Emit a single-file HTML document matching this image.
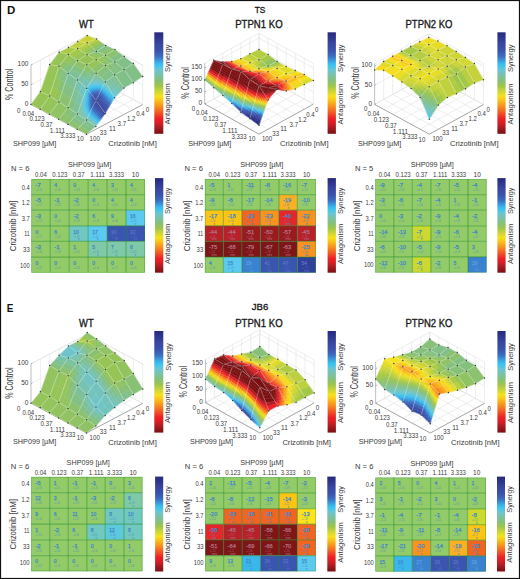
<!DOCTYPE html><html><head><meta charset="utf-8"><style>html,body{margin:0;padding:0;background:#fff;}svg{display:block}.ms{fill:none;stroke:#fff;stroke-opacity:.45;stroke-width:.55}circle{fill:#3a3a3a}.gl{stroke:#1e8c28;stroke-opacity:.45;stroke-width:1.25}</style></head><body>
<svg width="520" height="579" viewBox="0 0 520 579" font-family="Liberation Sans, sans-serif" fill="#3a3a3a">
<defs><linearGradient id="cm" x1="0" y1="0" x2="0" y2="1"><stop offset="0.000" stop-color="#262a7e"/><stop offset="0.045" stop-color="#2d348a"/><stop offset="0.113" stop-color="#3946a0"/><stop offset="0.180" stop-color="#3a53ab"/><stop offset="0.236" stop-color="#3a6dc0"/><stop offset="0.270" stop-color="#3b90d8"/><stop offset="0.304" stop-color="#39b5ea"/><stop offset="0.330" stop-color="#3ec4ef"/><stop offset="0.375" stop-color="#6cc5d0"/><stop offset="0.426" stop-color="#7bc1a5"/><stop offset="0.477" stop-color="#86c07a"/><stop offset="0.528" stop-color="#9cc64a"/><stop offset="0.579" stop-color="#cbd43a"/><stop offset="0.630" stop-color="#f4e21a"/><stop offset="0.667" stop-color="#fbc51a"/><stop offset="0.728" stop-color="#f6921e"/><stop offset="0.789" stop-color="#f15a25"/><stop offset="0.851" stop-color="#ec1f26"/><stop offset="0.882" stop-color="#e01e25"/><stop offset="0.924" stop-color="#b51f25"/><stop offset="0.973" stop-color="#8b1519"/><stop offset="1.000" stop-color="#7a1012"/></linearGradient></defs>
<rect x="0" y="0" width="520" height="579" fill="#fff"/>
<line x1="87.2" y1="74.8" x2="31" y2="104.4" stroke="#dcdcdc" stroke-width="0.5"/>
<line x1="87.2" y1="74.8" x2="142.7" y2="104.6" stroke="#dcdcdc" stroke-width="0.5"/>
<line x1="96.5" y1="79.8" x2="40.2" y2="109.3" stroke="#dcdcdc" stroke-width="0.5"/>
<line x1="77.8" y1="79.7" x2="133.3" y2="109.6" stroke="#dcdcdc" stroke-width="0.5"/>
<line x1="105.7" y1="84.7" x2="49.5" y2="114.3" stroke="#dcdcdc" stroke-width="0.5"/>
<line x1="68.5" y1="84.7" x2="124" y2="114.5" stroke="#dcdcdc" stroke-width="0.5"/>
<line x1="115" y1="89.7" x2="58.7" y2="119.3" stroke="#dcdcdc" stroke-width="0.5"/>
<line x1="59.1" y1="89.6" x2="114.6" y2="119.4" stroke="#dcdcdc" stroke-width="0.5"/>
<line x1="124.2" y1="94.7" x2="68" y2="124.3" stroke="#dcdcdc" stroke-width="0.5"/>
<line x1="49.7" y1="94.5" x2="105.2" y2="124.3" stroke="#dcdcdc" stroke-width="0.5"/>
<line x1="133.4" y1="99.6" x2="77.2" y2="129.2" stroke="#dcdcdc" stroke-width="0.5"/>
<line x1="40.4" y1="99.4" x2="95.8" y2="129.3" stroke="#dcdcdc" stroke-width="0.5"/>
<line x1="142.7" y1="104.6" x2="86.5" y2="134.2" stroke="#dcdcdc" stroke-width="0.5"/>
<line x1="31" y1="104.4" x2="86.5" y2="134.2" stroke="#dcdcdc" stroke-width="0.5"/>
<line x1="87.2" y1="74.8" x2="87.2" y2="35.4" stroke="#dcdcdc" stroke-width="0.5"/>
<line x1="87.2" y1="74.8" x2="87.2" y2="35.4" stroke="#dcdcdc" stroke-width="0.5"/>
<line x1="77.8" y1="79.7" x2="77.8" y2="40.3" stroke="#dcdcdc" stroke-width="0.5"/>
<line x1="96.5" y1="79.8" x2="96.5" y2="40.4" stroke="#dcdcdc" stroke-width="0.5"/>
<line x1="68.5" y1="84.7" x2="68.5" y2="45.3" stroke="#dcdcdc" stroke-width="0.5"/>
<line x1="105.7" y1="84.7" x2="105.7" y2="45.3" stroke="#dcdcdc" stroke-width="0.5"/>
<line x1="59.1" y1="89.6" x2="59.1" y2="50.2" stroke="#dcdcdc" stroke-width="0.5"/>
<line x1="115" y1="89.7" x2="115" y2="50.3" stroke="#dcdcdc" stroke-width="0.5"/>
<line x1="49.7" y1="94.5" x2="49.7" y2="55.1" stroke="#dcdcdc" stroke-width="0.5"/>
<line x1="124.2" y1="94.7" x2="124.2" y2="55.3" stroke="#dcdcdc" stroke-width="0.5"/>
<line x1="40.4" y1="99.4" x2="40.4" y2="60" stroke="#dcdcdc" stroke-width="0.5"/>
<line x1="133.4" y1="99.6" x2="133.4" y2="60.2" stroke="#dcdcdc" stroke-width="0.5"/>
<line x1="31" y1="104.4" x2="31" y2="65" stroke="#dcdcdc" stroke-width="0.5"/>
<line x1="142.7" y1="104.6" x2="142.7" y2="65.2" stroke="#dcdcdc" stroke-width="0.5"/>
<polyline points="31,104.4 87.2,74.8 142.7,104.6" fill="none" stroke="#dcdcdc" stroke-width="0.5"/>
<polyline points="31,84.7 87.2,55.1 142.7,84.9" fill="none" stroke="#dcdcdc" stroke-width="0.5"/>
<polyline points="31,65 87.2,35.4 142.7,65.2" fill="none" stroke="#dcdcdc" stroke-width="0.5"/>
<polyline points="31,65 87.2,35.4 142.7,65.2" fill="none" stroke="#dcdcdc" stroke-width="0.5"/>
<line x1="31" y1="104.4" x2="31" y2="65" stroke="#b0b0b0" stroke-width="0.7"/>
<polyline points="31,104.4 86.5,134.2 142.7,104.6" fill="none" stroke="#8a8a8a" stroke-width="0.7"/>
<g stroke-linejoin="round" stroke-width="0.45">
<path d="M87.2 35.4l9.3 3.5-9.4 3.9-9.3-1.2z" fill="#cad43a" stroke="#cad43a"/>
<path d="M87.2 35.4l3.1 1.2 3.1 1.1 3.1 1.2-3.2 1.3-3.1 1.3-3.1 1.3-3.1-.4-3.1-.4-3.1-.4 3.2-2 3.1-2.1z" class="ms"/>
<circle cx="87.2" cy="35.4" r="0.75"/>
<path d="M77.8 41.6l9.3 1.2-9.4 5.7-9.2-1z" fill="#c0d13e" stroke="#c0d13e"/>
<path d="M77.8 41.6l3.1 .4 3.1 .4 3.1 .4-3.1 1.9-3.2 1.9-3.1 1.9-3.1-.3-3.1-.4-3-.3 3.1-2 3.1-1.9z" class="ms"/>
<circle cx="77.8" cy="41.6" r="0.75"/>
<path d="M96.5 38.9l2.3 1.7-9.4 4.4-2.3-2.2z" fill="#bccf3f" stroke="#bccf3f"/>
<path d="M98.8 40.6l2.3 1.6-9.4 5-2.3-2.2z" fill="#a0c749" stroke="#a0c749"/>
<path d="M101.1 42.2l2.3 1.7-9.4 5.5-2.3-2.2z" fill="#91c363" stroke="#91c363"/>
<path d="M103.4 43.9l2.3 1.6-9.4 6.1-2.3-2.2z" fill="#85c07f" stroke="#85c07f"/>
<path d="M96.5 38.9l3 2.2 3.1 2.2 3.1 2.2-3.1 2-3.1 2.1-3.2 2-3.1-2.9-3-3-3.1-2.9 3.1-1.3 3.1-1.3z" class="ms"/>
<circle cx="96.5" cy="38.9" r="0.75"/>
<path d="M68.5 47.5l9.2 1-9.4 6-9.2-2.3z" fill="#abcb45" stroke="#abcb45"/>
<path d="M68.5 47.5l3 .3 3.1 .4 3.1 .3-3.1 2-3.1 2-3.2 2-3-.8-3.1-.7-3.1-.8 3.1-1.6 3.1-1.5z" class="ms"/>
<circle cx="68.5" cy="47.5" r="0.75"/>
<path d="M87.1 42.8l2.3 2.2-3.1 1.7-2.3-2z" fill="#bacf40" stroke="#bacf40"/>
<path d="M89.4 45l2.3 2.2-3.1 1.5-2.3-2z" fill="#a1c748" stroke="#a1c748"/>
<path d="M84 44.7l2.3 2-3.2 1.7-2.3-1.8z" fill="#b6ce41" stroke="#b6ce41"/>
<path d="M91.7 47.2l2.3 2.2-3.1 1.3-2.3-2z" fill="#92c35f" stroke="#92c35f"/>
<path d="M86.3 46.7l2.3 2-3.1 1.5-2.4-1.8z" fill="#a3c848" stroke="#a3c848"/>
<path d="M80.8 46.6l2.3 1.8-3.1 1.7-2.3-1.6z" fill="#b2cd42" stroke="#b2cd42"/>
<path d="M94 49.4l2.3 2.2-3.1 1.1-2.3-2z" fill="#87c079" stroke="#87c079"/>
<path d="M88.6 48.7l2.3 2-3.1 1.3-2.3-1.8z" fill="#96c457" stroke="#96c457"/>
<path d="M83.1 48.4l2.4 1.8-3.2 1.5-2.3-1.6z" fill="#a5c947" stroke="#a5c947"/>
<path d="M90.9 50.7l2.3 2-3.1 1-2.3-1.7z" fill="#8dc26a" stroke="#8dc26a"/>
<path d="M85.5 50.2l2.3 1.8-3.2 1.2-2.3-1.5z" fill="#9ac54e" stroke="#9ac54e"/>
<path d="M87.8 52l2.3 1.7-3.1 1.1-2.4-1.6z" fill="#94c45c" stroke="#94c45c"/>
<path d="M87.1 42.8l3.1 2.9 3 3 3.1 2.9-3.1 1.1-3.1 1-3.1 1.1-3.1-2.1-3.1-2.1-3.1-2.1 3.1-1.9 3.2-1.9z" class="ms"/>
<circle cx="87.1" cy="42.8" r="0.75"/>
<path d="M105.7 45.5l4.6 2-9.3 5.9-4.7-1.8z" fill="#84c083" stroke="#84c083"/>
<path d="M110.3 47.5l4.7 2.1-9.4 5.6-4.6-1.8z" fill="#8bc16f" stroke="#8bc16f"/>
<path d="M105.7 45.5l3.1 1.4 3.1 1.3 3.1 1.4-3.2 1.9-3.1 1.8-3.1 1.9-3.1-1.2-3.1-1.2-3.1-1.2 3.2-2 3.1-2.1z" class="ms"/>
<circle cx="105.7" cy="45.5" r="0.75"/>
<path d="M59.1 52.2l9.2 2.3-9.3 11.8-9.3-1.7z" fill="#97c555" stroke="#97c555"/>
<path d="M59.1 52.2l3.1 .8 3.1 .7 3 .8-3.1 3.9-3.1 4-3.1 3.9-3.1-.6-3.1-.5-3.1-.6 3.1-4.1 3.2-4.2z" class="ms"/>
<circle cx="59.1" cy="52.2" r="0.75"/>
<path d="M77.7 48.5l4.6 3.2-9.3 5.9-4.7-3.1z" fill="#a2c848" stroke="#a2c848"/>
<path d="M82.3 51.7l4.7 3.1-9.4 5.9-4.6-3.1z" fill="#97c556" stroke="#97c556"/>
<path d="M77.7 48.5l3.1 2.1 3.1 2.1 3.1 2.1-3.2 2-3.1 1.9-3.1 2-3.1-2.1-3.1-2-3.1-2.1 3.2-2 3.1-2z" class="ms"/>
<circle cx="77.7" cy="48.5" r="0.75"/>
<path d="M96.3 51.6l4.7 1.8-4.7 1.9-4.7-2.1z" fill="#87c079" stroke="#87c079"/>
<path d="M101 53.4l4.6 1.8-4.7 2.2-4.6-2.1z" fill="#8ec268" stroke="#8ec268"/>
<path d="M91.6 53.2l4.7 2.1-4.7 2-4.6-2.5z" fill="#91c362" stroke="#91c362"/>
<path d="M96.3 55.3l4.6 2.1-4.7 2.3-4.6-2.4z" fill="#95c459" stroke="#95c459"/>
<path d="M96.3 51.6l3.1 1.2 3.1 1.2 3.1 1.2-3.1 1.5-3.2 1.5-3.1 1.5-3.1-1.6-3.1-1.7-3-1.6 3.1-1.1 3.1-1z" class="ms"/>
<circle cx="96.3" cy="51.6" r="0.75"/>
<path d="M115 49.6l4.6 3.5-9.4 5.5-4.6-3.4z" fill="#8bc16f" stroke="#8bc16f"/>
<path d="M119.6 53.1l4.6 3.4-9.4 5.5-4.6-3.4z" fill="#84c083" stroke="#84c083"/>
<path d="M115 49.6l3 2.3 3.1 2.3 3.1 2.3-3.1 1.8-3.1 1.9-3.2 1.8-3.1-2.3-3-2.2-3.1-2.3 3.1-1.9 3.1-1.8z" class="ms"/>
<circle cx="115" cy="49.6" r="0.75"/>
<path d="M49.7 64.6l9.3 1.7-9.4 29.8-9.2-4.7z" fill="#97c555" stroke="#97c555"/>
<path d="M49.7 64.6l3.1 .6 3.1 .5 3.1 .6-3.2 9.9-3.1 10-3.1 9.9-3.1-1.6-3.1-1.5-3-1.6 3.1-8.9 3.1-9z" class="ms"/>
<circle cx="49.7" cy="64.6" r="0.75"/>
<path d="M68.3 54.5l4.7 3.1-4.7 6.2-4.6-3.4z" fill="#96c457" stroke="#96c457"/>
<path d="M73 57.6l4.6 3.1-4.7 6.4-4.6-3.3z" fill="#8dc26a" stroke="#8dc26a"/>
<path d="M63.7 60.4l4.6 3.4-4.7 6.2-4.6-3.7z" fill="#8dc26a" stroke="#8dc26a"/>
<path d="M68.3 63.8l4.6 3.3-4.7 6.5-4.6-3.6z" fill="#83c084" stroke="#83c084"/>
<path d="M68.3 54.5l3.1 2.1 3.1 2 3.1 2.1-3.1 4.3-3.2 4.3-3.1 4.3-3.1-2.4-3-2.5-3.1-2.4 3.1-3.9 3.1-4z" class="ms"/>
<circle cx="68.3" cy="54.5" r="0.75"/>
<path d="M87 54.8l9.2 4.9-9.4 5.1-9.2-4.1z" fill="#96c457" stroke="#96c457"/>
<path d="M87 54.8l3 1.6 3.1 1.7 3.1 1.6-3.1 1.7-3.1 1.7-3.2 1.7-3-1.4-3.1-1.4-3.1-1.3 3.1-2 3.1-1.9z" class="ms"/>
<circle cx="87" cy="54.8" r="0.75"/>
<path d="M105.6 55.2l4.6 3.4-4.7 2-4.6-3.2z" fill="#8ec268" stroke="#8ec268"/>
<path d="M110.2 58.6l4.6 3.4-4.7 1.7-4.6-3.1z" fill="#86c07b" stroke="#86c07b"/>
<path d="M100.9 57.4l4.6 3.2-4.7 2-4.6-2.9z" fill="#94c45b" stroke="#94c45b"/>
<path d="M105.5 60.6l4.6 3.1-4.6 1.8-4.7-2.9z" fill="#8ec268" stroke="#8ec268"/>
<path d="M105.6 55.2l3.1 2.3 3 2.2 3.1 2.3-3.1 1.2-3.1 1.1-3.1 1.2-3.1-1.9-3.1-2-3.1-1.9 3.1-1.5 3.2-1.5z" class="ms"/>
<circle cx="105.6" cy="55.2" r="0.75"/>
<path d="M124.2 56.5l9.2 7-9.3 6.1-9.3-7.6z" fill="#83c087" stroke="#83c087"/>
<path d="M124.2 56.5l3.1 2.3 3.1 2.4 3 2.3-3.1 2-3.1 2.1-3.1 2-3.1-2.5-3.1-2.6-3.1-2.5 3.2-1.8 3.1-1.9z" class="ms"/>
<circle cx="124.2" cy="56.5" r="0.75"/>
<path d="M40.4 91.4l9.2 4.7-9.4 13.2-9.2-4.9z" fill="#97c555" stroke="#97c555"/>
<path d="M40.4 91.4l3 1.6 3.1 1.5 3.1 1.6-3.1 4.4-3.1 4.4-3.2 4.4-3.1-1.6-3-1.7-3.1-1.6 3.1-4.3 3.1-4.4z" class="ms"/>
<circle cx="40.4" cy="91.4" r="0.75"/>
<circle cx="31" cy="104.4" r="0.75"/>
<path d="M59 66.3l4.6 3.7-3.1 9.6-4.7-3.4z" fill="#8cc26d" stroke="#8cc26d"/>
<path d="M55.8 76.2l4.7 3.4-3.2 9.7-4.6-3.1z" fill="#92c35f" stroke="#92c35f"/>
<path d="M63.6 70l4.6 3.6-3.1 9.4-4.6-3.4z" fill="#83c087" stroke="#83c087"/>
<path d="M52.7 86.2l4.6 3.1-3.1 9.7-4.6-2.9z" fill="#99c551" stroke="#99c551"/>
<path d="M60.5 79.6l4.6 3.4-3.1 9.5-4.7-3.2z" fill="#89c174" stroke="#89c174"/>
<path d="M57.3 89.3l4.7 3.2-3.1 9.4-4.7-2.9z" fill="#92c35f" stroke="#92c35f"/>
<path d="M59 66.3l3.1 2.4 3 2.5 3.1 2.4-3.1 9.4-3.1 9.5-3.1 9.4-3.1-1.9-3.1-2-3.1-1.9 3.1-9.9 3.1-10z" class="ms"/>
<circle cx="59" cy="66.3" r="0.75"/>
<path d="M77.6 60.7l9.2 4.1-3.1 5.1-9.2-4.9z" fill="#8fc267" stroke="#8fc267"/>
<path d="M74.5 65l9.2 4.9-3.1 5-9.3-5.6z" fill="#84c080" stroke="#84c080"/>
<path d="M71.3 69.3l9.3 5.6-3.1 5.1-9.3-6.4z" fill="#7ec198" stroke="#7ec198"/>
<path d="M77.6 60.7l3.1 1.3 3.1 1.4 3 1.4-3.1 5.1-3.1 5-3.1 5.1-3.1-2.1-3.1-2.2-3.1-2.1 3.1-4.3 3.2-4.3z" class="ms"/>
<circle cx="77.6" cy="60.7" r="0.75"/>
<path d="M96.2 59.7l4.6 2.9-9.3 6.4-4.7-4.2z" fill="#95c459" stroke="#95c459"/>
<path d="M100.8 62.6l4.7 2.9-9.4 7.8-4.6-4.3z" fill="#8dc26b" stroke="#8dc26b"/>
<path d="M96.2 59.7l3.1 1.9 3.1 2 3.1 1.9-3.2 2.6-3.1 2.6-3.1 2.6-3.1-2.8-3.1-2.9-3.1-2.8 3.2-1.7 3.1-1.7z" class="ms"/>
<circle cx="96.2" cy="59.7" r="0.75"/>
<path d="M114.8 62l4.7 3.8-4.7 2.2-4.7-4.3z" fill="#84c083" stroke="#84c083"/>
<path d="M119.5 65.8l4.6 3.8-4.7 2.6-4.6-4.2z" fill="#83c084" stroke="#83c084"/>
<path d="M110.1 63.7l4.7 4.3-4.7 2.1-4.6-4.6z" fill="#88c076" stroke="#88c076"/>
<path d="M114.8 68l4.6 4.2-4.7 2.6-4.6-4.7z" fill="#84c083" stroke="#84c083"/>
<path d="M114.8 62l3.1 2.5 3.1 2.6 3.1 2.5-3.1 1.7-3.2 1.8-3.1 1.7-3.1-3.1-3.1-3.1-3-3.1 3.1-1.2 3.1-1.1z" class="ms"/>
<circle cx="114.8" cy="62" r="0.75"/>
<path d="M133.4 63.5l9.3 13-9.4 6.3-9.2-13.2z" fill="#83c087" stroke="#83c087"/>
<path d="M133.4 63.5l3.1 4.3 3.1 4.4 3.1 4.3-3.1 2.1-3.1 2.1-3.2 2.1-3.1-4.4-3-4.4-3.1-4.4 3.1-2 3.1-2.1z" class="ms"/>
<circle cx="133.4" cy="63.5" r="0.75"/>
<circle cx="142.7" cy="76.5" r="0.75"/>
<path d="M49.6 96.1l9.3 5.8-9.4 12.4-9.3-5z" fill="#95c45a" stroke="#95c45a"/>
<path d="M49.6 96.1l3.1 1.9 3.1 2 3.1 1.9-3.2 4.1-3.1 4.2-3.1 4.1-3.1-1.6-3.1-1.7-3.1-1.7 3.2-4.4 3.1-4.4z" class="ms"/>
<circle cx="49.6" cy="96.1" r="0.75"/>
<circle cx="40.2" cy="109.3" r="0.75"/>
<path d="M68.2 73.6l9.3 6.4-3.2 9.2-9.2-6.2z" fill="#7ec199" stroke="#7ec199"/>
<path d="M65.1 83l9.2 6.2-3.1 9.3-9.2-6z" fill="#83c085" stroke="#83c085"/>
<path d="M62 92.5l9.2 6-3.1 9.2-9.2-5.8z" fill="#8bc170" stroke="#8bc170"/>
<path d="M68.2 73.6l3.1 2.1 3.1 2.2 3.1 2.1-3.2 9.2-3.1 9.3-3.1 9.2-3.1-1.9-3.1-2-3-1.9 3.1-9.4 3.1-9.5z" class="ms"/>
<circle cx="68.2" cy="73.6" r="0.75"/>
<path d="M86.8 64.8l4.7 4.2-3.2 5.1-4.6-4.2z" fill="#8cc26c" stroke="#8cc26c"/>
<path d="M83.7 69.9l4.6 4.2-3.1 5-4.6-4.2z" fill="#82c08a" stroke="#82c08a"/>
<path d="M91.5 69l4.6 4.3-3.1 5-4.7-4.2z" fill="#83c085" stroke="#83c085"/>
<path d="M80.6 74.9l4.6 4.2-3.1 5.1-4.6-4.2z" fill="#7bc1a6" stroke="#7bc1a6"/>
<path d="M88.3 74.1l4.7 4.2-3.2 5-4.6-4.2z" fill="#7cc1a1" stroke="#7cc1a1"/>
<path d="M85.2 79.1l4.6 4.2-3.1 5-4.6-4.1z" fill="#73c3bd" stroke="#73c3bd"/>
<path d="M86.8 64.8l3.1 2.8 3.1 2.9 3.1 2.8-3.1 5-3.2 5-3.1 5-3.1-2.8-3-2.7-3.1-2.8 3.1-5.1 3.1-5z" class="ms"/>
<circle cx="86.8" cy="64.8" r="0.75"/>
<path d="M105.5 65.5l4.6 4.6-9.4 7.5-4.6-4.3z" fill="#86c07c" stroke="#86c07c"/>
<path d="M110.1 70.1l4.6 4.7-9.4 7.1-4.6-4.3z" fill="#82c08a" stroke="#82c08a"/>
<path d="M105.5 65.5l3 3.1 3.1 3.1 3.1 3.1-3.1 2.4-3.1 2.3-3.2 2.4-3-2.9-3.1-2.8-3.1-2.9 3.1-2.6 3.1-2.6z" class="ms"/>
<circle cx="105.5" cy="65.5" r="0.75"/>
<path d="M124.1 69.6l9.2 13.2-9.3 5.2-9.3-13.2z" fill="#82c08a" stroke="#82c08a"/>
<path d="M124.1 69.6l3.1 4.4 3 4.4 3.1 4.4-3.1 1.7-3.1 1.8-3.1 1.7-3.1-4.4-3.1-4.4-3.1-4.4 3.1-1.7 3.2-1.8z" class="ms"/>
<circle cx="124.1" cy="69.6" r="0.75"/>
<circle cx="133.3" cy="82.8" r="0.75"/>
<path d="M58.9 101.9l9.2 5.8-9.4 11.6-9.2-5z" fill="#90c364" stroke="#90c364"/>
<path d="M58.9 101.9l3 1.9 3.1 2 3.1 1.9-3.1 3.9-3.1 3.8-3.2 3.9-3.1-1.7-3-1.6-3.1-1.7 3.1-4.1 3.1-4.2z" class="ms"/>
<circle cx="58.9" cy="101.9" r="0.75"/>
<circle cx="49.5" cy="114.3" r="0.75"/>
<path d="M77.5 80l4.6 4.2-3.1 8.9-4.7-3.9z" fill="#79c1aa" stroke="#79c1aa"/>
<path d="M74.3 89.2l4.7 3.9-3.2 8.9-4.6-3.5z" fill="#7fc197" stroke="#7fc197"/>
<path d="M82.1 84.2l4.6 4.1-3.1 8.6-4.6-3.8z" fill="#71c4c1" stroke="#71c4c1"/>
<path d="M71.2 98.5l4.6 3.5-3.1 8.9-4.6-3.2z" fill="#84c083" stroke="#84c083"/>
<path d="M79 93.1l4.6 3.8-3.1 8.5-4.7-3.4z" fill="#79c2ac" stroke="#79c2ac"/>
<path d="M75.8 102l4.7 3.4-3.1 8.6-4.7-3.1z" fill="#7fc197" stroke="#7fc197"/>
<path d="M77.5 80l3.1 2.8 3 2.7 3.1 2.8-3.1 8.6-3.1 8.5-3.1 8.6-3.1-2.1-3.1-2.1-3.1-2.1 3.1-9.2 3.1-9.3z" class="ms"/>
<circle cx="77.5" cy="80" r="0.75"/>
<path d="M96.1 73.3l1 1-.8 1.4-1.1-1z" fill="#82c088" stroke="#82c088"/>
<path d="M95.2 74.7l1.1 1-.9 1.4-1-1.1z" fill="#80c191" stroke="#80c191"/>
<path d="M97.1 74.3l1 .9-.8 1.4-1-.9z" fill="#82c08b" stroke="#82c08b"/>
<path d="M94.4 76l1 1.1-.8 1.4-1.1-1.1z" fill="#7ec19a" stroke="#7ec19a"/>
<path d="M96.3 75.7l1 .9-.9 1.5-1-1z" fill="#7fc196" stroke="#7fc196"/>
<path d="M98.1 75.2l1.1 1-.9 1.4-1-1z" fill="#81c08f" stroke="#81c08f"/>
<path d="M93.5 77.4l1.1 1.1-.9 1.4-1-1.1z" fill="#7cc1a3" stroke="#7cc1a3"/>
<path d="M95.4 77.1l1 1-.8 1.4-1-1z" fill="#7cc1a2" stroke="#7cc1a2"/>
<path d="M97.3 76.6l1 1-.8 1.5-1.1-1z" fill="#7dc19c" stroke="#7dc19c"/>
<path d="M99.2 76.2l1 .9-.9 1.5-1-1z" fill="#80c192" stroke="#80c192"/>
<path d="M92.7 78.8l1 1.1-.8 1.4-1.1-1.2z" fill="#79c2ab" stroke="#79c2ab"/>
<path d="M94.6 78.5l1 1-.9 1.5-1-1.1z" fill="#78c2ad" stroke="#78c2ad"/>
<path d="M96.4 78.1l1.1 1-.9 1.5-1-1.1z" fill="#7ac1a9" stroke="#7ac1a9"/>
<path d="M98.3 77.6l1 1-.8 1.5-1-1z" fill="#7cc1a1" stroke="#7cc1a1"/>
<path d="M100.2 77.1l1 1-.8 1.5-1.1-1z" fill="#7fc195" stroke="#7fc195"/>
<path d="M91.8 80.1l1.1 1.2-.9 1.4-1-1.2z" fill="#76c2b4" stroke="#76c2b4"/>
<path d="M93.7 79.9l1 1.1-.8 1.4-1-1.1z" fill="#74c3b8" stroke="#74c3b8"/>
<path d="M95.6 79.5l1 1.1-.8 1.5-1.1-1.1z" fill="#75c3b7" stroke="#75c3b7"/>
<path d="M97.5 79.1l1 1-.9 1.5-1-1z" fill="#77c2b1" stroke="#77c2b1"/>
<path d="M99.3 78.6l1.1 1-.9 1.6-1-1.1z" fill="#7ac1a7" stroke="#7ac1a7"/>
<path d="M91 81.5l1 1.2-.8 1.4-1.1-1.2z" fill="#73c3bd" stroke="#73c3bd"/>
<path d="M101.2 78.1l1.1 .9-.9 1.6-1-1z" fill="#7ec198" stroke="#7ec198"/>
<path d="M92.9 81.3l1 1.1-.9 1.4-1-1.1z" fill="#71c4c3" stroke="#71c4c3"/>
<path d="M94.7 81l1.1 1.1-.9 1.4-1-1.1z" fill="#70c4c4" stroke="#70c4c4"/>
<path d="M96.6 80.6l1 1-.8 1.5-1-1z" fill="#71c4c1" stroke="#71c4c1"/>
<path d="M98.5 80.1l1 1.1-.8 1.5-1.1-1.1z" fill="#74c3b9" stroke="#74c3b9"/>
<path d="M90.1 82.9l1.1 1.2-.9 1.4-1-1.3z" fill="#70c4c6" stroke="#70c4c6"/>
<path d="M100.4 79.6l1 1-.8 1.6-1.1-1z" fill="#78c2ac" stroke="#78c2ac"/>
<path d="M92 82.7l1 1.1-.8 1.5-1-1.2z" fill="#6dc5ce" stroke="#6dc5ce"/>
<path d="M102.3 79l1 1-.9 1.6-1-1z" fill="#7dc19b" stroke="#7dc19b"/>
<path d="M93.9 82.4l1 1.1-.8 1.5-1.1-1.2z" fill="#6ac5d1" stroke="#6ac5d1"/>
<path d="M95.8 82.1l1 1-.9 1.6-1-1.2z" fill="#6cc5d0" stroke="#6cc5d0"/>
<path d="M97.6 81.6l1.1 1.1-.9 1.5-1-1.1z" fill="#6ec5cb" stroke="#6ec5cb"/>
<path d="M89.3 84.2l1 1.3-.8 1.4-1.1-1.3z" fill="#6dc5cf" stroke="#6dc5cf"/>
<path d="M99.5 81.2l1.1 1-.9 1.6-1-1.1z" fill="#71c4c1" stroke="#71c4c1"/>
<path d="M91.2 84.1l1 1.2-.9 1.4-1-1.2z" fill="#61c5d7" stroke="#61c5d7"/>
<path d="M101.4 80.6l1 1-.8 1.6-1-1z" fill="#77c2b2" stroke="#77c2b2"/>
<path d="M93 83.8l1.1 1.2-.9 1.5-1-1.2z" fill="#5ac5dc" stroke="#5ac5dc"/>
<path d="M103.3 80l1 .9-.8 1.7-1.1-1z" fill="#7dc19f" stroke="#7dc19f"/>
<path d="M94.9 83.5l1 1.2-.8 1.5-1-1.2z" fill="#59c5dd" stroke="#59c5dd"/>
<path d="M96.8 83.1l1 1.1-.8 1.6-1.1-1.1z" fill="#5dc5da" stroke="#5dc5da"/>
<path d="M88.4 85.6l1.1 1.3-.9 1.4-1-1.3z" fill="#63c5d6" stroke="#63c5d6"/>
<path d="M98.7 82.7l1 1.1-.9 1.5-1-1.1z" fill="#66c5d4" stroke="#66c5d4"/>
<path d="M90.3 85.5l1 1.2-.8 1.4-1-1.2z" fill="#54c4e0" stroke="#54c4e0"/>
<path d="M100.6 82.2l1 1-.9 1.6-1-1z" fill="#6fc4c8" stroke="#6fc4c8"/>
<path d="M92.2 85.3l1 1.2-.8 1.4-1.1-1.2z" fill="#4ac4e7" stroke="#4ac4e7"/>
<path d="M102.4 81.6l1.1 1-.9 1.6-1-1z" fill="#75c3b7" stroke="#75c3b7"/>
<path d="M94.1 85l1 1.2-.9 1.5-1-1.2z" fill="#46c4ea" stroke="#46c4ea"/>
<path d="M104.3 80.9l1 1-.8 1.7-1-1z" fill="#7cc1a2" stroke="#7cc1a2"/>
<path d="M95.9 84.7l1.1 1.1-.9 1.5-1-1.1z" fill="#47c4e9" stroke="#47c4e9"/>
<path d="M87.6 87l1 1.3-.9 1.4-1-1.4z" fill="#58c5dd" stroke="#58c5dd"/>
<path d="M97.8 84.2l1 1.1-.8 1.6-1-1.1z" fill="#4ec4e4" stroke="#4ec4e4"/>
<path d="M89.5 86.9l1 1.2-.9 1.5-1-1.3z" fill="#46c4e9" stroke="#46c4e9"/>
<path d="M99.7 83.8l1 1-.8 1.6-1.1-1.1z" fill="#5ac5dc" stroke="#5ac5dc"/>
<path d="M91.3 86.7l1.1 1.2-.9 1.5-1-1.3z" fill="#3dc2ee" stroke="#3dc2ee"/>
<path d="M101.6 83.2l1 1-.8 1.7-1.1-1.1z" fill="#6cc5d0" stroke="#6cc5d0"/>
<path d="M93.2 86.5l1 1.2-.8 1.5-1-1.3z" fill="#3cbeed" stroke="#3cbeed"/>
<path d="M103.5 82.6l1 1-.9 1.7-1-1.1z" fill="#73c3bd" stroke="#73c3bd"/>
<path d="M95.1 86.2l1 1.1-.8 1.6-1.1-1.2z" fill="#3cbded" stroke="#3cbded"/>
<path d="M97 85.8l1 1.1-.9 1.6-1-1.2z" fill="#3cbfed" stroke="#3cbfed"/>
<path d="M88.6 88.3l1 1.3-.8 1.4-1.1-1.3z" fill="#3dc1ee" stroke="#3dc1ee"/>
<path d="M98.8 85.3l1.1 1.1-.9 1.7-1-1.2z" fill="#3fc4ee" stroke="#3fc4ee"/>
<path d="M90.5 88.1l1 1.3-.8 1.5-1.1-1.3z" fill="#3ab9eb" stroke="#3ab9eb"/>
<path d="M100.7 84.8l1.1 1.1-.9 1.6-1-1.1z" fill="#4ec4e4" stroke="#4ec4e4"/>
<path d="M92.4 87.9l1 1.3-.9 1.5-1-1.3z" fill="#39b1e8" stroke="#39b1e8"/>
<path d="M102.6 84.2l1 1.1-.8 1.6-1-1z" fill="#63c5d6" stroke="#63c5d6"/>
<path d="M94.2 87.7l1.1 1.2-.9 1.5-1-1.2z" fill="#39ade6" stroke="#39ade6"/>
<path d="M96.1 87.3l1 1.2-.8 1.6-1-1.2z" fill="#39aee7" stroke="#39aee7"/>
<path d="M98 86.9l1 1.2-.8 1.6-1.1-1.2z" fill="#39b5ea" stroke="#39b5ea"/>
<path d="M89.6 89.6l1.1 1.3-.9 1.5-1-1.4z" fill="#3aaae5" stroke="#3aaae5"/>
<path d="M99.9 86.4l1 1.1-.8 1.7-1.1-1.1z" fill="#3bbcec" stroke="#3bbcec"/>
<path d="M91.5 89.4l1 1.3-.8 1.5-1-1.3z" fill="#3a9dde" stroke="#3a9dde"/>
<path d="M101.8 85.9l1 1-.9 1.7-1-1.1z" fill="#42c4ec" stroke="#42c4ec"/>
<path d="M93.4 89.2l1 1.2-.8 1.6-1.1-1.3z" fill="#3b96db" stroke="#3b96db"/>
<path d="M95.3 88.9l1 1.2-.9 1.6-1-1.3z" fill="#3b94da" stroke="#3b94da"/>
<path d="M97.1 88.5l1.1 1.2-.9 1.6-1-1.2z" fill="#3b98dc" stroke="#3b98dc"/>
<path d="M99 88.1l1.1 1.1-.9 1.6-1-1.1z" fill="#3aa3e1" stroke="#3aa3e1"/>
<path d="M90.7 90.9l1 1.3-.9 1.5-1-1.3z" fill="#3b89d3" stroke="#3b89d3"/>
<path d="M100.9 87.5l1 1.1-.8 1.7-1-1.1z" fill="#39b3e9" stroke="#39b3e9"/>
<path d="M92.5 90.7l1.1 1.3-.9 1.5-1-1.3z" fill="#3b80cd" stroke="#3b80cd"/>
<path d="M94.4 90.4l1 1.3-.8 1.5-1-1.2z" fill="#3a7bca" stroke="#3a7bca"/>
<path d="M96.3 90.1l1 1.2-.8 1.6-1.1-1.2z" fill="#3a7dcb" stroke="#3a7dcb"/>
<path d="M98.2 89.7l1 1.1-.9 1.7-1-1.2z" fill="#3b83cf" stroke="#3b83cf"/>
<path d="M100.1 89.2l1 1.1-.9 1.7-1-1.2z" fill="#3b90d8" stroke="#3b90d8"/>
<path d="M91.7 92.2l1 1.3-.8 1.5-1.1-1.3z" fill="#3a6cbf" stroke="#3a6cbf"/>
<path d="M93.6 92l1 1.2-.9 1.6-1-1.3z" fill="#3a68bc" stroke="#3a68bc"/>
<path d="M95.4 91.7l1.1 1.2-.9 1.6-1-1.3z" fill="#3a68bc" stroke="#3a68bc"/>
<path d="M97.3 91.3l1 1.2-.8 1.6-1-1.2z" fill="#3a69bd" stroke="#3a69bd"/>
<path d="M99.2 90.8l1 1.2-.8 1.7-1.1-1.2z" fill="#3a6fc1" stroke="#3a6fc1"/>
<path d="M92.7 93.5l1 1.3-.8 1.6-1-1.4z" fill="#3a5db3" stroke="#3a5db3"/>
<path d="M94.6 93.2l1 1.3-.8 1.6-1.1-1.3z" fill="#3a5bb2" stroke="#3a5bb2"/>
<path d="M96.5 92.9l1 1.2-.9 1.7-1-1.3z" fill="#3a5cb2" stroke="#3a5cb2"/>
<path d="M98.3 92.5l1.1 1.2-.9 1.7-1-1.3z" fill="#3a5fb5" stroke="#3a5fb5"/>
<path d="M93.7 94.8l1.1 1.3-.9 1.6-1-1.3z" fill="#3a51aa" stroke="#3a51aa"/>
<path d="M95.6 94.5l1 1.3-.8 1.6-1-1.3z" fill="#3a51a9" stroke="#3a51a9"/>
<path d="M97.5 94.1l1 1.3-.8 1.7-1.1-1.3z" fill="#3a52aa" stroke="#3a52aa"/>
<path d="M94.8 96.1l1 1.3-.9 1.7-1-1.4z" fill="#394ba5" stroke="#394ba5"/>
<path d="M96.6 95.8l1.1 1.3-.9 1.6-1-1.3z" fill="#394ca5" stroke="#394ca5"/>
<path d="M95.8 97.4l1 1.3-.8 1.7-1.1-1.3z" fill="#38459f" stroke="#38459f"/>
<path d="M96.1 73.3l3.1 2.9 3.1 2.8 3 2.9-3.1 6.2-3.1 6.1-3.1 6.2-3.1-4-3.1-4-3.1-4.1 3.1-5 3.2-5z" class="ms"/>
<circle cx="96.1" cy="73.3" r="0.75"/>
<path d="M114.7 74.8l3.1 4.4-2.3 2-3.1-4.6z" fill="#81c08f" stroke="#81c08f"/>
<path d="M112.4 76.6l3.1 4.6-2.4 2-3.1-4.9z" fill="#7fc195" stroke="#7fc195"/>
<path d="M117.8 79.2l3.1 4.4-2.4 2.2-3-4.6z" fill="#80c193" stroke="#80c193"/>
<path d="M110 78.3l3.1 4.9-2.3 2-3.1-5.1z" fill="#7ec19b" stroke="#7ec19b"/>
<path d="M115.5 81.2l3 4.6-2.3 2.3-3.1-4.9z" fill="#7cc19f" stroke="#7cc19f"/>
<path d="M120.9 83.6l3.1 4.4-2.4 2.5-3.1-4.7z" fill="#7fc196" stroke="#7fc196"/>
<path d="M107.7 80.1l3.1 5.1-2.4 2-3.1-5.3z" fill="#7cc1a1" stroke="#7cc1a1"/>
<path d="M113.1 83.2l3.1 4.9-2.4 2.2-3-5.1z" fill="#78c2ac" stroke="#78c2ac"/>
<path d="M118.5 85.8l3.1 4.7-2.3 2.4-3.1-4.8z" fill="#79c1aa" stroke="#79c1aa"/>
<path d="M110.8 85.2l3 5.1-2.3 2.2-3.1-5.3z" fill="#74c3b9" stroke="#74c3b9"/>
<path d="M116.2 88.1l3.1 4.8-2.4 2.5-3.1-5.1z" fill="#72c3be" stroke="#72c3be"/>
<path d="M113.8 90.3l3.1 5.1-2.3 2.4-3.1-5.3z" fill="#6ac5d1" stroke="#6ac5d1"/>
<path d="M114.7 74.8l3.1 4.4 3.1 4.4 3.1 4.4-3.2 3.3-3.1 3.2-3.1 3.3-3.1-5.3-3.1-5.3-3.1-5.3 3.2-2.4 3.1-2.3z" class="ms"/>
<circle cx="114.7" cy="74.8" r="0.75"/>
<circle cx="124" cy="88" r="0.75"/>
<path d="M68.1 107.7l4.6 3.2-4.7 5.4-4.6-2.8z" fill="#89c174" stroke="#89c174"/>
<path d="M72.7 110.9l4.7 3.1-4.7 5.1-4.7-2.8z" fill="#84c083" stroke="#84c083"/>
<path d="M63.4 113.5l4.6 2.8-4.6 5.5-4.7-2.5z" fill="#8ec26a" stroke="#8ec26a"/>
<path d="M68 116.3l4.7 2.8-4.7 5.2-4.6-2.5z" fill="#8bc16f" stroke="#8bc16f"/>
<path d="M68.1 107.7l3.1 2.1 3.1 2.1 3.1 2.1-3.2 3.4-3.1 3.4-3.1 3.5-3.1-1.7-3.1-1.7-3.1-1.6 3.2-3.9 3.1-3.8z" class="ms"/>
<circle cx="68.1" cy="107.7" r="0.75"/>
<circle cx="58.7" cy="119.3" r="0.75"/>
<path d="M86.7 88.3l1 1.4-.8 2.2-1-1.2z" fill="#57c5de" stroke="#57c5de"/>
<path d="M85.9 90.7l1 1.2-.9 2.3-1-1.2z" fill="#60c5d8" stroke="#60c5d8"/>
<path d="M87.7 89.7l1.1 1.3-.9 2.2-1-1.3z" fill="#3dc1ee" stroke="#3dc1ee"/>
<path d="M85 93l1 1.2-.8 2.3-1-1.2z" fill="#69c5d2" stroke="#69c5d2"/>
<path d="M86.9 91.9l1 1.3-.8 2.2-1.1-1.2z" fill="#43c4eb" stroke="#43c4eb"/>
<path d="M88.8 91l1 1.4-.8 2.1-1.1-1.3z" fill="#3aa9e4" stroke="#3aa9e4"/>
<path d="M84.2 95.3l1 1.2-.9 2.3-1-1.1z" fill="#6dc5cc" stroke="#6dc5cc"/>
<path d="M86 94.2l1.1 1.2-.9 2.2-1-1.1z" fill="#4fc4e4" stroke="#4fc4e4"/>
<path d="M87.9 93.2l1.1 1.3-.9 2.2-1-1.3z" fill="#3ab7eb" stroke="#3ab7eb"/>
<path d="M89.8 92.4l1 1.3-.8 2.1-1-1.3z" fill="#3b88d3" stroke="#3b88d3"/>
<path d="M83.3 97.7l1 1.1-.8 2.2-1-1z" fill="#70c4c5" stroke="#70c4c5"/>
<path d="M85.2 96.5l1 1.1-.8 2.3-1.1-1.1z" fill="#5ac5dc" stroke="#5ac5dc"/>
<path d="M87.1 95.4l1 1.3-.9 2.1-1-1.2z" fill="#3cbfed" stroke="#3cbfed"/>
<path d="M89 94.5l1 1.3-.9 2.1-1-1.2z" fill="#3a9add" stroke="#3a9add"/>
<path d="M90.8 93.7l1.1 1.3-.9 2.1-1-1.3z" fill="#3a6bbe" stroke="#3a6bbe"/>
<path d="M82.5 100l1 1-.9 2.3-1-1z" fill="#72c3be" stroke="#72c3be"/>
<path d="M84.3 98.8l1.1 1.1-.9 2.2-1-1.1z" fill="#65c5d4" stroke="#65c5d4"/>
<path d="M86.2 97.6l1 1.2-.8 2.2-1-1.1z" fill="#43c4ec" stroke="#43c4ec"/>
<path d="M88.1 96.7l1 1.2-.8 2.1-1.1-1.2z" fill="#39ace6" stroke="#39ace6"/>
<path d="M90 95.8l1 1.3-.8 2-1.1-1.2z" fill="#3a7ccb" stroke="#3a7ccb"/>
<path d="M81.6 102.3l1 1-.8 2.3-1-.9z" fill="#75c3b6" stroke="#75c3b6"/>
<path d="M91.9 95l1 1.4-.9 2-1-1.3z" fill="#3a5db3" stroke="#3a5db3"/>
<path d="M83.5 101l1 1.1-.8 2.2-1.1-1z" fill="#6dc5cc" stroke="#6dc5cc"/>
<path d="M85.4 99.9l1 1.1-.9 2.1-1-1z" fill="#51c4e2" stroke="#51c4e2"/>
<path d="M87.2 98.8l1.1 1.2-.9 2.1-1-1.1z" fill="#3bbaec" stroke="#3bbaec"/>
<path d="M89.1 97.9l1.1 1.2-.9 2-1-1.1z" fill="#3b90d8" stroke="#3b90d8"/>
<path d="M80.8 104.7l1 .9-.9 2.3-1-.9z" fill="#77c2af" stroke="#77c2af"/>
<path d="M91 97.1l1 1.3-.8 1.9-1-1.2z" fill="#3a67bb" stroke="#3a67bb"/>
<path d="M82.6 103.3l1.1 1-.9 2.2-1-.9z" fill="#71c4c3" stroke="#71c4c3"/>
<path d="M92.9 96.4l1 1.3-.8 1.9-1.1-1.2z" fill="#3a51a9" stroke="#3a51a9"/>
<path d="M84.5 102.1l1 1-.8 2.2-1-1z" fill="#5fc5d9" stroke="#5fc5d9"/>
<path d="M86.4 101l1 1.1-.8 2-1.1-1z" fill="#3ec3ef" stroke="#3ec3ef"/>
<path d="M88.3 100l1 1.1-.8 2-1.1-1z" fill="#3aa5e2" stroke="#3aa5e2"/>
<path d="M79.9 107l1 .9-.8 2.2-1-.8z" fill="#7ac1a8" stroke="#7ac1a8"/>
<path d="M90.2 99.1l1 1.2-.9 2-1-1.2z" fill="#3a76c6" stroke="#3a76c6"/>
<path d="M81.8 105.6l1 .9-.8 2.2-1.1-.8z" fill="#74c3b9" stroke="#74c3b9"/>
<path d="M92 98.4l1.1 1.2-.9 1.9-1-1.2z" fill="#3a5ab1" stroke="#3a5ab1"/>
<path d="M83.7 104.3l1 1-.9 2.1-1-.9z" fill="#6cc5cf" stroke="#6cc5cf"/>
<path d="M93.9 97.7l1 1.4-.8 1.8-1-1.3z" fill="#394ba4" stroke="#394ba4"/>
<path d="M85.5 103.1l1.1 1-.9 2.1-1-.9z" fill="#4dc4e5" stroke="#4dc4e5"/>
<path d="M87.4 102.1l1.1 1-.9 2.1-1-1.1z" fill="#3ab8eb" stroke="#3ab8eb"/>
<path d="M79.1 109.3l1 .8-.9 2.3-1-.7z" fill="#7cc1a1" stroke="#7cc1a1"/>
<path d="M89.3 101.1l1 1.2-.8 1.9-1-1.1z" fill="#3b8dd6" stroke="#3b8dd6"/>
<path d="M80.9 107.9l1.1 .8-.9 2.2-1-.8z" fill="#77c2b0" stroke="#77c2b0"/>
<path d="M91.2 100.3l1 1.2-.8 1.9-1.1-1.1z" fill="#3a65ba" stroke="#3a65ba"/>
<path d="M82.8 106.5l1 .9-.8 2.2-1-.9z" fill="#70c4c3" stroke="#70c4c3"/>
<path d="M93.1 99.6l1 1.3-.9 1.9-1-1.3z" fill="#3a50a9" stroke="#3a50a9"/>
<path d="M84.7 105.3l1 .9-.8 2.1-1.1-.9z" fill="#5ec5d9" stroke="#5ec5d9"/>
<path d="M94.9 99.1l1.1 1.3-.9 1.8-1-1.3z" fill="#38459f" stroke="#38459f"/>
<path d="M86.6 104.1l1 1.1-.9 2-1-1z" fill="#3ec3ef" stroke="#3ec3ef"/>
<path d="M78.2 111.7l1 .7-.8 2.3-1-.7z" fill="#7ec19a" stroke="#7ec19a"/>
<path d="M88.5 103.1l1 1.1-.9 2-1-1z" fill="#3aa4e2" stroke="#3aa4e2"/>
<path d="M80.1 110.1l1 .8-.8 2.2-1.1-.7z" fill="#7ac1a7" stroke="#7ac1a7"/>
<path d="M90.3 102.3l1.1 1.1-.9 1.9-1-1.1z" fill="#3a75c6" stroke="#3a75c6"/>
<path d="M82 108.7l1 .9-.9 2.1-1-.8z" fill="#74c3b8" stroke="#74c3b8"/>
<path d="M92.2 101.5l1 1.3-.8 1.8-1-1.2z" fill="#3a5ab0" stroke="#3a5ab0"/>
<path d="M83.8 107.4l1.1 .9-.9 2.1-1-.8z" fill="#6dc5cd" stroke="#6dc5cd"/>
<path d="M94.1 100.9l1 1.3-.8 1.8-1.1-1.2z" fill="#394ba4" stroke="#394ba4"/>
<path d="M85.7 106.2l1 1-.8 2-1-.9z" fill="#4fc4e3" stroke="#4fc4e3"/>
<path d="M87.6 105.2l1 1-.8 2-1.1-1z" fill="#3ab9eb" stroke="#3ab9eb"/>
<path d="M79.2 112.4l1.1 .7-.9 2.2-1-.6z" fill="#7dc19d" stroke="#7dc19d"/>
<path d="M89.5 104.2l1 1.1-.8 1.9-1.1-1z" fill="#3b8fd7" stroke="#3b8fd7"/>
<path d="M81.1 110.9l1 .8-.8 2.2-1-.8z" fill="#79c2ac" stroke="#79c2ac"/>
<path d="M91.4 103.4l1 1.2-.9 1.8-1-1.1z" fill="#3a66bb" stroke="#3a66bb"/>
<path d="M83 109.6l1 .8-.8 2.1-1.1-.8z" fill="#72c3c0" stroke="#72c3c0"/>
<path d="M93.2 102.8l1.1 1.2-.9 1.8-1-1.2z" fill="#3a51a9" stroke="#3a51a9"/>
<path d="M84.9 108.3l1 .9-.9 2.1-1-.9z" fill="#63c5d6" stroke="#63c5d6"/>
<path d="M86.7 107.2l1.1 1-.9 1.9-1-.9z" fill="#40c4ed" stroke="#40c4ed"/>
<path d="M88.6 106.2l1.1 1-.9 2-1-1z" fill="#3aa9e4" stroke="#3aa9e4"/>
<path d="M80.3 113.1l1 .8-.9 2.1-1-.7z" fill="#7cc1a0" stroke="#7cc1a0"/>
<path d="M90.5 105.3l1 1.1-.8 1.9-1-1.1z" fill="#3a7ac9" stroke="#3a7ac9"/>
<path d="M82.1 111.7l1.1 .8-.9 2.1-1-.7z" fill="#77c2b2" stroke="#77c2b2"/>
<path d="M92.4 104.6l1 1.2-.8 1.7-1.1-1.1z" fill="#3a5cb2" stroke="#3a5cb2"/>
<path d="M84 110.4l1 .9-.8 2-1-.8z" fill="#6fc4c7" stroke="#6fc4c7"/>
<path d="M85.9 109.2l1 .9-.8 2-1.1-.8z" fill="#57c5de" stroke="#57c5de"/>
<path d="M87.8 108.2l1 1-.8 1.9-1.1-1z" fill="#3cbded" stroke="#3cbded"/>
<path d="M89.7 107.2l1 1.1-.9 1.8-1-.9z" fill="#3b96db" stroke="#3b96db"/>
<path d="M81.3 113.9l1 .7-.8 2.1-1.1-.7z" fill="#7bc1a4" stroke="#7bc1a4"/>
<path d="M91.5 106.4l1.1 1.1-.9 1.8-1-1z" fill="#3a6abd" stroke="#3a6abd"/>
<path d="M83.2 112.5l1 .8-.9 2-1-.7z" fill="#75c3b7" stroke="#75c3b7"/>
<path d="M85 111.3l1.1 .8-.9 2-1-.8z" fill="#6cc5cf" stroke="#6cc5cf"/>
<path d="M86.9 110.1l1.1 1-.9 1.9-1-.9z" fill="#4bc4e6" stroke="#4bc4e6"/>
<path d="M88.8 109.2l1 .9-.8 1.9-1-.9z" fill="#39b4ea" stroke="#39b4ea"/>
<path d="M90.7 108.3l1 1-.8 1.8-1.1-1z" fill="#3b84d0" stroke="#3b84d0"/>
<path d="M82.3 114.6l1 .7-.8 2-1-.6z" fill="#7ac1a7" stroke="#7ac1a7"/>
<path d="M84.2 113.3l1 .8-.8 1.9-1.1-.7z" fill="#73c3bd" stroke="#73c3bd"/>
<path d="M86.1 112.1l1 .9-.9 1.9-1-.8z" fill="#64c5d6" stroke="#64c5d6"/>
<path d="M88 111.1l1 .9-.9 1.8-1-.8z" fill="#3ec4ef" stroke="#3ec4ef"/>
<path d="M89.8 110.1l1.1 1-.9 1.8-1-.9z" fill="#3aa4e2" stroke="#3aa4e2"/>
<path d="M83.3 115.3l1.1 .7-.9 2-1-.7z" fill="#79c1aa" stroke="#79c1aa"/>
<path d="M85.2 114.1l1 .8-.8 1.9-1-.8z" fill="#71c4c2" stroke="#71c4c2"/>
<path d="M87.1 113l1 .8-.8 1.9-1.1-.8z" fill="#5ac5dc" stroke="#5ac5dc"/>
<path d="M89 112l1 .9-.8 1.8-1.1-.9z" fill="#3cbded" stroke="#3cbded"/>
<path d="M84.4 116l1 .8-.9 1.9-1-.7z" fill="#78c2ad" stroke="#78c2ad"/>
<path d="M86.2 114.9l1.1 .8-.9 1.8-1-.7z" fill="#6fc4c8" stroke="#6fc4c8"/>
<path d="M88.1 113.8l1.1 .9-.9 1.7-1-.7z" fill="#51c4e2" stroke="#51c4e2"/>
<path d="M85.4 116.8l1 .7-.8 1.8-1.1-.6z" fill="#77c2b1" stroke="#77c2b1"/>
<path d="M87.3 115.7l1 .7-.8 1.8-1.1-.7z" fill="#6dc5cd" stroke="#6dc5cd"/>
<path d="M86.4 117.5l1.1 .7-.9 1.8-1-.7z" fill="#76c2b4" stroke="#76c2b4"/>
<path d="M86.7 88.3l3.1 4.1 3.1 4 3.1 4-3.2 6.5-3.1 6.6-3.1 6.5-3.1-2-3.1-2-3-2 3.1-8.6 3.1-8.5z" class="ms"/>
<circle cx="86.7" cy="88.3" r="0.75"/>
<path d="M105.3 81.9l2.4 4-.9 1.6-2.3-3.9z" fill="#78c2ad" stroke="#78c2ad"/>
<path d="M104.5 83.6l2.3 3.9-.9 1.6-2.3-3.8z" fill="#6fc4c8" stroke="#6fc4c8"/>
<path d="M103.6 85.3l2.3 3.8-.8 1.6-2.3-3.8z" fill="#55c4e0" stroke="#55c4e0"/>
<path d="M107.7 85.9l2.3 4-.9 1.5-2.3-3.9z" fill="#71c4c1" stroke="#71c4c1"/>
<path d="M102.8 86.9l2.3 3.8-.9 1.7-2.3-3.8z" fill="#3cbeed" stroke="#3cbeed"/>
<path d="M106.8 87.5l2.3 3.9-.8 1.6-2.4-3.9z" fill="#60c5d8" stroke="#60c5d8"/>
<path d="M101.9 88.6l2.3 3.8-.8 1.6-2.3-3.7z" fill="#3aa4e2" stroke="#3aa4e2"/>
<path d="M105.9 89.1l2.4 3.9-.9 1.5-2.3-3.8z" fill="#42c4ec" stroke="#42c4ec"/>
<path d="M101.1 90.3l2.3 3.7-.9 1.6-2.3-3.6z" fill="#3b82ce" stroke="#3b82ce"/>
<path d="M110 89.9l2.3 3.9-.9 1.5-2.3-3.9z" fill="#66c5d4" stroke="#66c5d4"/>
<path d="M105.1 90.7l2.3 3.8-.8 1.6-2.4-3.7z" fill="#39b5ea" stroke="#39b5ea"/>
<path d="M100.2 92l2.3 3.6-.8 1.6-2.3-3.5z" fill="#3a68bc" stroke="#3a68bc"/>
<path d="M109.1 91.4l2.3 3.9-.8 1.5-2.3-3.8z" fill="#4bc4e6" stroke="#4bc4e6"/>
<path d="M104.2 92.4l2.4 3.7-.9 1.5-2.3-3.6z" fill="#3b96db" stroke="#3b96db"/>
<path d="M99.4 93.7l2.3 3.5-.9 1.6-2.3-3.4z" fill="#3a59b0" stroke="#3a59b0"/>
<path d="M108.3 93l2.3 3.8-.9 1.5-2.3-3.8z" fill="#3bbcec" stroke="#3bbcec"/>
<path d="M103.4 94l2.3 3.6-.8 1.6-2.4-3.6z" fill="#3a78c7" stroke="#3a78c7"/>
<path d="M98.5 95.4l2.3 3.4-.8 1.7-2.3-3.4z" fill="#3a4fa8" stroke="#3a4fa8"/>
<path d="M112.3 93.8l2.3 4-.9 1.4-2.3-3.9z" fill="#4dc4e5" stroke="#4dc4e5"/>
<path d="M107.4 94.5l2.3 3.8-.8 1.5-2.3-3.7z" fill="#3aa5e2" stroke="#3aa5e2"/>
<path d="M102.5 95.6l2.4 3.6-.9 1.5-2.3-3.5z" fill="#3a64b9" stroke="#3a64b9"/>
<path d="M97.7 97.1l2.3 3.4-.9 1.6-2.3-3.4z" fill="#3949a3" stroke="#3949a3"/>
<path d="M111.4 95.3l2.3 3.9-.8 1.5-2.3-3.9z" fill="#3cbfed" stroke="#3cbfed"/>
<path d="M106.6 96.1l2.3 3.7-.9 1.5-2.3-3.7z" fill="#3b89d3" stroke="#3b89d3"/>
<path d="M101.7 97.2l2.3 3.5-.8 1.6-2.4-3.5z" fill="#3a57ae" stroke="#3a57ae"/>
<path d="M96.8 98.7l2.3 3.4-.8 1.6-2.3-3.3z" fill="#36429b" stroke="#36429b"/>
<path d="M110.6 96.8l2.3 3.9-.9 1.4-2.3-3.8z" fill="#39aee7" stroke="#39aee7"/>
<path d="M105.7 97.6l2.3 3.7-.8 1.5-2.3-3.6z" fill="#3a6ec1" stroke="#3a6ec1"/>
<path d="M100.8 98.8l2.4 3.5-.9 1.6-2.3-3.4z" fill="#3a4fa8" stroke="#3a4fa8"/>
<path d="M109.7 98.3l2.3 3.8-.8 1.4-2.3-3.7z" fill="#3b95da" stroke="#3b95da"/>
<path d="M104.9 99.2l2.3 3.6-.9 1.5-2.3-3.6z" fill="#3a61b6" stroke="#3a61b6"/>
<path d="M100 100.5l2.3 3.4-.9 1.5-2.3-3.3z" fill="#3949a3" stroke="#3949a3"/>
<path d="M108.9 99.8l2.3 3.7-.9 1.4-2.3-3.6z" fill="#3a7cca" stroke="#3a7cca"/>
<path d="M104 100.7l2.3 3.6-.8 1.5-2.3-3.5z" fill="#3a55ad" stroke="#3a55ad"/>
<path d="M99.1 102.1l2.3 3.3-.8 1.6-2.3-3.3z" fill="#37439c" stroke="#37439c"/>
<path d="M108 101.3l2.3 3.6-.8 1.5-2.3-3.6z" fill="#3a69bd" stroke="#3a69bd"/>
<path d="M103.2 102.3l2.3 3.5-.9 1.5-2.3-3.4z" fill="#3a4fa7" stroke="#3a4fa7"/>
<path d="M107.2 102.8l2.3 3.6-.9 1.4-2.3-3.5z" fill="#3a5eb4" stroke="#3a5eb4"/>
<path d="M102.3 103.9l2.3 3.4-.8 1.4-2.4-3.3z" fill="#394aa3" stroke="#394aa3"/>
<path d="M106.3 104.3l2.3 3.5-.8 1.4-2.3-3.4z" fill="#3a53ab" stroke="#3a53ab"/>
<path d="M101.4 105.4l2.4 3.3-.9 1.5-2.3-3.2z" fill="#38449d" stroke="#38449d"/>
<path d="M105.5 105.8l2.3 3.4-.9 1.5-2.3-3.4z" fill="#3a4ea7" stroke="#3a4ea7"/>
<path d="M104.6 107.3l2.3 3.4-.8 1.4-2.3-3.4z" fill="#394aa3" stroke="#394aa3"/>
<path d="M103.8 108.7l2.3 3.4-.9 1.4-2.3-3.3z" fill="#38459f" stroke="#38459f"/>
<path d="M105.3 81.9l3.1 5.3 3.1 5.3 3.1 5.3-3.1 5.2-3.2 5.3-3.1 5.2-3.1-4.4-3-4.3-3.1-4.4 3.1-6.2 3.1-6.1z" class="ms"/>
<circle cx="105.3" cy="81.9" r="0.75"/>
<circle cx="114.6" cy="97.8" r="0.75"/>
<path d="M77.4 114l9.2 6-3.1 3.1-9.3-5.7z" fill="#7fc195" stroke="#7fc195"/>
<path d="M74.2 117.4l9.3 5.7-3.1 3.1-9.3-5.4z" fill="#84c083" stroke="#84c083"/>
<path d="M71.1 120.8l9.3 5.4-3.2 3-9.2-4.9z" fill="#8bc16f" stroke="#8bc16f"/>
<path d="M77.4 114l3 2 3.1 2 3.1 2-3.1 3.1-3.1 3.1-3.2 3-3.1-1.6-3-1.7-3.1-1.6 3.1-3.5 3.1-3.4z" class="ms"/>
<circle cx="77.4" cy="114" r="0.75"/>
<circle cx="68" cy="124.3" r="0.75"/>
<path d="M96 100.4l9.2 13.1-.8 1.2-9.3-12.5z" fill="#37449d" stroke="#37449d"/>
<path d="M95.1 102.2l9.3 12.5-.9 1.2-9.2-11.9z" fill="#394aa4" stroke="#394aa4"/>
<path d="M94.3 104l9.2 11.9-.8 1.1-9.3-11.2z" fill="#3a50a9" stroke="#3a50a9"/>
<path d="M93.4 105.8l9.3 11.2-.9 1.2-9.2-10.7z" fill="#3a5bb1" stroke="#3a5bb1"/>
<path d="M92.6 107.5l9.2 10.7-.8 1.2-9.3-10.1z" fill="#3a69bd" stroke="#3a69bd"/>
<path d="M91.7 109.3l9.3 10.1-.9 1.2-9.2-9.5z" fill="#3b84d0" stroke="#3b84d0"/>
<path d="M90.9 111.1l9.2 9.5-.8 1.2-9.3-8.9z" fill="#3aa5e2" stroke="#3aa5e2"/>
<path d="M90 112.9l9.3 8.9-.9 1.1-9.2-8.2z" fill="#3cbeed" stroke="#3cbeed"/>
<path d="M89.2 114.7l9.2 8.2-.8 1.2-9.3-7.7z" fill="#53c4e1" stroke="#53c4e1"/>
<path d="M88.3 116.4l9.3 7.7-.9 1.2-9.2-7.1z" fill="#6ec4ca" stroke="#6ec4ca"/>
<path d="M87.5 118.2l9.2 7.1-.9 1.2-9.2-6.5z" fill="#77c2b0" stroke="#77c2b0"/>
<path d="M96 100.4l3.1 4.4 3 4.3 3.1 4.4-3.1 4.3-3.1 4.4-3.2 4.3-3-2.2-3.1-2.1-3.1-2.2 3.1-6.5 3.1-6.6z" class="ms"/>
<circle cx="96" cy="100.4" r="0.75"/>
<circle cx="105.2" cy="113.5" r="0.75"/>
<path d="M86.6 120l9.2 6.5-3.1 2.5-9.2-5.9z" fill="#7ec199" stroke="#7ec199"/>
<path d="M83.5 123.1l9.2 5.9-3.1 2.6-9.2-5.4z" fill="#83c085" stroke="#83c085"/>
<path d="M80.4 126.2l9.2 5.4-3.1 2.6-9.3-5z" fill="#8bc170" stroke="#8bc170"/>
<path d="M86.6 120l3.1 2.2 3.1 2.1 3 2.2-3.1 2.5-3.1 2.6-3.1 2.6-3.1-1.7-3.1-1.6-3.1-1.7 3.2-3 3.1-3.1z" class="ms"/>
<circle cx="86.6" cy="120" r="0.75"/>
<circle cx="95.8" cy="126.5" r="0.75"/>
<circle cx="77.2" cy="129.2" r="0.75"/>
<circle cx="86.5" cy="134.2" r="0.75"/>
</g>
<line x1="31" y1="104.4" x2="32.5" y2="103.6" stroke="#888" stroke-width="0.6"/>
<text x="28.4" y="105.7" font-size="7.8" text-anchor="end" textLength="3.6" lengthAdjust="spacingAndGlyphs">0</text>
<line x1="31" y1="84.7" x2="32.5" y2="83.9" stroke="#888" stroke-width="0.6"/>
<text x="28.4" y="86" font-size="7.8" text-anchor="end" textLength="7.2" lengthAdjust="spacingAndGlyphs">50</text>
<line x1="31" y1="65" x2="32.5" y2="64.2" stroke="#888" stroke-width="0.6"/>
<text x="28.4" y="66.3" font-size="7.8" text-anchor="end" textLength="10.8" lengthAdjust="spacingAndGlyphs">100</text>
<text x="20.4" y="112.5" font-size="7.2" text-anchor="end" textLength="3.4" lengthAdjust="spacingAndGlyphs">0</text>
<text x="34.2" y="115.9" font-size="7.2" text-anchor="end" textLength="11.8" lengthAdjust="spacingAndGlyphs">0.04</text>
<text x="44.6" y="121.1" font-size="7.2" text-anchor="end" textLength="15.2" lengthAdjust="spacingAndGlyphs">0.123</text>
<text x="52.4" y="127.3" font-size="7.2" text-anchor="end" textLength="11.8" lengthAdjust="spacingAndGlyphs">0.37</text>
<text x="65" y="132.7" font-size="7.2" text-anchor="end" textLength="15.2" lengthAdjust="spacingAndGlyphs">1.111</text>
<text x="75.4" y="138.2" font-size="7.2" text-anchor="end" textLength="15.2" lengthAdjust="spacingAndGlyphs">3.333</text>
<text x="83.6" y="141.4" font-size="7.2" text-anchor="end" textLength="6.8" lengthAdjust="spacingAndGlyphs">10</text>
<text x="89.6" y="140.8" font-size="7.2" textLength="10.2" lengthAdjust="spacingAndGlyphs">100</text>
<text x="99.8" y="135.4" font-size="7.2" textLength="6.8" lengthAdjust="spacingAndGlyphs">33</text>
<text x="109" y="130.9" font-size="7.2" textLength="6.8" lengthAdjust="spacingAndGlyphs">11</text>
<text x="117.6" y="126.1" font-size="7.2" textLength="8.4" lengthAdjust="spacingAndGlyphs">3.7</text>
<text x="126.9" y="121.4" font-size="7.2" textLength="8.4" lengthAdjust="spacingAndGlyphs">1.2</text>
<text x="136.2" y="116.2" font-size="7.2" textLength="8.4" lengthAdjust="spacingAndGlyphs">0.4</text>
<text x="145.8" y="112.3" font-size="7.2" textLength="3.4" lengthAdjust="spacingAndGlyphs">0</text>
<text x="13" y="145.6" font-size="8" textLength="43.2" lengthAdjust="spacingAndGlyphs">SHP099 [µM]</text>
<text x="108.3" y="146" font-size="8" textLength="48.5" lengthAdjust="spacingAndGlyphs">Crizotinib [nM]</text>
<text x="13.2" y="84.3" font-size="10.2" text-anchor="middle" textLength="31.5" lengthAdjust="spacingAndGlyphs" transform="rotate(-90 13.2 84.3)">% Control</text>
<rect x="154.3" y="32.3" width="9" height="101.5" fill="url(#cm)"/>
<text x="170.5" y="58.3" font-size="7.6" text-anchor="middle" textLength="27.4" lengthAdjust="spacingAndGlyphs" transform="rotate(-90 170.5 58.3)">Synergy</text>
<text x="170.5" y="103.9" font-size="7.6" text-anchor="middle" textLength="41" lengthAdjust="spacingAndGlyphs" transform="rotate(-90 170.5 103.9)">Antagonism</text>
<line x1="259" y1="73.9" x2="204.7" y2="103.9" stroke="#dcdcdc" stroke-width="0.5"/>
<line x1="259" y1="73.9" x2="313.3" y2="104.2" stroke="#dcdcdc" stroke-width="0.5"/>
<line x1="268.1" y1="79" x2="213.8" y2="109" stroke="#dcdcdc" stroke-width="0.5"/>
<line x1="249.9" y1="78.9" x2="304.2" y2="109.2" stroke="#dcdcdc" stroke-width="0.5"/>
<line x1="277.1" y1="84" x2="222.8" y2="114" stroke="#dcdcdc" stroke-width="0.5"/>
<line x1="240.9" y1="83.9" x2="295.2" y2="114.2" stroke="#dcdcdc" stroke-width="0.5"/>
<line x1="286.1" y1="89.1" x2="231.8" y2="119.1" stroke="#dcdcdc" stroke-width="0.5"/>
<line x1="231.8" y1="88.9" x2="286.2" y2="119.2" stroke="#dcdcdc" stroke-width="0.5"/>
<line x1="295.2" y1="94.1" x2="240.9" y2="124.1" stroke="#dcdcdc" stroke-width="0.5"/>
<line x1="222.8" y1="93.9" x2="277.1" y2="124.2" stroke="#dcdcdc" stroke-width="0.5"/>
<line x1="304.2" y1="99.2" x2="249.9" y2="129.2" stroke="#dcdcdc" stroke-width="0.5"/>
<line x1="213.8" y1="98.9" x2="268.1" y2="129.2" stroke="#dcdcdc" stroke-width="0.5"/>
<line x1="313.3" y1="104.2" x2="259" y2="134.2" stroke="#dcdcdc" stroke-width="0.5"/>
<line x1="204.7" y1="103.9" x2="259" y2="134.2" stroke="#dcdcdc" stroke-width="0.5"/>
<line x1="259" y1="73.9" x2="259" y2="33.1" stroke="#dcdcdc" stroke-width="0.5"/>
<line x1="259" y1="73.9" x2="259" y2="33.1" stroke="#dcdcdc" stroke-width="0.5"/>
<line x1="249.9" y1="78.9" x2="249.9" y2="38.1" stroke="#dcdcdc" stroke-width="0.5"/>
<line x1="268.1" y1="79" x2="268.1" y2="38.2" stroke="#dcdcdc" stroke-width="0.5"/>
<line x1="240.9" y1="83.9" x2="240.9" y2="43.1" stroke="#dcdcdc" stroke-width="0.5"/>
<line x1="277.1" y1="84" x2="277.1" y2="43.2" stroke="#dcdcdc" stroke-width="0.5"/>
<line x1="231.8" y1="88.9" x2="231.8" y2="48.1" stroke="#dcdcdc" stroke-width="0.5"/>
<line x1="286.1" y1="89.1" x2="286.1" y2="48.3" stroke="#dcdcdc" stroke-width="0.5"/>
<line x1="222.8" y1="93.9" x2="222.8" y2="53.1" stroke="#dcdcdc" stroke-width="0.5"/>
<line x1="295.2" y1="94.1" x2="295.2" y2="53.3" stroke="#dcdcdc" stroke-width="0.5"/>
<line x1="213.8" y1="98.9" x2="213.8" y2="58.1" stroke="#dcdcdc" stroke-width="0.5"/>
<line x1="304.2" y1="99.2" x2="304.2" y2="58.4" stroke="#dcdcdc" stroke-width="0.5"/>
<line x1="204.7" y1="103.9" x2="204.7" y2="63.1" stroke="#dcdcdc" stroke-width="0.5"/>
<line x1="313.3" y1="104.2" x2="313.3" y2="63.4" stroke="#dcdcdc" stroke-width="0.5"/>
<polyline points="204.7,103.9 259,73.9 313.3,104.2" fill="none" stroke="#dcdcdc" stroke-width="0.5"/>
<polyline points="204.7,91.9 259,61.9 313.3,92.2" fill="none" stroke="#dcdcdc" stroke-width="0.5"/>
<polyline points="204.7,79.9 259,49.9 313.3,80.2" fill="none" stroke="#dcdcdc" stroke-width="0.5"/>
<polyline points="204.7,67.9 259,37.9 313.3,68.2" fill="none" stroke="#dcdcdc" stroke-width="0.5"/>
<polyline points="204.7,63.1 259,33.1 313.3,63.4" fill="none" stroke="#dcdcdc" stroke-width="0.5"/>
<line x1="204.7" y1="103.9" x2="204.7" y2="63.1" stroke="#b0b0b0" stroke-width="0.7"/>
<polyline points="204.7,103.9 259,134.2 313.3,104.2" fill="none" stroke="#8a8a8a" stroke-width="0.7"/>
<g stroke-linejoin="round" stroke-width="0.45">
<path d="M259 49.4l9.1 5.1-9.1 5.2-9.1-6z" fill="#b5ce41" stroke="#b5ce41"/>
<path d="M259 49.4l3 1.7 3 1.7 3.1 1.7-3.1 1.7-3 1.8-3 1.7-3-2-3-2-3.1-2 3.1-1.4 3-1.5z" class="ms"/>
<circle cx="259" cy="49.4" r="0.75"/>
<path d="M249.9 53.7l9.1 6-4.5 1.5-9.1-5z" fill="#c0d13e" stroke="#c0d13e"/>
<path d="M245.4 56.2l9.1 5-4.5 1.6-9.1-4.1z" fill="#d3d734" stroke="#d3d734"/>
<path d="M249.9 53.7l3.1 2 3 2 3 2-3 1-3 1.1-3 1-3.1-1.4-3-1.3-3-1.4 3-1.7 3-1.6z" class="ms"/>
<circle cx="249.9" cy="53.7" r="0.75"/>
<path d="M268.1 54.5l4.5 3.5-9.1 4.8-4.5-3.1z" fill="#a6c947" stroke="#a6c947"/>
<path d="M272.6 58l4.5 3.4-9 4.6-4.6-3.2z" fill="#92c35f" stroke="#92c35f"/>
<path d="M268.1 54.5l3 2.3 3 2.3 3 2.3-3 1.5-3 1.6-3 1.5-3.1-2.1-3-2.1-3-2.1 3-1.7 3-1.8z" class="ms"/>
<circle cx="268.1" cy="54.5" r="0.75"/>
<path d="M240.9 58.7l9.1 4.1-3.1 1.1-9-4.3z" fill="#e8de24" stroke="#e8de24"/>
<path d="M237.9 59.6l9 4.3-3 1.1-9-4.4z" fill="#f7d71a" stroke="#f7d71a"/>
<path d="M234.9 60.6l9 4.4-3 1.1-9.1-4.6z" fill="#fabf1a" stroke="#fabf1a"/>
<path d="M240.9 58.7l3 1.4 3 1.3 3.1 1.4-3.1 1.1-3 1.1-3 1.1-3-1.5-3-1.5-3.1-1.6 3.1-.9 3-1z" class="ms"/>
<circle cx="240.9" cy="58.7" r="0.75"/>
<path d="M259 59.7l4.5 3.1-3 1-4.5-3.1z" fill="#aecb44" stroke="#aecb44"/>
<path d="M256 60.7l4.5 3.1-3 1-4.5-3z" fill="#bed03e" stroke="#bed03e"/>
<path d="M263.5 62.8l4.6 3.2-3.1 .9-4.5-3.1z" fill="#97c554" stroke="#97c554"/>
<path d="M253 61.8l4.5 3-3 1-4.5-3z" fill="#ced538" stroke="#ced538"/>
<path d="M260.5 63.8l4.5 3.1-3 1-4.5-3.1z" fill="#a7c946" stroke="#a7c946"/>
<path d="M257.5 64.8l4.5 3.1-3 .9-4.5-3z" fill="#bdd03f" stroke="#bdd03f"/>
<path d="M259 59.7l3 2.1 3 2.1 3.1 2.1-3.1 .9-3 1-3 .9-3-2-3-2-3-2 3-1 3-1.1z" class="ms"/>
<circle cx="259" cy="59.7" r="0.75"/>
<path d="M277.1 61.4l2.3 1.3-9.1 3.9-2.2-.6z" fill="#92c35f" stroke="#92c35f"/>
<path d="M279.4 62.7l2.2 1.3-9 3.2-2.3-.6z" fill="#a6c947" stroke="#a6c947"/>
<path d="M281.6 64l2.3 1.2-9.1 2.6-2.2-.6z" fill="#c5d23c" stroke="#c5d23c"/>
<path d="M283.9 65.2l2.2 1.3-9 1.9-2.3-.6z" fill="#e0db29" stroke="#e0db29"/>
<path d="M277.1 61.4l3 1.7 3 1.7 3 1.7-3 .6-3 .6-3 .7-3-.8-3-.8-3-.8 3-1.5 3-1.6z" class="ms"/>
<circle cx="277.1" cy="61.4" r="0.75"/>
<path d="M231.8 61.5l9.1 4.6-1 .4-9.1-4.9z" fill="#f8a51d" stroke="#f8a51d"/>
<path d="M230.8 61.6l9.1 4.9-1 .3-9.1-5.2z" fill="#f5881f" stroke="#f5881f"/>
<path d="M229.8 61.6l9.1 5.2-1 .3-9.1-5.4z" fill="#f26923" stroke="#f26923"/>
<path d="M228.8 61.7l9.1 5.4-1 .4-9.1-5.8z" fill="#f04a25" stroke="#f04a25"/>
<path d="M227.8 61.7l9.1 5.8-1 .3-9.1-6z" fill="#ed2b26" stroke="#ed2b26"/>
<path d="M226.8 61.8l9.1 6-1 .4-9.1-6.4z" fill="#e41e25" stroke="#e41e25"/>
<path d="M225.8 61.8l9.1 6.4-1 .3-9.1-6.6z" fill="#c81f25" stroke="#c81f25"/>
<path d="M224.8 61.9l9.1 6.6-1 .3-9.1-6.9z" fill="#a81c21" stroke="#a81c21"/>
<path d="M223.8 61.9l9.1 6.9-1 .4-9.1-7.2z" fill="#8c1519" stroke="#8c1519"/>
<path d="M231.8 61.5l3.1 1.6 3 1.5 3 1.5-3 1-3 1.1-3 1-3.1-2.4-3-2.4-3-2.4 3-.2 3-.1z" class="ms"/>
<circle cx="231.8" cy="61.5" r="0.75"/>
<path d="M250 62.8l4.5 3-2.3 .7-4.5-2.9z" fill="#dfdb2a" stroke="#dfdb2a"/>
<path d="M247.7 63.6l4.5 2.9-2.3 .7-4.5-2.7z" fill="#f3e21b" stroke="#f3e21b"/>
<path d="M254.5 65.8l4.5 3-2.3 .6-4.5-2.9z" fill="#d4d733" stroke="#d4d733"/>
<path d="M245.4 64.5l4.5 2.7-2.2 .7-4.5-2.6z" fill="#f9cf1a" stroke="#f9cf1a"/>
<path d="M252.2 66.5l4.5 2.9-2.2 .6-4.6-2.8z" fill="#eddf20" stroke="#eddf20"/>
<path d="M243.2 65.3l4.5 2.6-2.3 .7-4.5-2.5z" fill="#fabb1b" stroke="#fabb1b"/>
<path d="M249.9 67.2l4.6 2.8-2.3 .6-4.5-2.7z" fill="#f8d11a" stroke="#f8d11a"/>
<path d="M247.7 67.9l4.5 2.7-2.2 .6-4.6-2.6z" fill="#fab91b" stroke="#fab91b"/>
<path d="M250 62.8l3 2 3 2 3 2-3 .8-3 .8-3 .8-3.1-1.7-3-1.7-3-1.7 3-1.1 3-1.1z" class="ms"/>
<circle cx="250" cy="62.8" r="0.75"/>
<path d="M268.1 66l2.2 .6-3 .9-2.3-.6z" fill="#98c553" stroke="#98c553"/>
<path d="M270.3 66.6l2.3 .6-3 1-2.3-.7z" fill="#b1cc43" stroke="#b1cc43"/>
<path d="M265 66.9l2.3 .6-3 1-2.3-.6z" fill="#abca45" stroke="#abca45"/>
<path d="M272.6 67.2l2.2 .6-3 1-2.2-.6z" fill="#cfd537" stroke="#cfd537"/>
<path d="M267.3 67.5l2.3 .7-3.1 1-2.2-.7z" fill="#c8d33b" stroke="#c8d33b"/>
<path d="M262 67.9l2.3 .6-3 1-2.3-.7z" fill="#c2d13d" stroke="#c2d13d"/>
<path d="M274.8 67.8l2.3 .6-3 1.1-2.3-.7z" fill="#e9de22" stroke="#e9de22"/>
<path d="M269.6 68.2l2.2 .6-3 1.1-2.3-.7z" fill="#e2dc28" stroke="#e2dc28"/>
<path d="M264.3 68.5l2.2 .7-3 1-2.2-.7z" fill="#dcda2d" stroke="#dcda2d"/>
<path d="M271.8 68.8l2.3 .7-3 1.1-2.3-.7z" fill="#f6da1a" stroke="#f6da1a"/>
<path d="M266.5 69.2l2.3 .7-3 1.1-2.3-.8z" fill="#f4e11a" stroke="#f4e11a"/>
<path d="M268.8 69.9l2.3 .7-3.1 1.1-2.2-.7z" fill="#fac91a" stroke="#fac91a"/>
<path d="M268.1 66l3 .8 3 .8 3 .8-3 1.1-3 1.1-3.1 1.1-3-1-3-.9-3-1 3-.9 3-1z" class="ms"/>
<circle cx="268.1" cy="66" r="0.75"/>
<path d="M286.1 66.5l9.1 4.1-9.1 3.1-9-5.3z" fill="#e0db29" stroke="#e0db29"/>
<path d="M286.1 66.5l3.1 1.4 3 1.3 3 1.4-3 1-3 1-3.1 1.1-3-1.8-3-1.8-3-1.7 3-.7 3-.6z" class="ms"/>
<circle cx="286.1" cy="66.5" r="0.75"/>
<path d="M222.8 62l9.1 7.2-9.1-4.9-9-4z" fill="#7a1012" stroke="#7a1012"/>
<path d="M222.8 62l3 2.4 3 2.4 3.1 2.4-3.1-1.6-3-1.6-3-1.7-3-1.3-3-1.4-3-1.3 3 .5 3 .6z" class="ms"/>
<circle cx="222.8" cy="62" r="0.75"/>
<path d="M240.9 66.1l9.1 5.1-1.1 0-9-4.7z" fill="#f7a01d" stroke="#f7a01d"/>
<path d="M239.9 66.5l9 4.7-1 .1-9-4.5z" fill="#f58420" stroke="#f58420"/>
<path d="M238.9 66.8l9 4.5-1 0-9-4.2z" fill="#f26624" stroke="#f26624"/>
<path d="M237.9 67.1l9 4.2-1 .1-9-3.9z" fill="#ef4725" stroke="#ef4725"/>
<path d="M236.9 67.5l9 3.9-1 0-9-3.6z" fill="#ed2826" stroke="#ed2826"/>
<path d="M235.9 67.8l9 3.6-1 .1-9-3.3z" fill="#e31e25" stroke="#e31e25"/>
<path d="M234.9 68.2l9 3.3-1 0-9-3z" fill="#c61f25" stroke="#c61f25"/>
<path d="M233.9 68.5l9 3-1 .1-9-2.8z" fill="#a71c21" stroke="#a71c21"/>
<path d="M232.9 68.8l9 2.8-1 0-9-2.4z" fill="#8b1519" stroke="#8b1519"/>
<path d="M240.9 66.1l3 1.7 3 1.7 3.1 1.7-3.1 .1-3 .2-3 .1-3-.8-3-.8-3-.8 3-1 3-1.1z" class="ms"/>
<circle cx="240.9" cy="66.1" r="0.75"/>
<path d="M259 68.8l2.3 .7-2.3 .6-2.3-.7z" fill="#dbd92e" stroke="#dbd92e"/>
<path d="M261.3 69.5l2.2 .7-2.2 .6-2.3-.7z" fill="#f3e21b" stroke="#f3e21b"/>
<path d="M256.7 69.4l2.3 .7-2.3 .5-2.2-.6z" fill="#f4e01a" stroke="#f4e01a"/>
<path d="M263.5 70.2l2.3 .8-2.3 .5-2.2-.7z" fill="#facb1a" stroke="#facb1a"/>
<path d="M259 70.1l2.3 .7-2.3 .5-2.3-.7z" fill="#fac91a" stroke="#fac91a"/>
<path d="M254.5 70l2.2 .6-2.2 .6-2.3-.6z" fill="#fbc61a" stroke="#fbc61a"/>
<path d="M265.8 71l2.2 .7-2.2 .5-2.3-.7z" fill="#f9b21c" stroke="#f9b21c"/>
<path d="M261.3 70.8l2.2 .7-2.2 .5-2.3-.7z" fill="#f9af1c" stroke="#f9af1c"/>
<path d="M256.7 70.6l2.3 .7-2.3 .5-2.2-.6z" fill="#f9ad1c" stroke="#f9ad1c"/>
<path d="M252.2 70.6l2.3 .6-2.3 .6-2.2-.6z" fill="#f8ab1c" stroke="#f8ab1c"/>
<path d="M263.5 71.5l2.3 .7-2.3 .4-2.2-.6z" fill="#f6961e" stroke="#f6961e"/>
<path d="M259 71.3l2.3 .7-2.3 .5-2.3-.7z" fill="#f6931e" stroke="#f6931e"/>
<path d="M254.5 71.2l2.2 .6-2.2 .6-2.3-.6z" fill="#f6911e" stroke="#f6911e"/>
<path d="M261.3 72l2.2 .6-2.2 .5-2.3-.6z" fill="#f47721" stroke="#f47721"/>
<path d="M256.7 71.8l2.3 .7-2.3 .5-2.2-.6z" fill="#f37522" stroke="#f37522"/>
<path d="M259 72.5l2.3 .6-2.3 .5-2.3-.6z" fill="#f15925" stroke="#f15925"/>
<path d="M259 68.8l3 1 3 .9 3 1-3 .6-3 .6-3 .7-3-.8-3-.8-3-.8 3-.8 3-.8z" class="ms"/>
<circle cx="259" cy="68.8" r="0.75"/>
<path d="M277.1 68.4l9 5.3-4.5 1.9-9-5.6z" fill="#eee01f" stroke="#eee01f"/>
<path d="M272.6 70l9 5.6-4.5 1.9-9.1-5.8z" fill="#f9ce1a" stroke="#f9ce1a"/>
<path d="M277.1 68.4l3 1.7 3 1.8 3 1.8-3 1.2-3 1.3-3 1.3-3-2-3-1.9-3.1-1.9 3.1-1.1 3-1.1z" class="ms"/>
<circle cx="277.1" cy="68.4" r="0.75"/>
<path d="M295.2 70.6l3 1.3-9 2.9-3.1-1.1z" fill="#dfdb2a" stroke="#dfdb2a"/>
<path d="M298.2 71.9l3 1.2-9 2.8-3-1.1z" fill="#f5df1a" stroke="#f5df1a"/>
<path d="M301.2 73.1l3 1.3-9 2.6-3-1.1z" fill="#fac81a" stroke="#fac81a"/>
<path d="M295.2 70.6l3 1.3 3 1.2 3 1.3-3 .9-3 .9-3 .8-3-1.1-3-1.1-3.1-1.1 3.1-1.1 3-1z" class="ms"/>
<circle cx="295.2" cy="70.6" r="0.75"/>
<path d="M213.8 60.3l9 4-.8 2-9-4.4z" fill="#7a1012" stroke="#7a1012"/>
<path d="M213 61.9l9 4.4-.7 2-9.1-4.7z" fill="#7a1012" stroke="#7a1012"/>
<path d="M212.2 63.6l9.1 4.7-.8 1.9-9-5z" fill="#7a1012" stroke="#7a1012"/>
<path d="M211.5 65.2l9 5-.7 2-9.1-5.3z" fill="#7a1012" stroke="#7a1012"/>
<path d="M210.7 66.9l9.1 5.3-.8 1.9-9-5.6z" fill="#7a1012" stroke="#7a1012"/>
<path d="M210 68.5l9 5.6-.7 2-9.1-5.9z" fill="#af1e23" stroke="#af1e23"/>
<path d="M209.2 70.2l9.1 5.9-.8 1.9-9-6.1z" fill="#e91f26" stroke="#e91f26"/>
<path d="M208.5 71.9l9 6.1-.7 2-9.1-6.5z" fill="#f15e25" stroke="#f15e25"/>
<path d="M207.7 73.5l9.1 6.5-.8 2-9-6.8z" fill="#f7a01d" stroke="#f7a01d"/>
<path d="M207 75.2l9 6.8-.7 1.9-9.1-7.1z" fill="#f6db1a" stroke="#f6db1a"/>
<path d="M206.2 76.8l9.1 7.1-.8 2-9-7.4z" fill="#bed03e" stroke="#bed03e"/>
<path d="M205.5 78.5l9 7.4-.7 1.9-9.1-7.7z" fill="#8dc26c" stroke="#8dc26c"/>
<path d="M213.8 60.3l3 1.3 3 1.4 3 1.3-3 7.9-3 7.8-3 7.8-3.1-2.5-3-2.6-3-2.6 3-6.6 3-6.6z" class="ms"/>
<circle cx="213.8" cy="60.3" r="0.75"/>
<circle cx="204.7" cy="80.1" r="0.75"/>
<path d="M231.9 69.2l9 2.4-9-2.4-9.1-4.9z" fill="#7a1012" stroke="#7a1012"/>
<path d="M231.9 69.2l3 .8 3 .8 3 .8-3-.8-3-.8-3-.8-3.1-1.6-3-1.6-3-1.7 3 1.7 3 1.6z" class="ms"/>
<circle cx="231.9" cy="69.2" r="0.75"/>
<path d="M250 71.2l2.2 .6-1 .2-2.3-.8z" fill="#f68f1e" stroke="#f68f1e"/>
<path d="M248.9 71.2l2.3 .8-1 .2-2.3-.9z" fill="#f37222" stroke="#f37222"/>
<path d="M247.9 71.3l2.3 .9-1 .2-2.3-1.1z" fill="#f15525" stroke="#f15525"/>
<path d="M252.2 71.8l2.3 .6-1 .3-2.3-.7z" fill="#f37422" stroke="#f37422"/>
<path d="M246.9 71.3l2.3 1.1-1 .2-2.3-1.2z" fill="#ee3726" stroke="#ee3726"/>
<path d="M251.2 72l2.3 .7-1 .4-2.3-.9z" fill="#f15825" stroke="#f15825"/>
<path d="M245.9 71.4l2.3 1.2-1 .2-2.3-1.4z" fill="#ea1f26" stroke="#ea1f26"/>
<path d="M250.2 72.2l2.3 .9-1 .4-2.3-1.1z" fill="#ee3b26" stroke="#ee3b26"/>
<path d="M254.5 72.4l2.2 .6-1 .5-2.2-.8z" fill="#f15825" stroke="#f15825"/>
<path d="M244.9 71.4l2.3 1.4-1 .3-2.3-1.6z" fill="#d91e25" stroke="#d91e25"/>
<path d="M249.2 72.4l2.3 1.1-1 .4-2.3-1.3z" fill="#ec1f26" stroke="#ec1f26"/>
<path d="M253.5 72.7l2.2 .8-1 .6-2.2-1z" fill="#ef3d25" stroke="#ef3d25"/>
<path d="M243.9 71.5l2.3 1.6-1 .2-2.3-1.8z" fill="#b91f25" stroke="#b91f25"/>
<path d="M248.2 72.6l2.3 1.3-1.1 .4-2.2-1.5z" fill="#e01e25" stroke="#e01e25"/>
<path d="M252.5 73.1l2.2 1-1 .5-2.2-1.1z" fill="#ec2126" stroke="#ec2126"/>
<path d="M256.7 73l2.3 .6-1 .7-2.3-.8z" fill="#ee3c26" stroke="#ee3c26"/>
<path d="M242.9 71.5l2.3 1.8-1 .2-2.3-1.9z" fill="#9e191e" stroke="#9e191e"/>
<path d="M247.2 72.8l2.2 1.5-1 .4-2.2-1.6z" fill="#c11f25" stroke="#c11f25"/>
<path d="M251.5 73.5l2.2 1.1-1 .6-2.2-1.3z" fill="#e21e25" stroke="#e21e25"/>
<path d="M255.7 73.5l2.3 .8-1 .7-2.3-.9z" fill="#ec2126" stroke="#ec2126"/>
<path d="M241.9 71.6l2.3 1.9-1 .2-2.3-2.1z" fill="#851316" stroke="#851316"/>
<path d="M246.2 73.1l2.2 1.6-1 .3-2.2-1.7z" fill="#a51b20" stroke="#a51b20"/>
<path d="M250.5 73.9l2.2 1.3-1 .5-2.3-1.4z" fill="#c61f25" stroke="#c61f25"/>
<path d="M254.7 74.1l2.3 .9-1 .7-2.3-1.1z" fill="#e21e25" stroke="#e21e25"/>
<path d="M245.2 73.3l2.2 1.7-1 .4-2.2-1.9z" fill="#8b1519" stroke="#8b1519"/>
<path d="M249.4 74.3l2.3 1.4-1 .6-2.3-1.6z" fill="#ab1d22" stroke="#ab1d22"/>
<path d="M253.7 74.6l2.3 1.1-1 .7-2.3-1.2z" fill="#c91f25" stroke="#c91f25"/>
<path d="M244.2 73.5l2.2 1.9-1 .4-2.2-2.1z" fill="#7a1012" stroke="#7a1012"/>
<path d="M248.4 74.7l2.3 1.6-1 .5-2.3-1.8z" fill="#92171b" stroke="#92171b"/>
<path d="M252.7 75.2l2.3 1.2-1 .7-2.3-1.4z" fill="#ae1d23" stroke="#ae1d23"/>
<path d="M247.4 75l2.3 1.8-1 .6-2.3-2z" fill="#7e1114" stroke="#7e1114"/>
<path d="M251.7 75.7l2.3 1.4-1 .8-2.3-1.6z" fill="#96181c" stroke="#96181c"/>
<path d="M246.4 75.4l2.3 2-1 .5-2.3-2.1z" fill="#7a1012" stroke="#7a1012"/>
<path d="M250.7 76.3l2.3 1.6-1 .7-2.3-1.8z" fill="#821215" stroke="#821215"/>
<path d="M249.7 76.8l2.3 1.8-1 .7-2.3-1.9z" fill="#7a1012" stroke="#7a1012"/>
<path d="M248.7 77.4l2.3 1.9-1.1 .7-2.2-2.1z" fill="#7a1012" stroke="#7a1012"/>
<path d="M250 71.2l3 .8 3 .8 3 .8-3 2.1-3 2.2-3.1 2.1-3-2.8-3-2.8-3-2.8 3-.1 3-.2z" class="ms"/>
<circle cx="250" cy="71.2" r="0.75"/>
<path d="M268 71.7l4.6 2.9-2.3 .7-4.5-3.1z" fill="#f9ad1c" stroke="#f9ad1c"/>
<path d="M265.8 72.2l4.5 3.1-2.2 .6-4.6-3.3z" fill="#f6921e" stroke="#f6921e"/>
<path d="M272.6 74.6l4.5 2.9-2.3 .9-4.5-3.1z" fill="#fabc1b" stroke="#fabc1b"/>
<path d="M263.5 72.6l4.6 3.3-2.3 .7-4.5-3.5z" fill="#f37622" stroke="#f37622"/>
<path d="M270.3 75.3l4.5 3.1-2.2 .8-4.5-3.3z" fill="#f8a61c" stroke="#f8a61c"/>
<path d="M261.3 73.1l4.5 3.5-2.3 .7-4.5-3.7z" fill="#f15925" stroke="#f15925"/>
<path d="M268.1 75.9l4.5 3.3-2.3 .9-4.5-3.5z" fill="#f68f1e" stroke="#f68f1e"/>
<path d="M265.8 76.6l4.5 3.5-2.2 .9-4.6-3.7z" fill="#f37622" stroke="#f37622"/>
<path d="M268 71.7l3.1 1.9 3 1.9 3 2-3 1.1-3 1.2-3 1.2-3.1-2.5-3-2.4-3-2.5 3-.7 3-.6z" class="ms"/>
<circle cx="268" cy="71.7" r="0.75"/>
<path d="M286.1 73.7l3.1 1.1-4.6 1.9-3-1.1z" fill="#ebdf21" stroke="#ebdf21"/>
<path d="M289.2 74.8l3 1.1-4.5 2-3.1-1.2z" fill="#f7d61a" stroke="#f7d61a"/>
<path d="M281.6 75.6l3 1.1-4.5 2-3-1.2z" fill="#f8d31a" stroke="#f8d31a"/>
<path d="M292.2 75.9l3 1.1-4.5 2.1-3-1.2z" fill="#fbc01a" stroke="#fbc01a"/>
<path d="M284.6 76.7l3.1 1.2-4.6 2-3-1.2z" fill="#fbc21a" stroke="#fbc21a"/>
<path d="M287.7 77.9l3 1.2-4.6 2-3-1.2z" fill="#f9b01c" stroke="#f9b01c"/>
<path d="M286.1 73.7l3.1 1.1 3 1.1 3 1.1-3 1.4-3 1.3-3.1 1.4-3-1.2-3-1.2-3-1.2 3-1.3 3-1.3z" class="ms"/>
<circle cx="286.1" cy="73.7" r="0.75"/>
<path d="M304.2 74.4l3.1 2-9.1 3.1-3-2.5z" fill="#faca1a" stroke="#faca1a"/>
<path d="M307.3 76.4l3 2-9.1 3.6-3-2.5z" fill="#f2e11b" stroke="#f2e11b"/>
<path d="M310.3 78.4l3 2-9.1 4.1-3-2.5z" fill="#d7d830" stroke="#d7d830"/>
<path d="M304.2 74.4l3.1 2 3 2 3 2-3 1.4-3 1.3-3.1 1.4-3-2.5-3-2.5-3-2.5 3-.8 3-.9z" class="ms"/>
<circle cx="304.2" cy="74.4" r="0.75"/>
<circle cx="313.3" cy="80.4" r="0.75"/>
<path d="M222.8 64.3l4.5 2.5-.7 2-4.6-2.5z" fill="#7a1012" stroke="#7a1012"/>
<path d="M222 66.3l4.6 2.5-.8 2.1-4.5-2.6z" fill="#7a1012" stroke="#7a1012"/>
<path d="M221.3 68.3l4.5 2.6-.7 2.1-4.6-2.8z" fill="#7a1012" stroke="#7a1012"/>
<path d="M220.5 70.2l4.6 2.8-.8 2.1-4.5-2.9z" fill="#7a1012" stroke="#7a1012"/>
<path d="M219.8 72.2l4.5 2.9-.7 2-4.6-3z" fill="#831316" stroke="#831316"/>
<path d="M219 74.1l4.6 3-.8 2.1-4.5-3.1z" fill="#c01f25" stroke="#c01f25"/>
<path d="M227.3 66.8l4.6 2.4-.8 2.2-4.5-2.6z" fill="#7a1012" stroke="#7a1012"/>
<path d="M218.3 76.1l4.5 3.1-.8 2.1-4.5-3.3z" fill="#ed2a26" stroke="#ed2a26"/>
<path d="M226.6 68.8l4.5 2.6-.8 2.2-4.5-2.7z" fill="#7a1012" stroke="#7a1012"/>
<path d="M217.5 78l4.5 3.3-.7 2.1-4.5-3.4z" fill="#f36e22" stroke="#f36e22"/>
<path d="M225.8 70.9l4.5 2.7-.7 2.2-4.5-2.8z" fill="#7a1012" stroke="#7a1012"/>
<path d="M216.8 80l4.5 3.4-.8 2-4.5-3.4z" fill="#f9ae1c" stroke="#f9ae1c"/>
<path d="M225.1 73l4.5 2.8-.8 2.1-4.5-2.8z" fill="#7a1012" stroke="#7a1012"/>
<path d="M216 82l4.5 3.4-.7 2.1-4.5-3.6z" fill="#ede020" stroke="#ede020"/>
<path d="M224.3 75.1l4.5 2.8-.7 2.2-4.5-3z" fill="#a01a1f" stroke="#a01a1f"/>
<path d="M215.3 83.9l4.5 3.6-.8 2.1-4.5-3.7z" fill="#afcc44" stroke="#afcc44"/>
<path d="M223.6 77.1l4.5 3-.8 2.2-4.5-3.1z" fill="#e21e25" stroke="#e21e25"/>
<path d="M214.5 85.9l4.5 3.7-.7 2.1-4.5-3.9z" fill="#86c07b" stroke="#86c07b"/>
<path d="M222.8 79.2l4.5 3.1-.7 2.2-4.6-3.2z" fill="#f04c25" stroke="#f04c25"/>
<path d="M222 81.3l4.6 3.2-.8 2.2-4.5-3.3z" fill="#f68f1e" stroke="#f68f1e"/>
<path d="M221.3 83.4l4.5 3.3-.7 2.2-4.6-3.5z" fill="#facb1a" stroke="#facb1a"/>
<path d="M220.5 85.4l4.6 3.5-.8 2.2-4.5-3.6z" fill="#d1d635" stroke="#d1d635"/>
<path d="M219.8 87.5l4.5 3.6-.7 2.2-4.6-3.7z" fill="#96c457" stroke="#96c457"/>
<path d="M219 89.6l4.6 3.7-.8 2.2-4.5-3.8z" fill="#7ec198" stroke="#7ec198"/>
<path d="M222.8 64.3l3 1.7 3 1.6 3.1 1.6-3.1 8.7-3 8.8-3 8.8-3-2.5-3-2.6-3-2.6 3-7.8 3-7.8z" class="ms"/>
<circle cx="222.8" cy="64.3" r="0.75"/>
<circle cx="213.8" cy="87.8" r="0.75"/>
<path d="M240.9 71.6l9 8.4-9-8.4-9-2.4z" fill="#7a1012" stroke="#7a1012"/>
<path d="M240.9 71.6l3 2.8 3 2.8 3 2.8-3-2.8-3-2.8-3-2.8-3-.8-3-.8-3-.8 3 .8 3 .8z" class="ms"/>
<circle cx="240.9" cy="71.6" r="0.75"/>
<path d="M259 73.6l4.5 3.7-1.1 .7-4.5-3.6z" fill="#ee3b26" stroke="#ee3b26"/>
<path d="M257.9 74.4l4.5 3.6-1.1 .7-4.6-3.5z" fill="#eb1f26" stroke="#eb1f26"/>
<path d="M256.7 75.2l4.6 3.5-1.2 .7-4.5-3.4z" fill="#dc1e25" stroke="#dc1e25"/>
<path d="M255.6 76l4.5 3.4-1.1 .7-4.5-3.3z" fill="#bb1f25" stroke="#bb1f25"/>
<path d="M263.5 77.3l4.6 3.7-1.2 .6-4.5-3.6z" fill="#f15925" stroke="#f15925"/>
<path d="M254.5 76.8l4.5 3.3-1.1 .7-4.6-3.2z" fill="#9e1a1e" stroke="#9e1a1e"/>
<path d="M262.4 78l4.5 3.6-1.1 .6-4.5-3.5z" fill="#ee3726" stroke="#ee3726"/>
<path d="M253.3 77.6l4.6 3.2-1.2 .7-4.5-3.1z" fill="#851316" stroke="#851316"/>
<path d="M261.3 78.7l4.5 3.5-1.1 .6-4.6-3.4z" fill="#e81f26" stroke="#e81f26"/>
<path d="M252.2 78.4l4.5 3.1-1.1 .7-4.5-3z" fill="#7a1012" stroke="#7a1012"/>
<path d="M260.1 79.4l4.6 3.4-1.2 .6-4.5-3.3z" fill="#d01e25" stroke="#d01e25"/>
<path d="M251.1 79.2l4.5 3-1.1 .7-4.6-2.9z" fill="#7a1012" stroke="#7a1012"/>
<path d="M259 80.1l4.5 3.3-1.1 .6-4.5-3.2z" fill="#ad1d23" stroke="#ad1d23"/>
<path d="M257.9 80.8l4.5 3.2-1.1 .6-4.6-3.1z" fill="#8e161a" stroke="#8e161a"/>
<path d="M256.7 81.5l4.6 3.1-1.2 .6-4.5-3z" fill="#7a1012" stroke="#7a1012"/>
<path d="M255.6 82.2l4.5 3-1.1 .6-4.5-2.9z" fill="#7a1012" stroke="#7a1012"/>
<path d="M259 73.6l3 2.5 3 2.4 3.1 2.5-3.1 1.6-3 1.6-3 1.6-3-1.9-3-2-3.1-1.9 3.1-2.1 3-2.2z" class="ms"/>
<circle cx="259" cy="73.6" r="0.75"/>
<path d="M277.1 77.5l1.5 .6-1.3 .5-1.5-.6z" fill="#fbc41a" stroke="#fbc41a"/>
<path d="M275.8 78l1.5 .6-1.3 .5-1.5-.6z" fill="#fab71b" stroke="#fab71b"/>
<path d="M278.6 78.1l1.5 .6-1.3 .5-1.5-.6z" fill="#fabb1b" stroke="#fabb1b"/>
<path d="M274.5 78.5l1.5 .6-1.3 .6-1.5-.7z" fill="#f8aa1c" stroke="#f8aa1c"/>
<path d="M277.3 78.6l1.5 .6-1.3 .6-1.5-.7z" fill="#f8ab1c" stroke="#f8ab1c"/>
<path d="M280.1 78.7l1.5 .6-1.3 .6-1.5-.7z" fill="#f9b21b" stroke="#f9b21b"/>
<path d="M273.2 79l1.5 .7-1.3 .5-1.5-.7z" fill="#f79c1d" stroke="#f79c1d"/>
<path d="M276 79.1l1.5 .7-1.3 .6-1.5-.7z" fill="#f79b1d" stroke="#f79b1d"/>
<path d="M278.8 79.2l1.5 .7-1.3 .6-1.5-.7z" fill="#f79f1d" stroke="#f79f1d"/>
<path d="M281.6 79.3l1.5 .6-1.3 .6-1.5-.6z" fill="#f8a91c" stroke="#f8a91c"/>
<path d="M271.9 79.5l1.5 .7-1.3 .5-1.5-.7z" fill="#f68f1e" stroke="#f68f1e"/>
<path d="M274.7 79.7l1.5 .7-1.3 .5-1.5-.7z" fill="#f58b1f" stroke="#f58b1f"/>
<path d="M277.5 79.8l1.5 .7-1.3 .5-1.5-.6z" fill="#f58c1f" stroke="#f58c1f"/>
<path d="M280.3 79.9l1.5 .6-1.3 .6-1.5-.6z" fill="#f6941e" stroke="#f6941e"/>
<path d="M283.1 79.9l1.5 .6-1.3 .6-1.5-.6z" fill="#f7a01d" stroke="#f7a01d"/>
<path d="M270.6 80l1.5 .7-1.2 .6-1.6-.8z" fill="#f48020" stroke="#f48020"/>
<path d="M273.4 80.2l1.5 .7-1.2 .6-1.6-.8z" fill="#f47921" stroke="#f47921"/>
<path d="M276.2 80.4l1.5 .6-1.2 .6-1.6-.7z" fill="#f47821" stroke="#f47821"/>
<path d="M279 80.5l1.5 .6-1.2 .6-1.6-.7z" fill="#f47c21" stroke="#f47c21"/>
<path d="M281.8 80.5l1.5 .6-1.2 .7-1.6-.7z" fill="#f5871f" stroke="#f5871f"/>
<path d="M284.6 80.5l1.5 .6-1.2 .7-1.6-.7z" fill="#f6971e" stroke="#f6971e"/>
<path d="M269.3 80.5l1.6 .8-1.3 .5-1.5-.8z" fill="#f37222" stroke="#f37222"/>
<path d="M272.1 80.7l1.6 .8-1.3 .6-1.5-.8z" fill="#f26823" stroke="#f26823"/>
<path d="M274.9 80.9l1.6 .7-1.3 .6-1.5-.7z" fill="#f26324" stroke="#f26324"/>
<path d="M277.7 81l1.6 .7-1.3 .7-1.5-.8z" fill="#f26524" stroke="#f26524"/>
<path d="M280.5 81.1l1.6 .7-1.3 .6-1.5-.7z" fill="#f36d23" stroke="#f36d23"/>
<path d="M283.3 81.1l1.6 .7-1.3 .6-1.5-.6z" fill="#f47a21" stroke="#f47a21"/>
<path d="M270.9 81.3l1.5 .8-1.3 .5-1.5-.8z" fill="#f15625" stroke="#f15625"/>
<path d="M273.7 81.5l1.5 .7-1.3 .6-1.5-.7z" fill="#f04f25" stroke="#f04f25"/>
<path d="M276.5 81.6l1.5 .8-1.3 .6-1.5-.8z" fill="#f04d25" stroke="#f04d25"/>
<path d="M279.3 81.7l1.5 .7-1.3 .7-1.5-.7z" fill="#f05225" stroke="#f05225"/>
<path d="M282.1 81.8l1.5 .6-1.3 .7-1.5-.7z" fill="#f15d25" stroke="#f15d25"/>
<path d="M272.4 82.1l1.5 .7-1.3 .6-1.5-.8z" fill="#ee3a26" stroke="#ee3a26"/>
<path d="M275.2 82.2l1.5 .8-1.3 .6-1.5-.8z" fill="#ee3526" stroke="#ee3526"/>
<path d="M278 82.4l1.5 .7-1.3 .6-1.5-.7z" fill="#ee3726" stroke="#ee3726"/>
<path d="M280.8 82.4l1.5 .7-1.3 .7-1.5-.7z" fill="#ef3f25" stroke="#ef3f25"/>
<path d="M273.9 82.8l1.5 .8-1.3 .6-1.5-.8z" fill="#eb1f26" stroke="#eb1f26"/>
<path d="M276.7 83l1.5 .7-1.3 .7-1.5-.8z" fill="#eb1f26" stroke="#eb1f26"/>
<path d="M279.5 83.1l1.5 .7-1.3 .7-1.5-.8z" fill="#ec2126" stroke="#ec2126"/>
<path d="M275.4 83.6l1.5 .8-1.3 .6-1.5-.8z" fill="#df1e25" stroke="#df1e25"/>
<path d="M278.2 83.7l1.5 .8-1.3 .7-1.5-.8z" fill="#e01e25" stroke="#e01e25"/>
<path d="M276.9 84.4l1.5 .8-1.3 .6-1.5-.8z" fill="#c01f25" stroke="#c01f25"/>
<path d="M277.1 77.5l3 1.2 3 1.2 3 1.2-3 1.6-3 1.5-3 1.6-3-1.6-3-1.6-3-1.6 3-1.2 3-1.2z" class="ms"/>
<circle cx="277.1" cy="77.5" r="0.75"/>
<path d="M295.2 77l3 2.5-9 4.2-3.1-2.6z" fill="#fabc1b" stroke="#fabc1b"/>
<path d="M298.2 79.5l3 2.5-9 4.4-3-2.7z" fill="#f7d71a" stroke="#f7d71a"/>
<path d="M301.2 82l3 2.5-9 4.5-3-2.6z" fill="#e5dd26" stroke="#e5dd26"/>
<path d="M295.2 77l3 2.5 3 2.5 3 2.5-3 1.5-3 1.5-3 1.5-3-2.6-3-2.7-3.1-2.6 3.1-1.4 3-1.3z" class="ms"/>
<circle cx="295.2" cy="77" r="0.75"/>
<circle cx="304.2" cy="84.5" r="0.75"/>
<path d="M231.9 69.2l2.2 .6-.7 2.3-2.3-.7z" fill="#7a1012" stroke="#7a1012"/>
<path d="M231.1 71.4l2.3 .7-.8 2.3-2.3-.8z" fill="#7a1012" stroke="#7a1012"/>
<path d="M230.3 73.6l2.3 .8-.7 2.3-2.3-.9z" fill="#7a1012" stroke="#7a1012"/>
<path d="M234.1 69.8l2.3 .6-.8 2.4-2.2-.7z" fill="#7a1012" stroke="#7a1012"/>
<path d="M229.6 75.8l2.3 .9-.8 2.3-2.3-1.1z" fill="#7a1012" stroke="#7a1012"/>
<path d="M233.4 72.1l2.2 .7-.7 2.4-2.3-.8z" fill="#7a1012" stroke="#7a1012"/>
<path d="M228.8 77.9l2.3 1.1-.8 2.3-2.2-1.2z" fill="#ad1d23" stroke="#ad1d23"/>
<path d="M232.6 74.4l2.3 .8-.8 2.4-2.2-.9z" fill="#7a1012" stroke="#7a1012"/>
<path d="M228.1 80.1l2.2 1.2-.7 2.3-2.3-1.3z" fill="#e91f26" stroke="#e91f26"/>
<path d="M236.4 70.4l2.2 .6-.7 2.5-2.3-.7z" fill="#7a1012" stroke="#7a1012"/>
<path d="M231.9 76.7l2.2 .9-.7 2.5-2.3-1.1z" fill="#7a1012" stroke="#7a1012"/>
<path d="M227.3 82.3l2.3 1.3-.8 2.3-2.2-1.4z" fill="#f15f24" stroke="#f15f24"/>
<path d="M235.6 72.8l2.3 .7-.8 2.6-2.2-.9z" fill="#7a1012" stroke="#7a1012"/>
<path d="M231.1 79l2.3 1.1-.8 2.4-2.3-1.2z" fill="#a71c21" stroke="#a71c21"/>
<path d="M226.6 84.5l2.2 1.4-.7 2.4-2.3-1.6z" fill="#f8a21d" stroke="#f8a21d"/>
<path d="M234.9 75.2l2.2 .9-.7 2.5-2.3-1z" fill="#7a1012" stroke="#7a1012"/>
<path d="M230.3 81.3l2.3 1.2-.8 2.4-2.2-1.3z" fill="#e81f26" stroke="#e81f26"/>
<path d="M225.8 86.7l2.3 1.6-.8 2.3-2.2-1.7z" fill="#f5df1a" stroke="#f5df1a"/>
<path d="M238.6 71l2.3 .6-.8 2.6-2.2-.7z" fill="#7a1012" stroke="#7a1012"/>
<path d="M234.1 77.6l2.3 1-.8 2.5-2.2-1z" fill="#7a1012" stroke="#7a1012"/>
<path d="M229.6 83.6l2.2 1.3-.7 2.5-2.3-1.5z" fill="#f26224" stroke="#f26224"/>
<path d="M225.1 88.9l2.2 1.7-.7 2.3-2.3-1.8z" fill="#b9cf40" stroke="#b9cf40"/>
<path d="M237.9 73.5l2.2 .7-.7 2.7-2.3-.8z" fill="#7a1012" stroke="#7a1012"/>
<path d="M233.4 80.1l2.2 1-.7 2.6-2.3-1.2z" fill="#a11a1f" stroke="#a11a1f"/>
<path d="M228.8 85.9l2.3 1.5-.8 2.4-2.2-1.5z" fill="#f8aa1c" stroke="#f8aa1c"/>
<path d="M224.3 91.1l2.3 1.8-.8 2.3-2.2-1.9z" fill="#89c173" stroke="#89c173"/>
<path d="M237.1 76.1l2.3 .8-.8 2.6-2.2-.9z" fill="#7a1012" stroke="#7a1012"/>
<path d="M232.6 82.5l2.3 1.2-.8 2.5-2.3-1.3z" fill="#e81f26" stroke="#e81f26"/>
<path d="M228.1 88.3l2.2 1.5-.7 2.4-2.3-1.6z" fill="#ecdf21" stroke="#ecdf21"/>
<path d="M223.6 93.3l2.2 1.9-.7 2.3-2.3-2z" fill="#76c2b3" stroke="#76c2b3"/>
<path d="M236.4 78.6l2.2 .9-.7 2.7-2.3-1.1z" fill="#7a1012" stroke="#7a1012"/>
<path d="M231.8 84.9l2.3 1.3-.7 2.6-2.3-1.4z" fill="#f26624" stroke="#f26624"/>
<path d="M227.3 90.6l2.3 1.6-.8 2.4-2.2-1.7z" fill="#a7c946" stroke="#a7c946"/>
<path d="M235.6 81.1l2.3 1.1-.8 2.7-2.2-1.2z" fill="#9c191e" stroke="#9c191e"/>
<path d="M231.1 87.4l2.3 1.4-.8 2.5-2.3-1.5z" fill="#f9b11c" stroke="#f9b11c"/>
<path d="M226.6 92.9l2.2 1.7-.7 2.5-2.3-1.9z" fill="#82c089" stroke="#82c089"/>
<path d="M234.9 83.7l2.2 1.2-.7 2.6-2.3-1.3z" fill="#e71f26" stroke="#e71f26"/>
<path d="M230.3 89.8l2.3 1.5-.8 2.5-2.2-1.6z" fill="#e0db2a" stroke="#e0db2a"/>
<path d="M225.8 95.2l2.3 1.9-.8 2.4-2.2-2z" fill="#6dc5cd" stroke="#6dc5cd"/>
<path d="M234.1 86.2l2.3 1.3-.8 2.7-2.2-1.4z" fill="#f26a23" stroke="#f26a23"/>
<path d="M229.6 92.2l2.2 1.6-.7 2.6-2.3-1.8z" fill="#98c552" stroke="#98c552"/>
<path d="M233.4 88.8l2.2 1.4-.7 2.6-2.3-1.5z" fill="#fab91b" stroke="#fab91b"/>
<path d="M228.8 94.6l2.3 1.8-.8 2.5-2.2-1.8z" fill="#7dc19e" stroke="#7dc19e"/>
<path d="M232.6 91.3l2.3 1.5-.8 2.7-2.3-1.7z" fill="#d4d733" stroke="#d4d733"/>
<path d="M228.1 97.1l2.2 1.8-.7 2.6-2.3-2z" fill="#51c4e2" stroke="#51c4e2"/>
<path d="M231.8 93.8l2.3 1.7-.7 2.6-2.3-1.7z" fill="#90c365" stroke="#90c365"/>
<path d="M231.1 96.4l2.3 1.7-.8 2.7-2.3-1.9z" fill="#76c2b4" stroke="#76c2b4"/>
<path d="M230.3 98.9l2.3 1.9-.8 2.7-2.2-2z" fill="#3cbded" stroke="#3cbded"/>
<path d="M231.9 69.2l3 .8 3 .8 3 .8-3 10.6-3 10.6-3.1 10.7-3-2.7-3-2.6-3-2.7 3-8.8 3-8.8z" class="ms"/>
<circle cx="231.9" cy="69.2" r="0.75"/>
<circle cx="222.8" cy="95.5" r="0.75"/>
<path d="M249.9 80l9.1 5.8-9.1-5.8-9-8.4z" fill="#7a1012" stroke="#7a1012"/>
<path d="M249.9 80l3.1 1.9 3 2 3 1.9-3-2-3-1.9-3.1-1.9-3-2.8-3-2.8-3-2.8 3 2.8 3 2.8z" class="ms"/>
<circle cx="249.9" cy="80" r="0.75"/>
<path d="M268.1 81l1.5 .8-1.2 .6-1.5-.8z" fill="#f15a25" stroke="#f15a25"/>
<path d="M266.9 81.6l1.5 .8-1.1 .5-1.5-.7z" fill="#ee3726" stroke="#ee3726"/>
<path d="M269.6 81.8l1.5 .8-1.2 .5-1.5-.7z" fill="#ef3d25" stroke="#ef3d25"/>
<path d="M265.8 82.2l1.5 .7-1.1 .5-1.5-.6z" fill="#e81f26" stroke="#e81f26"/>
<path d="M268.4 82.4l1.5 .7-1.1 .5-1.5-.7z" fill="#eb1f26" stroke="#eb1f26"/>
<path d="M271.1 82.6l1.5 .8-1.2 .5-1.5-.8z" fill="#ec2026" stroke="#ec2026"/>
<path d="M264.7 82.8l1.5 .6-1.2 .6-1.5-.6z" fill="#cf1e25" stroke="#cf1e25"/>
<path d="M267.3 82.9l1.5 .7-1.1 .5-1.5-.7z" fill="#da1e25" stroke="#da1e25"/>
<path d="M269.9 83.1l1.5 .8-1.1 .4-1.5-.7z" fill="#e01e25" stroke="#e01e25"/>
<path d="M272.6 83.4l1.5 .8-1.1 .4-1.6-.7z" fill="#e11e25" stroke="#e11e25"/>
<path d="M263.5 83.4l1.5 .6-1.1 .5-1.5-.5z" fill="#ac1d22" stroke="#ac1d22"/>
<path d="M266.2 83.4l1.5 .7-1.2 .5-1.5-.6z" fill="#b71f25" stroke="#b71f25"/>
<path d="M268.8 83.6l1.5 .7-1.1 .4-1.5-.6z" fill="#c01f25" stroke="#c01f25"/>
<path d="M271.4 83.9l1.6 .7-1.2 .4-1.5-.7z" fill="#c31f25" stroke="#c31f25"/>
<path d="M262.4 84l1.5 .5-1.1 .6-1.5-.5z" fill="#8d1519" stroke="#8d1519"/>
<path d="M274.1 84.2l1.5 .8-1.1 .3-1.5-.7z" fill="#c31f25" stroke="#c31f25"/>
<path d="M265 84l1.5 .6-1.1 .4-1.5-.5z" fill="#9a181d" stroke="#9a181d"/>
<path d="M267.7 84.1l1.5 .6-1.1 .4-1.6-.5z" fill="#a31b20" stroke="#a31b20"/>
<path d="M270.3 84.3l1.5 .7-1.1 .4-1.5-.7z" fill="#a81c21" stroke="#a81c21"/>
<path d="M261.3 84.6l1.5 .5-1.2 .5-1.5-.4z" fill="#7a1012" stroke="#7a1012"/>
<path d="M273 84.6l1.5 .7-1.2 .4-1.5-.7z" fill="#a91c22" stroke="#a91c22"/>
<path d="M263.9 84.5l1.5 .5-1.1 .5-1.5-.4z" fill="#801215" stroke="#801215"/>
<path d="M275.6 85l1.5 .8-1.1 .3-1.5-.8z" fill="#a61c21" stroke="#a61c21"/>
<path d="M266.5 84.6l1.6 .5-1.2 .5-1.5-.6z" fill="#891418" stroke="#891418"/>
<path d="M269.2 84.7l1.5 .7-1.1 .3-1.5-.6z" fill="#8f161a" stroke="#8f161a"/>
<path d="M260.1 85.2l1.5 .4-1.1 .5-1.5-.3z" fill="#7a1012" stroke="#7a1012"/>
<path d="M271.8 85l1.5 .7-1.1 .3-1.5-.6z" fill="#92171b" stroke="#92171b"/>
<path d="M262.8 85.1l1.5 .4-1.2 .5-1.5-.4z" fill="#7a1012" stroke="#7a1012"/>
<path d="M274.5 85.3l1.5 .8-1.2 .3-1.5-.7z" fill="#91161b" stroke="#91161b"/>
<path d="M265.4 85l1.5 .6-1.1 .4-1.5-.5z" fill="#7a1012" stroke="#7a1012"/>
<path d="M268.1 85.1l1.5 .6-1.2 .4-1.5-.5z" fill="#7b1013" stroke="#7b1013"/>
<path d="M270.7 85.4l1.5 .6-1.1 .3-1.5-.6z" fill="#7f1114" stroke="#7f1114"/>
<path d="M261.6 85.6l1.5 .4-1.1 .5-1.5-.4z" fill="#7a1012" stroke="#7a1012"/>
<path d="M273.3 85.7l1.5 .7-1.1 .2-1.5-.6z" fill="#801214" stroke="#801214"/>
<path d="M264.3 85.5l1.5 .5-1.1 .4-1.6-.4z" fill="#7a1012" stroke="#7a1012"/>
<path d="M266.9 85.6l1.5 .5-1.1 .4-1.5-.5z" fill="#7a1012" stroke="#7a1012"/>
<path d="M269.6 85.7l1.5 .6-1.2 .3-1.5-.5z" fill="#7a1012" stroke="#7a1012"/>
<path d="M272.2 86l1.5 .6-1.1 .3-1.5-.6z" fill="#7a1012" stroke="#7a1012"/>
<path d="M263.1 86l1.6 .4-1.2 .5-1.5-.4z" fill="#7a1012" stroke="#7a1012"/>
<path d="M265.8 86l1.5 .5-1.1 .4-1.5-.5z" fill="#7a1012" stroke="#7a1012"/>
<path d="M268.4 86.1l1.5 .5-1.1 .3-1.5-.4z" fill="#7a1012" stroke="#7a1012"/>
<path d="M271.1 86.3l1.5 .6-1.2 .3-1.5-.6z" fill="#7a1012" stroke="#7a1012"/>
<path d="M264.7 86.4l1.5 .5-1.2 .3-1.5-.3z" fill="#7a1012" stroke="#7a1012"/>
<path d="M267.3 86.5l1.5 .4-1.1 .4-1.5-.4z" fill="#7a1012" stroke="#7a1012"/>
<path d="M269.9 86.6l1.5 .6-1.1 .2-1.5-.5z" fill="#7a1012" stroke="#7a1012"/>
<path d="M266.2 86.9l1.5 .4-1.2 .3-1.5-.4z" fill="#7a1012" stroke="#7a1012"/>
<path d="M268.8 86.9l1.5 .5-1.1 .3-1.5-.4z" fill="#7a1012" stroke="#7a1012"/>
<path d="M267.7 87.3l1.5 .4-1.1 .3-1.6-.4z" fill="#7a1012" stroke="#7a1012"/>
<path d="M268.1 81l3 1.6 3 1.6 3 1.6-3 .7-3 .7-3 .8-3.1-.8-3-.7-3-.7 3-1.6 3-1.6z" class="ms"/>
<circle cx="268.1" cy="81" r="0.75"/>
<path d="M286.1 81.1l1.6 1.3-1.3 .6-1.5-1.2z" fill="#f79a1d" stroke="#f79a1d"/>
<path d="M284.9 81.8l1.5 1.2-1.3 .6-1.5-1.2z" fill="#f47d21" stroke="#f47d21"/>
<path d="M287.7 82.4l1.5 1.3-1.3 .6-1.5-1.3z" fill="#f8a91c" stroke="#f8a91c"/>
<path d="M283.6 82.4l1.5 1.2-1.3 .6-1.5-1.1z" fill="#f15f24" stroke="#f15f24"/>
<path d="M286.4 83l1.5 1.3-1.3 .5-1.5-1.2z" fill="#f68f1e" stroke="#f68f1e"/>
<path d="M289.2 83.7l1.5 1.3-1.3 .5-1.5-1.2z" fill="#fab81b" stroke="#fab81b"/>
<path d="M282.3 83.1l1.5 1.1-1.3 .6-1.5-1z" fill="#ef4125" stroke="#ef4125"/>
<path d="M285.1 83.6l1.5 1.2-1.3 .5-1.5-1.1z" fill="#f37422" stroke="#f37422"/>
<path d="M287.9 84.3l1.5 1.2-1.3 .5-1.5-1.2z" fill="#f7a11d" stroke="#f7a11d"/>
<path d="M290.7 85l1.5 1.4-1.3 .4-1.5-1.3z" fill="#fbc61a" stroke="#fbc61a"/>
<path d="M281 83.8l1.5 1-1.3 .6-1.5-.9z" fill="#ec2226" stroke="#ec2226"/>
<path d="M283.8 84.2l1.5 1.1-1.3 .6-1.5-1.1z" fill="#f15925" stroke="#f15925"/>
<path d="M286.6 84.8l1.5 1.2-1.3 .5-1.5-1.2z" fill="#f5891f" stroke="#f5891f"/>
<path d="M289.4 85.5l1.5 1.3-1.3 .4-1.5-1.2z" fill="#f9b21c" stroke="#f9b21c"/>
<path d="M292.2 86.4l1.5 1.3-1.3 .3-1.5-1.2z" fill="#f7d41a" stroke="#f7d41a"/>
<path d="M279.7 84.5l1.5 .9-1.3 .7-1.5-.9z" fill="#e11e25" stroke="#e11e25"/>
<path d="M282.5 84.8l1.5 1.1-1.3 .5-1.5-1z" fill="#ee3c26" stroke="#ee3c26"/>
<path d="M285.3 85.3l1.5 1.2-1.3 .4-1.5-1z" fill="#f37022" stroke="#f37022"/>
<path d="M288.1 86l1.5 1.2-1.3 .4-1.5-1.1z" fill="#f79d1d" stroke="#f79d1d"/>
<path d="M290.9 86.8l1.5 1.2-1.3 .4-1.5-1.2z" fill="#fbc21a" stroke="#fbc21a"/>
<path d="M293.7 87.7l1.5 1.3-1.3 .3-1.5-1.3z" fill="#f4e21a" stroke="#f4e21a"/>
<path d="M278.4 85.2l1.5 .9-1.3 .6-1.5-.9z" fill="#c21f25" stroke="#c21f25"/>
<path d="M281.2 85.4l1.5 1-1.3 .6-1.5-.9z" fill="#ec2026" stroke="#ec2026"/>
<path d="M284 85.9l1.5 1-1.3 .5-1.5-1z" fill="#f15725" stroke="#f15725"/>
<path d="M286.8 86.5l1.5 1.1-1.3 .4-1.5-1.1z" fill="#f5871f" stroke="#f5871f"/>
<path d="M289.6 87.2l1.5 1.2-1.3 .3-1.5-1.1z" fill="#f9b01c" stroke="#f9b01c"/>
<path d="M292.4 88l1.5 1.3-1.3 .2-1.5-1.1z" fill="#f8d21a" stroke="#f8d21a"/>
<path d="M279.9 86.1l1.5 .9-1.3 .5-1.5-.8z" fill="#e11e25" stroke="#e11e25"/>
<path d="M282.7 86.4l1.5 1-1.3 .5-1.5-.9z" fill="#ee3c26" stroke="#ee3c26"/>
<path d="M285.5 86.9l1.5 1.1-1.3 .4-1.5-1z" fill="#f37022" stroke="#f37022"/>
<path d="M288.3 87.6l1.5 1.1-1.3 .3-1.5-1z" fill="#f79d1d" stroke="#f79d1d"/>
<path d="M291.1 88.4l1.5 1.1-1.3 .3-1.5-1.1z" fill="#fbc21a" stroke="#fbc21a"/>
<path d="M281.4 87l1.5 .9-1.3 .5-1.5-.9z" fill="#ec2226" stroke="#ec2226"/>
<path d="M284.2 87.4l1.5 1-1.3 .4-1.5-.9z" fill="#f15925" stroke="#f15925"/>
<path d="M287 88l1.5 1-1.3 .4-1.5-1z" fill="#f5891f" stroke="#f5891f"/>
<path d="M289.8 88.7l1.5 1.1-1.3 .3-1.5-1.1z" fill="#f9b21c" stroke="#f9b21c"/>
<path d="M282.9 87.9l1.5 .9-1.3 .4-1.5-.8z" fill="#ef4125" stroke="#ef4125"/>
<path d="M285.7 88.4l1.5 1-1.3 .3-1.5-.9z" fill="#f37422" stroke="#f37422"/>
<path d="M288.5 89l1.5 1.1-1.3 .2-1.5-.9z" fill="#f7a11d" stroke="#f7a11d"/>
<path d="M284.4 88.8l1.5 .9-1.3 .3-1.5-.8z" fill="#f15f24" stroke="#f15f24"/>
<path d="M287.2 89.4l1.5 .9-1.3 .3-1.5-.9z" fill="#f68f1e" stroke="#f68f1e"/>
<path d="M285.9 89.7l1.5 .9-1.2 .3-1.6-.9z" fill="#f47d21" stroke="#f47d21"/>
<path d="M286.1 81.1l3.1 2.6 3 2.7 3 2.6-3 .6-3 .7-3 .6-3.1-1.7-3-1.7-3-1.7 3-1.6 3-1.5z" class="ms"/>
<circle cx="286.1" cy="81.1" r="0.75"/>
<circle cx="295.2" cy="89" r="0.75"/>
<path d="M240.9 71.6l2.3 2.1-.8 2.6-2.3-2.1z" fill="#7a1012" stroke="#7a1012"/>
<path d="M240.1 74.2l2.3 2.1-.7 2.7-2.3-2.1z" fill="#7a1012" stroke="#7a1012"/>
<path d="M239.4 76.9l2.3 2.1-.8 2.7-2.3-2.2z" fill="#7a1012" stroke="#7a1012"/>
<path d="M243.2 73.7l2.2 2.1-.7 2.7-2.3-2.2z" fill="#7a1012" stroke="#7a1012"/>
<path d="M238.6 79.5l2.3 2.2-.8 2.6-2.2-2.1z" fill="#7a1012" stroke="#7a1012"/>
<path d="M242.4 76.3l2.3 2.2-.8 2.6-2.2-2.1z" fill="#7a1012" stroke="#7a1012"/>
<path d="M237.9 82.2l2.2 2.1-.7 2.7-2.3-2.1z" fill="#a71c21" stroke="#a71c21"/>
<path d="M241.7 79l2.2 2.1-.7 2.7-2.3-2.1z" fill="#7a1012" stroke="#7a1012"/>
<path d="M237.1 84.9l2.3 2.1-.8 2.7-2.2-2.2z" fill="#ec2326" stroke="#ec2326"/>
<path d="M245.4 75.8l2.3 2.1-.8 2.7-2.2-2.1z" fill="#7a1012" stroke="#7a1012"/>
<path d="M240.9 81.7l2.3 2.1-.8 2.7-2.3-2.2z" fill="#7a1012" stroke="#7a1012"/>
<path d="M236.4 87.5l2.2 2.2-.7 2.6-2.3-2.1z" fill="#f47b21" stroke="#f47b21"/>
<path d="M244.7 78.5l2.2 2.1-.7 2.7-2.3-2.2z" fill="#7a1012" stroke="#7a1012"/>
<path d="M240.1 84.3l2.3 2.2-.7 2.7-2.3-2.2z" fill="#c61f25" stroke="#c61f25"/>
<path d="M235.6 90.2l2.3 2.1-.8 2.7-2.2-2.2z" fill="#facb1a" stroke="#facb1a"/>
<path d="M243.9 81.1l2.3 2.2-.8 2.6-2.2-2.1z" fill="#7a1012" stroke="#7a1012"/>
<path d="M239.4 87l2.3 2.2-.8 2.6-2.3-2.1z" fill="#ef4325" stroke="#ef4325"/>
<path d="M234.9 92.8l2.2 2.2-.7 2.7-2.3-2.2z" fill="#bfd03e" stroke="#bfd03e"/>
<path d="M247.7 77.9l2.2 2.1-.7 2.7-2.3-2.1z" fill="#7a1012" stroke="#7a1012"/>
<path d="M243.2 83.8l2.2 2.1-.7 2.7-2.3-2.1z" fill="#90161a" stroke="#90161a"/>
<path d="M238.6 89.7l2.3 2.1-.8 2.7-2.2-2.2z" fill="#f7991d" stroke="#f7991d"/>
<path d="M234.1 95.5l2.3 2.2-.8 2.6-2.2-2.2z" fill="#85c07e" stroke="#85c07e"/>
<path d="M246.9 80.6l2.3 2.1-.8 2.7-2.2-2.1z" fill="#7a1012" stroke="#7a1012"/>
<path d="M242.4 86.5l2.3 2.1-.8 2.7-2.2-2.1z" fill="#e31e25" stroke="#e31e25"/>
<path d="M237.9 92.3l2.2 2.2-.7 2.7-2.3-2.2z" fill="#f1e11c" stroke="#f1e11c"/>
<path d="M233.4 98.1l2.2 2.2-.7 2.7-2.3-2.2z" fill="#6dc5cc" stroke="#6dc5cc"/>
<path d="M246.2 83.3l2.2 2.1-.7 2.7-2.3-2.2z" fill="#7a1012" stroke="#7a1012"/>
<path d="M241.7 89.2l2.2 2.1-.7 2.7-2.3-2.2z" fill="#f26224" stroke="#f26224"/>
<path d="M237.1 95l2.3 2.2-.8 2.7-2.2-2.2z" fill="#a0c748" stroke="#a0c748"/>
<path d="M232.6 100.8l2.3 2.2-.8 2.7-2.3-2.2z" fill="#3aa1e0" stroke="#3aa1e0"/>
<path d="M245.4 85.9l2.3 2.2-.8 2.7-2.2-2.2z" fill="#ad1d23" stroke="#ad1d23"/>
<path d="M240.9 91.8l2.3 2.2-.8 2.7-2.3-2.2z" fill="#f9b51b" stroke="#f9b51b"/>
<path d="M236.4 97.7l2.2 2.2-.7 2.6-2.3-2.2z" fill="#7ec19a" stroke="#7ec19a"/>
<path d="M244.7 88.6l2.2 2.2-.7 2.7-2.3-2.2z" fill="#ed2926" stroke="#ed2926"/>
<path d="M240.1 94.5l2.3 2.2-.7 2.7-2.3-2.2z" fill="#d6d831" stroke="#d6d831"/>
<path d="M235.6 100.3l2.3 2.2-.8 2.7-2.2-2.2z" fill="#4ec4e4" stroke="#4ec4e4"/>
<path d="M243.9 91.3l2.3 2.2-.8 2.7-2.2-2.2z" fill="#f48120" stroke="#f48120"/>
<path d="M239.4 97.2l2.3 2.2-.8 2.7-2.3-2.2z" fill="#90c365" stroke="#90c365"/>
<path d="M234.9 103l2.2 2.2-.7 2.7-2.3-2.2z" fill="#3a7ecc" stroke="#3a7ecc"/>
<path d="M243.2 94l2.2 2.2-.7 2.7-2.3-2.2z" fill="#f8d01a" stroke="#f8d01a"/>
<path d="M238.6 99.9l2.3 2.2-.8 2.6-2.2-2.2z" fill="#75c3b6" stroke="#75c3b6"/>
<path d="M242.4 96.7l2.3 2.2-.8 2.7-2.2-2.2z" fill="#b9cf40" stroke="#b9cf40"/>
<path d="M237.9 102.5l2.2 2.2-.7 2.7-2.3-2.2z" fill="#3bbaec" stroke="#3bbaec"/>
<path d="M241.7 99.4l2.2 2.2-.7 2.7-2.3-2.2z" fill="#84c083" stroke="#84c083"/>
<path d="M237.1 105.2l2.3 2.2-.8 2.7-2.2-2.2z" fill="#3a65ba" stroke="#3a65ba"/>
<path d="M240.9 102.1l2.3 2.2-.8 2.6-2.3-2.2z" fill="#6ac5d2" stroke="#6ac5d2"/>
<path d="M240.1 104.7l2.3 2.2-.7 2.7-2.3-2.2z" fill="#3a9add" stroke="#3a9add"/>
<path d="M239.4 107.4l2.3 2.2-.8 2.7-2.3-2.2z" fill="#3a56ad" stroke="#3a56ad"/>
<path d="M240.9 71.6l3 2.8 3 2.8 3 2.8-3 10.8-3 10.8-3 10.7-3-2.9-3-3-3.1-2.9 3.1-10.7 3-10.6z" class="ms"/>
<circle cx="240.9" cy="71.6" r="0.75"/>
<circle cx="231.8" cy="103.5" r="0.75"/>
<path d="M259 85.8l9.1 2.2-9.1-2.2-9.1-5.8z" fill="#7a1012" stroke="#7a1012"/>
<path d="M259 85.8l3 .7 3 .7 3.1 .8-3.1-.8-3-.7-3-.7-3-2-3-1.9-3.1-1.9 3.1 1.9 3 1.9z" class="ms"/>
<circle cx="259" cy="85.8" r="0.75"/>
<path d="M277.1 85.8l1.5 .9-1.1 .2-1.5-.8z" fill="#a71c21" stroke="#a71c21"/>
<path d="M276 86.1l1.5 .8-1.2 .1-1.5-.6z" fill="#93171b" stroke="#93171b"/>
<path d="M278.6 86.7l1.5 .8-1.1 .1-1.5-.7z" fill="#c61f25" stroke="#c61f25"/>
<path d="M274.8 86.4l1.5 .6-1.1 .2-1.5-.6z" fill="#811215" stroke="#811215"/>
<path d="M277.5 86.9l1.5 .7-1.1 .1-1.6-.7z" fill="#ad1d23" stroke="#ad1d23"/>
<path d="M280.1 87.5l1.5 .9-1.1 0-1.5-.8z" fill="#e31e25" stroke="#e31e25"/>
<path d="M273.7 86.6l1.5 .6-1.1 .2-1.5-.5z" fill="#7a1012" stroke="#7a1012"/>
<path d="M276.3 87l1.6 .7-1.2 .1-1.5-.6z" fill="#97181d" stroke="#97181d"/>
<path d="M279 87.6l1.5 .8-1.1 0-1.5-.7z" fill="#cc1e25" stroke="#cc1e25"/>
<path d="M281.6 88.4l1.5 .8-1.1-.1-1.5-.7z" fill="#ed2826" stroke="#ed2826"/>
<path d="M272.6 86.9l1.5 .5-1.1 .2-1.6-.4z" fill="#7a1012" stroke="#7a1012"/>
<path d="M275.2 87.2l1.5 .6-1.1 .1-1.5-.5z" fill="#841316" stroke="#841316"/>
<path d="M277.9 87.7l1.5 .7-1.2 0-1.5-.6z" fill="#b11e24" stroke="#b11e24"/>
<path d="M280.5 88.4l1.5 .7-1.1 0-1.5-.7z" fill="#e41e25" stroke="#e41e25"/>
<path d="M271.4 87.2l1.6 .4-1.2 .2-1.5-.4z" fill="#7a1012" stroke="#7a1012"/>
<path d="M283.1 89.2l1.5 .8-1.1-.1-1.5-.8z" fill="#ef4725" stroke="#ef4725"/>
<path d="M274.1 87.4l1.5 .5-1.1 .1-1.5-.4z" fill="#7a1012" stroke="#7a1012"/>
<path d="M276.7 87.8l1.5 .6-1.1 .1-1.5-.6z" fill="#9a181d" stroke="#9a181d"/>
<path d="M279.4 88.4l1.5 .7-1.2-.1-1.5-.6z" fill="#cf1e25" stroke="#cf1e25"/>
<path d="M270.3 87.4l1.5 .4-1.1 .2-1.5-.3z" fill="#7a1012" stroke="#7a1012"/>
<path d="M282 89.1l1.5 .8-1.1-.1-1.5-.7z" fill="#ed2a26" stroke="#ed2a26"/>
<path d="M273 87.6l1.5 .4-1.2 .1-1.5-.3z" fill="#7a1012" stroke="#7a1012"/>
<path d="M284.6 90l1.6 .9-1.2-.2-1.5-.8z" fill="#f26524" stroke="#f26524"/>
<path d="M275.6 87.9l1.5 .6-1.1 0-1.5-.5z" fill="#851316" stroke="#851316"/>
<path d="M278.2 88.4l1.5 .6-1.1 0-1.5-.5z" fill="#b21e24" stroke="#b21e24"/>
<path d="M269.2 87.7l1.5 .3-1.1 .2-1.5-.2z" fill="#7a1012" stroke="#7a1012"/>
<path d="M280.9 89.1l1.5 .7-1.2-.2-1.5-.6z" fill="#e51e25" stroke="#e51e25"/>
<path d="M271.8 87.8l1.5 .3-1.1 .1-1.5-.2z" fill="#7a1012" stroke="#7a1012"/>
<path d="M283.5 89.9l1.5 .8-1.1-.2-1.5-.7z" fill="#ef4825" stroke="#ef4825"/>
<path d="M274.5 88l1.5 .5-1.2 0-1.5-.4z" fill="#7a1012" stroke="#7a1012"/>
<path d="M277.1 88.5l1.5 .5-1.1-.1-1.5-.4z" fill="#9a181d" stroke="#9a181d"/>
<path d="M279.7 89l1.5 .6-1.1-.1-1.5-.5z" fill="#cf1e25" stroke="#cf1e25"/>
<path d="M270.7 88l1.5 .2-1.1 .2-1.5-.2z" fill="#7a1012" stroke="#7a1012"/>
<path d="M282.4 89.8l1.5 .7-1.1-.3-1.6-.6z" fill="#ed2a26" stroke="#ed2a26"/>
<path d="M273.3 88.1l1.5 .4-1.1 0-1.5-.3z" fill="#7a1012" stroke="#7a1012"/>
<path d="M276 88.5l1.5 .4-1.2 0-1.5-.4z" fill="#841316" stroke="#841316"/>
<path d="M278.6 89l1.5 .5-1.1-.1-1.5-.5z" fill="#b11e24" stroke="#b11e24"/>
<path d="M281.2 89.6l1.6 .6-1.2-.2-1.5-.5z" fill="#e41e25" stroke="#e41e25"/>
<path d="M272.2 88.2l1.5 .3-1.1 .1-1.5-.2z" fill="#7a1012" stroke="#7a1012"/>
<path d="M274.8 88.5l1.5 .4-1.1-.1-1.5-.3z" fill="#7a1012" stroke="#7a1012"/>
<path d="M277.5 88.9l1.5 .5-1.1-.2-1.6-.3z" fill="#97181d" stroke="#97181d"/>
<path d="M280.1 89.5l1.5 .5-1.1-.2-1.5-.4z" fill="#cc1e25" stroke="#cc1e25"/>
<path d="M273.7 88.5l1.5 .3-1.1 0-1.5-.2z" fill="#7a1012" stroke="#7a1012"/>
<path d="M276.3 88.9l1.6 .3-1.2-.1-1.5-.3z" fill="#811215" stroke="#811215"/>
<path d="M279 89.4l1.5 .4-1.1-.2-1.5-.4z" fill="#ad1d23" stroke="#ad1d23"/>
<path d="M275.2 88.8l1.5 .3-1.1-.1-1.5-.2z" fill="#7a1012" stroke="#7a1012"/>
<path d="M277.9 89.2l1.5 .4-1.2-.2-1.5-.3z" fill="#93171b" stroke="#93171b"/>
<path d="M276.7 89.1l1.5 .3-1.1-.2-1.5-.2z" fill="#7d1113" stroke="#7d1113"/>
<path d="M277.1 85.8l3 1.7 3 1.7 3.1 1.7-3.1-.6-3-.6-3-.5-3-.4-3-.4-3-.4 3-.8 3-.7z" class="ms"/>
<circle cx="277.1" cy="85.8" r="0.75"/>
<circle cx="286.2" cy="90.9" r="0.75"/>
<path d="M249.9 80l2.3 1.4-.7 2.7-2.3-1.4z" fill="#7a1012" stroke="#7a1012"/>
<path d="M249.2 82.7l2.3 1.4-.8 2.7-2.3-1.4z" fill="#7a1012" stroke="#7a1012"/>
<path d="M248.4 85.4l2.3 1.4-.8 2.7-2.2-1.4z" fill="#7a1012" stroke="#7a1012"/>
<path d="M252.2 81.4l2.3 1.5-.8 2.7-2.2-1.5z" fill="#7a1012" stroke="#7a1012"/>
<path d="M247.7 88.1l2.2 1.4-.7 2.7-2.3-1.4z" fill="#c51f25" stroke="#c51f25"/>
<path d="M251.5 84.1l2.2 1.5-.7 2.7-2.3-1.5z" fill="#7a1012" stroke="#7a1012"/>
<path d="M246.9 90.8l2.3 1.4-.8 2.8-2.2-1.5z" fill="#ef4325" stroke="#ef4325"/>
<path d="M250.7 86.8l2.3 1.5-.8 2.7-2.3-1.5z" fill="#831316" stroke="#831316"/>
<path d="M246.2 93.5l2.2 1.5-.7 2.7-2.3-1.5z" fill="#f79a1d" stroke="#f79a1d"/>
<path d="M254.5 82.9l2.2 1.4-.7 2.7-2.3-1.4z" fill="#7a1012" stroke="#7a1012"/>
<path d="M249.9 89.5l2.3 1.5-.7 2.7-2.3-1.5z" fill="#d81e25" stroke="#d81e25"/>
<path d="M245.4 96.2l2.3 1.5-.8 2.7-2.2-1.5z" fill="#efe01e" stroke="#efe01e"/>
<path d="M253.7 85.6l2.3 1.4-.8 2.8-2.2-1.5z" fill="#7a1012" stroke="#7a1012"/>
<path d="M249.2 92.2l2.3 1.5-.8 2.7-2.3-1.4z" fill="#f15625" stroke="#f15625"/>
<path d="M244.7 98.9l2.2 1.5-.7 2.7-2.3-1.5z" fill="#9ec649" stroke="#9ec649"/>
<path d="M253 88.3l2.2 1.5-.7 2.7-2.3-1.5z" fill="#8e161a" stroke="#8e161a"/>
<path d="M248.4 95l2.3 1.4-.7 2.8-2.3-1.5z" fill="#f9ad1c" stroke="#f9ad1c"/>
<path d="M243.9 101.6l2.3 1.5-.8 2.7-2.2-1.5z" fill="#7dc19d" stroke="#7dc19d"/>
<path d="M256.7 84.3l2.3 1.5-.8 2.7-2.2-1.5z" fill="#7a1012" stroke="#7a1012"/>
<path d="M252.2 91l2.3 1.5-.8 2.7-2.2-1.5z" fill="#e41e25" stroke="#e41e25"/>
<path d="M247.7 97.7l2.3 1.5-.8 2.7-2.3-1.5z" fill="#dcda2d" stroke="#dcda2d"/>
<path d="M243.2 104.3l2.2 1.5-.7 2.7-2.3-1.6z" fill="#49c4e8" stroke="#49c4e8"/>
<path d="M256 87l2.2 1.5-.7 2.7-2.3-1.4z" fill="#7a1012" stroke="#7a1012"/>
<path d="M251.5 93.7l2.2 1.5-.7 2.7-2.3-1.5z" fill="#f26923" stroke="#f26923"/>
<path d="M246.9 100.4l2.3 1.5-.8 2.7-2.2-1.5z" fill="#91c362" stroke="#91c362"/>
<path d="M242.4 106.9l2.3 1.6-.8 2.7-2.2-1.6z" fill="#3a77c7" stroke="#3a77c7"/>
<path d="M255.2 89.8l2.3 1.4-.8 2.8-2.2-1.5z" fill="#9c191e" stroke="#9c191e"/>
<path d="M250.7 96.4l2.3 1.5-.8 2.8-2.2-1.5z" fill="#fabf1a" stroke="#fabf1a"/>
<path d="M246.2 103.1l2.2 1.5-.7 2.7-2.3-1.5z" fill="#75c3b6" stroke="#75c3b6"/>
<path d="M241.7 109.6l2.2 1.6-.7 2.7-2.3-1.6z" fill="#3a4da6" stroke="#3a4da6"/>
<path d="M254.5 92.5l2.2 1.5-.7 2.7-2.3-1.5z" fill="#eb1f26" stroke="#eb1f26"/>
<path d="M250 99.2l2.2 1.5-.7 2.7-2.3-1.5z" fill="#c7d33b" stroke="#c7d33b"/>
<path d="M245.4 105.8l2.3 1.5-.8 2.7-2.2-1.5z" fill="#3ab8eb" stroke="#3ab8eb"/>
<path d="M253.7 95.2l2.3 1.5-.8 2.7-2.2-1.5z" fill="#f47c21" stroke="#f47c21"/>
<path d="M249.2 101.9l2.3 1.5-.8 2.7-2.3-1.5z" fill="#86c07b" stroke="#86c07b"/>
<path d="M244.7 108.5l2.2 1.5-.7 2.7-2.3-1.5z" fill="#3a62b7" stroke="#3a62b7"/>
<path d="M253 97.9l2.2 1.5-.7 2.8-2.3-1.5z" fill="#f8d11a" stroke="#f8d11a"/>
<path d="M248.4 104.6l2.3 1.5-.7 2.7-2.3-1.5z" fill="#6dc5ce" stroke="#6dc5ce"/>
<path d="M243.9 111.2l2.3 1.5-.8 2.8-2.2-1.6z" fill="#3947a1" stroke="#3947a1"/>
<path d="M252.2 100.7l2.3 1.5-.8 2.7-2.2-1.5z" fill="#b1cc43" stroke="#b1cc43"/>
<path d="M247.7 107.3l2.3 1.5-.8 2.8-2.3-1.6z" fill="#3a9add" stroke="#3a9add"/>
<path d="M251.5 103.4l2.2 1.5-.7 2.7-2.3-1.5z" fill="#80c191" stroke="#80c191"/>
<path d="M246.9 110l2.3 1.6-.8 2.7-2.2-1.6z" fill="#3a53ab" stroke="#3a53ab"/>
<path d="M250.7 106.1l2.3 1.5-.8 2.8-2.2-1.6z" fill="#51c4e2" stroke="#51c4e2"/>
<path d="M246.2 112.7l2.2 1.6-.7 2.7-2.3-1.5z" fill="#333e96" stroke="#333e96"/>
<path d="M250 108.8l2.2 1.6-.7 2.7-2.3-1.5z" fill="#3a79c8" stroke="#3a79c8"/>
<path d="M249.2 111.6l2.3 1.5-.8 2.8-2.3-1.6z" fill="#3a4da6" stroke="#3a4da6"/>
<path d="M248.4 114.3l2.3 1.6-.8 2.7-2.2-1.6z" fill="#2d348a" stroke="#2d348a"/>
<path d="M249.9 80l3.1 1.9 3 1.9 3 2-3 10.9-3 10.9-3.1 11-3-2.1-3-2.1-3-2.1 3-10.7 3-10.8z" class="ms"/>
<circle cx="249.9" cy="80" r="0.75"/>
<circle cx="240.9" cy="112.3" r="0.75"/>
<path d="M268.1 88l1.2 .1-1.2 0-1.3-.5z" fill="#7a1012" stroke="#7a1012"/>
<path d="M266.8 87.6l1.3 .5-1.3-.1-1.3-.7z" fill="#7a1012" stroke="#7a1012"/>
<path d="M269.3 88.1l1.3 .2-1.3 .2-1.2-.4z" fill="#7a1012" stroke="#7a1012"/>
<path d="M265.5 87.3l1.3 .7-1.3 0-1.3-1z" fill="#7a1012" stroke="#7a1012"/>
<path d="M270.6 88.3l1.3 .2-1.3 .4-1.3-.4z" fill="#7a1012" stroke="#7a1012"/>
<path d="M268.1 88.1l1.2 .4-1.2 .2-1.3-.7z" fill="#7a1012" stroke="#7a1012"/>
<path d="M271.9 88.5l1.3 .1-1.3 .8-1.3-.5z" fill="#7a1012" stroke="#7a1012"/>
<path d="M269.3 88.5l1.3 .4-1.3 .5-1.2-.7z" fill="#7a1012" stroke="#7a1012"/>
<path d="M264.2 87l1.3 1-1.3-.1-1.3-1.2z" fill="#7a1012" stroke="#7a1012"/>
<path d="M266.8 88l1.3 .7-1.3 .2-1.3-.9z" fill="#7a1012" stroke="#7a1012"/>
<path d="M273.2 88.6l1.3 .2-1.3 1-1.3-.4z" fill="#7a1012" stroke="#7a1012"/>
<path d="M270.6 88.9l1.3 .5-1.3 .7-1.3-.7z" fill="#7a1012" stroke="#7a1012"/>
<path d="M262.9 86.7l1.3 1.2-1.3 0-1.3-1.5z" fill="#7a1012" stroke="#7a1012"/>
<path d="M268.1 88.7l1.2 .7-1.2 .5-1.3-1z" fill="#7a1012" stroke="#7a1012"/>
<path d="M265.5 88l1.3 .9-1.3 .3-1.3-1.3z" fill="#7a1012" stroke="#7a1012"/>
<path d="M271.9 89.4l1.3 .4-1.3 1-1.3-.7z" fill="#7a1012" stroke="#7a1012"/>
<path d="M274.5 88.8l1.3 .2-1.3 1.3-1.3-.5z" fill="#7a1012" stroke="#7a1012"/>
<path d="M269.3 89.4l1.3 .7-1.3 .8-1.2-1z" fill="#7a1012" stroke="#7a1012"/>
<path d="M266.8 88.9l1.3 1-1.3 .5-1.3-1.2z" fill="#7a1012" stroke="#7a1012"/>
<path d="M264.2 87.9l1.3 1.3-1.3 .2-1.3-1.5z" fill="#7a1012" stroke="#7a1012"/>
<path d="M261.6 86.4l1.3 1.5-1.3-.1-1.3-1.7z" fill="#7a1012" stroke="#7a1012"/>
<path d="M275.8 89l1.3 .2-1.3 1.5-1.3-.4z" fill="#7d1113" stroke="#7d1113"/>
<path d="M273.2 89.8l1.3 .5-1.3 1.2-1.3-.7z" fill="#7e1113" stroke="#7e1113"/>
<path d="M270.6 90.1l1.3 .7-1.3 1-1.3-.9z" fill="#7a1012" stroke="#7a1012"/>
<path d="M268.1 89.9l1.2 1-1.2 .7-1.3-1.2z" fill="#7a1012" stroke="#7a1012"/>
<path d="M265.5 89.2l1.3 1.2-1.3 .5-1.3-1.5z" fill="#7a1012" stroke="#7a1012"/>
<path d="M262.9 87.9l1.3 1.5-1.3 .2-1.3-1.8z" fill="#7a1012" stroke="#7a1012"/>
<path d="M260.3 86.1l1.3 1.7-1.3 0-1.3-2z" fill="#7a1012" stroke="#7a1012"/>
<path d="M274.5 90.3l1.3 .4-1.3 1.5-1.3-.7z" fill="#91161b" stroke="#91161b"/>
<path d="M271.9 90.8l1.3 .7-1.3 1.3-1.3-1z" fill="#8c1519" stroke="#8c1519"/>
<path d="M269.3 90.9l1.3 .9-1.3 1-1.2-1.2z" fill="#811215" stroke="#811215"/>
<path d="M266.8 90.4l1.3 1.2-1.3 .8-1.3-1.5z" fill="#7a1012" stroke="#7a1012"/>
<path d="M261.6 87.8l1.3 1.8-1.3 .2-1.3-2z" fill="#7a1012" stroke="#7a1012"/>
<path d="M264.2 89.4l1.3 1.5-1.3 .4-1.3-1.7z" fill="#7a1012" stroke="#7a1012"/>
<path d="M273.2 91.5l1.3 .7-1.3 1.6-1.3-1z" fill="#a91c22" stroke="#a91c22"/>
<path d="M270.6 91.8l1.3 1-1.3 1.3-1.3-1.3z" fill="#a01a1f" stroke="#a01a1f"/>
<path d="M268.1 91.6l1.2 1.2-1.2 1.1-1.3-1.5z" fill="#8d1519" stroke="#8d1519"/>
<path d="M265.5 90.9l1.3 1.5-1.3 .7-1.3-1.8z" fill="#7a1012" stroke="#7a1012"/>
<path d="M262.9 89.6l1.3 1.7-1.3 .5-1.3-2z" fill="#7a1012" stroke="#7a1012"/>
<path d="M271.9 92.8l1.3 1-1.3 1.5-1.3-1.2z" fill="#c51f25" stroke="#c51f25"/>
<path d="M269.3 92.8l1.3 1.3-1.3 1.3-1.2-1.5z" fill="#b41f25" stroke="#b41f25"/>
<path d="M266.8 92.4l1.3 1.5-1.3 1-1.3-1.8z" fill="#9b191e" stroke="#9b191e"/>
<path d="M264.2 91.3l1.3 1.8-1.3 .7-1.3-2z" fill="#7d1113" stroke="#7d1113"/>
<path d="M268.1 93.9l1.2 1.5-1.2 1.2-1.3-1.7z" fill="#cb1e25" stroke="#cb1e25"/>
<path d="M265.5 93.1l1.3 1.8-1.3 1-1.3-2.1z" fill="#aa1c22" stroke="#aa1c22"/>
<path d="M270.6 94.1l1.3 1.2-1.3 1.5-1.3-1.4z" fill="#e11e25" stroke="#e11e25"/>
<path d="M266.8 94.9l1.3 1.7-1.3 1.3-1.3-2z" fill="#e11e25" stroke="#e11e25"/>
<path d="M269.3 95.4l1.3 1.4-1.3 1.6-1.2-1.8z" fill="#ec1f26" stroke="#ec1f26"/>
<path d="M268.1 96.6l1.2 1.8-1.2 1.5-1.3-2z" fill="#ee3a26" stroke="#ee3a26"/>
<path d="M268.1 88l3 .4 3 .4 3 .4-3 3.5-3 3.6-3 3.6-3.1-4.7-3-4.7-3-4.7 3 .7 3 .7z" class="ms"/>
<circle cx="268.1" cy="88" r="0.75"/>
<circle cx="277.1" cy="89.2" r="0.75"/>
<path d="M259 85.8l1.3 2-.8 2.6-1.3-1.9z" fill="#7a1012" stroke="#7a1012"/>
<path d="M258.2 88.5l1.3 1.9-.7 2.7-1.3-1.9z" fill="#7a1012" stroke="#7a1012"/>
<path d="M260.3 87.8l1.3 2-.8 2.6-1.3-2z" fill="#7a1012" stroke="#7a1012"/>
<path d="M257.5 91.2l1.3 1.9-.8 2.6-1.3-1.7z" fill="#b91f25" stroke="#b91f25"/>
<path d="M259.5 90.4l1.3 2-.7 2.5-1.3-1.8z" fill="#91161b" stroke="#91161b"/>
<path d="M256.7 94l1.3 1.7-.7 2.7-1.3-1.7z" fill="#ee3c26" stroke="#ee3c26"/>
<path d="M261.6 89.8l1.3 2-.8 2.5-1.3-1.9z" fill="#7a1012" stroke="#7a1012"/>
<path d="M258.8 93.1l1.3 1.8-.8 2.6-1.3-1.8z" fill="#e51e25" stroke="#e51e25"/>
<path d="M256 96.7l1.3 1.7-.8 2.6-1.3-1.6z" fill="#f7981e" stroke="#f7981e"/>
<path d="M260.8 92.4l1.3 1.9-.7 2.5-1.3-1.9z" fill="#c11f25" stroke="#c11f25"/>
<path d="M258 95.7l1.3 1.8-.7 2.5-1.3-1.6z" fill="#f26723" stroke="#f26723"/>
<path d="M255.2 99.4l1.3 1.6-.7 2.7-1.3-1.5z" fill="#ede020" stroke="#ede020"/>
<path d="M262.9 91.8l1.3 2-.8 2.4-1.3-1.9z" fill="#a31b20" stroke="#a31b20"/>
<path d="M260.1 94.9l1.3 1.9-.8 2.4-1.3-1.7z" fill="#ee3c26" stroke="#ee3c26"/>
<path d="M257.3 98.4l1.3 1.6-.8 2.6-1.3-1.6z" fill="#fabb1b" stroke="#fabb1b"/>
<path d="M254.5 102.2l1.3 1.5-.8 2.6-1.3-1.4z" fill="#99c550" stroke="#99c550"/>
<path d="M262.1 94.3l1.3 1.9-.7 2.4-1.3-1.8z" fill="#e91f26" stroke="#e91f26"/>
<path d="M259.3 97.5l1.3 1.7-.7 2.5-1.3-1.7z" fill="#f6911e" stroke="#f6911e"/>
<path d="M256.5 101l1.3 1.6-.7 2.6-1.3-1.5z" fill="#ced537" stroke="#ced537"/>
<path d="M264.2 93.8l1.3 2.1-.8 2.3-1.3-2z" fill="#db1e25" stroke="#db1e25"/>
<path d="M253.7 104.9l1.3 1.4-.7 2.7-1.3-1.4z" fill="#7ac1a9" stroke="#7ac1a9"/>
<path d="M261.4 96.8l1.3 1.8-.8 2.4-1.3-1.8z" fill="#f36b23" stroke="#f36b23"/>
<path d="M258.6 100l1.3 1.7-.8 2.5-1.3-1.6z" fill="#f5dd1a" stroke="#f5dd1a"/>
<path d="M255.8 103.7l1.3 1.5-.8 2.5-1.3-1.4z" fill="#8bc170" stroke="#8bc170"/>
<path d="M263.4 96.2l1.3 2-.7 2.3-1.3-1.9z" fill="#f04c25" stroke="#f04c25"/>
<path d="M253 107.6l1.3 1.4-.8 2.6-1.3-1.2z" fill="#3cbfed" stroke="#3cbfed"/>
<path d="M260.6 99.2l1.3 1.8-.7 2.4-1.3-1.7z" fill="#fab81b" stroke="#fab81b"/>
<path d="M257.8 102.6l1.3 1.6-.7 2.4-1.3-1.4z" fill="#accb45" stroke="#accb45"/>
<path d="M265.5 95.9l1.3 2-.8 2.2-1.3-1.9z" fill="#ee3426" stroke="#ee3426"/>
<path d="M255 106.3l1.3 1.4-.7 2.6-1.3-1.3z" fill="#71c4c2" stroke="#71c4c2"/>
<path d="M262.7 98.6l1.3 1.9-.8 2.3-1.3-1.8z" fill="#f7991d" stroke="#f7991d"/>
<path d="M252.2 110.4l1.3 1.2-.7 2.7-1.3-1.2z" fill="#3a66bb" stroke="#3a66bb"/>
<path d="M259.9 101.7l1.3 1.7-.8 2.4-1.3-1.6z" fill="#d8d830" stroke="#d8d830"/>
<path d="M257.1 105.2l1.3 1.4-.8 2.5-1.3-1.4z" fill="#81c08e" stroke="#81c08e"/>
<path d="M264.7 98.2l1.3 1.9-.8 2.2-1.2-1.8z" fill="#f47e20" stroke="#f47e20"/>
<path d="M254.3 109l1.3 1.3-.8 2.5-1.3-1.2z" fill="#39ace6" stroke="#39ace6"/>
<path d="M261.9 101l1.3 1.8-.8 2.2-1.2-1.6z" fill="#f5dd1a" stroke="#f5dd1a"/>
<path d="M251.5 113.1l1.3 1.2-.8 2.6-1.3-1z" fill="#3948a1" stroke="#3948a1"/>
<path d="M259.1 104.2l1.3 1.6-.8 2.3-1.2-1.5z" fill="#93c45d" stroke="#93c45d"/>
<path d="M266.8 97.9l1.3 2-.8 2.1-1.3-1.9z" fill="#f36b23" stroke="#f36b23"/>
<path d="M256.3 107.7l1.3 1.4-.8 2.5-1.2-1.3z" fill="#5fc5d9" stroke="#5fc5d9"/>
<path d="M264 100.5l1.2 1.8-.7 2.2-1.3-1.7z" fill="#fbc21a" stroke="#fbc21a"/>
<path d="M253.5 111.6l1.3 1.2-.8 2.6-1.2-1.1z" fill="#3a5cb3" stroke="#3a5cb3"/>
<path d="M261.2 103.4l1.2 1.6-.7 2.3-1.3-1.5z" fill="#b3cd42" stroke="#b3cd42"/>
<path d="M250.7 115.9l1.3 1-.8 2.7-1.3-1z" fill="#292f84" stroke="#292f84"/>
<path d="M258.4 106.6l1.2 1.5-.7 2.4-1.3-1.4z" fill="#79c1aa" stroke="#79c1aa"/>
<path d="M266 100.1l1.3 1.9-.8 2.2-1.3-1.9z" fill="#f9ad1c" stroke="#f9ad1c"/>
<path d="M255.6 110.3l1.2 1.3-.7 2.5-1.3-1.3z" fill="#3b91d8" stroke="#3b91d8"/>
<path d="M263.2 102.8l1.3 1.7-.8 2.2-1.3-1.7z" fill="#d4d733" stroke="#d4d733"/>
<path d="M252.8 114.3l1.2 1.1-.7 2.6-1.3-1.1z" fill="#38449d" stroke="#38449d"/>
<path d="M260.4 105.8l1.3 1.5-.8 2.3-1.3-1.5z" fill="#84c080" stroke="#84c080"/>
<path d="M257.6 109.1l1.3 1.4-.8 2.4-1.3-1.3z" fill="#41c4ed" stroke="#41c4ed"/>
<path d="M265.2 102.3l1.3 1.9-.7 2.1-1.3-1.8z" fill="#ecdf20" stroke="#ecdf20"/>
<path d="M254.8 112.8l1.3 1.3-.8 2.4-1.3-1.1z" fill="#3a53ab" stroke="#3a53ab"/>
<path d="M262.4 105l1.3 1.7-.7 2.2-1.3-1.6z" fill="#95c45a" stroke="#95c45a"/>
<path d="M252 116.9l1.3 1.1-.8 2.5-1.3-.9z" fill="#272c80" stroke="#272c80"/>
<path d="M259.6 108.1l1.3 1.5-.7 2.3-1.3-1.4z" fill="#6fc4c6" stroke="#6fc4c6"/>
<path d="M256.8 111.6l1.3 1.3-.7 2.4-1.3-1.2z" fill="#3a76c6" stroke="#3a76c6"/>
<path d="M264.5 104.5l1.3 1.8-.8 2.1-1.3-1.7z" fill="#abcb45" stroke="#abcb45"/>
<path d="M254 115.4l1.3 1.1-.7 2.5-1.3-1z" fill="#343f98" stroke="#343f98"/>
<path d="M261.7 107.3l1.3 1.6-.8 2.2-1.3-1.5z" fill="#7cc1a0" stroke="#7cc1a0"/>
<path d="M258.9 110.5l1.3 1.4-.8 2.3-1.3-1.3z" fill="#39b4ea" stroke="#39b4ea"/>
<path d="M256.1 114.1l1.3 1.2-.8 2.4-1.3-1.2z" fill="#3a4fa7" stroke="#3a4fa7"/>
<path d="M263.7 106.7l1.3 1.7-.7 2.1-1.3-1.6z" fill="#84c080" stroke="#84c080"/>
<path d="M253.3 118l1.3 1-.8 2.5-1.3-1z" fill="#262a7e" stroke="#262a7e"/>
<path d="M260.9 109.6l1.3 1.5-.7 2.2-1.3-1.4z" fill="#55c5df" stroke="#55c5df"/>
<path d="M258.1 112.9l1.3 1.3-.7 2.3-1.3-1.2z" fill="#3a65ba" stroke="#3a65ba"/>
<path d="M255.3 116.5l1.3 1.2-.7 2.4-1.3-1.1z" fill="#313b92" stroke="#313b92"/>
<path d="M263 108.9l1.3 1.6-.8 2.1-1.3-1.5z" fill="#72c3c0" stroke="#72c3c0"/>
<path d="M260.2 111.9l1.3 1.4-.8 2.2-1.3-1.3z" fill="#3b94da" stroke="#3b94da"/>
<path d="M257.4 115.3l1.3 1.2-.8 2.3-1.3-1.1z" fill="#394ba4" stroke="#394ba4"/>
<path d="M254.6 119l1.3 1.1-.8 2.3-1.3-.9z" fill="#262a7e" stroke="#262a7e"/>
<path d="M262.2 111.1l1.3 1.5-.7 2.1-1.3-1.4z" fill="#3cbeed" stroke="#3cbeed"/>
<path d="M259.4 114.2l1.3 1.3-.7 2.2-1.3-1.2z" fill="#3a5ab0" stroke="#3a5ab0"/>
<path d="M256.6 117.7l1.3 1.1-.7 2.3-1.3-1z" fill="#2e368d" stroke="#2e368d"/>
<path d="M261.5 113.3l1.3 1.4-.8 2.2-1.3-1.4z" fill="#3a75c6" stroke="#3a75c6"/>
<path d="M258.7 116.5l1.3 1.2-.8 2.2-1.3-1.1z" fill="#3946a0" stroke="#3946a0"/>
<path d="M255.9 120.1l1.3 1-.8 2.3-1.3-1z" fill="#262a7e" stroke="#262a7e"/>
<path d="M260.7 115.5l1.3 1.4-.7 2.1-1.3-1.3z" fill="#3a51a9" stroke="#3a51a9"/>
<path d="M257.9 118.8l1.3 1.1-.7 2.3-1.3-1.1z" fill="#2c3287" stroke="#2c3287"/>
<path d="M260 117.7l1.3 1.3-.8 2.1-1.3-1.2z" fill="#36419a" stroke="#36419a"/>
<path d="M257.2 121.1l1.3 1.1-.8 2.2-1.3-1z" fill="#262a7e" stroke="#262a7e"/>
<path d="M259.2 119.9l1.3 1.2-.7 2.1-1.3-1z" fill="#292e83" stroke="#292e83"/>
<path d="M258.5 122.2l1.3 1-.8 2.1-1.3-.9z" fill="#262a7e" stroke="#262a7e"/>
<path d="M259 85.8l3 4.7 3 4.7 3.1 4.7-3.1 8.5-3 8.5-3 8.4-3-2.2-3-2.3-3.1-2.2 3.1-11 3-10.9z" class="ms"/>
<circle cx="259" cy="85.8" r="0.75"/>
<circle cx="268.1" cy="99.9" r="0.75"/>
<circle cx="249.9" cy="118.6" r="0.75"/>
<circle cx="259" cy="125.3" r="0.75"/>
</g>
<line x1="204.7" y1="103.9" x2="206.2" y2="103.1" stroke="#888" stroke-width="0.6"/>
<text x="202.1" y="105.2" font-size="7.8" text-anchor="end" textLength="3.6" lengthAdjust="spacingAndGlyphs">0</text>
<line x1="204.7" y1="91.9" x2="206.2" y2="91.1" stroke="#888" stroke-width="0.6"/>
<text x="202.1" y="93.2" font-size="7.8" text-anchor="end" textLength="7.2" lengthAdjust="spacingAndGlyphs">50</text>
<line x1="204.7" y1="79.9" x2="206.2" y2="79.1" stroke="#888" stroke-width="0.6"/>
<text x="202.1" y="81.2" font-size="7.8" text-anchor="end" textLength="10.8" lengthAdjust="spacingAndGlyphs">100</text>
<line x1="204.7" y1="67.9" x2="206.2" y2="67.1" stroke="#888" stroke-width="0.6"/>
<text x="202.1" y="69.2" font-size="7.8" text-anchor="end" textLength="10.8" lengthAdjust="spacingAndGlyphs">150</text>
<text x="195.2" y="110.7" font-size="7.2" text-anchor="end" textLength="3.4" lengthAdjust="spacingAndGlyphs">0</text>
<text x="207.7" y="115.2" font-size="7.2" text-anchor="end" textLength="11.8" lengthAdjust="spacingAndGlyphs">0.04</text>
<text x="218.4" y="121.1" font-size="7.2" text-anchor="end" textLength="15.2" lengthAdjust="spacingAndGlyphs">0.123</text>
<text x="226.4" y="127.3" font-size="7.2" text-anchor="end" textLength="11.8" lengthAdjust="spacingAndGlyphs">0.37</text>
<text x="237.5" y="133.2" font-size="7.2" text-anchor="end" textLength="15.2" lengthAdjust="spacingAndGlyphs">1.111</text>
<text x="246.6" y="138.9" font-size="7.2" text-anchor="end" textLength="15.2" lengthAdjust="spacingAndGlyphs">3.333</text>
<text x="255.3" y="140.7" font-size="7.2" text-anchor="end" textLength="6.8" lengthAdjust="spacingAndGlyphs">10</text>
<text x="261.9" y="141.1" font-size="7.2" textLength="10.2" lengthAdjust="spacingAndGlyphs">100</text>
<text x="272.3" y="136.1" font-size="7.2" textLength="6.8" lengthAdjust="spacingAndGlyphs">33</text>
<text x="280.2" y="131" font-size="7.2" textLength="6.8" lengthAdjust="spacingAndGlyphs">11</text>
<text x="289.6" y="126.7" font-size="7.2" textLength="8.4" lengthAdjust="spacingAndGlyphs">3.7</text>
<text x="298.3" y="121.6" font-size="7.2" textLength="8.4" lengthAdjust="spacingAndGlyphs">1.2</text>
<text x="306.2" y="117" font-size="7.2" textLength="8.4" lengthAdjust="spacingAndGlyphs">0.4</text>
<text x="314.9" y="111.5" font-size="7.2" textLength="3.4" lengthAdjust="spacingAndGlyphs">0</text>
<text x="188.2" y="145.6" font-size="8" textLength="43.2" lengthAdjust="spacingAndGlyphs">SHP099 [µM]</text>
<text x="280" y="146" font-size="8" textLength="48.5" lengthAdjust="spacingAndGlyphs">Crizotinib [nM]</text>
<text x="188.6" y="82.9" font-size="10.2" text-anchor="middle" textLength="31.5" lengthAdjust="spacingAndGlyphs" transform="rotate(-90 188.6 82.9)">% Control</text>
<rect x="327.6" y="32.3" width="8.3" height="101.5" fill="url(#cm)"/>
<text x="343.1" y="58.3" font-size="7.6" text-anchor="middle" textLength="27.4" lengthAdjust="spacingAndGlyphs" transform="rotate(-90 343.1 58.3)">Synergy</text>
<text x="343.1" y="103.9" font-size="7.6" text-anchor="middle" textLength="41" lengthAdjust="spacingAndGlyphs" transform="rotate(-90 343.1 103.9)">Antagonism</text>
<line x1="428.8" y1="74.8" x2="374.6" y2="104.4" stroke="#dcdcdc" stroke-width="0.5"/>
<line x1="428.8" y1="74.8" x2="483.5" y2="104.6" stroke="#dcdcdc" stroke-width="0.5"/>
<line x1="437.9" y1="79.8" x2="383.7" y2="109.3" stroke="#dcdcdc" stroke-width="0.5"/>
<line x1="419.8" y1="79.7" x2="474.5" y2="109.6" stroke="#dcdcdc" stroke-width="0.5"/>
<line x1="447" y1="84.7" x2="392.9" y2="114.3" stroke="#dcdcdc" stroke-width="0.5"/>
<line x1="410.7" y1="84.7" x2="465.5" y2="114.5" stroke="#dcdcdc" stroke-width="0.5"/>
<line x1="456.2" y1="89.7" x2="402" y2="119.3" stroke="#dcdcdc" stroke-width="0.5"/>
<line x1="401.7" y1="89.6" x2="456.4" y2="119.4" stroke="#dcdcdc" stroke-width="0.5"/>
<line x1="465.3" y1="94.7" x2="411.1" y2="124.3" stroke="#dcdcdc" stroke-width="0.5"/>
<line x1="392.7" y1="94.5" x2="447.4" y2="124.3" stroke="#dcdcdc" stroke-width="0.5"/>
<line x1="474.4" y1="99.6" x2="420.2" y2="129.2" stroke="#dcdcdc" stroke-width="0.5"/>
<line x1="383.7" y1="99.4" x2="438.4" y2="129.3" stroke="#dcdcdc" stroke-width="0.5"/>
<line x1="483.5" y1="104.6" x2="429.3" y2="134.2" stroke="#dcdcdc" stroke-width="0.5"/>
<line x1="374.6" y1="104.4" x2="429.3" y2="134.2" stroke="#dcdcdc" stroke-width="0.5"/>
<line x1="428.8" y1="74.8" x2="428.8" y2="33.8" stroke="#dcdcdc" stroke-width="0.5"/>
<line x1="428.8" y1="74.8" x2="428.8" y2="33.8" stroke="#dcdcdc" stroke-width="0.5"/>
<line x1="419.8" y1="79.7" x2="419.8" y2="38.7" stroke="#dcdcdc" stroke-width="0.5"/>
<line x1="437.9" y1="79.8" x2="437.9" y2="38.8" stroke="#dcdcdc" stroke-width="0.5"/>
<line x1="410.7" y1="84.7" x2="410.7" y2="43.7" stroke="#dcdcdc" stroke-width="0.5"/>
<line x1="447" y1="84.7" x2="447" y2="43.8" stroke="#dcdcdc" stroke-width="0.5"/>
<line x1="401.7" y1="89.6" x2="401.7" y2="48.6" stroke="#dcdcdc" stroke-width="0.5"/>
<line x1="456.2" y1="89.7" x2="456.2" y2="48.7" stroke="#dcdcdc" stroke-width="0.5"/>
<line x1="392.7" y1="94.5" x2="392.7" y2="53.5" stroke="#dcdcdc" stroke-width="0.5"/>
<line x1="465.3" y1="94.7" x2="465.3" y2="53.7" stroke="#dcdcdc" stroke-width="0.5"/>
<line x1="383.7" y1="99.4" x2="383.7" y2="58.5" stroke="#dcdcdc" stroke-width="0.5"/>
<line x1="474.4" y1="99.6" x2="474.4" y2="58.7" stroke="#dcdcdc" stroke-width="0.5"/>
<line x1="374.6" y1="104.4" x2="374.6" y2="63.4" stroke="#dcdcdc" stroke-width="0.5"/>
<line x1="483.5" y1="104.6" x2="483.5" y2="63.6" stroke="#dcdcdc" stroke-width="0.5"/>
<polyline points="374.6,104.4 428.8,74.8 483.5,104.6" fill="none" stroke="#dcdcdc" stroke-width="0.5"/>
<polyline points="374.6,85.2 428.8,55.6 483.5,85.5" fill="none" stroke="#dcdcdc" stroke-width="0.5"/>
<polyline points="374.6,66.1 428.8,36.5 483.5,66.3" fill="none" stroke="#dcdcdc" stroke-width="0.5"/>
<polyline points="374.6,63.4 428.8,33.8 483.5,63.6" fill="none" stroke="#dcdcdc" stroke-width="0.5"/>
<line x1="374.6" y1="104.4" x2="374.6" y2="63.4" stroke="#b0b0b0" stroke-width="0.7"/>
<polyline points="374.6,104.4 429.3,134.2 483.5,104.6" fill="none" stroke="#8a8a8a" stroke-width="0.7"/>
<g stroke-linejoin="round" stroke-width="0.45">
<path d="M428.8 37.6l9.1 3.5-9 3.4-9.1-2.7z" fill="#eee01f" stroke="#eee01f"/>
<path d="M428.8 37.6l3 1.2 3.1 1.1 3 1.2-3 1.1-3 1.2-3 1.1-3-.9-3.1-.9-3-.9 3-1.4 3-1.4z" class="ms"/>
<circle cx="428.8" cy="37.6" r="0.75"/>
<path d="M419.8 41.8l9.1 2.7-4.5 3-9.1-3.4z" fill="#e0db29" stroke="#e0db29"/>
<path d="M415.3 44.1l9.1 3.4-4.5 3.1-9.2-4.2z" fill="#c5d23c" stroke="#c5d23c"/>
<path d="M419.8 41.8l3 .9 3.1 .9 3 .9-3 2-3 2-3 2.1-3.1-1.4-3-1.4-3.1-1.4 3.1-1.6 3-1.5z" class="ms"/>
<circle cx="419.8" cy="41.8" r="0.75"/>
<path d="M437.9 41.1l9.1 4.6-9 4.5-9.1-5.7z" fill="#e5dd26" stroke="#e5dd26"/>
<path d="M437.9 41.1l3.1 1.5 3 1.5 3 1.6-3 1.5-3 1.5-3 1.5-3-1.9-3.1-1.9-3-1.9 3-1.1 3-1.2z" class="ms"/>
<circle cx="437.9" cy="41.1" r="0.75"/>
<path d="M410.7 46.4l9.2 4.2-9.1 4.9-9.1-4.2z" fill="#a6c947" stroke="#a6c947"/>
<path d="M410.7 46.4l3.1 1.4 3 1.4 3.1 1.4-3 1.6-3.1 1.7-3 1.6-3-1.4-3-1.4-3.1-1.4 3-1.7 3-1.6z" class="ms"/>
<circle cx="410.7" cy="46.4" r="0.75"/>
<path d="M428.9 44.5l4.6 2.9-4.6 2.7-4.5-2.6z" fill="#dfdb2b" stroke="#dfdb2b"/>
<path d="M433.5 47.4l4.5 2.8-4.5 2.5-4.6-2.6z" fill="#dbda2d" stroke="#dbda2d"/>
<path d="M424.4 47.5l4.5 2.6-4.5 2.8-4.5-2.3z" fill="#c9d33b" stroke="#c9d33b"/>
<path d="M428.9 50.1l4.6 2.6-4.5 2.5-4.6-2.3z" fill="#d1d635" stroke="#d1d635"/>
<path d="M428.9 44.5l3 1.9 3.1 1.9 3 1.9-3 1.7-3 1.6-3 1.7-3.1-1.6-3-1.5-3-1.5 3-2.1 3-2z" class="ms"/>
<circle cx="428.9" cy="44.5" r="0.75"/>
<path d="M447 45.7l9.2 5.7-9.1 4.6-9.1-5.8z" fill="#ced537" stroke="#ced537"/>
<path d="M447 45.7l3.1 1.9 3 1.9 3.1 1.9-3 1.5-3.1 1.5-3 1.6-3-2-3-1.9-3.1-1.9 3-1.5 3-1.5z" class="ms"/>
<circle cx="447" cy="45.7" r="0.75"/>
<path d="M401.7 51.3l9.1 4.2-1.8 1-9.1-4.2z" fill="#a5c947" stroke="#a5c947"/>
<path d="M399.9 52.3l9.1 4.2-1.8 1-9.1-4.2z" fill="#c2d13d" stroke="#c2d13d"/>
<path d="M398.1 53.3l9.1 4.2-1.8 1-9.1-4.3z" fill="#dcda2d" stroke="#dcda2d"/>
<path d="M396.3 54.2l9.1 4.3-1.8 .9-9.1-4.2z" fill="#f4e11a" stroke="#f4e11a"/>
<path d="M394.5 55.2l9.1 4.2-1.8 1-9.1-4.2z" fill="#fac91a" stroke="#fac91a"/>
<path d="M401.7 51.3l3.1 1.4 3 1.4 3 1.4-3 1.6-3 1.7-3 1.6-3-1.4-3.1-1.4-3-1.4 3-1.6 3-1.7z" class="ms"/>
<circle cx="401.7" cy="51.3" r="0.75"/>
<path d="M419.9 50.6l9.1 4.6-9 5.3-9.2-5z" fill="#b5ce41" stroke="#b5ce41"/>
<path d="M419.9 50.6l3 1.5 3 1.5 3.1 1.6-3 1.7-3 1.8-3 1.8-3.1-1.7-3-1.6-3.1-1.7 3-1.6 3.1-1.7z" class="ms"/>
<circle cx="419.9" cy="50.6" r="0.75"/>
<path d="M438 50.2l4.6 2.9-4.5 2.2-4.6-2.6z" fill="#d5d732" stroke="#d5d732"/>
<path d="M442.6 53.1l4.5 2.9-4.5 1.8-4.5-2.5z" fill="#ccd439" stroke="#ccd439"/>
<path d="M433.5 52.7l4.6 2.6-4.6 2.1-4.5-2.2z" fill="#d5d732" stroke="#d5d732"/>
<path d="M438.1 55.3l4.5 2.5-4.5 1.9-4.6-2.3z" fill="#d5d732" stroke="#d5d732"/>
<path d="M438 50.2l3.1 1.9 3 1.9 3 2-3 1.2-3 1.3-3 1.2-3-1.5-3.1-1.5-3-1.5 3-1.7 3-1.6z" class="ms"/>
<circle cx="438" cy="50.2" r="0.75"/>
<path d="M456.2 51.4l9.1 6.1-9 2.3-9.2-3.8z" fill="#ced537" stroke="#ced537"/>
<path d="M456.2 51.4l3 2 3 2.1 3.1 2-3 .8-3 .7-3 .8-3.1-1.3-3-1.3-3.1-1.2 3-1.6 3.1-1.5z" class="ms"/>
<circle cx="456.2" cy="51.4" r="0.75"/>
<path d="M392.7 56.2l9.1 4.2-3 1.7-9.1-4.1z" fill="#fac81a" stroke="#fac81a"/>
<path d="M389.7 58l9.1 4.1-3 1.6-9.1-3.9z" fill="#f5df1a" stroke="#f5df1a"/>
<path d="M386.7 59.8l9.1 3.9-3 1.7-9.1-3.9z" fill="#dfdb2a" stroke="#dfdb2a"/>
<path d="M392.7 56.2l3 1.4 3.1 1.4 3 1.4-3 1.7-3 1.6-3 1.7-3.1-1.3-3-1.3-3-1.3 3-1.7 3-1.8z" class="ms"/>
<circle cx="392.7" cy="56.2" r="0.75"/>
<path d="M410.8 55.5l4.6 2.5-1.8 .9-4.6-2.4z" fill="#accb45" stroke="#accb45"/>
<path d="M409 56.5l4.6 2.4-1.8 .9-4.6-2.3z" fill="#c6d33c" stroke="#c6d33c"/>
<path d="M407.2 57.5l4.6 2.3-1.8 .9-4.6-2.2z" fill="#dedb2b" stroke="#dedb2b"/>
<path d="M415.4 58l4.6 2.5-1.9 .8-4.5-2.4z" fill="#b9cf40" stroke="#b9cf40"/>
<path d="M405.4 58.5l4.6 2.2-1.8 .9-4.6-2.2z" fill="#f4e11a" stroke="#f4e11a"/>
<path d="M413.6 58.9l4.5 2.4-1.8 .8-4.5-2.3z" fill="#cfd537" stroke="#cfd537"/>
<path d="M403.6 59.4l4.6 2.2-1.8 .9-4.6-2.1z" fill="#faca1a" stroke="#faca1a"/>
<path d="M411.8 59.8l4.5 2.3-1.8 .9-4.5-2.3z" fill="#e3dc28" stroke="#e3dc28"/>
<path d="M410 60.7l4.5 2.3-1.8 .8-4.5-2.2z" fill="#f5e01a" stroke="#f5e01a"/>
<path d="M408.2 61.6l4.5 2.2-1.8 .8-4.5-2.1z" fill="#f9cd1a" stroke="#f9cd1a"/>
<path d="M410.8 55.5l3.1 1.7 3 1.6 3.1 1.7-3.1 1.4-3 1.3-3 1.4-3-1.4-3.1-1.4-3-1.4 3-1.6 3-1.7z" class="ms"/>
<circle cx="410.8" cy="55.5" r="0.75"/>
<path d="M429 55.2l9.1 4.5-4.5 3.5-9.1-5.4z" fill="#ced537" stroke="#ced537"/>
<path d="M424.5 57.8l9.1 5.4-4.5 3.4-9.1-6.1z" fill="#bbcf40" stroke="#bbcf40"/>
<path d="M429 55.2l3 1.5 3.1 1.5 3 1.5-3 2.3-3 2.3-3 2.3-3.1-2.1-3-2-3-2 3-1.8 3-1.8z" class="ms"/>
<circle cx="429" cy="55.2" r="0.75"/>
<path d="M447.1 56l4.6 1.9-4.5 2.5-4.6-2.6z" fill="#cbd43a" stroke="#cbd43a"/>
<path d="M451.7 57.9l4.6 1.9-4.6 3.2-4.5-2.6z" fill="#d2d635" stroke="#d2d635"/>
<path d="M442.6 57.8l4.6 2.6-4.5 2.6-4.6-3.3z" fill="#d2d635" stroke="#d2d635"/>
<path d="M447.2 60.4l4.5 2.6-4.5 3.2-4.5-3.2z" fill="#cbd43a" stroke="#cbd43a"/>
<path d="M447.1 56l3.1 1.2 3 1.3 3.1 1.3-3.1 2.1-3 2.2-3 2.1-3-2.1-3.1-2.2-3-2.2 3-1.2 3-1.3z" class="ms"/>
<circle cx="447.1" cy="56" r="0.75"/>
<path d="M465.3 57.5l9.1 6.1-9 3.4-9.1-7.2z" fill="#d3d734" stroke="#d3d734"/>
<path d="M465.3 57.5l3 2.1 3.1 2 3 2-3 1.2-3 1.1-3 1.1-3.1-2.4-3-2.4-3-2.4 3-.8 3-.7z" class="ms"/>
<circle cx="465.3" cy="57.5" r="0.75"/>
<path d="M383.7 61.5l9.1 3.9-4.5 2.4-9.2-2.1z" fill="#e0db29" stroke="#e0db29"/>
<path d="M379.1 65.7l9.2 2.1-4.6 2.5-9.1-.4z" fill="#f6db1a" stroke="#f6db1a"/>
<path d="M383.7 61.5l3 1.3 3 1.3 3.1 1.3-3 1.6-3 1.6-3.1 1.7-3-.1-3-.2-3.1-.1 3-2.8 3-2.8z" class="ms"/>
<circle cx="383.7" cy="61.5" r="0.75"/>
<circle cx="374.6" cy="69.9" r="0.75"/>
<path d="M401.8 60.4l4.6 2.1-3 1.6-4.6-2z" fill="#fac91a" stroke="#fac91a"/>
<path d="M398.8 62.1l4.6 2-3.1 1.6-4.5-2z" fill="#f5dc1a" stroke="#f5dc1a"/>
<path d="M406.4 62.5l4.5 2.1-3 1.5-4.5-2z" fill="#fac91a" stroke="#fac91a"/>
<path d="M395.8 63.7l4.5 2-3 1.6-4.5-1.9z" fill="#e6dd25" stroke="#e6dd25"/>
<path d="M403.4 64.1l4.5 2-3 1.6-4.6-2z" fill="#f7d61a" stroke="#f7d61a"/>
<path d="M400.3 65.7l4.6 2-3 1.5-4.6-1.9z" fill="#f4e21a" stroke="#f4e21a"/>
<path d="M401.8 60.4l3 1.4 3.1 1.4 3 1.4-3 1.5-3 1.6-3 1.5-3-1.3-3.1-1.3-3-1.2 3-1.7 3-1.6z" class="ms"/>
<circle cx="401.8" cy="60.4" r="0.75"/>
<path d="M420 60.5l4.5 3-2.2 .9-4.6-2.9z" fill="#bed03e" stroke="#bed03e"/>
<path d="M417.7 61.5l4.6 2.9-2.3 .9-4.6-2.8z" fill="#d3d734" stroke="#d3d734"/>
<path d="M424.5 63.5l4.6 3.1-2.3 .7-4.5-2.9z" fill="#b6ce41" stroke="#b6ce41"/>
<path d="M415.4 62.5l4.6 2.8-2.3 .9-4.5-2.6z" fill="#e7dd24" stroke="#e7dd24"/>
<path d="M422.3 64.4l4.5 2.9-2.2 .8-4.6-2.8z" fill="#c6d23c" stroke="#c6d23c"/>
<path d="M413.2 63.6l4.5 2.6-2.2 .9-4.6-2.5z" fill="#f5dc1a" stroke="#f5dc1a"/>
<path d="M420 65.3l4.6 2.8-2.3 .7-4.6-2.6z" fill="#d4d733" stroke="#d4d733"/>
<path d="M417.7 66.2l4.6 2.6-2.3 .8-4.5-2.5z" fill="#e2dc28" stroke="#e2dc28"/>
<path d="M420 60.5l3 2 3 2 3.1 2.1-3 1-3 1-3.1 1-3-1.7-3-1.6-3.1-1.7 3-1.4 3-1.3z" class="ms"/>
<circle cx="420" cy="60.5" r="0.75"/>
<path d="M438.1 59.7l2.3 1.7-2.3 1.4-2.3-1.4z" fill="#d4d733" stroke="#d4d733"/>
<path d="M440.4 61.4l2.3 1.6-2.3 1.2-2.3-1.4z" fill="#d0d636" stroke="#d0d636"/>
<path d="M435.8 61.4l2.3 1.4-2.2 1.5-2.3-1.1z" fill="#ccd439" stroke="#ccd439"/>
<path d="M442.7 63l2.2 1.6-2.2 .9-2.3-1.3z" fill="#cdd539" stroke="#cdd539"/>
<path d="M438.1 62.8l2.3 1.4-2.3 1.2-2.2-1.1z" fill="#ced538" stroke="#ced538"/>
<path d="M433.6 63.2l2.3 1.1-2.3 1.4-2.3-.8z" fill="#c3d13d" stroke="#c3d13d"/>
<path d="M444.9 64.6l2.3 1.6-2.2 .7-2.3-1.4z" fill="#c8d33b" stroke="#c8d33b"/>
<path d="M440.4 64.2l2.3 1.3-2.3 1-2.3-1.1z" fill="#cfd537" stroke="#cfd537"/>
<path d="M435.9 64.3l2.2 1.1-2.2 1.1-2.3-.8z" fill="#cbd43a" stroke="#cbd43a"/>
<path d="M431.3 64.9l2.3 .8-2.2 1.5-2.3-.6z" fill="#b9cf40" stroke="#b9cf40"/>
<path d="M442.7 65.5l2.3 1.4-2.3 .7-2.3-1.1z" fill="#d1d635" stroke="#d1d635"/>
<path d="M438.1 65.4l2.3 1.1-2.2 .9-2.3-.9z" fill="#d2d634" stroke="#d2d634"/>
<path d="M433.6 65.7l2.3 .8-2.3 1.2-2.2-.5z" fill="#c8d33b" stroke="#c8d33b"/>
<path d="M440.4 66.5l2.3 1.1-2.3 .6-2.2-.8z" fill="#d9d92f" stroke="#d9d92f"/>
<path d="M435.9 66.5l2.3 .9-2.3 .9-2.3-.6z" fill="#d5d732" stroke="#d5d732"/>
<path d="M438.2 67.4l2.2 .8-2.2 .7-2.3-.6z" fill="#e2dc28" stroke="#e2dc28"/>
<path d="M438.1 59.7l3 2.2 3.1 2.2 3 2.1-3 .9-3 .9-3 .9-3-.8-3.1-.8-3-.7 3-2.3 3-2.3z" class="ms"/>
<circle cx="438.1" cy="59.7" r="0.75"/>
<path d="M456.3 59.8l4.5 3.6-4.5 3.3-4.6-3.7z" fill="#cfd537" stroke="#cfd537"/>
<path d="M460.8 63.4l4.6 3.6-4.5 3.5-4.6-3.8z" fill="#c2d13d" stroke="#c2d13d"/>
<path d="M451.7 63l4.6 3.7-4.5 3.4-4.6-3.9z" fill="#bcd03f" stroke="#bcd03f"/>
<path d="M456.3 66.7l4.6 3.8-4.6 3.4-4.5-3.8z" fill="#a7c946" stroke="#a7c946"/>
<path d="M456.3 59.8l3 2.4 3 2.4 3.1 2.4-3 2.3-3.1 2.3-3 2.3-3-2.6-3-2.5-3.1-2.6 3-2.1 3-2.2z" class="ms"/>
<circle cx="456.3" cy="59.8" r="0.75"/>
<path d="M474.4 63.6l9.1 16.1-9 3.4-9.1-16.1z" fill="#c5d23c" stroke="#c5d23c"/>
<path d="M474.4 63.6l3 5.4 3.1 5.4 3 5.3-3 1.2-3 1.1-3 1.1-3-5.3-3.1-5.4-3-5.4 3-1.1 3-1.1z" class="ms"/>
<circle cx="474.4" cy="63.6" r="0.75"/>
<circle cx="483.5" cy="79.7" r="0.75"/>
<path d="M392.8 65.4l4.5 1.9-4.5 2.9-4.5-2.4z" fill="#e6dd25" stroke="#e6dd25"/>
<path d="M397.3 67.3l4.6 1.9-4.5 3.4-4.6-2.4z" fill="#f1e11c" stroke="#f1e11c"/>
<path d="M388.3 67.8l4.5 2.4-4.5 3-4.6-2.9z" fill="#f5dc1a" stroke="#f5dc1a"/>
<path d="M392.8 70.2l4.6 2.4-4.5 3.4-4.6-2.8z" fill="#f5de1a" stroke="#f5de1a"/>
<path d="M392.8 65.4l3 1.2 3.1 1.3 3 1.3-3 2.3-3 2.2-3 2.3-3.1-1.9-3-1.9-3.1-1.9 3.1-1.7 3-1.6z" class="ms"/>
<circle cx="392.8" cy="65.4" r="0.75"/>
<circle cx="383.7" cy="70.3" r="0.75"/>
<path d="M410.9 64.6l4.6 2.5-9 5.3-4.6-3.2z" fill="#f5de1a" stroke="#f5de1a"/>
<path d="M415.5 67.1l4.5 2.5-9 6.1-4.5-3.3z" fill="#dfdb2a" stroke="#dfdb2a"/>
<path d="M410.9 64.6l3.1 1.7 3 1.6 3 1.7-3 2-3 2.1-3 2-3-2.2-3.1-2.2-3-2.1 3-1.5 3-1.6z" class="ms"/>
<circle cx="410.9" cy="64.6" r="0.75"/>
<path d="M429.1 66.6l3 .7-4.5 1.9-3-1.1z" fill="#c2d13d" stroke="#c2d13d"/>
<path d="M432.1 67.3l3.1 .8-4.6 2.2-3-1.1z" fill="#d4d733" stroke="#d4d733"/>
<path d="M424.6 68.1l3 1.1-4.5 1.8-3.1-1.4z" fill="#d6d832" stroke="#d6d832"/>
<path d="M435.2 68.1l3 .8-4.5 2.4-3.1-1z" fill="#e5dd26" stroke="#e5dd26"/>
<path d="M427.6 69.2l3 1.1-4.5 2.1-3-1.4z" fill="#dfdb2a" stroke="#dfdb2a"/>
<path d="M430.6 70.3l3.1 1-4.5 2.5-3.1-1.4z" fill="#e9de23" stroke="#e9de23"/>
<path d="M429.1 66.6l3 .7 3.1 .8 3 .8-3 1.6-3 1.7-3 1.6-3.1-1.4-3-1.4-3.1-1.4 3.1-1 3-1z" class="ms"/>
<circle cx="429.1" cy="66.6" r="0.75"/>
<path d="M447.2 66.2l4.6 3.9-4.5 1.4-4.6-3.9z" fill="#c0d13e" stroke="#c0d13e"/>
<path d="M451.8 70.1l4.5 3.8-4.5 1.5-4.5-3.9z" fill="#a6c947" stroke="#a6c947"/>
<path d="M442.7 67.6l4.6 3.9-4.5 1.4-4.6-4z" fill="#d7d830" stroke="#d7d830"/>
<path d="M447.3 71.5l4.5 3.9-4.5 1.5-4.5-4z" fill="#c0d13e" stroke="#c0d13e"/>
<path d="M447.2 66.2l3.1 2.6 3 2.5 3 2.6-3 1-3 1-3 1-3-2.7-3.1-2.7-3-2.6 3-.9 3-.9z" class="ms"/>
<circle cx="447.2" cy="66.2" r="0.75"/>
<path d="M465.4 67l9.1 16.1-4.5 2.9-9.1-15.5z" fill="#b9cf40" stroke="#b9cf40"/>
<path d="M460.9 70.5l9.1 15.5-4.5 2.8-9.2-14.9z" fill="#a2c848" stroke="#a2c848"/>
<path d="M465.4 67l3 5.4 3.1 5.4 3 5.3-3 1.9-3 1.9-3 1.9-3.1-5-3-4.9-3.1-5 3-2.3 3.1-2.3z" class="ms"/>
<circle cx="465.4" cy="67" r="0.75"/>
<circle cx="474.5" cy="83.1" r="0.75"/>
<path d="M401.9 69.2l4.6 3.2-9.1 6.7-4.5-3.1z" fill="#eddf20" stroke="#eddf20"/>
<path d="M406.5 72.4l4.5 3.3-9 6.4-4.6-3z" fill="#d9d92f" stroke="#d9d92f"/>
<path d="M401.9 69.2l3 2.1 3.1 2.2 3 2.2-3 2.1-3 2.2-3 2.1-3.1-2-3-2-3-2.1 3-2.3 3-2.2z" class="ms"/>
<circle cx="401.9" cy="69.2" r="0.75"/>
<circle cx="392.9" cy="76" r="0.75"/>
<path d="M420 69.6l4.6 2.1-9 5.5-4.6-1.5z" fill="#dad92f" stroke="#dad92f"/>
<path d="M424.6 71.7l4.6 2.1-9.1 4.9-4.5-1.5z" fill="#e7de24" stroke="#e7de24"/>
<path d="M420 69.6l3.1 1.4 3 1.4 3.1 1.4-3 1.6-3.1 1.7-3 1.6-3-1-3-1-3.1-1 3-2 3-2.1z" class="ms"/>
<circle cx="420" cy="69.6" r="0.75"/>
<path d="M438.2 68.9l4.6 4-9.1 4.5-4.5-3.6z" fill="#e5dd26" stroke="#e5dd26"/>
<path d="M442.8 72.9l4.5 4-9 4.2-4.6-3.7z" fill="#d3d734" stroke="#d3d734"/>
<path d="M438.2 68.9l3 2.6 3.1 2.7 3 2.7-3 1.4-3 1.4-3 1.4-3.1-2.5-3-2.4-3-2.4 3-1.6 3-1.7z" class="ms"/>
<circle cx="438.2" cy="68.9" r="0.75"/>
<path d="M456.3 73.9l4.6 7.5-4.5 1.9-4.6-7.9z" fill="#9cc64a" stroke="#9cc64a"/>
<path d="M460.9 81.4l4.6 7.4-4.6 2.5-4.5-8z" fill="#a1c748" stroke="#a1c748"/>
<path d="M451.8 75.4l4.6 7.9-4.5 2-4.6-8.4z" fill="#b0cc43" stroke="#b0cc43"/>
<path d="M456.4 83.3l4.5 8-4.5 2.4-4.5-8.4z" fill="#abcb45" stroke="#abcb45"/>
<path d="M456.3 73.9l3.1 5 3 4.9 3.1 5-3.1 1.7-3 1.6-3 1.6-3-5.6-3-5.6-3.1-5.6 3-1 3-1z" class="ms"/>
<circle cx="456.3" cy="73.9" r="0.75"/>
<circle cx="465.5" cy="88.8" r="0.75"/>
<path d="M411 75.7l3.1 1-3.1 2.5-3-1.4z" fill="#cfd637" stroke="#cfd637"/>
<path d="M414.1 76.7l3 1-3 2.9-3.1-1.4z" fill="#d7d830" stroke="#d7d830"/>
<path d="M408 77.8l3 1.4-3 2.6-3-1.8z" fill="#ced537" stroke="#ced537"/>
<path d="M417.1 77.7l3 1-3 3.3-3-1.4z" fill="#dfdb2a" stroke="#dfdb2a"/>
<path d="M411 79.2l3.1 1.4-3 3-3.1-1.8z" fill="#ced537" stroke="#ced537"/>
<path d="M405 80l3 1.8-3 2.5-3-2.2z" fill="#cdd538" stroke="#cdd538"/>
<path d="M414.1 80.6l3 1.4-3 3.3-3-1.7z" fill="#ced537" stroke="#ced537"/>
<path d="M408 81.8l3.1 1.8-3 2.9-3.1-2.2z" fill="#c5d23c" stroke="#c5d23c"/>
<path d="M411.1 83.6l3 1.7-3 3.3-3-2.1z" fill="#bccf3f" stroke="#bccf3f"/>
<path d="M411 75.7l3.1 1 3 1 3 1-3 3.3-3 3.3-3 3.3-3-2.1-3.1-2.2-3-2.2 3-2.1 3-2.2z" class="ms"/>
<circle cx="411" cy="75.7" r="0.75"/>
<circle cx="402" cy="82.1" r="0.75"/>
<path d="M429.2 73.8l4.5 3.6-9 5.3-4.6-4z" fill="#e6dd25" stroke="#e6dd25"/>
<path d="M433.7 77.4l4.6 3.7-9.1 5.7-4.5-4.1z" fill="#d6d831" stroke="#d6d831"/>
<path d="M429.2 73.8l3 2.4 3 2.4 3.1 2.5-3 1.9-3 1.9-3.1 1.9-3-2.7-3-2.7-3.1-2.7 3-1.6 3.1-1.7z" class="ms"/>
<circle cx="429.2" cy="73.8" r="0.75"/>
<path d="M447.3 76.9l9.1 16.8-9 3.8-9.1-16.4z" fill="#c0d13e" stroke="#c0d13e"/>
<path d="M447.3 76.9l3.1 5.6 3 5.6 3 5.6-3 1.3-3 1.3-3 1.2-3-5.5-3.1-5.4-3-5.5 3-1.4 3-1.4z" class="ms"/>
<circle cx="447.3" cy="76.9" r="0.75"/>
<circle cx="456.4" cy="93.7" r="0.75"/>
<path d="M420.1 78.7l3.1 2.7-2.3 2.6-3-2.8z" fill="#dfdb2a" stroke="#dfdb2a"/>
<path d="M417.9 81.2l3 2.8-2.2 2.5-3.1-2.8z" fill="#cfd537" stroke="#cfd537"/>
<path d="M423.2 81.4l3 2.7-2.2 2.6-3.1-2.7z" fill="#d2d734" stroke="#d2d734"/>
<path d="M415.6 83.7l3.1 2.8-2.3 2.5-3-2.8z" fill="#bcd03f" stroke="#bcd03f"/>
<path d="M420.9 84l3.1 2.7-2.3 2.6-3-2.8z" fill="#bed03f" stroke="#bed03f"/>
<path d="M426.2 84.1l3 2.7-2.2 2.6-3-2.7z" fill="#c5d23c" stroke="#c5d23c"/>
<path d="M413.4 86.2l3 2.8-2.3 2.6-3-3z" fill="#a9ca46" stroke="#a9ca46"/>
<path d="M418.7 86.5l3 2.8-2.3 2.6-3-2.9z" fill="#a8ca46" stroke="#a8ca46"/>
<path d="M424 86.7l3 2.7-2.3 2.7-3-2.8z" fill="#accb44" stroke="#accb44"/>
<path d="M416.4 89l3 2.9-2.2 2.6-3.1-2.9z" fill="#97c554" stroke="#97c554"/>
<path d="M421.7 89.3l3 2.8-2.2 2.7-3.1-2.9z" fill="#98c552" stroke="#98c552"/>
<path d="M419.4 91.9l3.1 2.9-2.3 2.6-3-2.9z" fill="#8dc26b" stroke="#8dc26b"/>
<path d="M420.1 78.7l3.1 2.7 3 2.7 3 2.7-3 3.5-3 3.6-3 3.5-3-2.9-3.1-2.9-3-3 3-3.3 3-3.3z" class="ms"/>
<circle cx="420.1" cy="78.7" r="0.75"/>
<circle cx="411.1" cy="88.6" r="0.75"/>
<path d="M438.3 81.1l3 5.5-3 2.1-3-5.7z" fill="#cdd538" stroke="#cdd538"/>
<path d="M441.3 86.6l3.1 5.4-3 2.4-3.1-5.7z" fill="#c3d23d" stroke="#c3d23d"/>
<path d="M435.3 83l3 5.7-3 2.1-3-5.9z" fill="#c6d33c" stroke="#c6d33c"/>
<path d="M444.4 92l3 5.5-3 2.6-3-5.7z" fill="#b9cf40" stroke="#b9cf40"/>
<path d="M438.3 88.7l3.1 5.7-3.1 2.3-3-5.9z" fill="#b5ce41" stroke="#b5ce41"/>
<path d="M432.3 84.9l3 5.9-3 2.1-3.1-6.1z" fill="#c0d13e" stroke="#c0d13e"/>
<path d="M441.4 94.4l3 5.7-3 2.5-3.1-5.9z" fill="#a4c847" stroke="#a4c847"/>
<path d="M435.3 90.8l3 5.9-3 2.3-3-6.1z" fill="#a8c946" stroke="#a8c946"/>
<path d="M438.3 96.7l3.1 5.9-3 2.5-3.1-6.1z" fill="#96c456" stroke="#96c456"/>
<path d="M438.3 81.1l3 5.5 3.1 5.4 3 5.5-3 2.6-3 2.5-3 2.5-3.1-6.1-3-6.1-3.1-6.1 3.1-1.9 3-1.9z" class="ms"/>
<circle cx="438.3" cy="81.1" r="0.75"/>
<circle cx="447.4" cy="97.5" r="0.75"/>
<path d="M429.2 86.8l1.9 3.6-1.8 2.3-1.9-3.8z" fill="#b7ce41" stroke="#b7ce41"/>
<path d="M427.4 88.9l1.9 3.8-1.8 2.3-1.9-4z" fill="#a1c848" stroke="#a1c848"/>
<path d="M431.1 90.4l1.8 3.7-1.8 2.4-1.8-3.8z" fill="#a6c947" stroke="#a6c947"/>
<path d="M432.9 94.1l1.8 3.7-1.8 2.5-1.8-3.8z" fill="#98c552" stroke="#98c552"/>
<path d="M425.6 91l1.9 4-1.8 2.3-1.9-4.1z" fill="#94c45a" stroke="#94c45a"/>
<path d="M429.3 92.7l1.8 3.8-1.8 2.4-1.8-3.9z" fill="#95c458" stroke="#95c458"/>
<path d="M434.7 97.8l1.8 3.7-1.8 2.7-1.8-3.9z" fill="#90c364" stroke="#90c364"/>
<path d="M423.8 93.2l1.9 4.1-1.8 2.2-1.9-4.2z" fill="#8ac170" stroke="#8ac170"/>
<path d="M431.1 96.5l1.8 3.8-1.8 2.6-1.8-4z" fill="#8cc26c" stroke="#8cc26c"/>
<path d="M427.5 95l1.8 3.9-1.8 2.4-1.8-4z" fill="#8ac170" stroke="#8ac170"/>
<path d="M436.5 101.5l1.9 3.6-1.8 2.9-1.9-3.8z" fill="#88c176" stroke="#88c176"/>
<path d="M432.9 100.3l1.8 3.9-1.8 2.6-1.8-3.9z" fill="#85c07f" stroke="#85c07f"/>
<path d="M429.3 98.9l1.8 4-1.8 2.5-1.8-4.1z" fill="#83c085" stroke="#83c085"/>
<path d="M422 95.3l1.9 4.2-1.9 2.3-1.8-4.4z" fill="#83c085" stroke="#83c085"/>
<path d="M425.7 97.3l1.8 4-1.8 2.5-1.8-4.3z" fill="#83c087" stroke="#83c087"/>
<path d="M434.7 104.2l1.9 3.8-1.8 2.8-1.9-4z" fill="#80c191" stroke="#80c191"/>
<path d="M431.1 102.9l1.8 3.9-1.8 2.7-1.8-4.1z" fill="#7ec199" stroke="#7ec199"/>
<path d="M427.5 101.3l1.8 4.1-1.8 2.6-1.8-4.2z" fill="#7dc19c" stroke="#7dc19c"/>
<path d="M423.9 99.5l1.8 4.3-1.8 2.4-1.9-4.4z" fill="#7dc19c" stroke="#7dc19c"/>
<path d="M429.3 105.4l1.8 4.1-1.8 2.7-1.8-4.2z" fill="#76c2b2" stroke="#76c2b2"/>
<path d="M425.7 103.8l1.8 4.2-1.8 2.5-1.8-4.3z" fill="#76c2b4" stroke="#76c2b4"/>
<path d="M432.9 106.8l1.9 4-1.8 2.8-1.9-4.1z" fill="#78c2ac" stroke="#78c2ac"/>
<path d="M431.1 109.5l1.9 4.1-1.9 2.8-1.8-4.2z" fill="#6fc4c8" stroke="#6fc4c8"/>
<path d="M427.5 108l1.8 4.2-1.8 2.7-1.8-4.4z" fill="#6ec5cb" stroke="#6ec5cb"/>
<path d="M429.3 112.2l1.8 4.2-1.8 2.9-1.8-4.4z" fill="#55c5df" stroke="#55c5df"/>
<path d="M429.2 86.8l3.1 6.1 3 6.1 3.1 6.1-3 4.7-3.1 4.8-3 4.7-3-7.3-3-7.3-3.1-7.3 3-3.5 3-3.6z" class="ms"/>
<circle cx="429.2" cy="86.8" r="0.75"/>
<circle cx="438.4" cy="105.1" r="0.75"/>
<circle cx="420.2" cy="97.4" r="0.75"/>
<circle cx="429.3" cy="119.3" r="0.75"/>
</g>
<line x1="374.6" y1="104.4" x2="376.1" y2="103.6" stroke="#888" stroke-width="0.6"/>
<text x="372" y="105.7" font-size="7.8" text-anchor="end" textLength="3.6" lengthAdjust="spacingAndGlyphs">0</text>
<line x1="374.6" y1="85.2" x2="376.1" y2="84.4" stroke="#888" stroke-width="0.6"/>
<text x="372" y="86.5" font-size="7.8" text-anchor="end" textLength="7.2" lengthAdjust="spacingAndGlyphs">50</text>
<line x1="374.6" y1="66.1" x2="376.1" y2="65.3" stroke="#888" stroke-width="0.6"/>
<text x="372" y="67.4" font-size="7.8" text-anchor="end" textLength="10.8" lengthAdjust="spacingAndGlyphs">100</text>
<text x="367.3" y="110.7" font-size="7.2" text-anchor="end" textLength="3.4" lengthAdjust="spacingAndGlyphs">0</text>
<text x="379.4" y="115.5" font-size="7.2" text-anchor="end" textLength="11.8" lengthAdjust="spacingAndGlyphs">0.04</text>
<text x="389" y="121.6" font-size="7.2" text-anchor="end" textLength="15.2" lengthAdjust="spacingAndGlyphs">0.123</text>
<text x="396.7" y="127.7" font-size="7.2" text-anchor="end" textLength="11.8" lengthAdjust="spacingAndGlyphs">0.37</text>
<text x="408" y="133.7" font-size="7.2" text-anchor="end" textLength="15.2" lengthAdjust="spacingAndGlyphs">1.111</text>
<text x="417.5" y="139.4" font-size="7.2" text-anchor="end" textLength="15.2" lengthAdjust="spacingAndGlyphs">3.333</text>
<text x="425.3" y="142.4" font-size="7.2" text-anchor="end" textLength="6.8" lengthAdjust="spacingAndGlyphs">10</text>
<text x="432.4" y="140.8" font-size="7.2" textLength="10.2" lengthAdjust="spacingAndGlyphs">100</text>
<text x="442.3" y="135.4" font-size="7.2" textLength="6.8" lengthAdjust="spacingAndGlyphs">33</text>
<text x="451.2" y="130.9" font-size="7.2" textLength="6.8" lengthAdjust="spacingAndGlyphs">11</text>
<text x="459.4" y="126.1" font-size="7.2" textLength="8.4" lengthAdjust="spacingAndGlyphs">3.7</text>
<text x="468.4" y="121.4" font-size="7.2" textLength="8.4" lengthAdjust="spacingAndGlyphs">1.2</text>
<text x="477.4" y="116.2" font-size="7.2" textLength="8.4" lengthAdjust="spacingAndGlyphs">0.4</text>
<text x="486.6" y="112.3" font-size="7.2" textLength="3.4" lengthAdjust="spacingAndGlyphs">0</text>
<text x="358" y="145.6" font-size="8" textLength="43.2" lengthAdjust="spacingAndGlyphs">SHP099 [µM]</text>
<text x="450" y="146" font-size="8" textLength="48.5" lengthAdjust="spacingAndGlyphs">Crizotinib [nM]</text>
<text x="358.7" y="83" font-size="10.2" text-anchor="middle" textLength="31.5" lengthAdjust="spacingAndGlyphs" transform="rotate(-90 358.7 83)">% Control</text>
<rect x="497.4" y="32.3" width="8.2" height="101.5" fill="url(#cm)"/>
<text x="512.8" y="58.3" font-size="7.6" text-anchor="middle" textLength="27.4" lengthAdjust="spacingAndGlyphs" transform="rotate(-90 512.8 58.3)">Synergy</text>
<text x="512.8" y="103.9" font-size="7.6" text-anchor="middle" textLength="41" lengthAdjust="spacingAndGlyphs" transform="rotate(-90 512.8 103.9)">Antagonism</text>
<line x1="87.2" y1="373.6" x2="31" y2="403.2" stroke="#dcdcdc" stroke-width="0.5"/>
<line x1="87.2" y1="373.6" x2="142.7" y2="403.4" stroke="#dcdcdc" stroke-width="0.5"/>
<line x1="96.5" y1="378.6" x2="40.2" y2="408.2" stroke="#dcdcdc" stroke-width="0.5"/>
<line x1="77.8" y1="378.5" x2="133.3" y2="408.4" stroke="#dcdcdc" stroke-width="0.5"/>
<line x1="105.7" y1="383.5" x2="49.5" y2="413.1" stroke="#dcdcdc" stroke-width="0.5"/>
<line x1="68.5" y1="383.5" x2="124" y2="413.3" stroke="#dcdcdc" stroke-width="0.5"/>
<line x1="115" y1="388.5" x2="58.7" y2="418.1" stroke="#dcdcdc" stroke-width="0.5"/>
<line x1="59.1" y1="388.4" x2="114.6" y2="418.2" stroke="#dcdcdc" stroke-width="0.5"/>
<line x1="124.2" y1="393.5" x2="68" y2="423.1" stroke="#dcdcdc" stroke-width="0.5"/>
<line x1="49.7" y1="393.3" x2="105.2" y2="423.1" stroke="#dcdcdc" stroke-width="0.5"/>
<line x1="133.4" y1="398.5" x2="77.2" y2="428" stroke="#dcdcdc" stroke-width="0.5"/>
<line x1="40.4" y1="398.2" x2="95.8" y2="428.1" stroke="#dcdcdc" stroke-width="0.5"/>
<line x1="142.7" y1="403.4" x2="86.5" y2="433" stroke="#dcdcdc" stroke-width="0.5"/>
<line x1="31" y1="403.2" x2="86.5" y2="433" stroke="#dcdcdc" stroke-width="0.5"/>
<line x1="87.2" y1="373.6" x2="87.2" y2="334.2" stroke="#dcdcdc" stroke-width="0.5"/>
<line x1="87.2" y1="373.6" x2="87.2" y2="334.2" stroke="#dcdcdc" stroke-width="0.5"/>
<line x1="77.8" y1="378.5" x2="77.8" y2="339.1" stroke="#dcdcdc" stroke-width="0.5"/>
<line x1="96.5" y1="378.6" x2="96.5" y2="339.2" stroke="#dcdcdc" stroke-width="0.5"/>
<line x1="68.5" y1="383.5" x2="68.5" y2="344.1" stroke="#dcdcdc" stroke-width="0.5"/>
<line x1="105.7" y1="383.5" x2="105.7" y2="344.1" stroke="#dcdcdc" stroke-width="0.5"/>
<line x1="59.1" y1="388.4" x2="59.1" y2="349" stroke="#dcdcdc" stroke-width="0.5"/>
<line x1="115" y1="388.5" x2="115" y2="349.1" stroke="#dcdcdc" stroke-width="0.5"/>
<line x1="49.7" y1="393.3" x2="49.7" y2="353.9" stroke="#dcdcdc" stroke-width="0.5"/>
<line x1="124.2" y1="393.5" x2="124.2" y2="354.1" stroke="#dcdcdc" stroke-width="0.5"/>
<line x1="40.4" y1="398.2" x2="40.4" y2="358.9" stroke="#dcdcdc" stroke-width="0.5"/>
<line x1="133.4" y1="398.5" x2="133.4" y2="359.1" stroke="#dcdcdc" stroke-width="0.5"/>
<line x1="31" y1="403.2" x2="31" y2="363.8" stroke="#dcdcdc" stroke-width="0.5"/>
<line x1="142.7" y1="403.4" x2="142.7" y2="364" stroke="#dcdcdc" stroke-width="0.5"/>
<polyline points="31,403.2 87.2,373.6 142.7,403.4" fill="none" stroke="#dcdcdc" stroke-width="0.5"/>
<polyline points="31,383.5 87.2,353.9 142.7,383.7" fill="none" stroke="#dcdcdc" stroke-width="0.5"/>
<polyline points="31,363.8 87.2,334.2 142.7,364" fill="none" stroke="#dcdcdc" stroke-width="0.5"/>
<polyline points="31,363.8 87.2,334.2 142.7,364" fill="none" stroke="#dcdcdc" stroke-width="0.5"/>
<line x1="31" y1="403.2" x2="31" y2="363.8" stroke="#b0b0b0" stroke-width="0.7"/>
<polyline points="31,403.2 86.5,433 142.7,403.4" fill="none" stroke="#8a8a8a" stroke-width="0.7"/>
<g stroke-linejoin="round" stroke-width="0.45">
<path d="M87.2 332.4l9.3 6.3-3.2 .8-9.2-4.1z" fill="#8cc26d" stroke="#8cc26d"/>
<path d="M84.1 335.4l9.2 4.1-3.1 .8-9.2-1.8z" fill="#97c555" stroke="#97c555"/>
<path d="M81 338.5l9.2 1.8-3.1 .8-9.3 .4z" fill="#a9ca45" stroke="#a9ca45"/>
<path d="M87.2 332.4l3.1 2.1 3.1 2.1 3.1 2.1-3.2 .8-3.1 .8-3.1 .8-3.1 .1-3.1 .2-3.1 .1 3.2-3 3.1-3.1z" class="ms"/>
<circle cx="87.2" cy="332.4" r="0.75"/>
<path d="M77.8 341.5l9.3-.4-1.6 2-9.2-.9z" fill="#a7c946" stroke="#a7c946"/>
<path d="M76.3 342.2l9.2 .9-1.5 1.9-9.3-2z" fill="#94c45d" stroke="#94c45d"/>
<path d="M74.7 343l9.3 2-1.6 2-9.3-3.2z" fill="#86c07a" stroke="#86c07a"/>
<path d="M73.1 343.8l9.3 3.2-1.6 2-9.2-4.5z" fill="#7fc195" stroke="#7fc195"/>
<path d="M71.6 344.5l9.2 4.5-1.5 1.9-9.3-5.6z" fill="#77c2af" stroke="#77c2af"/>
<path d="M70 345.3l9.3 5.6-1.6 2-9.2-6.9z" fill="#6ec4ca" stroke="#6ec4ca"/>
<path d="M77.8 341.5l3.1-.1 3.1-.2 3.1-.1-3.1 3.9-3.2 4-3.1 3.9-3.1-2.3-3.1-2.3-3-2.3 3.1-1.5 3.1-1.5z" class="ms"/>
<circle cx="77.8" cy="341.5" r="0.75"/>
<path d="M96.5 338.7l3 2.4-3.1 .9-3.1-2.5z" fill="#8cc26d" stroke="#8cc26d"/>
<path d="M93.3 339.5l3.1 2.5-3.1 .8-3.1-2.5z" fill="#95c459" stroke="#95c459"/>
<path d="M99.5 341.1l3.1 2.5-3.1 .8-3.1-2.4z" fill="#8cc26e" stroke="#8cc26e"/>
<path d="M90.2 340.3l3.1 2.5-3.1 .8-3.1-2.5z" fill="#a1c848" stroke="#a1c848"/>
<path d="M102.6 343.6l3.1 2.4-3.1 .9-3.1-2.5z" fill="#8bc16f" stroke="#8bc16f"/>
<path d="M96.4 342l3.1 2.4-3.1 .9-3.1-2.5z" fill="#91c362" stroke="#91c362"/>
<path d="M93.3 342.8l3.1 2.5-3.2 .9-3-2.6z" fill="#97c556" stroke="#97c556"/>
<path d="M99.5 344.4l3.1 2.5-3.1 .9-3.1-2.5z" fill="#8dc26a" stroke="#8dc26a"/>
<path d="M96.4 345.3l3.1 2.5-3.2 .9-3.1-2.5z" fill="#8fc266" stroke="#8fc266"/>
<path d="M96.5 338.7l3 2.4 3.1 2.5 3.1 2.4-3.1 .9-3.1 .9-3.2 .9-3.1-2.5-3-2.6-3.1-2.5 3.1-.8 3.1-.8z" class="ms"/>
<circle cx="96.5" cy="338.7" r="0.75"/>
<path d="M68.5 346l9.2 6.9-9.4 5.2-9.2-2.8z" fill="#6ec4c9" stroke="#6ec4c9"/>
<path d="M68.5 346l3 2.3 3.1 2.3 3.1 2.3-3.1 1.7-3.1 1.8-3.2 1.7-3-.9-3.1-1-3.1-.9 3.1-3.1 3.1-3.1z" class="ms"/>
<circle cx="68.5" cy="346" r="0.75"/>
<path d="M87.1 341.1l1.8 1.5-1.5 1.8-1.9-1.3z" fill="#a2c848" stroke="#a2c848"/>
<path d="M85.5 343.1l1.9 1.3-1.6 1.8-1.8-1.2z" fill="#92c35f" stroke="#92c35f"/>
<path d="M88.9 342.6l1.9 1.5-1.6 1.6-1.8-1.3z" fill="#9ac64e" stroke="#9ac64e"/>
<path d="M84 345l1.8 1.2-1.6 1.8-1.8-1z" fill="#86c07a" stroke="#86c07a"/>
<path d="M87.4 344.4l1.8 1.3-1.5 1.7-1.9-1.2z" fill="#90c364" stroke="#90c364"/>
<path d="M90.8 344.1l1.8 1.5-1.5 1.5-1.9-1.4z" fill="#96c458" stroke="#96c458"/>
<path d="M82.4 347l1.8 1-1.5 1.8-1.9-.8z" fill="#80c192" stroke="#80c192"/>
<path d="M85.8 346.2l1.9 1.2-1.6 1.6-1.9-1z" fill="#86c079" stroke="#86c079"/>
<path d="M89.2 345.7l1.9 1.4-1.6 1.4-1.8-1.1z" fill="#8ec268" stroke="#8ec268"/>
<path d="M92.6 345.6l1.9 1.6-1.6 1.2-1.8-1.3z" fill="#91c362" stroke="#91c362"/>
<path d="M80.8 349l1.9 .8-1.6 1.8-1.8-.7z" fill="#79c1aa" stroke="#79c1aa"/>
<path d="M84.2 348l1.9 1-1.6 1.6-1.8-.8z" fill="#81c08d" stroke="#81c08d"/>
<path d="M87.7 347.4l1.8 1.1-1.6 1.5-1.8-1z" fill="#87c079" stroke="#87c079"/>
<path d="M91.1 347.1l1.8 1.3-1.5 1.3-1.9-1.2z" fill="#8cc26d" stroke="#8cc26d"/>
<path d="M94.5 347.2l1.8 1.5-1.5 1.1-1.9-1.4z" fill="#8dc26c" stroke="#8dc26c"/>
<path d="M79.3 350.9l1.8 .7-1.5 1.7-1.9-.4z" fill="#71c4c2" stroke="#71c4c2"/>
<path d="M82.7 349.8l1.8 .8-1.5 1.6-1.9-.6z" fill="#7cc1a0" stroke="#7cc1a0"/>
<path d="M86.1 349l1.8 1-1.5 1.4-1.9-.8z" fill="#82c088" stroke="#82c088"/>
<path d="M89.5 348.5l1.9 1.2-1.6 1.2-1.9-.9z" fill="#87c078" stroke="#87c078"/>
<path d="M92.9 348.4l1.9 1.4-1.6 1-1.8-1.1z" fill="#8ac172" stroke="#8ac172"/>
<path d="M81.1 351.6l1.9 .6-1.6 1.6-1.8-.5z" fill="#76c2b4" stroke="#76c2b4"/>
<path d="M84.5 350.6l1.9 .8-1.6 1.4-1.8-.6z" fill="#7fc197" stroke="#7fc197"/>
<path d="M87.9 350l1.9 .9-1.6 1.3-1.8-.8z" fill="#84c083" stroke="#84c083"/>
<path d="M91.4 349.7l1.8 1.1-1.6 1.1-1.8-1z" fill="#87c078" stroke="#87c078"/>
<path d="M83 352.2l1.8 .6-1.5 1.5-1.9-.5z" fill="#7bc1a5" stroke="#7bc1a5"/>
<path d="M86.4 351.4l1.8 .8-1.5 1.3-1.9-.7z" fill="#81c08d" stroke="#81c08d"/>
<path d="M89.8 350.9l1.8 1-1.5 1.1-1.9-.8z" fill="#85c07d" stroke="#85c07d"/>
<path d="M84.8 352.8l1.9 .7-1.6 1.2-1.8-.4z" fill="#7fc197" stroke="#7fc197"/>
<path d="M88.2 352.2l1.9 .8-1.6 1.1-1.8-.6z" fill="#84c083" stroke="#84c083"/>
<path d="M86.7 353.5l1.8 .6-1.5 1.1-1.9-.5z" fill="#82c088" stroke="#82c088"/>
<path d="M87.1 341.1l3.1 2.5 3 2.6 3.1 2.5-3.1 2.1-3.1 2.2-3.1 2.2-3.1-.8-3.1-.7-3.1-.8 3.1-3.9 3.2-4z" class="ms"/>
<circle cx="87.1" cy="341.1" r="0.75"/>
<path d="M105.7 346l9.3 7-9.4 2.4-9.3-6.7z" fill="#90c364" stroke="#90c364"/>
<path d="M105.7 346l3.1 2.3 3.1 2.4 3.1 2.3-3.2 .8-3.1 .8-3.1 .8-3.1-2.2-3.1-2.3-3.1-2.2 3.2-.9 3.1-.9z" class="ms"/>
<circle cx="105.7" cy="346" r="0.75"/>
<path d="M59.1 355.3l9.2 2.8-3.1 4.4-9.2-3.8z" fill="#78c2ae" stroke="#78c2ae"/>
<path d="M56 358.7l9.2 3.8-3.1 4.3-9.3-4.6z" fill="#7fc195" stroke="#7fc195"/>
<path d="M52.8 362.2l9.3 4.6-3.1 4.4-9.3-5.6z" fill="#85c07c" stroke="#85c07c"/>
<path d="M59.1 355.3l3.1 .9 3.1 1 3 .9-3.1 4.4-3.1 4.3-3.1 4.4-3.1-1.9-3.1-1.8-3.1-1.9 3.1-3.4 3.2-3.5z" class="ms"/>
<circle cx="59.1" cy="355.3" r="0.75"/>
<path d="M77.7 352.9l3.1 .8-4.7 3-3.1-1.2z" fill="#70c4c4" stroke="#70c4c4"/>
<path d="M80.8 353.7l3.1 .7-4.7 3.4-3.1-1.1z" fill="#78c2ad" stroke="#78c2ad"/>
<path d="M73 355.5l3.1 1.2-4.7 3-3.1-1.6z" fill="#73c3bb" stroke="#73c3bb"/>
<path d="M83.9 354.4l3.1 .8-4.7 3.8-3.1-1.2z" fill="#7fc195" stroke="#7fc195"/>
<path d="M76.1 356.7l3.1 1.1-4.7 3.4-3.1-1.5z" fill="#78c2ad" stroke="#78c2ad"/>
<path d="M79.2 357.8l3.1 1.2-4.7 3.8-3.1-1.6z" fill="#7dc19f" stroke="#7dc19f"/>
<path d="M77.7 352.9l3.1 .8 3.1 .7 3.1 .8-3.2 2.5-3.1 2.6-3.1 2.5-3.1-1.6-3.1-1.5-3.1-1.6 3.2-1.7 3.1-1.8z" class="ms"/>
<circle cx="77.7" cy="352.9" r="0.75"/>
<path d="M96.3 348.7l4.7 3.3-9.4 6-4.6-2.8z" fill="#8ac171" stroke="#8ac171"/>
<path d="M101 352l4.6 3.4-9.4 5.4-4.6-2.8z" fill="#91c362" stroke="#91c362"/>
<path d="M96.3 348.7l3.1 2.2 3.1 2.3 3.1 2.2-3.1 1.8-3.2 1.8-3.1 1.8-3.1-1.9-3.1-1.8-3-1.9 3.1-2.2 3.1-2.2z" class="ms"/>
<circle cx="96.3" cy="348.7" r="0.75"/>
<path d="M115 353l9.2 7.5-9.4 2.1-9.2-7.2z" fill="#95c45a" stroke="#95c45a"/>
<path d="M115 353l3 2.5 3.1 2.5 3.1 2.5-3.1 .7-3.1 .7-3.2 .7-3.1-2.4-3-2.4-3.1-2.4 3.1-.8 3.1-.8z" class="ms"/>
<circle cx="115" cy="353" r="0.75"/>
<path d="M49.7 365.6l9.3 5.6-9.4 25.4-9.2-4.8z" fill="#92c35f" stroke="#92c35f"/>
<path d="M49.7 365.6l3.1 1.9 3.1 1.8 3.1 1.9-3.2 8.5-3.1 8.4-3.1 8.5-3.1-1.6-3.1-1.6-3-1.6 3.1-8.7 3.1-8.8z" class="ms"/>
<circle cx="49.7" cy="365.6" r="0.75"/>
<path d="M68.3 358.1l9.3 4.7-3.1 4.3-9.3-4.6z" fill="#7cc1a0" stroke="#7cc1a0"/>
<path d="M65.2 362.5l9.3 4.6-3.2 4.3-9.2-4.6z" fill="#83c087" stroke="#83c087"/>
<path d="M62.1 366.8l9.2 4.6-3.1 4.3-9.2-4.5z" fill="#8cc26d" stroke="#8cc26d"/>
<path d="M68.3 358.1l3.1 1.6 3.1 1.5 3.1 1.6-3.1 4.3-3.2 4.3-3.1 4.3-3.1-1.5-3-1.5-3.1-1.5 3.1-4.4 3.1-4.3z" class="ms"/>
<circle cx="68.3" cy="358.1" r="0.75"/>
<path d="M87 355.2l3 1.9-2.3 2.2-3.1-2.2z" fill="#84c082" stroke="#84c082"/>
<path d="M84.6 357.1l3.1 2.2-2.3 2.2-3.1-2.5z" fill="#81c08c" stroke="#81c08c"/>
<path d="M90 357.1l3.1 1.8-2.3 2.6-3.1-2.2z" fill="#87c079" stroke="#87c079"/>
<path d="M82.3 359l3.1 2.5-2.4 2.2-3.1-2.8z" fill="#7fc197" stroke="#7fc197"/>
<path d="M87.7 359.3l3.1 2.2-2.4 2.5-3-2.5z" fill="#82c08a" stroke="#82c08a"/>
<path d="M93.1 358.9l3.1 1.9-2.3 2.9-3.1-2.2z" fill="#8bc16f" stroke="#8bc16f"/>
<path d="M79.9 360.9l3.1 2.8-2.3 2.2-3.1-3.1z" fill="#7cc1a1" stroke="#7cc1a1"/>
<path d="M85.4 361.5l3 2.5-2.3 2.5-3.1-2.8z" fill="#7dc19c" stroke="#7dc19c"/>
<path d="M90.8 361.5l3.1 2.2-2.4 2.8-3.1-2.5z" fill="#82c088" stroke="#82c088"/>
<path d="M83 363.7l3.1 2.8-2.3 2.5-3.1-3.1z" fill="#78c2ad" stroke="#78c2ad"/>
<path d="M88.4 364l3.1 2.5-2.3 2.8-3.1-2.8z" fill="#7cc1a1" stroke="#7cc1a1"/>
<path d="M86.1 366.5l3.1 2.8-2.4 2.9-3-3.2z" fill="#74c3ba" stroke="#74c3ba"/>
<path d="M87 355.2l3 1.9 3.1 1.8 3.1 1.9-3.1 3.8-3.1 3.8-3.2 3.8-3-3.2-3.1-3.1-3.1-3.1 3.1-2.5 3.1-2.6z" class="ms"/>
<circle cx="87" cy="355.2" r="0.75"/>
<path d="M105.6 355.4l9.2 7.2-9.3 6.9-9.3-8.7z" fill="#97c555" stroke="#97c555"/>
<path d="M105.6 355.4l3.1 2.4 3 2.4 3.1 2.4-3.1 2.3-3.1 2.3-3.1 2.3-3.1-2.9-3.1-2.9-3.1-2.9 3.1-1.8 3.2-1.8z" class="ms"/>
<circle cx="105.6" cy="355.4" r="0.75"/>
<path d="M124.2 360.5l9.2 13-9.3 5.5-9.3-16.4z" fill="#92c35f" stroke="#92c35f"/>
<path d="M124.2 360.5l3.1 4.3 3.1 4.4 3 4.3-3.1 1.8-3.1 1.9-3.1 1.8-3.1-5.5-3.1-5.4-3.1-5.5 3.2-.7 3.1-.7z" class="ms"/>
<circle cx="124.2" cy="360.5" r="0.75"/>
<path d="M40.4 391.8l9.2 4.8-9.4 10.8-9.2-4.2z" fill="#95c45a" stroke="#95c45a"/>
<path d="M40.4 391.8l3 1.6 3.1 1.6 3.1 1.6-3.1 3.6-3.1 3.6-3.2 3.6-3.1-1.4-3-1.4-3.1-1.4 3.1-3.8 3.1-3.8z" class="ms"/>
<circle cx="40.4" cy="391.8" r="0.75"/>
<circle cx="31" cy="403.2" r="0.75"/>
<path d="M59 371.2l4.6 2.2-4.7 13-4.6-2.5z" fill="#91c362" stroke="#91c362"/>
<path d="M63.6 373.4l4.6 2.3-4.7 13.3-4.6-2.6z" fill="#96c457" stroke="#96c457"/>
<path d="M54.3 383.9l4.6 2.5-4.7 13-4.6-2.8z" fill="#96c457" stroke="#96c457"/>
<path d="M58.9 386.4l4.6 2.6-4.6 13.3-4.7-2.9z" fill="#96c457" stroke="#96c457"/>
<path d="M59 371.2l3.1 1.5 3 1.5 3.1 1.5-3.1 8.8-3.1 8.9-3.1 8.9-3.1-1.9-3.1-1.9-3.1-1.9 3.1-8.5 3.1-8.4z" class="ms"/>
<circle cx="59" cy="371.2" r="0.75"/>
<path d="M77.6 362.8l3.1 3.1-3.2 4.3-3-3.1z" fill="#7ec19b" stroke="#7ec19b"/>
<path d="M80.7 365.9l3.1 3.1-3.2 4.4-3.1-3.2z" fill="#79c2ac" stroke="#79c2ac"/>
<path d="M74.5 367.1l3 3.1-3.1 4.4-3.1-3.2z" fill="#84c083" stroke="#84c083"/>
<path d="M83.8 369l3 3.2-3.1 4.3-3.1-3.1z" fill="#73c3bd" stroke="#73c3bd"/>
<path d="M77.5 370.2l3.1 3.2-3.1 4.3-3.1-3.1z" fill="#7ec198" stroke="#7ec198"/>
<path d="M71.3 371.4l3.1 3.2-3.1 4.3-3.1-3.2z" fill="#8dc26a" stroke="#8dc26a"/>
<path d="M80.6 373.4l3.1 3.1-3.1 4.4-3.1-3.2z" fill="#79c2ac" stroke="#79c2ac"/>
<path d="M74.4 374.6l3.1 3.1-3.1 4.4-3.1-3.2z" fill="#84c083" stroke="#84c083"/>
<path d="M77.5 377.7l3.1 3.2-3.1 4.4-3.1-3.2z" fill="#7ec19b" stroke="#7ec19b"/>
<path d="M77.6 362.8l3.1 3.1 3.1 3.1 3 3.2-3.1 4.3-3.1 4.4-3.1 4.4-3.1-3.2-3.1-3.2-3.1-3.2 3.1-4.3 3.2-4.3z" class="ms"/>
<circle cx="77.6" cy="362.8" r="0.75"/>
<path d="M96.2 360.8l9.3 8.7-1.9 2.3-9.3-8.7z" fill="#94c45d" stroke="#94c45d"/>
<path d="M94.3 363.1l9.3 8.7-1.9 2.4-9.2-8.8z" fill="#88c077" stroke="#88c077"/>
<path d="M92.5 365.4l9.2 8.8-1.9 2.3-9.2-8.9z" fill="#81c08e" stroke="#81c08e"/>
<path d="M90.6 367.6l9.2 8.9-1.8 2.4-9.3-9z" fill="#7bc1a6" stroke="#7bc1a6"/>
<path d="M88.7 369.9l9.3 9-1.9 2.3-9.3-9z" fill="#73c3bd" stroke="#73c3bd"/>
<path d="M96.2 360.8l3.1 2.9 3.1 2.9 3.1 2.9-3.2 3.9-3.1 3.9-3.1 3.9-3.1-3-3.1-3-3.1-3 3.2-3.8 3.1-3.8z" class="ms"/>
<circle cx="96.2" cy="360.8" r="0.75"/>
<path d="M114.8 362.6l9.3 16.4-9.4 4-9.2-13.5z" fill="#97c555" stroke="#97c555"/>
<path d="M114.8 362.6l3.1 5.5 3.1 5.4 3.1 5.5-3.1 1.3-3.2 1.4-3.1 1.3-3.1-4.5-3.1-4.5-3-4.5 3.1-2.3 3.1-2.3z" class="ms"/>
<circle cx="114.8" cy="362.6" r="0.75"/>
<path d="M133.4 373.5l9.3 15.4-9.4 5.5-9.2-15.4z" fill="#89c174" stroke="#89c174"/>
<path d="M133.4 373.5l3.1 5.1 3.1 5.2 3.1 5.1-3.1 1.8-3.1 1.9-3.2 1.8-3.1-5.1-3-5.2-3.1-5.1 3.1-1.8 3.1-1.9z" class="ms"/>
<circle cx="133.4" cy="373.5" r="0.75"/>
<circle cx="142.7" cy="388.9" r="0.75"/>
<path d="M49.6 396.6l9.3 5.7-9.4 10.4-9.3-5.3z" fill="#94c45d" stroke="#94c45d"/>
<path d="M49.6 396.6l3.1 1.9 3.1 1.9 3.1 1.9-3.2 3.5-3.1 3.4-3.1 3.5-3.1-1.8-3.1-1.8-3.1-1.7 3.2-3.6 3.1-3.6z" class="ms"/>
<circle cx="49.6" cy="396.6" r="0.75"/>
<circle cx="40.2" cy="407.4" r="0.75"/>
<path d="M68.2 375.7l3.1 3.2-3.1 8.5-3.1-2.9z" fill="#93c45d" stroke="#93c45d"/>
<path d="M71.3 378.9l3.1 3.2-3.1 8.1-3.1-2.8z" fill="#89c174" stroke="#89c174"/>
<path d="M65.1 384.5l3.1 2.9-3.1 8.4-3.1-2.4z" fill="#94c45c" stroke="#94c45c"/>
<path d="M74.4 382.1l3.1 3.2-3.2 7.7-3-2.8z" fill="#82c089" stroke="#82c089"/>
<path d="M68.2 387.4l3.1 2.8-3.2 8.1-3-2.5z" fill="#8ec26a" stroke="#8ec26a"/>
<path d="M62 393.4l3.1 2.4-3.2 8.5-3-2z" fill="#94c45a" stroke="#94c45a"/>
<path d="M71.3 390.2l3 2.8-3.1 7.7-3.1-2.4z" fill="#87c078" stroke="#87c078"/>
<path d="M65.1 395.8l3 2.5-3.1 8.1-3.1-2.1z" fill="#92c35f" stroke="#92c35f"/>
<path d="M68.1 398.3l3.1 2.4-3.1 7.7-3.1-2z" fill="#90c364" stroke="#90c364"/>
<path d="M68.2 375.7l3.1 3.2 3.1 3.2 3.1 3.2-3.2 7.7-3.1 7.7-3.1 7.7-3.1-2-3.1-2.1-3-2 3.1-8.9 3.1-8.9z" class="ms"/>
<circle cx="68.2" cy="375.7" r="0.75"/>
<path d="M86.8 372.2l9.3 9-4.7 6.7-9.2-9.2z" fill="#71c4c1" stroke="#71c4c1"/>
<path d="M82.2 378.7l9.2 9.2-4.7 6.7-9.2-9.3z" fill="#77c2b0" stroke="#77c2b0"/>
<path d="M86.8 372.2l3.1 3 3.1 3 3.1 3-3.1 4.5-3.2 4.4-3.1 4.5-3.1-3.1-3-3.1-3.1-3.1 3.1-4.4 3.1-4.4z" class="ms"/>
<circle cx="86.8" cy="372.2" r="0.75"/>
<path d="M105.5 369.5l9.2 13.5-1.9 2-9.2-13.2z" fill="#96c456" stroke="#96c456"/>
<path d="M103.6 371.8l9.2 13.2-1.8 2.1-9.3-12.9z" fill="#8bc16e" stroke="#8bc16e"/>
<path d="M101.7 374.2l9.3 12.9-1.9 2-9.3-12.6z" fill="#83c085" stroke="#83c085"/>
<path d="M99.8 376.5l9.3 12.6-1.9 2-9.2-12.2z" fill="#7ec19b" stroke="#7ec19b"/>
<path d="M98 378.9l9.2 12.2-1.9 2-9.2-11.9z" fill="#77c2b0" stroke="#77c2b0"/>
<path d="M105.5 369.5l3 4.5 3.1 4.5 3.1 4.5-3.1 3.4-3.1 3.3-3.2 3.4-3-4-3.1-3.9-3.1-4 3.1-3.9 3.1-3.9z" class="ms"/>
<circle cx="105.5" cy="369.5" r="0.75"/>
<path d="M124.1 379l3.1 5.1-4.7 2.4-3.1-5.5z" fill="#8fc267" stroke="#8fc267"/>
<path d="M127.2 384.1l3 5.2-4.6 2.6-3.1-5.4z" fill="#88c175" stroke="#88c175"/>
<path d="M119.4 381l3.1 5.5-4.7 2.3-3.1-5.8z" fill="#92c360" stroke="#92c360"/>
<path d="M130.2 389.3l3.1 5.1-4.7 3-3-5.5z" fill="#84c083" stroke="#84c083"/>
<path d="M122.5 386.5l3.1 5.4-4.7 2.7-3.1-5.8z" fill="#87c078" stroke="#87c078"/>
<path d="M125.6 391.9l3 5.5-4.6 3-3.1-5.8z" fill="#81c08d" stroke="#81c08d"/>
<path d="M124.1 379l3.1 5.1 3 5.2 3.1 5.1-3.1 2-3.1 2-3.1 2-3.1-5.8-3.1-5.8-3.1-5.8 3.1-1.3 3.2-1.4z" class="ms"/>
<circle cx="124.1" cy="379" r="0.75"/>
<circle cx="133.3" cy="394.4" r="0.75"/>
<path d="M58.9 402.3l9.2 6.1-9.4 9.7-9.2-5.4z" fill="#92c35f" stroke="#92c35f"/>
<path d="M58.9 402.3l3 2 3.1 2.1 3.1 2-3.1 3.3-3.1 3.2-3.2 3.2-3.1-1.8-3-1.8-3.1-1.8 3.1-3.5 3.1-3.4z" class="ms"/>
<circle cx="58.9" cy="402.3" r="0.75"/>
<circle cx="49.5" cy="412.7" r="0.75"/>
<path d="M77.5 385.3l9.2 9.3-3.1 6.5-9.3-8.1z" fill="#7dc19c" stroke="#7dc19c"/>
<path d="M74.3 393l9.3 8.1-3.1 6.6-9.3-7z" fill="#83c085" stroke="#83c085"/>
<path d="M71.2 400.7l9.3 7-3.1 6.5-9.3-5.8z" fill="#8cc26c" stroke="#8cc26c"/>
<path d="M77.5 385.3l3.1 3.1 3 3.1 3.1 3.1-3.1 6.5-3.1 6.6-3.1 6.5-3.1-1.9-3.1-1.9-3.1-2 3.1-7.7 3.1-7.7z" class="ms"/>
<circle cx="77.5" cy="385.3" r="0.75"/>
<path d="M96.1 381.2l4.6 6-4.7 6.8-4.6-6.1z" fill="#72c3be" stroke="#72c3be"/>
<path d="M100.7 387.2l4.6 5.9-4.6 7-4.7-6.1z" fill="#73c3bc" stroke="#73c3bc"/>
<path d="M91.4 387.9l4.6 6.1-4.7 6.9-4.6-6.3z" fill="#73c3bc" stroke="#73c3bc"/>
<path d="M96 394l4.7 6.1-4.7 7-4.7-6.2z" fill="#6fc4c8" stroke="#6fc4c8"/>
<path d="M96.1 381.2l3.1 4 3.1 3.9 3 4-3.1 4.7-3.1 4.6-3.1 4.7-3.1-4.2-3.1-4.1-3.1-4.2 3.1-4.5 3.2-4.4z" class="ms"/>
<circle cx="96.1" cy="381.2" r="0.75"/>
<path d="M114.7 383l3.1 5.8-2.3 2.3-3.1-5.6z" fill="#8ec269" stroke="#8ec269"/>
<path d="M112.4 385.5l3.1 5.6-2.4 2.3-3.1-5.3z" fill="#84c080" stroke="#84c080"/>
<path d="M117.8 388.8l3.1 5.8-2.4 2-3-5.5z" fill="#84c082" stroke="#84c082"/>
<path d="M110 388.1l3.1 5.3-2.3 2.3-3.1-5.1z" fill="#7fc195" stroke="#7fc195"/>
<path d="M115.5 391.1l3 5.5-2.3 2.1-3.1-5.3z" fill="#80c192" stroke="#80c192"/>
<path d="M120.9 394.6l3.1 5.8-2.4 1.8-3.1-5.6z" fill="#7ec198" stroke="#7ec198"/>
<path d="M107.7 390.6l3.1 5.1-2.4 2.2-3.1-4.8z" fill="#79c1aa" stroke="#79c1aa"/>
<path d="M113.1 393.4l3.1 5.3-2.4 2-3-5z" fill="#7cc1a2" stroke="#7cc1a2"/>
<path d="M118.5 396.6l3.1 5.6-2.3 1.8-3.1-5.3z" fill="#7bc1a4" stroke="#7bc1a4"/>
<path d="M110.8 395.7l3 5-2.3 2.1-3.1-4.9z" fill="#76c2b3" stroke="#76c2b3"/>
<path d="M116.2 398.7l3.1 5.3-2.4 1.8-3.1-5.1z" fill="#77c2b0" stroke="#77c2b0"/>
<path d="M113.8 400.7l3.1 5.1-2.3 1.8-3.1-4.8z" fill="#73c3bb" stroke="#73c3bb"/>
<path d="M114.7 383l3.1 5.8 3.1 5.8 3.1 5.8-3.2 2.4-3.1 2.4-3.1 2.4-3.1-4.8-3.1-4.9-3.1-4.8 3.2-3.4 3.1-3.3z" class="ms"/>
<circle cx="114.7" cy="383" r="0.75"/>
<circle cx="124" cy="400.4" r="0.75"/>
<path d="M68.1 408.4l9.3 5.8-9.4 8.9-9.3-5z" fill="#91c362" stroke="#91c362"/>
<path d="M68.1 408.4l3.1 2 3.1 1.9 3.1 1.9-3.2 2.9-3.1 3-3.1 3-3.1-1.7-3.1-1.7-3.1-1.6 3.2-3.2 3.1-3.2z" class="ms"/>
<circle cx="68.1" cy="408.4" r="0.75"/>
<circle cx="58.7" cy="418.1" r="0.75"/>
<path d="M86.7 394.6l4.6 6.3-2.3 4-4.6-5.4z" fill="#77c2b0" stroke="#77c2b0"/>
<path d="M84.4 399.5l4.6 5.4-2.3 4-4.7-4.5z" fill="#7dc19b" stroke="#7dc19b"/>
<path d="M91.3 400.9l4.7 6.2-2.4 3.2-4.6-5.4z" fill="#71c4c1" stroke="#71c4c1"/>
<path d="M82 404.4l4.7 4.5-2.4 4.1-4.6-3.7z" fill="#83c086" stroke="#83c086"/>
<path d="M89 404.9l4.6 5.4-2.3 3.1-4.6-4.5z" fill="#7ac1a7" stroke="#7ac1a7"/>
<path d="M79.7 409.3l4.6 3.7-2.3 4-4.6-2.8z" fill="#8bc170" stroke="#8bc170"/>
<path d="M86.7 408.9l4.6 4.5-2.4 3.2-4.6-3.6z" fill="#81c08d" stroke="#81c08d"/>
<path d="M84.3 413l4.6 3.6-2.3 3.2-4.6-2.8z" fill="#89c173" stroke="#89c173"/>
<path d="M86.7 394.6l3.1 4.2 3.1 4.1 3.1 4.2-3.2 4.2-3.1 4.3-3.1 4.2-3.1-1.9-3.1-1.8-3-1.9 3.1-6.5 3.1-6.6z" class="ms"/>
<circle cx="86.7" cy="394.6" r="0.75"/>
<path d="M105.3 393.1l4.7 7.3-4.7 5.5-4.6-5.8z" fill="#73c3bc" stroke="#73c3bc"/>
<path d="M110 400.4l4.6 7.2-4.7 4-4.6-5.7z" fill="#72c3be" stroke="#72c3be"/>
<path d="M100.7 400.1l4.6 5.8-4.7 5.5-4.6-4.3z" fill="#6fc4c8" stroke="#6fc4c8"/>
<path d="M105.3 405.9l4.6 5.7-4.7 4-4.6-4.2z" fill="#73c3bc" stroke="#73c3bc"/>
<path d="M105.3 393.1l3.1 4.8 3.1 4.9 3.1 4.8-3.1 2.7-3.2 2.6-3.1 2.7-3.1-2.8-3-2.9-3.1-2.8 3.1-4.7 3.1-4.6z" class="ms"/>
<circle cx="105.3" cy="393.1" r="0.75"/>
<circle cx="114.6" cy="407.6" r="0.75"/>
<path d="M77.4 414.2l9.2 5.6-9.4 8.2-9.2-4.9z" fill="#90c364" stroke="#90c364"/>
<path d="M77.4 414.2l3 1.9 3.1 1.8 3.1 1.9-3.1 2.7-3.1 2.8-3.2 2.7-3.1-1.6-3-1.7-3.1-1.6 3.1-3 3.1-3z" class="ms"/>
<circle cx="77.4" cy="414.2" r="0.75"/>
<circle cx="68" cy="423.1" r="0.75"/>
<path d="M96 407.1l4.6 4.3-2.3 2.9-4.7-4z" fill="#71c4c1" stroke="#71c4c1"/>
<path d="M93.6 410.3l4.7 4-2.4 2.9-4.6-3.8z" fill="#7ac1a8" stroke="#7ac1a8"/>
<path d="M100.6 411.4l4.6 4.2-2.3 2.6-4.6-3.9z" fill="#77c2b1" stroke="#77c2b1"/>
<path d="M91.3 413.4l4.6 3.8-2.3 2.8-4.7-3.4z" fill="#81c08f" stroke="#81c08f"/>
<path d="M98.3 414.3l4.6 3.9-2.4 2.7-4.6-3.7z" fill="#7dc19e" stroke="#7dc19e"/>
<path d="M88.9 416.6l4.7 3.4-2.4 2.9-4.6-3.1z" fill="#88c175" stroke="#88c175"/>
<path d="M95.9 417.2l4.6 3.7-2.3 2.6-4.6-3.5z" fill="#82c08b" stroke="#82c08b"/>
<path d="M93.6 420l4.6 3.5-2.4 2.6-4.6-3.2z" fill="#87c077" stroke="#87c077"/>
<path d="M96 407.1l3.1 2.8 3 2.9 3.1 2.8-3.1 3.5-3.1 3.5-3.2 3.5-3-2.1-3.1-2.1-3.1-2.1 3.1-4.2 3.1-4.3z" class="ms"/>
<circle cx="96" cy="407.1" r="0.75"/>
<circle cx="105.2" cy="415.6" r="0.75"/>
<path d="M86.6 419.8l9.2 6.3-9.3 6.9-9.3-5z" fill="#8fc267" stroke="#8fc267"/>
<path d="M86.6 419.8l3.1 2.1 3.1 2.1 3 2.1-3.1 2.3-3.1 2.3-3.1 2.3-3.1-1.7-3.1-1.6-3.1-1.7 3.2-2.7 3.1-2.8z" class="ms"/>
<circle cx="86.6" cy="419.8" r="0.75"/>
<circle cx="95.8" cy="426.1" r="0.75"/>
<circle cx="77.2" cy="428" r="0.75"/>
<circle cx="86.5" cy="433" r="0.75"/>
</g>
<line x1="31" y1="403.2" x2="32.5" y2="402.4" stroke="#888" stroke-width="0.6"/>
<text x="28.4" y="404.5" font-size="7.8" text-anchor="end" textLength="3.6" lengthAdjust="spacingAndGlyphs">0</text>
<line x1="31" y1="383.5" x2="32.5" y2="382.7" stroke="#888" stroke-width="0.6"/>
<text x="28.4" y="384.8" font-size="7.8" text-anchor="end" textLength="7.2" lengthAdjust="spacingAndGlyphs">50</text>
<line x1="31" y1="363.8" x2="32.5" y2="363" stroke="#888" stroke-width="0.6"/>
<text x="28.4" y="365.1" font-size="7.8" text-anchor="end" textLength="10.8" lengthAdjust="spacingAndGlyphs">100</text>
<text x="20.4" y="411.3" font-size="7.2" text-anchor="end" textLength="3.4" lengthAdjust="spacingAndGlyphs">0</text>
<text x="34.2" y="414.8" font-size="7.2" text-anchor="end" textLength="11.8" lengthAdjust="spacingAndGlyphs">0.04</text>
<text x="44.6" y="419.9" font-size="7.2" text-anchor="end" textLength="15.2" lengthAdjust="spacingAndGlyphs">0.123</text>
<text x="52.4" y="426.1" font-size="7.2" text-anchor="end" textLength="11.8" lengthAdjust="spacingAndGlyphs">0.37</text>
<text x="65" y="431.5" font-size="7.2" text-anchor="end" textLength="15.2" lengthAdjust="spacingAndGlyphs">1.111</text>
<text x="75.4" y="437" font-size="7.2" text-anchor="end" textLength="15.2" lengthAdjust="spacingAndGlyphs">3.333</text>
<text x="83.6" y="440.2" font-size="7.2" text-anchor="end" textLength="6.8" lengthAdjust="spacingAndGlyphs">10</text>
<text x="89.6" y="439.6" font-size="7.2" textLength="10.2" lengthAdjust="spacingAndGlyphs">100</text>
<text x="99.8" y="434.2" font-size="7.2" textLength="6.8" lengthAdjust="spacingAndGlyphs">33</text>
<text x="109" y="429.7" font-size="7.2" textLength="6.8" lengthAdjust="spacingAndGlyphs">11</text>
<text x="117.6" y="424.9" font-size="7.2" textLength="8.4" lengthAdjust="spacingAndGlyphs">3.7</text>
<text x="126.9" y="420.2" font-size="7.2" textLength="8.4" lengthAdjust="spacingAndGlyphs">1.2</text>
<text x="136.2" y="415" font-size="7.2" textLength="8.4" lengthAdjust="spacingAndGlyphs">0.4</text>
<text x="145.8" y="411.1" font-size="7.2" textLength="3.4" lengthAdjust="spacingAndGlyphs">0</text>
<text x="13" y="444.4" font-size="8" textLength="43.2" lengthAdjust="spacingAndGlyphs">SHP099 [µM]</text>
<text x="108.3" y="444.8" font-size="8" textLength="48.5" lengthAdjust="spacingAndGlyphs">Crizotinib [nM]</text>
<text x="13.2" y="383.1" font-size="10.2" text-anchor="middle" textLength="31.5" lengthAdjust="spacingAndGlyphs" transform="rotate(-90 13.2 383.1)">% Control</text>
<rect x="154.3" y="331" width="9" height="101.6" fill="url(#cm)"/>
<text x="170.5" y="357" font-size="7.6" text-anchor="middle" textLength="27.4" lengthAdjust="spacingAndGlyphs" transform="rotate(-90 170.5 357)">Synergy</text>
<text x="170.5" y="402.6" font-size="7.6" text-anchor="middle" textLength="41" lengthAdjust="spacingAndGlyphs" transform="rotate(-90 170.5 402.6)">Antagonism</text>
<line x1="259.8" y1="372.7" x2="205.5" y2="402.7" stroke="#dcdcdc" stroke-width="0.5"/>
<line x1="259.8" y1="372.7" x2="314.1" y2="403" stroke="#dcdcdc" stroke-width="0.5"/>
<line x1="268.9" y1="377.8" x2="214.6" y2="407.8" stroke="#dcdcdc" stroke-width="0.5"/>
<line x1="250.8" y1="377.7" x2="305.1" y2="408" stroke="#dcdcdc" stroke-width="0.5"/>
<line x1="277.9" y1="382.8" x2="223.6" y2="412.8" stroke="#dcdcdc" stroke-width="0.5"/>
<line x1="241.7" y1="382.7" x2="296" y2="413" stroke="#dcdcdc" stroke-width="0.5"/>
<line x1="286.9" y1="387.9" x2="232.6" y2="417.9" stroke="#dcdcdc" stroke-width="0.5"/>
<line x1="232.7" y1="387.7" x2="287" y2="418" stroke="#dcdcdc" stroke-width="0.5"/>
<line x1="296" y1="392.9" x2="241.7" y2="422.9" stroke="#dcdcdc" stroke-width="0.5"/>
<line x1="223.6" y1="392.7" x2="277.9" y2="423" stroke="#dcdcdc" stroke-width="0.5"/>
<line x1="305.1" y1="398" x2="250.8" y2="428" stroke="#dcdcdc" stroke-width="0.5"/>
<line x1="214.6" y1="397.7" x2="268.9" y2="428" stroke="#dcdcdc" stroke-width="0.5"/>
<line x1="314.1" y1="403" x2="259.8" y2="433" stroke="#dcdcdc" stroke-width="0.5"/>
<line x1="205.5" y1="402.7" x2="259.8" y2="433" stroke="#dcdcdc" stroke-width="0.5"/>
<line x1="259.8" y1="372.7" x2="259.8" y2="329.6" stroke="#dcdcdc" stroke-width="0.5"/>
<line x1="259.8" y1="372.7" x2="259.8" y2="329.6" stroke="#dcdcdc" stroke-width="0.5"/>
<line x1="250.8" y1="377.7" x2="250.8" y2="334.6" stroke="#dcdcdc" stroke-width="0.5"/>
<line x1="268.9" y1="377.8" x2="268.9" y2="334.7" stroke="#dcdcdc" stroke-width="0.5"/>
<line x1="241.7" y1="382.7" x2="241.7" y2="339.6" stroke="#dcdcdc" stroke-width="0.5"/>
<line x1="277.9" y1="382.8" x2="277.9" y2="339.7" stroke="#dcdcdc" stroke-width="0.5"/>
<line x1="232.7" y1="387.7" x2="232.7" y2="344.6" stroke="#dcdcdc" stroke-width="0.5"/>
<line x1="286.9" y1="387.9" x2="286.9" y2="344.8" stroke="#dcdcdc" stroke-width="0.5"/>
<line x1="223.6" y1="392.7" x2="223.6" y2="349.6" stroke="#dcdcdc" stroke-width="0.5"/>
<line x1="296" y1="392.9" x2="296" y2="349.8" stroke="#dcdcdc" stroke-width="0.5"/>
<line x1="214.6" y1="397.7" x2="214.6" y2="354.6" stroke="#dcdcdc" stroke-width="0.5"/>
<line x1="305.1" y1="398" x2="305.1" y2="354.9" stroke="#dcdcdc" stroke-width="0.5"/>
<line x1="205.5" y1="402.7" x2="205.5" y2="359.6" stroke="#dcdcdc" stroke-width="0.5"/>
<line x1="314.1" y1="403" x2="314.1" y2="359.9" stroke="#dcdcdc" stroke-width="0.5"/>
<polyline points="205.5,402.7 259.8,372.7 314.1,403" fill="none" stroke="#dcdcdc" stroke-width="0.5"/>
<polyline points="205.5,389.8 259.8,359.8 314.1,390.1" fill="none" stroke="#dcdcdc" stroke-width="0.5"/>
<polyline points="205.5,376.9 259.8,346.9 314.1,377.2" fill="none" stroke="#dcdcdc" stroke-width="0.5"/>
<polyline points="205.5,364 259.8,334 314.1,364.3" fill="none" stroke="#dcdcdc" stroke-width="0.5"/>
<polyline points="205.5,359.6 259.8,329.6 314.1,359.9" fill="none" stroke="#dcdcdc" stroke-width="0.5"/>
<line x1="205.5" y1="402.7" x2="205.5" y2="359.6" stroke="#b0b0b0" stroke-width="0.7"/>
<polyline points="205.5,402.7 259.8,433 314.1,403" fill="none" stroke="#8a8a8a" stroke-width="0.7"/>
<g stroke-linejoin="round" stroke-width="0.45">
<path d="M259.8 346.5l9.1 8-9.1 3.1-9-5.3z" fill="#86c079" stroke="#86c079"/>
<path d="M259.8 346.5l3 2.7 3 2.6 3.1 2.7-3.1 1-3 1-3 1.1-3-1.8-3-1.8-3-1.7 3-1.9 3-2z" class="ms"/>
<circle cx="259.8" cy="346.5" r="0.75"/>
<path d="M250.8 352.3l9 5.3-3 .7-9.1-5.4z" fill="#8dc26b" stroke="#8dc26b"/>
<path d="M247.7 352.9l9.1 5.4-3 .8-9.1-5.6z" fill="#9ac54f" stroke="#9ac54f"/>
<path d="M244.7 353.5l9.1 5.6-3 .8-9.1-5.8z" fill="#b2cd43" stroke="#b2cd43"/>
<path d="M250.8 352.3l3 1.7 3 1.8 3 1.8-3 .7-3 .8-3 .8-3.1-1.9-3-1.9-3-2 3-.6 3-.6z" class="ms"/>
<circle cx="250.8" cy="352.3" r="0.75"/>
<path d="M268.9 354.5l1.8 .9-9.1 3.5-1.8-1.3z" fill="#8dc26c" stroke="#8dc26c"/>
<path d="M270.7 355.4l1.8 1-9.1 3.9-1.8-1.4z" fill="#99c550" stroke="#99c550"/>
<path d="M272.5 356.4l1.8 1-9.1 4.3-1.8-1.4z" fill="#b0cc43" stroke="#b0cc43"/>
<path d="M274.3 357.4l1.8 .9-9.1 4.8-1.8-1.4z" fill="#cbd43a" stroke="#cbd43a"/>
<path d="M276.1 358.3l1.8 1-9 5.2-1.9-1.4z" fill="#e2dc28" stroke="#e2dc28"/>
<path d="M268.9 354.5l3 1.6 3 1.6 3 1.6-3 1.7-3 1.8-3 1.7-3.1-2.3-3-2.3-3-2.3 3-1.1 3-1z" class="ms"/>
<circle cx="268.9" cy="354.5" r="0.75"/>
<path d="M241.7 354.1l9.1 5.8-1.9 .4-9-5.8z" fill="#ced538" stroke="#ced538"/>
<path d="M239.9 354.5l9 5.8-1.8 .4-9-5.8z" fill="#e7dd24" stroke="#e7dd24"/>
<path d="M238.1 354.9l9 5.8-1.8 .3-9-5.7z" fill="#f7d71a" stroke="#f7d71a"/>
<path d="M236.3 355.3l9 5.7-1.8 .4-9-5.8z" fill="#fabe1b" stroke="#fabe1b"/>
<path d="M234.5 355.6l9 5.8-1.8 .4-9-5.8z" fill="#f8a41d" stroke="#f8a41d"/>
<path d="M241.7 354.1l3 2 3 1.9 3.1 1.9-3.1 .6-3 .7-3 .6-3-1.9-3-2-3-1.9 3-.6 3-.6z" class="ms"/>
<circle cx="241.7" cy="354.1" r="0.75"/>
<path d="M259.8 357.6l1.8 1.3-2.3 .5-1.8-1.3z" fill="#91c363" stroke="#91c363"/>
<path d="M261.6 358.9l1.8 1.4-2.2 .4-1.9-1.3z" fill="#9cc64a" stroke="#9cc64a"/>
<path d="M257.5 358.1l1.8 1.3-2.2 .5-1.8-1.2z" fill="#99c551" stroke="#99c551"/>
<path d="M263.4 360.3l1.8 1.4-2.2 .3-1.8-1.3z" fill="#b3cd42" stroke="#b3cd42"/>
<path d="M259.3 359.4l1.9 1.3-2.3 .4-1.8-1.2z" fill="#a8c946" stroke="#a8c946"/>
<path d="M255.3 358.7l1.8 1.2-2.3 .5-1.8-1.1z" fill="#a7c946" stroke="#a7c946"/>
<path d="M265.2 361.7l1.8 1.4-2.2 .2-1.8-1.3z" fill="#cbd43a" stroke="#cbd43a"/>
<path d="M261.2 360.7l1.8 1.3-2.3 .3-1.8-1.2z" fill="#bacf40" stroke="#bacf40"/>
<path d="M257.1 359.9l1.8 1.2-2.3 .4-1.8-1.1z" fill="#b4cd42" stroke="#b4cd42"/>
<path d="M253 359.3l1.8 1.1-2.2 .5-1.8-1z" fill="#b9cf40" stroke="#b9cf40"/>
<path d="M267 363.1l1.9 1.4-2.3 .1-1.8-1.3z" fill="#e0db2a" stroke="#e0db2a"/>
<path d="M263 362l1.8 1.3-2.3 .2-1.8-1.2z" fill="#ccd439" stroke="#ccd439"/>
<path d="M258.9 361.1l1.8 1.2-2.3 .3-1.8-1.1z" fill="#c0d13e" stroke="#c0d13e"/>
<path d="M254.8 360.4l1.8 1.1-2.2 .4-1.8-1z" fill="#c0d13e" stroke="#c0d13e"/>
<path d="M264.8 363.3l1.8 1.3-2.3 .1-1.8-1.2z" fill="#dcda2d" stroke="#dcda2d"/>
<path d="M260.7 362.3l1.8 1.2-2.2 .2-1.9-1.1z" fill="#cdd539" stroke="#cdd539"/>
<path d="M256.6 361.5l1.8 1.1-2.2 .3-1.8-1z" fill="#c7d33b" stroke="#c7d33b"/>
<path d="M262.5 363.5l1.8 1.2-2.2 .2-1.8-1.2z" fill="#d8d830" stroke="#d8d830"/>
<path d="M258.4 362.6l1.9 1.1-2.3 .3-1.8-1.1z" fill="#cdd538" stroke="#cdd538"/>
<path d="M260.3 363.7l1.8 1.2-2.3 .1-1.8-1z" fill="#d3d734" stroke="#d3d734"/>
<path d="M259.8 357.6l3 2.3 3 2.3 3.1 2.3-3.1 .2-3 .1-3 .2-3-1.7-3-1.7-3-1.7 3-.8 3-.8z" class="ms"/>
<circle cx="259.8" cy="357.6" r="0.75"/>
<path d="M277.9 359.3l4.5 2.7-9 5-4.5-2.5z" fill="#e0db29" stroke="#e0db29"/>
<path d="M282.4 362l4.5 2.8-9 4.8-4.5-2.6z" fill="#c5d23c" stroke="#c5d23c"/>
<path d="M277.9 359.3l3 1.8 3 1.9 3 1.8-3 1.6-3 1.6-3 1.6-3-1.7-3-1.7-3-1.7 3-1.7 3-1.8z" class="ms"/>
<circle cx="277.9" cy="359.3" r="0.75"/>
<path d="M232.7 356l9 5.8-1.5 .1-9.1-6z" fill="#f5881f" stroke="#f5881f"/>
<path d="M231.1 355.9l9.1 6-1.5 0-9.1-6.2z" fill="#f26923" stroke="#f26923"/>
<path d="M229.6 355.7l9.1 6.2-1.5 .1-9.1-6.5z" fill="#f04a25" stroke="#f04a25"/>
<path d="M228.1 355.5l9.1 6.5-1.5 .1-9.1-6.7z" fill="#ed2b26" stroke="#ed2b26"/>
<path d="M226.6 355.4l9.1 6.7-1.5 .1-9.1-7z" fill="#e41e25" stroke="#e41e25"/>
<path d="M225.1 355.2l9.1 7-1.5 0-9.1-7.2z" fill="#c81f25" stroke="#c81f25"/>
<path d="M232.7 356l3 1.9 3 2 3 1.9-3 .1-3 .2-3 .1-3.1-2.4-3-2.4-3-2.4 3 .4 3 .3z" class="ms"/>
<circle cx="232.7" cy="356" r="0.75"/>
<path d="M250.8 359.9l3 1.7-1.3 .2-3-1.6z" fill="#ced538" stroke="#ced538"/>
<path d="M249.5 360.2l3 1.6-1.3 .1-3-1.5z" fill="#e1db29" stroke="#e1db29"/>
<path d="M248.2 360.4l3 1.5-1.3 .2-3-1.4z" fill="#f4e21a" stroke="#f4e21a"/>
<path d="M253.8 361.6l3 1.7-1.3 .1-3-1.6z" fill="#d5d732" stroke="#d5d732"/>
<path d="M246.9 360.7l3 1.4-1.3 .2-3-1.3z" fill="#f8cf1a" stroke="#f8cf1a"/>
<path d="M252.5 361.8l3 1.6-1.3 0-3-1.5z" fill="#ebdf21" stroke="#ebdf21"/>
<path d="M245.6 361l3 1.3-1.3 .2-3-1.2z" fill="#fabc1b" stroke="#fabc1b"/>
<path d="M251.2 361.9l3 1.5-1.3 .1-3-1.4z" fill="#f7d61a" stroke="#f7d61a"/>
<path d="M256.8 363.3l3 1.7-1.3 0-3-1.6z" fill="#dcda2d" stroke="#dcda2d"/>
<path d="M244.3 361.3l3 1.2-1.3 .2-3-1.2z" fill="#f8a81c" stroke="#f8a81c"/>
<path d="M249.9 362.1l3 1.4-1.3 .1-3-1.3z" fill="#fbc11a" stroke="#fbc11a"/>
<path d="M255.5 363.4l3 1.6-1.3-.1-3-1.5z" fill="#f4e21a" stroke="#f4e21a"/>
<path d="M243 361.5l3 1.2-1.3 .1-3-1z" fill="#f6941e" stroke="#f6941e"/>
<path d="M248.6 362.3l3 1.3-1.3 .1-3-1.2z" fill="#f8aa1c" stroke="#f8aa1c"/>
<path d="M254.2 363.4l3 1.5-1.3 0-3-1.4z" fill="#faca1a" stroke="#faca1a"/>
<path d="M247.3 362.5l3 1.2-1.3 .1-3-1.1z" fill="#f6941e" stroke="#f6941e"/>
<path d="M252.9 363.5l3 1.4-1.3 0-3-1.3z" fill="#f9b11c" stroke="#f9b11c"/>
<path d="M246 362.7l3 1.1-1.3 .1-3-1.1z" fill="#f47b21" stroke="#f47b21"/>
<path d="M251.6 363.6l3 1.3-1.3 0-3-1.2z" fill="#f7981e" stroke="#f7981e"/>
<path d="M250.3 363.7l3 1.2-1.3 0-3-1.1z" fill="#f47d21" stroke="#f47d21"/>
<path d="M249 363.8l3 1.1-1.2 0-3.1-1z" fill="#f26124" stroke="#f26124"/>
<path d="M250.8 359.9l3 1.7 3 1.7 3 1.7-3-.1-3 0-3 0-3.1-1-3-1.1-3-1 3-.6 3-.7z" class="ms"/>
<circle cx="250.8" cy="359.9" r="0.75"/>
<path d="M268.9 364.5l2.2 1.3-2.2 .1-2.3-1.3z" fill="#e5dd26" stroke="#e5dd26"/>
<path d="M271.1 365.8l2.3 1.2-2.3 .2-2.2-1.3z" fill="#dad92e" stroke="#dad92e"/>
<path d="M266.6 364.6l2.3 1.3-2.3 .1-2.3-1.3z" fill="#e1dc29" stroke="#e1dc29"/>
<path d="M273.4 367l2.2 1.3-2.2 .2-2.3-1.3z" fill="#d0d636" stroke="#d0d636"/>
<path d="M268.9 365.9l2.2 1.3-2.2 .1-2.3-1.3z" fill="#dcda2d" stroke="#dcda2d"/>
<path d="M264.3 364.7l2.3 1.3-2.3 .2-2.2-1.3z" fill="#ddda2c" stroke="#ddda2c"/>
<path d="M275.6 368.3l2.3 1.3-2.3 .1-2.2-1.2z" fill="#c4d23c" stroke="#c4d23c"/>
<path d="M271.1 367.2l2.3 1.3-2.3 .1-2.2-1.3z" fill="#d7d831" stroke="#d7d831"/>
<path d="M266.6 366l2.3 1.3-2.3 .2-2.3-1.3z" fill="#deda2b" stroke="#deda2b"/>
<path d="M262.1 364.9l2.2 1.3-2.2 .1-2.3-1.3z" fill="#d9d92f" stroke="#d9d92f"/>
<path d="M273.4 368.5l2.2 1.2-2.2 .2-2.3-1.3z" fill="#d2d634" stroke="#d2d634"/>
<path d="M268.9 367.3l2.2 1.3-2.2 .2-2.3-1.3z" fill="#dedb2b" stroke="#dedb2b"/>
<path d="M264.3 366.2l2.3 1.3-2.3 .1-2.2-1.3z" fill="#e0db2a" stroke="#e0db2a"/>
<path d="M271.1 368.6l2.3 1.3-2.3 .2-2.2-1.3z" fill="#dfdb2a" stroke="#dfdb2a"/>
<path d="M266.6 367.5l2.3 1.3-2.3 .1-2.3-1.3z" fill="#e6dd25" stroke="#e6dd25"/>
<path d="M268.9 368.8l2.2 1.3-2.3 .1-2.2-1.3z" fill="#ecdf20" stroke="#ecdf20"/>
<path d="M268.9 364.5l3 1.7 3 1.7 3 1.7-3 .2-3 .2-3.1 .2-3-1.7-3-1.8-3-1.7 3-.2 3-.1z" class="ms"/>
<circle cx="268.9" cy="364.5" r="0.75"/>
<path d="M286.9 364.8l9.1 5.1-9.1 3.8-9-4.1z" fill="#b0cc43" stroke="#b0cc43"/>
<path d="M286.9 364.8l3.1 1.7 3 1.7 3 1.7-3 1.2-3 1.3-3.1 1.3-3-1.4-3-1.4-3-1.3 3-1.6 3-1.6z" class="ms"/>
<circle cx="286.9" cy="364.8" r="0.75"/>
<path d="M223.6 355l9.1 7.2-3.1 .7-9-6.5z" fill="#a21a20" stroke="#a21a20"/>
<path d="M220.6 356.4l9 6.5-3 .7-9-5.9z" fill="#7d1113" stroke="#7d1113"/>
<path d="M217.6 357.7l9 5.9-3 .8-9-5.3z" fill="#7a1012" stroke="#7a1012"/>
<path d="M223.6 355l3 2.4 3 2.4 3.1 2.4-3.1 .7-3 .7-3 .8-3-1.8-3-1.8-3-1.7 3-1.4 3-1.3z" class="ms"/>
<circle cx="223.6" cy="355" r="0.75"/>
<path d="M241.7 361.8l3 1-1.5 .1-3-1z" fill="#f47b21" stroke="#f47b21"/>
<path d="M240.2 361.9l3 1-1.5 .2-3-1.2z" fill="#f15c25" stroke="#f15c25"/>
<path d="M244.7 362.8l3 1.1-1.5 .1-3-1.1z" fill="#f26024" stroke="#f26024"/>
<path d="M238.7 361.9l3 1.2-1.5 .1-3-1.2z" fill="#ef3d25" stroke="#ef3d25"/>
<path d="M243.2 362.9l3 1.1-1.5 .2-3-1.1z" fill="#ef4125" stroke="#ef4125"/>
<path d="M237.2 362l3 1.2-1.5 .1-3-1.2z" fill="#eb1f26" stroke="#eb1f26"/>
<path d="M247.7 363.9l3.1 1-1.6 .2-3-1.1z" fill="#ef4425" stroke="#ef4425"/>
<path d="M241.7 363.1l3 1.1-1.5 .1-3-1.1z" fill="#ec2226" stroke="#ec2226"/>
<path d="M235.7 362.1l3 1.2-1.5 .1-3-1.2z" fill="#dc1e25" stroke="#dc1e25"/>
<path d="M246.2 364l3 1.1-1.5 .2-3-1.1z" fill="#ed2626" stroke="#ed2626"/>
<path d="M240.2 363.2l3 1.1-1.5 .2-3-1.2z" fill="#e11e25" stroke="#e11e25"/>
<path d="M234.2 362.2l3 1.2-1.5 .1-3-1.3z" fill="#ba1f25" stroke="#ba1f25"/>
<path d="M244.7 364.2l3 1.1-1.5 .2-3-1.2z" fill="#e21e25" stroke="#e21e25"/>
<path d="M238.7 363.3l3 1.2-1.5 .1-3-1.2z" fill="#c11f25" stroke="#c11f25"/>
<path d="M243.2 364.3l3 1.2-1.5 .2-3-1.2z" fill="#c61f25" stroke="#c61f25"/>
<path d="M237.2 363.4l3 1.2-1.5 .2-3-1.3z" fill="#a31b20" stroke="#a31b20"/>
<path d="M241.7 364.5l3 1.2-1.5 .2-3-1.3z" fill="#a81c21" stroke="#a81c21"/>
<path d="M240.2 364.6l3 1.3-1.5 .2-3-1.3z" fill="#8d1519" stroke="#8d1519"/>
<path d="M241.7 361.8l3 1 3 1.1 3.1 1-3.1 .4-3 .4-3 .4-3-1.3-3-1.3-3-1.3 3-.1 3-.2z" class="ms"/>
<circle cx="241.7" cy="361.8" r="0.75"/>
<path d="M259.8 365l4.5 2.6-1.3 0-4.5-2.6z" fill="#e8de23" stroke="#e8de23"/>
<path d="M258.5 365l4.5 2.6-1.3 0-4.5-2.7z" fill="#f7d61a" stroke="#f7d61a"/>
<path d="M257.2 364.9l4.5 2.7-1.3 0-4.5-2.7z" fill="#fabe1b" stroke="#fabe1b"/>
<path d="M255.9 364.9l4.5 2.7-1.2 .1-4.6-2.8z" fill="#f8a51d" stroke="#f8a51d"/>
<path d="M264.3 367.6l4.5 2.6-1.2 .1-4.6-2.7z" fill="#f5de1a" stroke="#f5de1a"/>
<path d="M254.6 364.9l4.6 2.8-1.3 0-4.6-2.8z" fill="#f58b1f" stroke="#f58b1f"/>
<path d="M263 367.6l4.6 2.7-1.3 0-4.6-2.7z" fill="#fac81a" stroke="#fac81a"/>
<path d="M253.3 364.9l4.6 2.8-1.3 0-4.6-2.8z" fill="#f36f22" stroke="#f36f22"/>
<path d="M261.7 367.6l4.6 2.7-1.3 0-4.6-2.7z" fill="#f9b21b" stroke="#f9b21b"/>
<path d="M252 364.9l4.6 2.8-1.3 0-4.5-2.8z" fill="#f05325" stroke="#f05325"/>
<path d="M260.4 367.6l4.6 2.7-1.3 .1-4.5-2.7z" fill="#f79b1d" stroke="#f79b1d"/>
<path d="M259.2 367.7l4.5 2.7-1.3 0-4.5-2.7z" fill="#f58420" stroke="#f58420"/>
<path d="M257.9 367.7l4.5 2.7-1.3 0-4.5-2.7z" fill="#f36b23" stroke="#f36b23"/>
<path d="M256.6 367.7l4.5 2.7-1.3 .1-4.5-2.8z" fill="#f05225" stroke="#f05225"/>
<path d="M259.8 365l3 1.7 3 1.8 3 1.7-3 .1-3 .1-3 .1-3-1.9-3-1.8-3-1.9 3 0 3 0z" class="ms"/>
<circle cx="259.8" cy="365" r="0.75"/>
<path d="M277.9 369.6l4.5 2-2.2 .4-4.6-2.3z" fill="#bdd03f" stroke="#bdd03f"/>
<path d="M275.6 369.7l4.6 2.3-2.3 .3-4.5-2.4z" fill="#d1d636" stroke="#d1d636"/>
<path d="M282.4 371.6l4.5 2.1-2.2 .5-4.5-2.2z" fill="#bbcf40" stroke="#bbcf40"/>
<path d="M273.4 369.9l4.5 2.4-2.3 .4-4.5-2.6z" fill="#e3dc28" stroke="#e3dc28"/>
<path d="M280.2 372l4.5 2.2-2.3 .5-4.5-2.4z" fill="#d3d734" stroke="#d3d734"/>
<path d="M271.1 370.1l4.5 2.6-2.2 .3-4.6-2.8z" fill="#f4e21a" stroke="#f4e21a"/>
<path d="M277.9 372.3l4.5 2.4-2.2 .6-4.6-2.6z" fill="#e9de22" stroke="#e9de22"/>
<path d="M275.6 372.7l4.6 2.6-2.3 .5-4.5-2.8z" fill="#f7d71a" stroke="#f7d71a"/>
<path d="M277.9 369.6l3 1.3 3 1.4 3 1.4-3 .7-3 .7-3 .7-3-1.9-3-1.8-3.1-1.9 3.1-.2 3-.2z" class="ms"/>
<circle cx="277.9" cy="369.6" r="0.75"/>
<path d="M296 369.9l9.1 9.8-9.1 3.3-9.1-9.3z" fill="#bbcf40" stroke="#bbcf40"/>
<path d="M296 369.9l3 3.2 3 3.3 3.1 3.3-3.1 1.1-3 1.1-3 1.1-3-3.1-3-3.1-3.1-3.1 3.1-1.3 3-1.3z" class="ms"/>
<circle cx="296" cy="369.9" r="0.75"/>
<path d="M214.6 359.1l9 5.3-.8 1.8-9-5.5z" fill="#7a1012" stroke="#7a1012"/>
<path d="M213.8 360.7l9 5.5-.7 1.9-9.1-5.7z" fill="#841316" stroke="#841316"/>
<path d="M213 362.4l9.1 5.7-.8 1.8-9-5.8z" fill="#b21e24" stroke="#b21e24"/>
<path d="M212.3 364.1l9 5.8-.7 1.9-9.1-6z" fill="#e41e25" stroke="#e41e25"/>
<path d="M211.5 365.8l9.1 6-.8 1.8-9-6.2z" fill="#ef4025" stroke="#ef4025"/>
<path d="M210.8 367.4l9 6.2-.7 1.9-9.1-6.4z" fill="#f37422" stroke="#f37422"/>
<path d="M210 369.1l9.1 6.4-.8 1.8-9-6.5z" fill="#f8a51d" stroke="#f8a51d"/>
<path d="M209.3 370.8l9 6.5-.7 1.9-9.1-6.7z" fill="#f8d21a" stroke="#f8d21a"/>
<path d="M208.5 372.5l9.1 6.7-.8 1.9-9-6.9z" fill="#d7d830" stroke="#d7d830"/>
<path d="M207.8 374.2l9 6.9-.7 1.8-9.1-7.1z" fill="#a6c947" stroke="#a6c947"/>
<path d="M207 375.8l9.1 7.1-.8 1.9-9-7.3z" fill="#89c174" stroke="#89c174"/>
<path d="M206.3 377.5l9 7.3-.7 1.8-9.1-7.4z" fill="#7bc1a4" stroke="#7bc1a4"/>
<path d="M214.6 359.1l3 1.7 3 1.8 3 1.8-3 7.4-3 7.4-3 7.4-3.1-2.5-3-2.4-3-2.5 3-6.7 3-6.7z" class="ms"/>
<circle cx="214.6" cy="359.1" r="0.75"/>
<circle cx="205.5" cy="379.2" r="0.75"/>
<path d="M232.7 362.2l3 1.3-3 .5-3.1-1.1z" fill="#95171c" stroke="#95171c"/>
<path d="M235.7 363.5l3 1.3-3 .2-3-1z" fill="#801214" stroke="#801214"/>
<path d="M229.6 362.9l3.1 1.1-3.1 .4-3-.8z" fill="#7a1012" stroke="#7a1012"/>
<path d="M238.7 364.8l3 1.3-3 0-3-1.1z" fill="#7a1012" stroke="#7a1012"/>
<path d="M232.7 364l3 1-3.1 .3-3-.9z" fill="#7a1012" stroke="#7a1012"/>
<path d="M226.6 363.6l3 .8-3 .5-3-.5z" fill="#7a1012" stroke="#7a1012"/>
<path d="M235.7 365l3 1.1-3 0-3.1-.8z" fill="#7a1012" stroke="#7a1012"/>
<path d="M229.6 364.4l3 .9-3 .2-3-.6z" fill="#7a1012" stroke="#7a1012"/>
<path d="M232.6 365.3l3.1 .8-3-.1-3.1-.5z" fill="#7a1012" stroke="#7a1012"/>
<path d="M232.7 362.2l3 1.3 3 1.3 3 1.3-3 0-3 0-3-.1-3.1-.5-3-.6-3-.5 3-.8 3-.7z" class="ms"/>
<circle cx="232.7" cy="362.2" r="0.75"/>
<path d="M250.8 364.9l9 5.6-1.5 1.2-9.1-6.6z" fill="#ee3626" stroke="#ee3626"/>
<path d="M249.2 365.1l9.1 6.6-1.5 1.3-9.1-7.7z" fill="#e91f26" stroke="#e91f26"/>
<path d="M247.7 365.3l9.1 7.7-1.5 1.3-9.1-8.8z" fill="#d81e25" stroke="#d81e25"/>
<path d="M246.2 365.5l9.1 8.8-1.5 1.2-9.1-9.8z" fill="#b81f25" stroke="#b81f25"/>
<path d="M244.7 365.7l9.1 9.8-1.5 1.3-9.1-10.9z" fill="#9c191e" stroke="#9c191e"/>
<path d="M243.2 365.9l9.1 10.9-1.5 1.3-9.1-12z" fill="#841316" stroke="#841316"/>
<path d="M250.8 364.9l3 1.9 3 1.8 3 1.9-3 2.5-3 2.5-3 2.6-3.1-4-3-4-3-4 3-.4 3-.4z" class="ms"/>
<circle cx="250.8" cy="364.9" r="0.75"/>
<path d="M268.8 370.2l9.1 5.6-1.5 1.3-9.1-6.8z" fill="#fbc71a" stroke="#fbc71a"/>
<path d="M267.3 370.3l9.1 6.8-1.5 1.2-9.1-8z" fill="#f9ae1c" stroke="#f9ae1c"/>
<path d="M265.8 370.3l9.1 8-1.5 1.3-9.1-9.2z" fill="#f6951e" stroke="#f6951e"/>
<path d="M264.3 370.4l9.1 9.2-1.5 1.3-9.1-10.5z" fill="#f47a21" stroke="#f47a21"/>
<path d="M262.8 370.4l9.1 10.5-1.5 1.2-9.1-11.7z" fill="#f15f24" stroke="#f15f24"/>
<path d="M261.3 370.4l9.1 11.7-1.5 1.3-9.1-12.9z" fill="#ef4325" stroke="#ef4325"/>
<path d="M268.8 370.2l3.1 1.9 3 1.8 3 1.9-3 2.5-3 2.6-3 2.5-3.1-4.3-3-4.3-3-4.3 3-.1 3-.1z" class="ms"/>
<circle cx="268.8" cy="370.2" r="0.75"/>
<path d="M286.9 373.7l4.6 4.6-2.3 .8-4.5-4.9z" fill="#c0d13e" stroke="#c0d13e"/>
<path d="M284.7 374.2l4.5 4.9-2.2 .7-4.6-5.1z" fill="#d7d830" stroke="#d7d830"/>
<path d="M291.5 378.3l4.5 4.7-2.3 1-4.5-4.9z" fill="#ccd439" stroke="#ccd439"/>
<path d="M282.4 374.7l4.6 5.1-2.3 .8-4.5-5.3z" fill="#eee01f" stroke="#eee01f"/>
<path d="M289.2 379.1l4.5 4.9-2.2 .9-4.5-5.1z" fill="#dedb2b" stroke="#dedb2b"/>
<path d="M280.2 375.3l4.5 5.3-2.3 .7-4.5-5.5z" fill="#f8d21a" stroke="#f8d21a"/>
<path d="M287 379.8l4.5 5.1-2.3 1-4.5-5.3z" fill="#f0e11d" stroke="#f0e11d"/>
<path d="M284.7 380.6l4.5 5.3-2.3 .9-4.5-5.5z" fill="#f7d51a" stroke="#f7d51a"/>
<path d="M286.9 373.7l3.1 3.1 3 3.1 3 3.1-3 1.3-3 1.3-3.1 1.2-3-3.7-3-3.6-3-3.7 3-.7 3-.7z" class="ms"/>
<circle cx="286.9" cy="373.7" r="0.75"/>
<path d="M305.1 379.7l4.5 6.6-9.1 3.9-4.5-7.2z" fill="#bdd03f" stroke="#bdd03f"/>
<path d="M309.6 386.3l4.5 6.6-9 4.5-4.6-7.2z" fill="#a3c847" stroke="#a3c847"/>
<path d="M305.1 379.7l3 4.4 3 4.4 3 4.4-3 1.5-3 1.5-3 1.5-3.1-4.8-3-4.8-3-4.8 3-1.1 3-1.1z" class="ms"/>
<circle cx="305.1" cy="379.7" r="0.75"/>
<circle cx="314.1" cy="392.9" r="0.75"/>
<path d="M223.6 364.4l4.5 .8-.7 2-4.6-1z" fill="#7a1012" stroke="#7a1012"/>
<path d="M222.8 366.2l4.6 1-.8 2-4.5-1.1z" fill="#7a1012" stroke="#7a1012"/>
<path d="M222.1 368.1l4.5 1.1-.7 2.1-4.6-1.4z" fill="#9b191e" stroke="#9b191e"/>
<path d="M221.3 369.9l4.6 1.4-.8 2-4.5-1.5z" fill="#d31e25" stroke="#d31e25"/>
<path d="M220.6 371.8l4.5 1.5-.7 2-4.6-1.7z" fill="#ed2e26" stroke="#ed2e26"/>
<path d="M219.8 373.6l4.6 1.7-.8 2.1-4.5-1.9z" fill="#f26623" stroke="#f26623"/>
<path d="M228.1 365.2l4.6 .8-.8 2.2-4.5-1z" fill="#7a1012" stroke="#7a1012"/>
<path d="M219.1 375.5l4.5 1.9-.8 2-4.5-2.1z" fill="#f79c1d" stroke="#f79c1d"/>
<path d="M227.4 367.2l4.5 1-.8 2.2-4.5-1.2z" fill="#7a1012" stroke="#7a1012"/>
<path d="M218.3 377.3l4.5 2.1-.7 2-4.5-2.2z" fill="#f9cd1a" stroke="#f9cd1a"/>
<path d="M226.6 369.2l4.5 1.2-.7 2.2-4.5-1.3z" fill="#7a1012" stroke="#7a1012"/>
<path d="M217.6 379.2l4.5 2.2-.8 2-4.5-2.3z" fill="#dad92f" stroke="#dad92f"/>
<path d="M225.9 371.3l4.5 1.3-.8 2.2-4.5-1.5z" fill="#a81c21" stroke="#a81c21"/>
<path d="M216.8 381.1l4.5 2.3-.7 2.1-4.5-2.6z" fill="#a5c947" stroke="#a5c947"/>
<path d="M225.1 373.3l4.5 1.5-.7 2.2-4.5-1.7z" fill="#e41e25" stroke="#e41e25"/>
<path d="M216.1 382.9l4.5 2.6-.8 2-4.5-2.7z" fill="#86c079" stroke="#86c079"/>
<path d="M224.4 375.3l4.5 1.7-.8 2.2-4.5-1.8z" fill="#f04b25" stroke="#f04b25"/>
<path d="M215.3 384.8l4.5 2.7-.7 2-4.5-2.9z" fill="#79c2ab" stroke="#79c2ab"/>
<path d="M223.6 377.4l4.5 1.8-.7 2.2-4.6-2z" fill="#f58a1f" stroke="#f58a1f"/>
<path d="M222.8 379.4l4.6 2-.8 2.2-4.5-2.2z" fill="#fbc31a" stroke="#fbc31a"/>
<path d="M222.1 381.4l4.5 2.2-.7 2.2-4.6-2.4z" fill="#deda2b" stroke="#deda2b"/>
<path d="M221.3 383.4l4.6 2.4-.8 2.2-4.5-2.5z" fill="#a3c848" stroke="#a3c848"/>
<path d="M220.6 385.5l4.5 2.5-.7 2.2-4.6-2.7z" fill="#84c082" stroke="#84c082"/>
<path d="M219.8 387.5l4.6 2.7-.8 2.2-4.5-2.9z" fill="#73c3bb" stroke="#73c3bb"/>
<path d="M223.6 364.4l3 .5 3 .6 3.1 .5-3.1 8.8-3 8.8-3 8.8-3-1.9-3-1.9-3-2 3-7.4 3-7.4z" class="ms"/>
<circle cx="223.6" cy="364.4" r="0.75"/>
<circle cx="214.6" cy="386.6" r="0.75"/>
<path d="M241.7 366.1l9.1 12-9.1-7.7-9-4.4z" fill="#7a1012" stroke="#7a1012"/>
<path d="M241.7 366.1l3 4 3 4 3.1 4-3.1-2.6-3-2.6-3-2.5-3-1.5-3-1.4-3-1.5 3 .1 3 0z" class="ms"/>
<circle cx="241.7" cy="366.1" r="0.75"/>
<path d="M259.8 370.5l9.1 12.9-1.6-.9-9-10.8z" fill="#ec2326" stroke="#ec2326"/>
<path d="M258.3 371.7l9 10.8-1.5-.9-9-8.6z" fill="#dc1e25" stroke="#dc1e25"/>
<path d="M256.8 373l9 8.6-1.5-.8-9-6.5z" fill="#b41f25" stroke="#b41f25"/>
<path d="M255.3 374.3l9 6.5-1.5-.9-9-4.4z" fill="#93171b" stroke="#93171b"/>
<path d="M253.8 375.5l9 4.4-1.5-.9-9-2.2z" fill="#7a1012" stroke="#7a1012"/>
<path d="M252.3 376.8l9 2.2-1.5-.9-9 0z" fill="#7a1012" stroke="#7a1012"/>
<path d="M259.8 370.5l3 4.3 3 4.3 3.1 4.3-3.1-1.8-3-1.7-3-1.8-3 0-3 0-3 0 3-2.6 3-2.5z" class="ms"/>
<circle cx="259.8" cy="370.5" r="0.75"/>
<path d="M277.9 375.8l9 11-1.5 .1-9-9.8z" fill="#fabd1b" stroke="#fabd1b"/>
<path d="M276.4 377.1l9 9.8-1.5 .2-9-8.8z" fill="#f8a41d" stroke="#f8a41d"/>
<path d="M274.9 378.3l9 8.8-1.5 .1-9-7.6z" fill="#f5891f" stroke="#f5891f"/>
<path d="M273.4 379.6l9 7.6-1.5 .1-9-6.4z" fill="#f36d23" stroke="#f36d23"/>
<path d="M271.9 380.9l9 6.4-1.5 .1-9-5.3z" fill="#f05125" stroke="#f05125"/>
<path d="M270.4 382.1l9 5.3-1.5 .1-9-4.1z" fill="#ee3426" stroke="#ee3426"/>
<path d="M277.9 375.8l3 3.7 3 3.6 3 3.7-3 .3-3 .2-3 .2-3-1.4-3-1.3-3-1.4 3-2.5 3-2.6z" class="ms"/>
<circle cx="277.9" cy="375.8" r="0.75"/>
<path d="M296 383l2.3 3.6-3.1 1.4-2.2-3.7z" fill="#ced538" stroke="#ced538"/>
<path d="M298.3 386.6l2.2 3.6-3 1.5-2.3-3.7z" fill="#bfd03e" stroke="#bfd03e"/>
<path d="M293 384.3l2.2 3.7-3 1.3-2.2-3.7z" fill="#e0db29" stroke="#e0db29"/>
<path d="M300.5 390.2l2.3 3.6-3 1.5-2.3-3.6z" fill="#afcc43" stroke="#afcc43"/>
<path d="M295.2 388l2.3 3.7-3 1.4-2.3-3.8z" fill="#ced537" stroke="#ced537"/>
<path d="M290 385.6l2.2 3.7-3 1.4-2.3-3.9z" fill="#f3e21b" stroke="#f3e21b"/>
<path d="M302.8 393.8l2.3 3.6-3.1 1.6-2.2-3.7z" fill="#a0c749" stroke="#a0c749"/>
<path d="M297.5 391.7l2.3 3.6-3 1.6-2.3-3.8z" fill="#bbcf40" stroke="#bbcf40"/>
<path d="M292.2 389.3l2.3 3.8-3 1.4-2.3-3.8z" fill="#ddda2c" stroke="#ddda2c"/>
<path d="M299.8 395.3l2.2 3.7-3 1.6-2.2-3.7z" fill="#a6c947" stroke="#a6c947"/>
<path d="M294.5 393.1l2.3 3.8-3.1 1.5-2.2-3.9z" fill="#c6d23c" stroke="#c6d23c"/>
<path d="M296.8 396.9l2.2 3.7-3 1.6-2.3-3.8z" fill="#accb45" stroke="#accb45"/>
<path d="M296 383l3 4.8 3 4.8 3.1 4.8-3.1 1.6-3 1.6-3 1.6-3-5.1-3-5.1-3.1-5.2 3.1-1.2 3-1.3z" class="ms"/>
<circle cx="296" cy="383" r="0.75"/>
<circle cx="305.1" cy="397.4" r="0.75"/>
<path d="M232.7 366l3 1.5-.8 2.3-3-1.6z" fill="#7a1012" stroke="#7a1012"/>
<path d="M231.9 368.2l3 1.6-.7 2.3-3.1-1.7z" fill="#7a1012" stroke="#7a1012"/>
<path d="M231.1 370.4l3.1 1.7-.8 2.3-3-1.8z" fill="#7a1012" stroke="#7a1012"/>
<path d="M230.4 372.6l3 1.8-.7 2.3-3.1-1.9z" fill="#93171b" stroke="#93171b"/>
<path d="M235.7 367.5l3 1.4-.8 2.4-3-1.5z" fill="#7a1012" stroke="#7a1012"/>
<path d="M229.6 374.8l3.1 1.9-.8 2.3-3-2z" fill="#d71e25" stroke="#d71e25"/>
<path d="M234.9 369.8l3 1.5-.7 2.4-3-1.6z" fill="#7a1012" stroke="#7a1012"/>
<path d="M228.9 377l3 2-.8 2.3-3-2.1z" fill="#ef3f25" stroke="#ef3f25"/>
<path d="M234.2 372.1l3 1.6-.8 2.5-3-1.8z" fill="#7a1012" stroke="#7a1012"/>
<path d="M228.1 379.2l3 2.1-.7 2.3-3-2.2z" fill="#f58320" stroke="#f58320"/>
<path d="M233.4 374.4l3 1.8-.7 2.4-3-1.9z" fill="#8f161a" stroke="#8f161a"/>
<path d="M227.4 381.4l3 2.2-.8 2.3-3-2.3z" fill="#fbc21a" stroke="#fbc21a"/>
<path d="M238.7 368.9l3 1.5-.8 2.5-3-1.6z" fill="#7a1012" stroke="#7a1012"/>
<path d="M232.7 376.7l3 1.9-.8 2.4-3-2z" fill="#d71e25" stroke="#d71e25"/>
<path d="M226.6 383.6l3 2.3-.7 2.3-3-2.4z" fill="#dad92f" stroke="#dad92f"/>
<path d="M237.9 371.3l3 1.6-.7 2.5-3-1.7z" fill="#7a1012" stroke="#7a1012"/>
<path d="M231.9 379l3 2-.7 2.4-3.1-2.1z" fill="#ef4325" stroke="#ef4325"/>
<path d="M225.9 385.8l3 2.4-.8 2.3-3-2.5z" fill="#9ac64e" stroke="#9ac64e"/>
<path d="M237.2 373.7l3 1.7-.8 2.5-3-1.7z" fill="#7a1012" stroke="#7a1012"/>
<path d="M231.1 381.3l3.1 2.1-.8 2.4-3-2.2z" fill="#f58a1f" stroke="#f58a1f"/>
<path d="M225.1 388l3 2.5-.7 2.3-3-2.6z" fill="#80c190" stroke="#80c190"/>
<path d="M236.4 376.2l3 1.7-.7 2.5-3-1.8z" fill="#8b1519" stroke="#8b1519"/>
<path d="M230.4 383.6l3 2.2-.7 2.4-3.1-2.3z" fill="#f9cb1a" stroke="#f9cb1a"/>
<path d="M224.4 390.2l3 2.6-.8 2.3-3-2.7z" fill="#6dc5ce" stroke="#6dc5ce"/>
<path d="M235.7 378.6l3 1.8-.8 2.6-3-2z" fill="#d61e25" stroke="#d61e25"/>
<path d="M229.6 385.9l3.1 2.3-.8 2.4-3-2.4z" fill="#cdd538" stroke="#cdd538"/>
<path d="M234.9 381l3 2-.7 2.5-3-2.1z" fill="#ef4625" stroke="#ef4625"/>
<path d="M228.9 388.2l3 2.4-.8 2.4-3-2.5z" fill="#92c360" stroke="#92c360"/>
<path d="M234.2 383.4l3 2.1-.8 2.5-3-2.2z" fill="#f6911e" stroke="#f6911e"/>
<path d="M228.1 390.5l3 2.5-.7 2.4-3-2.6z" fill="#7bc1a4" stroke="#7bc1a4"/>
<path d="M233.4 385.8l3 2.2-.7 2.5-3-2.3z" fill="#f7d41a" stroke="#f7d41a"/>
<path d="M227.4 392.8l3 2.6-.8 2.4-3-2.7z" fill="#52c4e1" stroke="#52c4e1"/>
<path d="M232.7 388.2l3 2.3-.8 2.5-3-2.4z" fill="#bfd03e" stroke="#bfd03e"/>
<path d="M231.9 390.6l3 2.4-.7 2.5-3.1-2.5z" fill="#89c173" stroke="#89c173"/>
<path d="M231.1 393l3.1 2.5-.8 2.6-3-2.7z" fill="#74c3b8" stroke="#74c3b8"/>
<path d="M230.4 395.4l3 2.7-.8 2.5-3-2.8z" fill="#3cbfed" stroke="#3cbfed"/>
<path d="M232.7 366l3 1.5 3 1.4 3 1.5-3 10-3 10.1-3.1 10.1-3-2.8-3-2.7-3-2.7 3-8.8 3-8.8z" class="ms"/>
<circle cx="232.7" cy="366" r="0.75"/>
<circle cx="223.6" cy="392.4" r="0.75"/>
<path d="M250.8 378.1l9 0-9 0-9.1-7.7z" fill="#7a1012" stroke="#7a1012"/>
<path d="M250.8 378.1l3 0 3 0 3 0-3 0-3 0-3 0-3.1-2.6-3-2.6-3-2.5 3 2.5 3 2.6z" class="ms"/>
<circle cx="250.8" cy="378.1" r="0.75"/>
<path d="M268.9 383.4l9 4.1-1.8 .8-9.1-5.9z" fill="#e21e25" stroke="#e21e25"/>
<path d="M267 382.4l9.1 5.9-1.8 .8-9.1-7.8z" fill="#a31b20" stroke="#a31b20"/>
<path d="M265.2 381.3l9.1 7.8-1.8 .8-9.1-9.7z" fill="#7a1012" stroke="#7a1012"/>
<path d="M263.4 380.2l9.1 9.7-1.8 .8-9.1-11.5z" fill="#7a1012" stroke="#7a1012"/>
<path d="M261.6 379.2l9.1 11.5-1.8 .9-9.1-13.5z" fill="#7a1012" stroke="#7a1012"/>
<path d="M268.9 383.4l3 1.4 3 1.3 3 1.4-3 1.4-3 1.3-3 1.4-3.1-4.5-3-4.5-3-4.5 3 1.8 3 1.7z" class="ms"/>
<circle cx="268.9" cy="383.4" r="0.75"/>
<path d="M286.9 386.8l1.6 2.6-1.6 .2-1.5-2.7z" fill="#faca1a" stroke="#faca1a"/>
<path d="M288.5 389.4l1.5 2.6-1.5 .2-1.6-2.6z" fill="#f6db1a" stroke="#f6db1a"/>
<path d="M285.4 386.9l1.5 2.7-1.5 .1-1.5-2.6z" fill="#f9b11c" stroke="#f9b11c"/>
<path d="M290 392l1.5 2.5-1.5 .3-1.5-2.6z" fill="#eadf22" stroke="#eadf22"/>
<path d="M286.9 389.6l1.6 2.6-1.6 .2-1.5-2.7z" fill="#fbc51a" stroke="#fbc51a"/>
<path d="M283.9 387.1l1.5 2.6-1.5 .2-1.5-2.7z" fill="#f7981e" stroke="#f7981e"/>
<path d="M288.5 392.2l1.5 2.6-1.5 .3-1.6-2.7z" fill="#f7d71a" stroke="#f7d71a"/>
<path d="M291.5 394.5l1.5 2.6-1.5 .3-1.5-2.6z" fill="#d9d92f" stroke="#d9d92f"/>
<path d="M285.4 389.7l1.5 2.7-1.5 .2-1.5-2.7z" fill="#f9ad1c" stroke="#f9ad1c"/>
<path d="M282.4 387.2l1.5 2.7-1.5 .2-1.5-2.8z" fill="#f47c21" stroke="#f47c21"/>
<path d="M293 397.1l1.5 2.5-1.5 .4-1.5-2.6z" fill="#c7d33b" stroke="#c7d33b"/>
<path d="M286.9 392.4l1.6 2.7-1.5 .2-1.6-2.7z" fill="#fbc31a" stroke="#fbc31a"/>
<path d="M283.9 389.9l1.5 2.7-1.5 .2-1.5-2.7z" fill="#f6951e" stroke="#f6951e"/>
<path d="M290 394.8l1.5 2.6-1.5 .3-1.5-2.6z" fill="#ecdf20" stroke="#ecdf20"/>
<path d="M280.9 387.3l1.5 2.8-1.5 .1-1.5-2.8z" fill="#f26024" stroke="#f26024"/>
<path d="M294.5 399.6l1.5 2.6-1.5 .4-1.5-2.6z" fill="#b3cd42" stroke="#b3cd42"/>
<path d="M285.4 392.6l1.6 2.7-1.6 .3-1.5-2.8z" fill="#f9ad1c" stroke="#f9ad1c"/>
<path d="M291.5 397.4l1.5 2.6-1.5 .4-1.5-2.7z" fill="#d9d92f" stroke="#d9d92f"/>
<path d="M288.5 395.1l1.5 2.6-1.5 .4-1.5-2.8z" fill="#f7d71a" stroke="#f7d71a"/>
<path d="M282.4 390.1l1.5 2.7-1.5 .3-1.5-2.9z" fill="#f47c21" stroke="#f47c21"/>
<path d="M279.4 387.4l1.5 2.8-1.5 .2-1.5-2.9z" fill="#ef4425" stroke="#ef4425"/>
<path d="M293 400l1.5 2.6-1.5 .5-1.5-2.7z" fill="#c5d23c" stroke="#c5d23c"/>
<path d="M283.9 392.8l1.5 2.8-1.5 .3-1.5-2.8z" fill="#f6971e" stroke="#f6971e"/>
<path d="M290 397.7l1.5 2.7-1.5 .4-1.5-2.7z" fill="#ebdf21" stroke="#ebdf21"/>
<path d="M287 395.3l1.5 2.8-1.5 .3-1.6-2.8z" fill="#fbc41a" stroke="#fbc41a"/>
<path d="M280.9 390.2l1.5 2.9-1.5 .2-1.5-2.9z" fill="#f26224" stroke="#f26224"/>
<path d="M291.5 400.4l1.5 2.7-1.5 .4-1.5-2.7z" fill="#d6d832" stroke="#d6d832"/>
<path d="M282.4 393.1l1.5 2.8-1.5 .3-1.5-2.9z" fill="#f48020" stroke="#f48020"/>
<path d="M288.5 398.1l1.5 2.7-1.5 .4-1.5-2.8z" fill="#f6da1a" stroke="#f6da1a"/>
<path d="M285.4 395.6l1.6 2.8-1.6 .3-1.5-2.8z" fill="#f9b01c" stroke="#f9b01c"/>
<path d="M290 400.8l1.5 2.7-1.5 .4-1.5-2.7z" fill="#e6dd25" stroke="#e6dd25"/>
<path d="M287 398.4l1.5 2.8-1.5 .3-1.6-2.8z" fill="#fac91a" stroke="#fac91a"/>
<path d="M283.9 395.9l1.5 2.8-1.5 .3-1.5-2.8z" fill="#f79c1d" stroke="#f79c1d"/>
<path d="M288.5 401.2l1.5 2.7-1.5 .5-1.5-2.9z" fill="#f4e11a" stroke="#f4e11a"/>
<path d="M285.4 398.7l1.6 2.8-1.6 .4-1.5-2.9z" fill="#fab71b" stroke="#fab71b"/>
<path d="M287 401.5l1.5 2.9-1.5 .4-1.6-2.9z" fill="#f8d11a" stroke="#f8d11a"/>
<path d="M286.9 386.8l3.1 5.2 3 5.1 3 5.1-3 .9-3 .8-3 .9-3.1-5.8-3-5.7-3-5.8 3-.2 3-.2z" class="ms"/>
<circle cx="286.9" cy="386.8" r="0.75"/>
<circle cx="296" cy="402.2" r="0.75"/>
<path d="M241.7 370.4l1.8 1.5-.7 2.6-1.9-1.6z" fill="#7a1012" stroke="#7a1012"/>
<path d="M240.9 372.9l1.9 1.6-.8 2.5-1.8-1.6z" fill="#7a1012" stroke="#7a1012"/>
<path d="M240.2 375.4l1.8 1.6-.8 2.6-1.8-1.7z" fill="#7a1012" stroke="#7a1012"/>
<path d="M243.5 371.9l1.8 1.5-.7 2.6-1.8-1.5z" fill="#7a1012" stroke="#7a1012"/>
<path d="M239.4 377.9l1.8 1.7-.7 2.5-1.8-1.7z" fill="#8f161a" stroke="#8f161a"/>
<path d="M242.8 374.5l1.8 1.5-.8 2.6-1.8-1.6z" fill="#7a1012" stroke="#7a1012"/>
<path d="M238.7 380.4l1.8 1.7-.8 2.6-1.8-1.7z" fill="#de1e25" stroke="#de1e25"/>
<path d="M242 377l1.8 1.6-.7 2.6-1.9-1.6z" fill="#7a1012" stroke="#7a1012"/>
<path d="M245.3 373.4l1.8 1.6-.7 2.6-1.8-1.6z" fill="#7a1012" stroke="#7a1012"/>
<path d="M237.9 383l1.8 1.7-.7 2.5-1.8-1.7z" fill="#f05025" stroke="#f05025"/>
<path d="M241.2 379.6l1.9 1.6-.8 2.6-1.8-1.7z" fill="#9a191d" stroke="#9a191d"/>
<path d="M244.6 376l1.8 1.6-.8 2.6-1.8-1.6z" fill="#7a1012" stroke="#7a1012"/>
<path d="M237.2 385.5l1.8 1.7-.8 2.6-1.8-1.8z" fill="#f79c1d" stroke="#f79c1d"/>
<path d="M240.5 382.1l1.8 1.7-.8 2.6-1.8-1.7z" fill="#e51e25" stroke="#e51e25"/>
<path d="M243.8 378.6l1.8 1.6-.7 2.7-1.8-1.7z" fill="#7a1012" stroke="#7a1012"/>
<path d="M236.4 388l1.8 1.8-.7 2.5-1.8-1.8z" fill="#f4e11a" stroke="#f4e11a"/>
<path d="M247.1 375l1.8 1.5-.7 2.7-1.8-1.6z" fill="#7a1012" stroke="#7a1012"/>
<path d="M239.7 384.7l1.8 1.7-.7 2.6-1.8-1.8z" fill="#f15f24" stroke="#f15f24"/>
<path d="M243.1 381.2l1.8 1.7-.8 2.6-1.8-1.7z" fill="#a51b21" stroke="#a51b21"/>
<path d="M235.7 390.5l1.8 1.8-.8 2.6-1.8-1.9z" fill="#aecb44" stroke="#aecb44"/>
<path d="M246.4 377.6l1.8 1.6-.8 2.6-1.8-1.6z" fill="#7a1012" stroke="#7a1012"/>
<path d="M239 387.2l1.8 1.8-.8 2.6-1.8-1.8z" fill="#f9ac1c" stroke="#f9ac1c"/>
<path d="M242.3 383.8l1.8 1.7-.7 2.6-1.9-1.7z" fill="#eb1f26" stroke="#eb1f26"/>
<path d="M234.9 393l1.8 1.9-.7 2.5-1.8-1.9z" fill="#83c086" stroke="#83c086"/>
<path d="M245.6 380.2l1.8 1.6-.7 2.7-1.8-1.6z" fill="#7a1012" stroke="#7a1012"/>
<path d="M238.2 389.8l1.8 1.8-.7 2.6-1.8-1.9z" fill="#e5dd26" stroke="#e5dd26"/>
<path d="M248.9 376.5l1.9 1.6-.8 2.7-1.8-1.6z" fill="#7a1012" stroke="#7a1012"/>
<path d="M241.5 386.4l1.9 1.7-.8 2.6-1.8-1.7z" fill="#f36f22" stroke="#f36f22"/>
<path d="M234.2 395.5l1.8 1.9-.8 2.6-1.8-1.9z" fill="#6dc5cd" stroke="#6dc5cd"/>
<path d="M244.9 382.9l1.8 1.6-.8 2.7-1.8-1.7z" fill="#b11e24" stroke="#b11e24"/>
<path d="M237.5 392.3l1.8 1.9-.8 2.5-1.8-1.8z" fill="#9bc64d" stroke="#9bc64d"/>
<path d="M248.2 379.2l1.8 1.6-.8 2.7-1.8-1.7z" fill="#7a1012" stroke="#7a1012"/>
<path d="M240.8 389l1.8 1.7-.7 2.7-1.9-1.8z" fill="#fabc1b" stroke="#fabc1b"/>
<path d="M233.4 398.1l1.8 1.9-.7 2.5-1.9-1.9z" fill="#3aabe5" stroke="#3aabe5"/>
<path d="M244.1 385.5l1.8 1.7-.7 2.6-1.8-1.7z" fill="#ed2a26" stroke="#ed2a26"/>
<path d="M236.7 394.9l1.8 1.8-.7 2.6-1.8-1.9z" fill="#7ec19a" stroke="#7ec19a"/>
<path d="M247.4 381.8l1.8 1.7-.7 2.7-1.8-1.7z" fill="#7a1012" stroke="#7a1012"/>
<path d="M240 391.6l1.9 1.8-.8 2.6-1.8-1.8z" fill="#d4d733" stroke="#d4d733"/>
<path d="M243.4 388.1l1.8 1.7-.8 2.7-1.8-1.8z" fill="#f47e20" stroke="#f47e20"/>
<path d="M236 397.4l1.8 1.9-.8 2.6-1.8-1.9z" fill="#55c4df" stroke="#55c4df"/>
<path d="M246.7 384.5l1.8 1.7-.8 2.6-1.8-1.6z" fill="#bd1f25" stroke="#bd1f25"/>
<path d="M239.3 394.2l1.8 1.8-.8 2.6-1.8-1.9z" fill="#91c362" stroke="#91c362"/>
<path d="M242.6 390.7l1.8 1.8-.7 2.6-1.8-1.7z" fill="#facb1a" stroke="#facb1a"/>
<path d="M235.2 400l1.8 1.9-.7 2.6-1.8-2z" fill="#3b8cd5" stroke="#3b8cd5"/>
<path d="M245.9 387.2l1.8 1.6-.7 2.7-1.8-1.7z" fill="#ee3926" stroke="#ee3926"/>
<path d="M238.5 396.7l1.8 1.9-.7 2.6-1.8-1.9z" fill="#78c2af" stroke="#78c2af"/>
<path d="M241.9 393.4l1.8 1.7-.8 2.7-1.8-1.8z" fill="#c2d13d" stroke="#c2d13d"/>
<path d="M245.2 389.8l1.8 1.7-.8 2.7-1.8-1.7z" fill="#f68e1f" stroke="#f68e1f"/>
<path d="M237.8 399.3l1.8 1.9-.8 2.7-1.8-2z" fill="#3dc2ee" stroke="#3dc2ee"/>
<path d="M241.1 396l1.8 1.8-.7 2.7-1.9-1.9z" fill="#87c077" stroke="#87c077"/>
<path d="M244.4 392.5l1.8 1.7-.7 2.7-1.8-1.8z" fill="#f6da1a" stroke="#f6da1a"/>
<path d="M237 401.9l1.8 2-.7 2.6-1.8-2z" fill="#3a6fc2" stroke="#3a6fc2"/>
<path d="M240.3 398.6l1.9 1.9-.8 2.6-1.8-1.9z" fill="#70c4c3" stroke="#70c4c3"/>
<path d="M243.7 395.1l1.8 1.8-.8 2.7-1.8-1.8z" fill="#b0cc43" stroke="#b0cc43"/>
<path d="M239.6 401.2l1.8 1.9-.8 2.7-1.8-1.9z" fill="#39b1e8" stroke="#39b1e8"/>
<path d="M242.9 397.8l1.8 1.8-.7 2.7-1.8-1.8z" fill="#82c08a" stroke="#82c08a"/>
<path d="M238.8 403.9l1.8 1.9-.7 2.7-1.8-2z" fill="#3a61b6" stroke="#3a61b6"/>
<path d="M242.2 400.5l1.8 1.8-.8 2.7-1.8-1.9z" fill="#63c5d6" stroke="#63c5d6"/>
<path d="M241.4 403.1l1.8 1.9-.7 2.7-1.9-1.9z" fill="#3b95da" stroke="#3b95da"/>
<path d="M240.6 405.8l1.9 1.9-.8 2.7-1.8-1.9z" fill="#3a54ac" stroke="#3a54ac"/>
<path d="M241.7 370.4l3 2.5 3 2.6 3.1 2.6-3.1 10.7-3 10.8-3 10.8-3-3.3-3-3.2-3.1-3.3 3.1-10.1 3-10.1z" class="ms"/>
<circle cx="241.7" cy="370.4" r="0.75"/>
<circle cx="232.6" cy="400.6" r="0.75"/>
<path d="M259.8 378.1l9.1 13.5-9.1-4.6-9-8.9z" fill="#7a1012" stroke="#7a1012"/>
<path d="M259.8 378.1l3 4.5 3 4.5 3.1 4.5-3.1-1.6-3-1.5-3-1.5-3-3-3-3-3-2.9 3 0 3 0z" class="ms"/>
<circle cx="259.8" cy="378.1" r="0.75"/>
<path d="M277.9 387.5l1.5 2.9-1.8 .7-1.5-2.8z" fill="#e71f26" stroke="#e71f26"/>
<path d="M279.4 390.4l1.5 2.9-1.8 .6-1.5-2.8z" fill="#ee3526" stroke="#ee3526"/>
<path d="M276.1 388.3l1.5 2.8-1.8 .7-1.5-2.7z" fill="#a81c21" stroke="#a81c21"/>
<path d="M280.9 393.3l1.5 2.9-1.8 .5-1.5-2.8z" fill="#f15825" stroke="#f15825"/>
<path d="M277.6 391.1l1.5 2.8-1.8 .6-1.5-2.7z" fill="#d31e25" stroke="#d31e25"/>
<path d="M274.3 389.1l1.5 2.7-1.8 .7-1.5-2.6z" fill="#7a1012" stroke="#7a1012"/>
<path d="M282.4 396.2l1.5 2.8-1.8 .5-1.5-2.8z" fill="#f47a21" stroke="#f47a21"/>
<path d="M279.1 393.9l1.5 2.8-1.8 .5-1.5-2.7z" fill="#ec2026" stroke="#ec2026"/>
<path d="M275.8 391.8l1.5 2.7-1.8 .6-1.5-2.6z" fill="#95171c" stroke="#95171c"/>
<path d="M272.5 389.9l1.5 2.6-1.8 .7-1.5-2.5z" fill="#7a1012" stroke="#7a1012"/>
<path d="M283.9 399l1.5 2.9-1.8 .3-1.5-2.7z" fill="#f79b1d" stroke="#f79b1d"/>
<path d="M280.6 396.7l1.5 2.8-1.8 .4-1.5-2.7z" fill="#f04a25" stroke="#f04a25"/>
<path d="M277.3 394.5l1.5 2.7-1.8 .5-1.5-2.6z" fill="#c41f25" stroke="#c41f25"/>
<path d="M274 392.5l1.5 2.6-1.8 .6-1.5-2.5z" fill="#7a1012" stroke="#7a1012"/>
<path d="M270.7 390.7l1.5 2.5-1.8 .8-1.5-2.4z" fill="#7a1012" stroke="#7a1012"/>
<path d="M285.4 401.9l1.6 2.9-1.9 .2-1.5-2.8z" fill="#faba1b" stroke="#faba1b"/>
<path d="M282.1 399.5l1.5 2.7-1.8 .4-1.5-2.7z" fill="#f37422" stroke="#f37422"/>
<path d="M278.8 397.2l1.5 2.7-1.8 .4-1.5-2.6z" fill="#ea1f26" stroke="#ea1f26"/>
<path d="M275.5 395.1l1.5 2.6-1.8 .5-1.5-2.5z" fill="#8f161a" stroke="#8f161a"/>
<path d="M272.2 393.2l1.5 2.5-1.8 .7-1.5-2.4z" fill="#7a1012" stroke="#7a1012"/>
<path d="M283.6 402.2l1.5 2.8-1.8 .3-1.5-2.7z" fill="#f79b1d" stroke="#f79b1d"/>
<path d="M280.3 399.9l1.5 2.7-1.8 .3-1.5-2.6z" fill="#f04a25" stroke="#f04a25"/>
<path d="M277 397.7l1.5 2.6-1.8 .4-1.5-2.5z" fill="#c41f25" stroke="#c41f25"/>
<path d="M273.7 395.7l1.5 2.5-1.8 .6-1.5-2.4z" fill="#7a1012" stroke="#7a1012"/>
<path d="M281.8 402.6l1.5 2.7-1.8 .2-1.5-2.6z" fill="#f47a21" stroke="#f47a21"/>
<path d="M278.5 400.3l1.5 2.6-1.8 .3-1.5-2.5z" fill="#ec2026" stroke="#ec2026"/>
<path d="M275.2 398.2l1.5 2.5-1.8 .5-1.5-2.4z" fill="#95171c" stroke="#95171c"/>
<path d="M280 402.9l1.5 2.6-1.8 .2-1.5-2.5z" fill="#f15825" stroke="#f15825"/>
<path d="M276.7 400.7l1.5 2.5-1.8 .4-1.5-2.4z" fill="#d31e25" stroke="#d31e25"/>
<path d="M278.2 403.2l1.5 2.5-1.8 .3-1.5-2.4z" fill="#ee3526" stroke="#ee3526"/>
<path d="M277.9 387.5l3 5.8 3 5.7 3.1 5.8-3.1 .4-3 .4-3 .4-3-4.8-3-4.8-3-4.8 3-1.4 3-1.3z" class="ms"/>
<circle cx="277.9" cy="387.5" r="0.75"/>
<circle cx="287" cy="404.8" r="0.75"/>
<path d="M250.8 378.1l9 8.9-.8 2.7-9-8.9z" fill="#7a1012" stroke="#7a1012"/>
<path d="M250 380.8l9 8.9-.7 2.7-9.1-8.9z" fill="#7a1012" stroke="#7a1012"/>
<path d="M249.2 383.5l9.1 8.9-.8 2.7-9-8.9z" fill="#7a1012" stroke="#7a1012"/>
<path d="M248.5 386.2l9 8.9-.7 2.7-9.1-9z" fill="#b01e24" stroke="#b01e24"/>
<path d="M247.7 388.8l9.1 9-.8 2.7-9-9z" fill="#ed2d26" stroke="#ed2d26"/>
<path d="M247 391.5l9 9-.7 2.8-9.1-9.1z" fill="#f58420" stroke="#f58420"/>
<path d="M246.2 394.2l9.1 9.1-.8 2.7-9-9.1z" fill="#f8d21a" stroke="#f8d21a"/>
<path d="M245.5 396.9l9 9.1-.7 2.7-9.1-9.1z" fill="#b7ce41" stroke="#b7ce41"/>
<path d="M244.7 399.6l9.1 9.1-.8 2.7-9-9.1z" fill="#83c084" stroke="#83c084"/>
<path d="M244 402.3l9 9.1-.7 2.7-9.1-9.1z" fill="#68c5d2" stroke="#68c5d2"/>
<path d="M243.2 405l9.1 9.1-.8 2.7-9-9.1z" fill="#3b99dc" stroke="#3b99dc"/>
<path d="M242.5 407.7l9 9.1-.7 2.8-9.1-9.2z" fill="#3a56ad" stroke="#3a56ad"/>
<path d="M250.8 378.1l3 2.9 3 3 3 3-3 10.8-3 10.9-3 10.9-3.1-3.1-3-3-3-3.1 3-10.8 3-10.8z" class="ms"/>
<circle cx="250.8" cy="378.1" r="0.75"/>
<circle cx="241.7" cy="410.4" r="0.75"/>
<path d="M268.9 391.6l1.5 2.4-9.1-3.1-1.5-3.9z" fill="#7a1012" stroke="#7a1012"/>
<path d="M270.4 394l1.5 2.4-9.1-1.5-1.5-4z" fill="#7a1012" stroke="#7a1012"/>
<path d="M271.9 396.4l1.5 2.4-9.1 0-1.5-3.9z" fill="#7a1012" stroke="#7a1012"/>
<path d="M273.4 398.8l1.5 2.4-9.1 1.6-1.5-4z" fill="#7a1012" stroke="#7a1012"/>
<path d="M274.9 401.2l1.5 2.4-9.1 3.2-1.5-4z" fill="#b31f24" stroke="#b31f24"/>
<path d="M276.4 403.6l1.5 2.4-9 4.7-1.6-3.9z" fill="#eb1f26" stroke="#eb1f26"/>
<path d="M268.9 391.6l3 4.8 3 4.8 3 4.8-3 1.5-3 1.6-3 1.6-3.1-7.9-3-7.9-3-7.9 3 1.5 3 1.5z" class="ms"/>
<circle cx="268.9" cy="391.6" r="0.75"/>
<circle cx="277.9" cy="406" r="0.75"/>
<path d="M259.8 387l.8 2.1-.7 2.6-.9-2z" fill="#7a1012" stroke="#7a1012"/>
<path d="M259 389.7l.9 2-.8 2.6-.8-1.9z" fill="#7a1012" stroke="#7a1012"/>
<path d="M260.6 389.1l.8 2.2-.7 2.5-.8-2.1z" fill="#7a1012" stroke="#7a1012"/>
<path d="M258.3 392.4l.8 1.9-.7 2.6-.9-1.8z" fill="#7a1012" stroke="#7a1012"/>
<path d="M259.9 391.7l.8 2.1-.8 2.4-.8-1.9z" fill="#7a1012" stroke="#7a1012"/>
<path d="M261.4 391.3l.9 2.1-.8 2.4-.8-2z" fill="#7a1012" stroke="#7a1012"/>
<path d="M257.5 395.1l.9 1.8-.8 2.6-.8-1.7z" fill="#a91c22" stroke="#a91c22"/>
<path d="M259.1 394.3l.8 1.9-.7 2.5-.8-1.8z" fill="#7a1012" stroke="#7a1012"/>
<path d="M260.7 393.8l.8 2-.7 2.4-.9-2z" fill="#7a1012" stroke="#7a1012"/>
<path d="M262.3 393.4l.8 2.2-.8 2.2-.8-2z" fill="#7a1012" stroke="#7a1012"/>
<path d="M256.8 397.8l.8 1.7-.7 2.6-.9-1.6z" fill="#ec2326" stroke="#ec2326"/>
<path d="M258.4 396.9l.8 1.8-.8 2.5-.8-1.7z" fill="#c01f25" stroke="#c01f25"/>
<path d="M259.9 396.2l.9 2-.8 2.3-.8-1.8z" fill="#8d161a" stroke="#8d161a"/>
<path d="M261.5 395.8l.8 2-.7 2.3-.8-1.9z" fill="#7a1012" stroke="#7a1012"/>
<path d="M263.1 395.6l.8 2.2-.7 2.1-.9-2.1z" fill="#7a1012" stroke="#7a1012"/>
<path d="M256 400.5l.9 1.6-.8 2.6-.8-1.4z" fill="#f47821" stroke="#f47821"/>
<path d="M257.6 399.5l.8 1.7-.7 2.5-.8-1.6z" fill="#ee3626" stroke="#ee3626"/>
<path d="M259.2 398.7l.8 1.8-.7 2.4-.9-1.7z" fill="#d91e25" stroke="#d91e25"/>
<path d="M260.8 398.2l.8 1.9-.8 2.2-.8-1.8z" fill="#a61c21" stroke="#a61c21"/>
<path d="M262.3 397.8l.9 2.1-.8 2.1-.8-1.9z" fill="#841316" stroke="#841316"/>
<path d="M263.9 397.8l.8 2.1-.7 2-.8-2z" fill="#7a1012" stroke="#7a1012"/>
<path d="M255.3 403.3l.8 1.4-.8 2.6-.8-1.3z" fill="#fbc71a" stroke="#fbc71a"/>
<path d="M256.9 402.1l.8 1.6-.8 2.5-.8-1.5z" fill="#f5861f" stroke="#f5861f"/>
<path d="M258.4 401.2l.9 1.7-.8 2.3-.8-1.5z" fill="#f04925" stroke="#f04925"/>
<path d="M260 400.5l.8 1.8-.7 2.3-.8-1.7z" fill="#e71f26" stroke="#e71f26"/>
<path d="M261.6 400.1l.8 1.9-.7 2.1-.9-1.8z" fill="#c21f25" stroke="#c21f25"/>
<path d="M263.2 399.9l.8 2-.8 2-.8-1.9z" fill="#9f1a1f" stroke="#9f1a1f"/>
<path d="M264.7 399.9l.9 2.2-.8 1.9-.8-2.1z" fill="#881418" stroke="#881418"/>
<path d="M254.5 406l.8 1.3-.7 2.6-.8-1.2z" fill="#c6d33c" stroke="#c6d33c"/>
<path d="M256.1 404.7l.8 1.5-.7 2.4-.9-1.3z" fill="#f9cf1a" stroke="#f9cf1a"/>
<path d="M257.7 403.7l.8 1.5-.8 2.4-.8-1.4z" fill="#f6941e" stroke="#f6941e"/>
<path d="M259.3 402.9l.8 1.7-.8 2.2-.8-1.6z" fill="#f15b25" stroke="#f15b25"/>
<path d="M260.8 402.3l.9 1.8-.8 2.2-.8-1.7z" fill="#ed2a26" stroke="#ed2a26"/>
<path d="M262.4 402l.8 1.9-.7 2-.8-1.8z" fill="#e01e25" stroke="#e01e25"/>
<path d="M264 401.9l.8 2.1-.7 1.9-.9-2z" fill="#be1f25" stroke="#be1f25"/>
<path d="M265.6 402.1l.8 2.1-.8 1.8-.8-2z" fill="#a91c21" stroke="#a91c21"/>
<path d="M253.8 408.7l.8 1.2-.8 2.6-.8-1.1z" fill="#88c175" stroke="#88c175"/>
<path d="M255.3 407.3l.9 1.3-.8 2.5-.8-1.2z" fill="#c1d13d" stroke="#c1d13d"/>
<path d="M256.9 406.2l.8 1.4-.7 2.4-.8-1.4z" fill="#f7d71a" stroke="#f7d71a"/>
<path d="M258.5 405.2l.8 1.6-.7 2.3-.9-1.5z" fill="#f7a01d" stroke="#f7a01d"/>
<path d="M260.1 404.6l.8 1.7-.8 2.1-.8-1.6z" fill="#f36e23" stroke="#f36e23"/>
<path d="M261.7 404.1l.8 1.8-.8 2-.8-1.6z" fill="#ef4125" stroke="#ef4125"/>
<path d="M263.2 403.9l.9 2-.8 1.8-.8-1.8z" fill="#eb1f26" stroke="#eb1f26"/>
<path d="M264.8 404l.8 2-.7 1.8-.8-1.9z" fill="#e01e25" stroke="#e01e25"/>
<path d="M266.4 404.2l.8 2.2-.7 1.7-.9-2.1z" fill="#ce1e25" stroke="#ce1e25"/>
<path d="M253 411.4l.8 1.1-.7 2.6-.8-1z" fill="#71c4c2" stroke="#71c4c2"/>
<path d="M254.6 409.9l.8 1.2-.7 2.5-.9-1.1z" fill="#88c175" stroke="#88c175"/>
<path d="M256.2 408.6l.8 1.4-.8 2.3-.8-1.2z" fill="#bcd03f" stroke="#bcd03f"/>
<path d="M257.7 407.6l.9 1.5-.8 2.2-.8-1.3z" fill="#f5df1a" stroke="#f5df1a"/>
<path d="M259.3 406.8l.8 1.6-.7 2.1-.8-1.4z" fill="#f9ad1c" stroke="#f9ad1c"/>
<path d="M260.9 406.3l.8 1.6-.7 2.1-.9-1.6z" fill="#f48020" stroke="#f48020"/>
<path d="M262.5 405.9l.8 1.8-.8 1.9-.8-1.7z" fill="#f15925" stroke="#f15925"/>
<path d="M264.1 405.9l.8 1.9-.8 1.8-.8-1.9z" fill="#ee3926" stroke="#ee3926"/>
<path d="M265.6 406l.9 2.1-.8 1.6-.8-1.9z" fill="#ec2326" stroke="#ec2326"/>
<path d="M267.2 406.4l.8 2.2-.7 1.5-.8-2z" fill="#e81f26" stroke="#e81f26"/>
<path d="M252.3 414.1l.8 1-.8 2.6-.8-.9z" fill="#39b1e8" stroke="#39b1e8"/>
<path d="M253.8 412.5l.9 1.1-.8 2.5-.8-1z" fill="#72c3bf" stroke="#72c3bf"/>
<path d="M255.4 411.1l.8 1.2-.7 2.4-.8-1.1z" fill="#88c176" stroke="#88c176"/>
<path d="M257 410l.8 1.3-.7 2.2-.9-1.2z" fill="#b7ce41" stroke="#b7ce41"/>
<path d="M258.6 409.1l.8 1.4-.8 2.1-.8-1.3z" fill="#efe01e" stroke="#efe01e"/>
<path d="M260.1 408.4l.9 1.6-.8 2-.8-1.5z" fill="#fab91b" stroke="#fab91b"/>
<path d="M261.7 407.9l.8 1.7-.7 1.9-.8-1.5z" fill="#f6921e" stroke="#f6921e"/>
<path d="M263.3 407.7l.8 1.9-.7 1.7-.9-1.7z" fill="#f36f22" stroke="#f36f22"/>
<path d="M264.9 407.8l.8 1.9-.8 1.7-.8-1.8z" fill="#f15525" stroke="#f15525"/>
<path d="M266.5 408.1l.8 2-.8 1.5-.8-1.9z" fill="#ef4425" stroke="#ef4425"/>
<path d="M268 408.6l.9 2.1-.8 1.4-.8-2z" fill="#ee3b26" stroke="#ee3b26"/>
<path d="M251.5 416.8l.8 .9-.7 2.6-.8-.7z" fill="#3a61b6" stroke="#3a61b6"/>
<path d="M253.1 415.1l.8 1-.8 2.5-.8-.9z" fill="#3ab8eb" stroke="#3ab8eb"/>
<path d="M254.7 413.6l.8 1.1-.8 2.4-.8-1z" fill="#73c3bb" stroke="#73c3bb"/>
<path d="M256.2 412.3l.9 1.2-.8 2.3-.8-1.1z" fill="#88c077" stroke="#88c077"/>
<path d="M257.8 411.3l.8 1.3-.7 2.2-.8-1.3z" fill="#b2cd42" stroke="#b2cd42"/>
<path d="M259.4 410.5l.8 1.5-.7 2-.9-1.4z" fill="#e7de24" stroke="#e7de24"/>
<path d="M261 410l.8 1.5-.8 1.9-.8-1.4z" fill="#fbc61a" stroke="#fbc61a"/>
<path d="M262.5 409.6l.9 1.7-.8 1.8-.8-1.6z" fill="#f8a21d" stroke="#f8a21d"/>
<path d="M264.1 409.6l.8 1.8-.7 1.6-.8-1.7z" fill="#f58620" stroke="#f58620"/>
<path d="M265.7 409.7l.8 1.9-.7 1.6-.9-1.8z" fill="#f37022" stroke="#f37022"/>
<path d="M267.3 410.1l.8 2-.8 1.5-.8-2z" fill="#f26424" stroke="#f26424"/>
<path d="M252.3 417.7l.8 .9-.7 2.4-.8-.7z" fill="#3a67bb" stroke="#3a67bb"/>
<path d="M253.9 416.1l.8 1-.7 2.3-.9-.8z" fill="#3cbded" stroke="#3cbded"/>
<path d="M255.5 414.7l.8 1.1-.8 2.2-.8-.9z" fill="#75c3b8" stroke="#75c3b8"/>
<path d="M257.1 413.5l.8 1.3-.8 2.1-.8-1.1z" fill="#87c077" stroke="#87c077"/>
<path d="M258.6 412.6l.9 1.4-.8 2-.8-1.2z" fill="#adcb44" stroke="#adcb44"/>
<path d="M260.2 412l.8 1.4-.7 1.9-.8-1.3z" fill="#dfdb2b" stroke="#dfdb2b"/>
<path d="M261.8 411.5l.8 1.6-.7 1.8-.9-1.5z" fill="#f8d21a" stroke="#f8d21a"/>
<path d="M263.4 411.3l.8 1.7-.8 1.7-.8-1.6z" fill="#f9b31b" stroke="#f9b31b"/>
<path d="M264.9 411.4l.9 1.8-.8 1.5-.8-1.7z" fill="#f79c1d" stroke="#f79c1d"/>
<path d="M266.5 411.6l.8 2-.7 1.4-.8-1.8z" fill="#f58c1f" stroke="#f58c1f"/>
<path d="M253.1 418.6l.9 .8-.8 2.4-.8-.8z" fill="#3a6ec1" stroke="#3a6ec1"/>
<path d="M254.7 417.1l.8 .9-.7 2.3-.8-.9z" fill="#3dc2ee" stroke="#3dc2ee"/>
<path d="M256.3 415.8l.8 1.1-.7 2.1-.9-1z" fill="#76c2b4" stroke="#76c2b4"/>
<path d="M257.9 414.8l.8 1.2-.8 2-.8-1.1z" fill="#87c078" stroke="#87c078"/>
<path d="M259.5 414l.8 1.3-.8 1.9-.8-1.2z" fill="#a8ca46" stroke="#a8ca46"/>
<path d="M261 413.4l.9 1.5-.8 1.7-.8-1.3z" fill="#d6d831" stroke="#d6d831"/>
<path d="M262.6 413.1l.8 1.6-.7 1.6-.8-1.4z" fill="#f5de1a" stroke="#f5de1a"/>
<path d="M264.2 413l.8 1.7-.7 1.5-.9-1.5z" fill="#fbc41a" stroke="#fbc41a"/>
<path d="M265.8 413.2l.8 1.8-.8 1.4-.8-1.7z" fill="#f9b01c" stroke="#f9b01c"/>
<path d="M254 419.4l.8 .9-.8 2.2-.8-.7z" fill="#3a7cca" stroke="#3a7cca"/>
<path d="M255.5 418l.9 1-.8 2.1-.8-.8z" fill="#44c4eb" stroke="#44c4eb"/>
<path d="M257.1 416.9l.8 1.1-.7 2-.8-1z" fill="#77c2b1" stroke="#77c2b1"/>
<path d="M258.7 416l.8 1.2-.7 1.9-.9-1.1z" fill="#87c078" stroke="#87c078"/>
<path d="M260.3 415.3l.8 1.3-.8 1.8-.8-1.2z" fill="#a3c848" stroke="#a3c848"/>
<path d="M261.9 414.9l.8 1.4-.8 1.7-.8-1.4z" fill="#ced538" stroke="#ced538"/>
<path d="M263.4 414.7l.9 1.5-.8 1.6-.8-1.5z" fill="#eddf20" stroke="#eddf20"/>
<path d="M265 414.7l.8 1.7-.7 1.4-.8-1.6z" fill="#f8d31a" stroke="#f8d31a"/>
<path d="M254.8 420.3l.8 .8-.7 2.2-.9-.8z" fill="#3b8ad4" stroke="#3b8ad4"/>
<path d="M256.4 419l.8 1-.8 2-.8-.9z" fill="#4dc4e5" stroke="#4dc4e5"/>
<path d="M257.9 418l.9 1.1-.8 1.9-.8-1z" fill="#78c2ad" stroke="#78c2ad"/>
<path d="M259.5 417.2l.8 1.2-.7 1.8-.8-1.1z" fill="#86c079" stroke="#86c079"/>
<path d="M261.1 416.6l.8 1.4-.7 1.6-.9-1.2z" fill="#9ec749" stroke="#9ec749"/>
<path d="M262.7 416.3l.8 1.5-.8 1.5-.8-1.3z" fill="#c5d23c" stroke="#c5d23c"/>
<path d="M264.3 416.2l.8 1.6-.8 1.4-.8-1.4z" fill="#e0db29" stroke="#e0db29"/>
<path d="M255.6 421.1l.8 .9-.7 2-.8-.7z" fill="#3b99dc" stroke="#3b99dc"/>
<path d="M257.2 420l.8 1-.7 1.9-.9-.9z" fill="#57c5de" stroke="#57c5de"/>
<path d="M258.8 419.1l.8 1.1-.8 1.7-.8-.9z" fill="#79c1aa" stroke="#79c1aa"/>
<path d="M260.3 418.4l.9 1.2-.8 1.7-.8-1.1z" fill="#86c07a" stroke="#86c07a"/>
<path d="M261.9 418l.8 1.3-.7 1.5-.8-1.2z" fill="#9bc64d" stroke="#9bc64d"/>
<path d="M263.5 417.8l.8 1.4-.7 1.4-.9-1.3z" fill="#bccf3f" stroke="#bccf3f"/>
<path d="M256.4 422l.9 .9-.8 1.8-.8-.7z" fill="#3aa8e4" stroke="#3aa8e4"/>
<path d="M258 421l.8 .9-.7 1.8-.8-.8z" fill="#60c5d8" stroke="#60c5d8"/>
<path d="M259.6 420.2l.8 1.1-.7 1.6-.9-1z" fill="#7bc1a6" stroke="#7bc1a6"/>
<path d="M261.2 419.6l.8 1.2-.8 1.6-.8-1.1z" fill="#86c07a" stroke="#86c07a"/>
<path d="M262.7 419.3l.9 1.3-.8 1.5-.8-1.3z" fill="#98c552" stroke="#98c552"/>
<path d="M257.3 422.9l.8 .8-.8 1.8-.8-.8z" fill="#39b6ea" stroke="#39b6ea"/>
<path d="M258.8 421.9l.9 1-.8 1.7-.8-.9z" fill="#69c5d2" stroke="#69c5d2"/>
<path d="M260.4 421.3l.8 1.1-.7 1.5-.8-1z" fill="#7cc1a3" stroke="#7cc1a3"/>
<path d="M262 420.8l.8 1.3-.7 1.4-.9-1.1z" fill="#86c07b" stroke="#86c07b"/>
<path d="M258.1 423.7l.8 .9-.7 1.6-.9-.7z" fill="#3cbeed" stroke="#3cbeed"/>
<path d="M259.7 422.9l.8 1-.8 1.5-.8-.8z" fill="#6ec5cb" stroke="#6ec5cb"/>
<path d="M261.2 422.4l.9 1.1-.8 1.4-.8-1z" fill="#7dc19f" stroke="#7dc19f"/>
<path d="M258.9 424.6l.8 .8-.7 1.6-.8-.8z" fill="#41c4ed" stroke="#41c4ed"/>
<path d="M260.5 423.9l.8 1-.7 1.4-.9-.9z" fill="#70c4c3" stroke="#70c4c3"/>
<path d="M259.7 425.4l.9 .9-.8 1.4-.8-.7z" fill="#4fc4e3" stroke="#4fc4e3"/>
<path d="M259.8 387l3 7.9 3 7.9 3.1 7.9-3.1 5.7-3 5.7-3 5.6-3-2.7-3-2.7-3-2.7 3-10.9 3-10.9z" class="ms"/>
<circle cx="259.8" cy="387" r="0.75"/>
<circle cx="268.9" cy="410.7" r="0.75"/>
<circle cx="250.8" cy="419.6" r="0.75"/>
<circle cx="259.8" cy="427.7" r="0.75"/>
</g>
<line x1="205.5" y1="402.7" x2="207" y2="401.9" stroke="#888" stroke-width="0.6"/>
<text x="202.9" y="404" font-size="7.8" text-anchor="end" textLength="3.6" lengthAdjust="spacingAndGlyphs">0</text>
<line x1="205.5" y1="389.8" x2="207" y2="389" stroke="#888" stroke-width="0.6"/>
<text x="202.9" y="391.1" font-size="7.8" text-anchor="end" textLength="7.2" lengthAdjust="spacingAndGlyphs">50</text>
<line x1="205.5" y1="376.9" x2="207" y2="376.1" stroke="#888" stroke-width="0.6"/>
<text x="202.9" y="378.2" font-size="7.8" text-anchor="end" textLength="10.8" lengthAdjust="spacingAndGlyphs">100</text>
<line x1="205.5" y1="364" x2="207" y2="363.2" stroke="#888" stroke-width="0.6"/>
<text x="202.9" y="365.3" font-size="7.8" text-anchor="end" textLength="10.8" lengthAdjust="spacingAndGlyphs">150</text>
<text x="196" y="409.5" font-size="7.2" text-anchor="end" textLength="3.4" lengthAdjust="spacingAndGlyphs">0</text>
<text x="208.5" y="414" font-size="7.2" text-anchor="end" textLength="11.8" lengthAdjust="spacingAndGlyphs">0.04</text>
<text x="219.2" y="419.9" font-size="7.2" text-anchor="end" textLength="15.2" lengthAdjust="spacingAndGlyphs">0.123</text>
<text x="227.2" y="426.1" font-size="7.2" text-anchor="end" textLength="11.8" lengthAdjust="spacingAndGlyphs">0.37</text>
<text x="238.3" y="432" font-size="7.2" text-anchor="end" textLength="15.2" lengthAdjust="spacingAndGlyphs">1.111</text>
<text x="247.4" y="437.7" font-size="7.2" text-anchor="end" textLength="15.2" lengthAdjust="spacingAndGlyphs">3.333</text>
<text x="256.1" y="439.5" font-size="7.2" text-anchor="end" textLength="6.8" lengthAdjust="spacingAndGlyphs">10</text>
<text x="262.7" y="439.9" font-size="7.2" textLength="10.2" lengthAdjust="spacingAndGlyphs">100</text>
<text x="273.1" y="434.9" font-size="7.2" textLength="6.8" lengthAdjust="spacingAndGlyphs">33</text>
<text x="281" y="429.8" font-size="7.2" textLength="6.8" lengthAdjust="spacingAndGlyphs">11</text>
<text x="290.4" y="425.5" font-size="7.2" textLength="8.4" lengthAdjust="spacingAndGlyphs">3.7</text>
<text x="299.1" y="420.4" font-size="7.2" textLength="8.4" lengthAdjust="spacingAndGlyphs">1.2</text>
<text x="307" y="415.8" font-size="7.2" textLength="8.4" lengthAdjust="spacingAndGlyphs">0.4</text>
<text x="315.7" y="410.3" font-size="7.2" textLength="3.4" lengthAdjust="spacingAndGlyphs">0</text>
<text x="189.9" y="444.4" font-size="8" textLength="43.2" lengthAdjust="spacingAndGlyphs">SHP099 [µM]</text>
<text x="282.4" y="444.8" font-size="8" textLength="48.5" lengthAdjust="spacingAndGlyphs">Crizotinib [nM]</text>
<text x="186.6" y="381.7" font-size="10.2" text-anchor="middle" textLength="31.5" lengthAdjust="spacingAndGlyphs" transform="rotate(-90 186.6 381.7)">% Control</text>
<rect x="327.6" y="331" width="8.3" height="101.6" fill="url(#cm)"/>
<text x="343.1" y="357" font-size="7.6" text-anchor="middle" textLength="27.4" lengthAdjust="spacingAndGlyphs" transform="rotate(-90 343.1 357)">Synergy</text>
<text x="343.1" y="402.6" font-size="7.6" text-anchor="middle" textLength="41" lengthAdjust="spacingAndGlyphs" transform="rotate(-90 343.1 402.6)">Antagonism</text>
<line x1="429.8" y1="373.6" x2="375.6" y2="403.2" stroke="#dcdcdc" stroke-width="0.5"/>
<line x1="429.8" y1="373.6" x2="484.5" y2="403.4" stroke="#dcdcdc" stroke-width="0.5"/>
<line x1="438.9" y1="378.6" x2="384.7" y2="408.2" stroke="#dcdcdc" stroke-width="0.5"/>
<line x1="420.8" y1="378.5" x2="475.5" y2="408.4" stroke="#dcdcdc" stroke-width="0.5"/>
<line x1="448" y1="383.5" x2="393.9" y2="413.1" stroke="#dcdcdc" stroke-width="0.5"/>
<line x1="411.7" y1="383.5" x2="466.5" y2="413.3" stroke="#dcdcdc" stroke-width="0.5"/>
<line x1="457.2" y1="388.5" x2="403" y2="418.1" stroke="#dcdcdc" stroke-width="0.5"/>
<line x1="402.7" y1="388.4" x2="457.4" y2="418.2" stroke="#dcdcdc" stroke-width="0.5"/>
<line x1="466.3" y1="393.5" x2="412.1" y2="423.1" stroke="#dcdcdc" stroke-width="0.5"/>
<line x1="393.7" y1="393.3" x2="448.4" y2="423.1" stroke="#dcdcdc" stroke-width="0.5"/>
<line x1="475.4" y1="398.5" x2="421.2" y2="428" stroke="#dcdcdc" stroke-width="0.5"/>
<line x1="384.7" y1="398.2" x2="439.4" y2="428.1" stroke="#dcdcdc" stroke-width="0.5"/>
<line x1="484.5" y1="403.4" x2="430.3" y2="433" stroke="#dcdcdc" stroke-width="0.5"/>
<line x1="375.6" y1="403.2" x2="430.3" y2="433" stroke="#dcdcdc" stroke-width="0.5"/>
<line x1="429.8" y1="373.6" x2="429.8" y2="332.2" stroke="#dcdcdc" stroke-width="0.5"/>
<line x1="429.8" y1="373.6" x2="429.8" y2="332.2" stroke="#dcdcdc" stroke-width="0.5"/>
<line x1="420.8" y1="378.5" x2="420.8" y2="337.1" stroke="#dcdcdc" stroke-width="0.5"/>
<line x1="438.9" y1="378.6" x2="438.9" y2="337.2" stroke="#dcdcdc" stroke-width="0.5"/>
<line x1="411.7" y1="383.5" x2="411.7" y2="342.1" stroke="#dcdcdc" stroke-width="0.5"/>
<line x1="448" y1="383.5" x2="448" y2="342.1" stroke="#dcdcdc" stroke-width="0.5"/>
<line x1="402.7" y1="388.4" x2="402.7" y2="347" stroke="#dcdcdc" stroke-width="0.5"/>
<line x1="457.2" y1="388.5" x2="457.2" y2="347.1" stroke="#dcdcdc" stroke-width="0.5"/>
<line x1="393.7" y1="393.3" x2="393.7" y2="351.9" stroke="#dcdcdc" stroke-width="0.5"/>
<line x1="466.3" y1="393.5" x2="466.3" y2="352.1" stroke="#dcdcdc" stroke-width="0.5"/>
<line x1="384.7" y1="398.2" x2="384.7" y2="356.9" stroke="#dcdcdc" stroke-width="0.5"/>
<line x1="475.4" y1="398.5" x2="475.4" y2="357.1" stroke="#dcdcdc" stroke-width="0.5"/>
<line x1="375.6" y1="403.2" x2="375.6" y2="361.8" stroke="#dcdcdc" stroke-width="0.5"/>
<line x1="484.5" y1="403.4" x2="484.5" y2="362" stroke="#dcdcdc" stroke-width="0.5"/>
<polyline points="375.6,403.2 429.8,373.6 484.5,403.4" fill="none" stroke="#dcdcdc" stroke-width="0.5"/>
<polyline points="375.6,385.9 429.8,356.4 484.5,386.2" fill="none" stroke="#dcdcdc" stroke-width="0.5"/>
<polyline points="375.6,368.7 429.8,339.1 484.5,368.9" fill="none" stroke="#dcdcdc" stroke-width="0.5"/>
<polyline points="375.6,361.8 429.8,332.2 484.5,362" fill="none" stroke="#dcdcdc" stroke-width="0.5"/>
<line x1="375.6" y1="403.2" x2="375.6" y2="361.8" stroke="#b0b0b0" stroke-width="0.7"/>
<polyline points="375.6,403.2 430.3,433 484.5,403.4" fill="none" stroke="#8a8a8a" stroke-width="0.7"/>
<g stroke-linejoin="round" stroke-width="0.45">
<path d="M429.8 339.1l9.1 5.8-9 4.9-9.1-3.1z" fill="#86c079" stroke="#86c079"/>
<path d="M429.8 339.1l3 1.9 3.1 2 3 1.9-3 1.6-3 1.7-3 1.6-3-1-3.1-1-3-1.1 3-2.5 3-2.5z" class="ms"/>
<circle cx="429.8" cy="339.1" r="0.75"/>
<path d="M420.8 346.7l9.1 3.1-9 4.9-9.2-2.6z" fill="#85c07e" stroke="#85c07e"/>
<path d="M420.8 346.7l3 1.1 3.1 1 3 1-3 1.6-3 1.7-3 1.6-3.1-.9-3-.9-3.1-.8 3.1-1.8 3-1.8z" class="ms"/>
<circle cx="420.8" cy="346.7" r="0.75"/>
<path d="M438.9 344.9l9.1 2.6-9 7.6-9.1-5.3z" fill="#83c087" stroke="#83c087"/>
<path d="M438.9 344.9l3.1 .9 3 .8 3 .9-3 2.6-3 2.5-3 2.5-3-1.7-3.1-1.8-3-1.8 3-1.6 3-1.7z" class="ms"/>
<circle cx="438.9" cy="344.9" r="0.75"/>
<path d="M411.7 352.1l9.2 2.6-4.6 1.9-9.1-3.2z" fill="#86c079" stroke="#86c079"/>
<path d="M407.2 353.4l9.1 3.2-4.5 1.9-9.1-3.8z" fill="#90c364" stroke="#90c364"/>
<path d="M411.7 352.1l3.1 .8 3 .9 3.1 .9-3 1.3-3.1 1.2-3 1.3-3-1.3-3-1.2-3.1-1.3 3-.9 3-.9z" class="ms"/>
<circle cx="411.7" cy="352.1" r="0.75"/>
<path d="M429.9 349.8l3 1.8-3 1.5-3-1.7z" fill="#85c07e" stroke="#85c07e"/>
<path d="M426.9 351.4l3 1.7-3 1.4-3-1.4z" fill="#85c07d" stroke="#85c07d"/>
<path d="M432.9 351.6l3.1 1.8-3 1.3-3.1-1.6z" fill="#84c083" stroke="#84c083"/>
<path d="M436 353.4l3 1.7-3 1.2-3-1.6z" fill="#82c089" stroke="#82c089"/>
<path d="M429.9 353.1l3.1 1.6-3.1 1.3-3-1.5z" fill="#86c07c" stroke="#86c07c"/>
<path d="M423.9 353.1l3 1.4-3 1.5-3-1.3z" fill="#85c07d" stroke="#85c07d"/>
<path d="M433 354.7l3 1.6-3 1.1-3.1-1.4z" fill="#86c07a" stroke="#86c07a"/>
<path d="M426.9 354.5l3 1.5-3 1.3-3-1.3z" fill="#89c173" stroke="#89c173"/>
<path d="M429.9 356l3.1 1.4-3 1.1-3.1-1.2z" fill="#8ec269" stroke="#8ec269"/>
<path d="M429.9 349.8l3 1.8 3.1 1.8 3 1.7-3 1.2-3 1.1-3 1.1-3.1-1.2-3-1.3-3-1.3 3-1.6 3-1.7z" class="ms"/>
<circle cx="429.9" cy="349.8" r="0.75"/>
<path d="M448 347.5l4.6 2.5-9 6.7-4.6-1.6z" fill="#82c08a" stroke="#82c08a"/>
<path d="M452.6 350l4.6 2.5-9.1 5.7-4.5-1.5z" fill="#8ac171" stroke="#8ac171"/>
<path d="M448 347.5l3.1 1.7 3 1.7 3.1 1.6-3 1.9-3.1 1.9-3 1.9-3-1-3-1-3.1-1.1 3-2.5 3-2.5z" class="ms"/>
<circle cx="448" cy="347.5" r="0.75"/>
<path d="M402.7 354.7l9.1 3.8-2.2 .5-9.1-3.7z" fill="#9bc64d" stroke="#9bc64d"/>
<path d="M400.5 355.3l9.1 3.7-2.3 .4-9.1-3.4z" fill="#b3cd42" stroke="#b3cd42"/>
<path d="M398.2 356l9.1 3.4-2.2 .5-9.2-3.2z" fill="#ccd439" stroke="#ccd439"/>
<path d="M395.9 356.7l9.2 3.2-2.3 .5-9.1-3.1z" fill="#e3dc28" stroke="#e3dc28"/>
<path d="M402.7 354.7l3.1 1.3 3 1.2 3 1.3-3 .6-3 .7-3 .6-3-1-3.1-1.1-3-1 3-.9 3-.8z" class="ms"/>
<circle cx="402.7" cy="354.7" r="0.75"/>
<path d="M420.9 354.7l4.5 1.9-4.5 1.7-4.6-1.7z" fill="#8bc16f" stroke="#8bc16f"/>
<path d="M425.4 356.6l4.6 1.9-4.5 1.6-4.6-1.8z" fill="#94c45c" stroke="#94c45c"/>
<path d="M416.3 356.6l4.6 1.7-4.5 1.7-4.6-1.5z" fill="#94c45c" stroke="#94c45c"/>
<path d="M420.9 358.3l4.6 1.8-4.5 1.5-4.6-1.6z" fill="#9cc64b" stroke="#9cc64b"/>
<path d="M420.9 354.7l3 1.3 3 1.3 3.1 1.2-3 1.1-3 1-3 1-3.1-1.1-3-1-3.1-1 3-1.3 3.1-1.2z" class="ms"/>
<circle cx="420.9" cy="354.7" r="0.75"/>
<path d="M439 355.1l4.6 1.6-4.5 1.8-4.6-1.7z" fill="#85c07e" stroke="#85c07e"/>
<path d="M443.6 356.7l4.5 1.5-4.5 1.9-4.5-1.6z" fill="#8ec26a" stroke="#8ec26a"/>
<path d="M434.5 356.8l4.6 1.7-4.6 1.8-4.5-1.8z" fill="#90c364" stroke="#90c364"/>
<path d="M439.1 358.5l4.5 1.6-4.5 1.9-4.6-1.7z" fill="#95c45a" stroke="#95c45a"/>
<path d="M439 355.1l3.1 1.1 3 1 3 1-3 1.3-3 1.2-3 1.3-3-1.2-3.1-1.1-3-1.2 3-1.1 3-1.1z" class="ms"/>
<circle cx="439" cy="355.1" r="0.75"/>
<path d="M457.2 352.5l4.5 3.8-9 5.5-4.6-3.6z" fill="#8bc16f" stroke="#8bc16f"/>
<path d="M461.7 356.3l4.6 3.9-9 5.3-4.6-3.7z" fill="#84c083" stroke="#84c083"/>
<path d="M457.2 352.5l3 2.6 3 2.5 3.1 2.6-3 1.7-3 1.8-3 1.8-3.1-2.5-3-2.4-3.1-2.4 3-1.9 3.1-1.9z" class="ms"/>
<circle cx="457.2" cy="352.5" r="0.75"/>
<path d="M393.7 357.3l9.1 3.1-9 3-9.1-4.6z" fill="#f4e21a" stroke="#f4e21a"/>
<path d="M393.7 357.3l3 1 3.1 1.1 3 1-3 1-3 1-3 1-3.1-1.5-3-1.6-3-1.5 3-.5 3-.5z" class="ms"/>
<circle cx="393.7" cy="357.3" r="0.75"/>
<path d="M411.8 358.5l4.6 1.5-2.3 .8-4.5-1.8z" fill="#9fc749" stroke="#9fc749"/>
<path d="M409.6 359l4.5 1.8-2.2 .7-4.6-2.1z" fill="#b6ce41" stroke="#b6ce41"/>
<path d="M416.4 360l4.6 1.6-2.3 1-4.6-1.8z" fill="#abcb45" stroke="#abcb45"/>
<path d="M407.3 359.4l4.6 2.1-2.3 .8-4.5-2.4z" fill="#ccd439" stroke="#ccd439"/>
<path d="M414.1 360.8l4.6 1.8-2.3 1-4.5-2.1z" fill="#bbcf3f" stroke="#bbcf3f"/>
<path d="M405.1 359.9l4.5 2.4-2.2 .7-4.6-2.6z" fill="#e0db2a" stroke="#e0db2a"/>
<path d="M411.9 361.5l4.5 2.1-2.2 1.1-4.6-2.4z" fill="#cbd43a" stroke="#cbd43a"/>
<path d="M409.6 362.3l4.6 2.4-2.3 1-4.5-2.7z" fill="#d9d92f" stroke="#d9d92f"/>
<path d="M411.8 358.5l3.1 1 3 1 3.1 1.1-3.1 1.4-3 1.3-3 1.4-3-1.8-3.1-1.7-3-1.8 3-.6 3-.7z" class="ms"/>
<circle cx="411.8" cy="358.5" r="0.75"/>
<path d="M430 358.5l9.1 3.5-4.5 2.3-9.1-4.2z" fill="#9cc64a" stroke="#9cc64a"/>
<path d="M425.5 360.1l9.1 4.2-4.5 2.2-9.1-4.9z" fill="#b0cc43" stroke="#b0cc43"/>
<path d="M430 358.5l3 1.2 3.1 1.1 3 1.2-3 1.5-3 1.5-3 1.5-3.1-1.6-3-1.7-3-1.6 3-1 3-1z" class="ms"/>
<circle cx="430" cy="358.5" r="0.75"/>
<path d="M448.1 358.2l4.6 3.6-9 3.8-4.6-3.6z" fill="#8fc366" stroke="#8fc366"/>
<path d="M452.7 361.8l4.6 3.7-9.1 3.8-4.5-3.7z" fill="#85c07d" stroke="#85c07d"/>
<path d="M448.1 358.2l3.1 2.4 3 2.4 3.1 2.5-3.1 1.2-3 1.3-3 1.3-3-2.5-3.1-2.4-3-2.4 3-1.3 3-1.2z" class="ms"/>
<circle cx="448.1" cy="358.2" r="0.75"/>
<path d="M466.3 360.2l9.1 5.3-9 5.7-9.1-5.7z" fill="#85c07e" stroke="#85c07e"/>
<path d="M466.3 360.2l3 1.7 3.1 1.8 3 1.8-3 1.9-3 1.9-3 1.9-3.1-1.9-3-1.9-3-1.9 3-1.8 3-1.8z" class="ms"/>
<circle cx="466.3" cy="360.2" r="0.75"/>
<path d="M384.7 358.8l3 1.5-1.3 3.2-3-1.8z" fill="#f1e11c" stroke="#f1e11c"/>
<path d="M383.4 361.7l3 1.8-1.3 3.2-3-2.1z" fill="#e2dc28" stroke="#e2dc28"/>
<path d="M382.1 364.6l3 2.1-1.3 3.1-3-2.3z" fill="#d3d733" stroke="#d3d733"/>
<path d="M387.7 360.3l3 1.6-1.3 3.4-3-1.8z" fill="#f2e11c" stroke="#f2e11c"/>
<path d="M380.8 367.5l3 2.3-1.3 3.2-3-2.6z" fill="#c4d23c" stroke="#c4d23c"/>
<path d="M386.4 363.5l3 1.8-1.3 3.4-3-2z" fill="#dfdb2a" stroke="#dfdb2a"/>
<path d="M379.5 370.4l3 2.6-1.3 3.2-3-2.9z" fill="#b3cd42" stroke="#b3cd42"/>
<path d="M385.1 366.7l3 2-1.2 3.5-3.1-2.4z" fill="#cdd539" stroke="#cdd539"/>
<path d="M390.7 361.9l3.1 1.5-1.3 3.7-3.1-1.8z" fill="#f3e21b" stroke="#f3e21b"/>
<path d="M378.2 373.3l3 2.9-1.2 3.1-3.1-3.1z" fill="#a2c848" stroke="#a2c848"/>
<path d="M383.8 369.8l3.1 2.4-1.3 3.4-3.1-2.6z" fill="#b8ce40" stroke="#b8ce40"/>
<path d="M389.4 365.3l3.1 1.8-1.3 3.7-3.1-2.1z" fill="#ddda2c" stroke="#ddda2c"/>
<path d="M376.9 376.2l3.1 3.1-1.3 3.2-3.1-3.4z" fill="#97c555" stroke="#97c555"/>
<path d="M382.5 373l3.1 2.6-1.3 3.5-3.1-2.9z" fill="#a3c848" stroke="#a3c848"/>
<path d="M388.1 368.7l3.1 2.1-1.3 3.7-3-2.3z" fill="#c6d23c" stroke="#c6d23c"/>
<path d="M381.2 376.2l3.1 2.9-1.3 3.4-3-3.2z" fill="#95c459" stroke="#95c459"/>
<path d="M386.9 372.2l3 2.3-1.3 3.7-3-2.6z" fill="#accb45" stroke="#accb45"/>
<path d="M380 379.3l3 3.2-1.3 3.4-3-3.4z" fill="#8bc16e" stroke="#8bc16e"/>
<path d="M385.6 375.6l3 2.6-1.3 3.8-3-2.9z" fill="#98c554" stroke="#98c554"/>
<path d="M384.3 379.1l3 2.9-1.3 3.7-3-3.2z" fill="#8cc26e" stroke="#8cc26e"/>
<path d="M383 382.5l3 3.2-1.3 3.7-3-3.5z" fill="#83c087" stroke="#83c087"/>
<path d="M384.7 358.8l3 1.5 3 1.6 3.1 1.5-3 8.7-3 8.6-3.1 8.7-3-3.5-3-3.4-3.1-3.4 3-6.8 3-6.7z" class="ms"/>
<circle cx="384.7" cy="358.8" r="0.75"/>
<circle cx="375.6" cy="379.1" r="0.75"/>
<path d="M402.8 360.4l2.3 1.3-2.3 .6-2.3-1.2z" fill="#efe01e" stroke="#efe01e"/>
<path d="M405.1 361.7l2.3 1.3-2.3 .6-2.3-1.3z" fill="#ede01f" stroke="#ede01f"/>
<path d="M400.5 361.1l2.3 1.2-2.2 .7-2.3-1.1z" fill="#f5e01a" stroke="#f5e01a"/>
<path d="M407.4 363l2.2 1.4-2.2 .4-2.3-1.2z" fill="#ecdf20" stroke="#ecdf20"/>
<path d="M402.8 362.3l2.3 1.3-2.3 .5-2.2-1.1z" fill="#f5dc1a" stroke="#f5dc1a"/>
<path d="M398.3 361.9l2.3 1.1-2.3 .6-2.3-1z" fill="#f6d91a" stroke="#f6d91a"/>
<path d="M409.6 364.4l2.3 1.3-2.2 .3-2.3-1.2z" fill="#eadf22" stroke="#eadf22"/>
<path d="M405.1 363.6l2.3 1.2-2.3 .4-2.3-1.1z" fill="#f6d81a" stroke="#f6d81a"/>
<path d="M400.6 363l2.2 1.1-2.2 .5-2.3-1z" fill="#f9cf1a" stroke="#f9cf1a"/>
<path d="M396 362.6l2.3 1-2.2 .6-2.3-.8z" fill="#f8d21a" stroke="#f8d21a"/>
<path d="M407.4 364.8l2.3 1.2-2.3 .3-2.3-1.1z" fill="#f7d41a" stroke="#f7d41a"/>
<path d="M402.8 364.1l2.3 1.1-2.2 .4-2.3-1z" fill="#fbc61a" stroke="#fbc61a"/>
<path d="M398.3 363.6l2.3 1-2.3 .5-2.2-.9z" fill="#fbc31a" stroke="#fbc31a"/>
<path d="M405.1 365.2l2.3 1.1-2.3 .3-2.2-1z" fill="#fabc1b" stroke="#fabc1b"/>
<path d="M400.6 364.6l2.3 1-2.3 .4-2.3-.9z" fill="#f9b31b" stroke="#f9b31b"/>
<path d="M402.9 365.6l2.2 1-2.2 .2-2.3-.8z" fill="#f8a31d" stroke="#f8a31d"/>
<path d="M402.8 360.4l3 1.8 3.1 1.7 3 1.8-3 .4-3 .4-3 .3-3-1.1-3.1-1.2-3-1.1 3-1 3-1z" class="ms"/>
<circle cx="402.8" cy="360.4" r="0.75"/>
<path d="M421 361.6l9.1 4.9-4.5 1.3-9.2-4.2z" fill="#c6d33c" stroke="#c6d33c"/>
<path d="M416.4 363.6l9.2 4.2-4.6 1.4-9.1-3.5z" fill="#dbd92e" stroke="#dbd92e"/>
<path d="M421 361.6l3 1.6 3 1.7 3.1 1.6-3 .9-3 .9-3.1 .9-3-1.2-3-1.1-3.1-1.2 3-1.4 3-1.3z" class="ms"/>
<circle cx="421" cy="361.6" r="0.75"/>
<path d="M439.1 362l4.6 3.6-4.6 2.1-4.5-3.4z" fill="#99c550" stroke="#99c550"/>
<path d="M443.7 365.6l4.5 3.7-4.5 1.8-4.6-3.4z" fill="#8dc26c" stroke="#8dc26c"/>
<path d="M434.6 364.3l4.5 3.4-4.5 2.1-4.5-3.3z" fill="#aecb44" stroke="#aecb44"/>
<path d="M439.1 367.7l4.6 3.4-4.5 1.9-4.6-3.2z" fill="#97c555" stroke="#97c555"/>
<path d="M439.1 362l3 2.4 3.1 2.4 3 2.5-3 1.2-3 1.3-3 1.2-3-2.1-3.1-2.2-3-2.2 3-1.5 3-1.5z" class="ms"/>
<circle cx="439.1" cy="362" r="0.75"/>
<path d="M457.3 365.5l9.1 5.7-9.1 4.2-9.1-6.1z" fill="#86c079" stroke="#86c079"/>
<path d="M457.3 365.5l3 1.9 3 1.9 3.1 1.9-3 1.4-3.1 1.4-3 1.4-3-2.1-3-2-3.1-2 3-1.3 3-1.3z" class="ms"/>
<circle cx="457.3" cy="365.5" r="0.75"/>
<path d="M475.4 365.5l9.1 12.6-9 5.7-9.1-12.6z" fill="#8bc16f" stroke="#8bc16f"/>
<path d="M475.4 365.5l3 4.2 3.1 4.2 3 4.2-3 1.9-3 1.9-3 1.9-3-4.2-3.1-4.2-3-4.2 3-1.9 3-1.9z" class="ms"/>
<circle cx="475.4" cy="365.5" r="0.75"/>
<circle cx="484.5" cy="378.1" r="0.75"/>
<path d="M393.8 363.4l1.5 .6-.8 2.2-1.5-.6z" fill="#f6d81a" stroke="#f6d81a"/>
<path d="M393 365.6l1.5 .6-.7 2.2-1.5-.7z" fill="#efe01e" stroke="#efe01e"/>
<path d="M395.3 364l1.5 .5-.7 2.3-1.6-.6z" fill="#f9ce1a" stroke="#f9ce1a"/>
<path d="M392.3 367.7l1.5 .7-.8 2.2-1.5-.7z" fill="#e0db2a" stroke="#e0db2a"/>
<path d="M394.5 366.2l1.6 .6-.8 2.2-1.5-.6z" fill="#f5de1a" stroke="#f5de1a"/>
<path d="M391.5 369.9l1.5 .7-.7 2.2-1.5-.7z" fill="#d1d636" stroke="#d1d636"/>
<path d="M396.8 364.5l1.5 .6-.7 2.3-1.5-.6z" fill="#fbc31a" stroke="#fbc31a"/>
<path d="M393.8 368.4l1.5 .6-.7 2.2-1.6-.6z" fill="#e7dd24" stroke="#e7dd24"/>
<path d="M390.8 372.1l1.5 .7-.8 2.2-1.5-.8z" fill="#c0d13e" stroke="#c0d13e"/>
<path d="M396.1 366.8l1.5 .6-.8 2.2-1.5-.6z" fill="#f7d61a" stroke="#f7d61a"/>
<path d="M393 370.6l1.6 .6-.8 2.3-1.5-.7z" fill="#d6d832" stroke="#d6d832"/>
<path d="M390 374.2l1.5 .8-.7 2.2-1.5-.8z" fill="#afcc44" stroke="#afcc44"/>
<path d="M398.3 365.1l1.6 .6-.8 2.3-1.5-.6z" fill="#fab71b" stroke="#fab71b"/>
<path d="M395.3 369l1.5 .6-.7 2.3-1.5-.7z" fill="#eee01f" stroke="#eee01f"/>
<path d="M392.3 372.8l1.5 .7-.8 2.2-1.5-.7z" fill="#c3d23d" stroke="#c3d23d"/>
<path d="M389.3 376.4l1.5 .8-.8 2.1-1.5-.7z" fill="#9dc64a" stroke="#9dc64a"/>
<path d="M394.6 371.2l1.5 .7-.8 2.3-1.5-.7z" fill="#dbd92e" stroke="#dbd92e"/>
<path d="M397.6 367.4l1.5 .6-.8 2.3-1.5-.7z" fill="#f9cd1a" stroke="#f9cd1a"/>
<path d="M391.5 375l1.5 .7-.7 2.2-1.5-.7z" fill="#b0cc43" stroke="#b0cc43"/>
<path d="M388.5 378.6l1.5 .7-.7 2.2-1.5-.8z" fill="#95c45a" stroke="#95c45a"/>
<path d="M399.9 365.7l1.5 .6-.8 2.3-1.5-.6z" fill="#f9ac1c" stroke="#f9ac1c"/>
<path d="M393.8 373.5l1.5 .7-.7 2.2-1.6-.7z" fill="#c7d33b" stroke="#c7d33b"/>
<path d="M390.8 377.2l1.5 .7-.8 2.2-1.5-.8z" fill="#9cc64a" stroke="#9cc64a"/>
<path d="M396.8 369.6l1.5 .7-.7 2.3-1.5-.7z" fill="#f4e11a" stroke="#f4e11a"/>
<path d="M387.8 380.7l1.5 .8-.8 2.2-1.5-.8z" fill="#8cc26c" stroke="#8cc26c"/>
<path d="M399.1 368l1.5 .6-.7 2.3-1.6-.6z" fill="#fbc41a" stroke="#fbc41a"/>
<path d="M396.1 371.9l1.5 .7-.8 2.3-1.5-.7z" fill="#dfdb2a" stroke="#dfdb2a"/>
<path d="M393 375.7l1.6 .7-.8 2.3-1.5-.8z" fill="#b1cc43" stroke="#b1cc43"/>
<path d="M390 379.3l1.5 .8-.7 2.3-1.5-.9z" fill="#93c45e" stroke="#93c45e"/>
<path d="M387 382.9l1.5 .8-.7 2.2-1.6-.8z" fill="#85c07d" stroke="#85c07d"/>
<path d="M392.3 377.9l1.5 .8-.7 2.2-1.6-.8z" fill="#9cc64b" stroke="#9cc64b"/>
<path d="M401.4 366.3l1.5 .5-.8 2.4-1.5-.6z" fill="#f7a11d" stroke="#f7a11d"/>
<path d="M398.3 370.3l1.6 .6-.8 2.3-1.5-.6z" fill="#f6db1a" stroke="#f6db1a"/>
<path d="M395.3 374.2l1.5 .7-.7 2.2-1.5-.7z" fill="#cad43a" stroke="#cad43a"/>
<path d="M389.3 381.5l1.5 .9-.8 2.2-1.5-.9z" fill="#8ac172" stroke="#8ac172"/>
<path d="M386.2 385.1l1.6 .8-.8 2.2-1.5-.9z" fill="#81c08d" stroke="#81c08d"/>
<path d="M400.6 368.6l1.5 .6-.7 2.3-1.5-.6z" fill="#fabb1b" stroke="#fabb1b"/>
<path d="M397.6 372.6l1.5 .6-.7 2.4-1.6-.7z" fill="#e4dd26" stroke="#e4dd26"/>
<path d="M391.5 380.1l1.6 .8-.8 2.3-1.5-.8z" fill="#91c361" stroke="#91c361"/>
<path d="M388.5 383.7l1.5 .9-.7 2.2-1.5-.9z" fill="#83c085" stroke="#83c085"/>
<path d="M394.6 376.4l1.5 .7-.8 2.3-1.5-.7z" fill="#b2cd42" stroke="#b2cd42"/>
<path d="M385.5 387.2l1.5 .9-.7 2.2-1.6-.9z" fill="#7dc19d" stroke="#7dc19d"/>
<path d="M399.9 370.9l1.5 .6-.8 2.4-1.5-.7z" fill="#f7d41a" stroke="#f7d41a"/>
<path d="M396.8 374.9l1.6 .7-.8 2.3-1.5-.8z" fill="#cdd538" stroke="#cdd538"/>
<path d="M393.8 378.7l1.5 .7-.7 2.3-1.5-.8z" fill="#9bc64c" stroke="#9bc64c"/>
<path d="M390.8 382.4l1.5 .8-.7 2.3-1.6-.9z" fill="#87c078" stroke="#87c078"/>
<path d="M387.8 385.9l1.5 .9-.8 2.3-1.5-1z" fill="#7fc197" stroke="#7fc197"/>
<path d="M390 384.6l1.6 .9-.8 2.2-1.5-.9z" fill="#81c08c" stroke="#81c08c"/>
<path d="M399.1 373.2l1.5 .7-.7 2.4-1.5-.7z" fill="#e9de22" stroke="#e9de22"/>
<path d="M396.1 377.1l1.5 .8-.7 2.3-1.6-.8z" fill="#b3cd42" stroke="#b3cd42"/>
<path d="M393.1 380.9l1.5 .8-.8 2.3-1.5-.8z" fill="#90c365" stroke="#90c365"/>
<path d="M387 388.1l1.5 1-.7 2.2-1.5-1z" fill="#7ac1a9" stroke="#7ac1a9"/>
<path d="M398.4 375.6l1.5 .7-.8 2.3-1.5-.7z" fill="#d0d636" stroke="#d0d636"/>
<path d="M395.3 379.4l1.6 .8-.8 2.3-1.5-.8z" fill="#9bc64d" stroke="#9bc64d"/>
<path d="M389.3 386.8l1.5 .9-.7 2.3-1.6-.9z" fill="#7cc1a0" stroke="#7cc1a0"/>
<path d="M392.3 383.2l1.5 .8-.7 2.3-1.5-.8z" fill="#85c07d" stroke="#85c07d"/>
<path d="M397.6 377.9l1.5 .7-.7 2.4-1.5-.8z" fill="#b4cd42" stroke="#b4cd42"/>
<path d="M394.6 381.7l1.5 .8-.8 2.4-1.5-.9z" fill="#8ec268" stroke="#8ec268"/>
<path d="M391.6 385.5l1.5 .8-.8 2.3-1.5-.9z" fill="#80c193" stroke="#80c193"/>
<path d="M388.5 389.1l1.6 .9-.8 2.3-1.5-1z" fill="#76c2b4" stroke="#76c2b4"/>
<path d="M396.9 380.2l1.5 .8-.8 2.3-1.5-.8z" fill="#9ac54e" stroke="#9ac54e"/>
<path d="M393.8 384l1.5 .9-.7 2.3-1.5-.9z" fill="#84c082" stroke="#84c082"/>
<path d="M390.8 387.7l1.5 .9-.7 2.3-1.5-.9z" fill="#79c1a9" stroke="#79c1a9"/>
<path d="M396.1 382.5l1.5 .8-.7 2.4-1.6-.8z" fill="#8dc26c" stroke="#8dc26c"/>
<path d="M393.1 386.3l1.5 .9-.8 2.3-1.5-.9z" fill="#7ec19b" stroke="#7ec19b"/>
<path d="M390.1 390l1.5 .9-.8 2.3-1.5-.9z" fill="#72c3bf" stroke="#72c3bf"/>
<path d="M395.3 384.9l1.6 .8-.8 2.3-1.5-.8z" fill="#83c088" stroke="#83c088"/>
<path d="M392.3 388.6l1.5 .9-.7 2.3-1.5-.9z" fill="#76c2b3" stroke="#76c2b3"/>
<path d="M394.6 387.2l1.5 .8-.7 2.4-1.6-.9z" fill="#7cc1a2" stroke="#7cc1a2"/>
<path d="M391.6 390.9l1.5 .9-.8 2.4-1.5-1z" fill="#6ec5cb" stroke="#6ec5cb"/>
<path d="M393.8 389.5l1.6 .9-.8 2.4-1.5-1z" fill="#73c3bc" stroke="#73c3bc"/>
<path d="M393.1 391.8l1.5 1-.7 2.3-1.6-.9z" fill="#64c5d5" stroke="#64c5d5"/>
<path d="M393.8 363.4l3 1.1 3.1 1.2 3 1.1-3 9.5-3 9.4-3 9.4-3.1-1.9-3-1.9-3.1-1.9 3.1-8.7 3-8.6z" class="ms"/>
<circle cx="393.8" cy="363.4" r="0.75"/>
<circle cx="384.7" cy="389.4" r="0.75"/>
<path d="M411.9 365.7l9.1 3.5-2.2 .6-9.1-3.8z" fill="#f1e11d" stroke="#f1e11d"/>
<path d="M409.7 366l9.1 3.8-2.3 .7-9.1-4.2z" fill="#f9cf1a" stroke="#f9cf1a"/>
<path d="M407.4 366.3l9.1 4.2-2.2 .6-9.2-4.5z" fill="#fab71b" stroke="#fab71b"/>
<path d="M405.1 366.6l9.2 4.5-2.3 .7-9.1-5z" fill="#f79e1d" stroke="#f79e1d"/>
<path d="M411.9 365.7l3.1 1.2 3 1.1 3 1.2-3 .8-3 .9-3 .9-3-1.7-3.1-1.6-3-1.7 3-.3 3-.4z" class="ms"/>
<circle cx="411.9" cy="365.7" r="0.75"/>
<path d="M430.1 366.5l4.5 3.3-3 1-4.5-3.4z" fill="#c3d23d" stroke="#c3d23d"/>
<path d="M427.1 367.4l4.5 3.4-3 1-4.5-3.5z" fill="#d2d635" stroke="#d2d635"/>
<path d="M434.6 369.8l4.6 3.2-3 1.2-4.6-3.4z" fill="#a6c946" stroke="#a6c946"/>
<path d="M424.1 368.3l4.5 3.5-3 1-4.6-3.6z" fill="#e0db2a" stroke="#e0db2a"/>
<path d="M431.6 370.8l4.6 3.4-3 1.1-4.6-3.5z" fill="#bccf3f" stroke="#bccf3f"/>
<path d="M428.6 371.8l4.6 3.5-3 1.1-4.6-3.6z" fill="#d0d636" stroke="#d0d636"/>
<path d="M430.1 366.5l3 2.2 3.1 2.2 3 2.1-3 1.2-3 1.1-3 1.1-3.1-2.4-3-2.4-3.1-2.4 3.1-.9 3-.9z" class="ms"/>
<circle cx="430.1" cy="366.5" r="0.75"/>
<path d="M448.2 369.3l9.1 6.1-4.5 1.1-9.1-5.4z" fill="#8ec26a" stroke="#8ec26a"/>
<path d="M443.7 371.1l9.1 5.4-4.5 1.1-9.1-4.6z" fill="#97c555" stroke="#97c555"/>
<path d="M448.2 369.3l3.1 2 3 2 3 2.1-3 .7-3 .8-3 .7-3-1.5-3.1-1.5-3-1.6 3-1.2 3-1.3z" class="ms"/>
<circle cx="448.2" cy="369.3" r="0.75"/>
<path d="M466.4 371.2l9.1 12.6-9 3.4-9.2-11.8z" fill="#90c364" stroke="#90c364"/>
<path d="M466.4 371.2l3 4.2 3.1 4.2 3 4.2-3 1.2-3 1.1-3 1.1-3.1-3.9-3-4-3.1-3.9 3-1.4 3.1-1.4z" class="ms"/>
<circle cx="466.4" cy="371.2" r="0.75"/>
<circle cx="475.5" cy="383.8" r="0.75"/>
<path d="M402.9 366.8l2.3 1.3-.8 2.4-2.3-1.3z" fill="#f79d1d" stroke="#f79d1d"/>
<path d="M402.1 369.2l2.3 1.3-.7 2.4-2.3-1.4z" fill="#fab91b" stroke="#fab91b"/>
<path d="M401.4 371.5l2.3 1.4-.8 2.4-2.3-1.4z" fill="#f7d41a" stroke="#f7d41a"/>
<path d="M405.2 368.1l2.3 1.2-.8 2.4-2.3-1.2z" fill="#f7a01d" stroke="#f7a01d"/>
<path d="M400.6 373.9l2.3 1.4-.7 2.4-2.3-1.4z" fill="#e8de23" stroke="#e8de23"/>
<path d="M404.4 370.5l2.3 1.2-.8 2.5-2.2-1.3z" fill="#fabe1b" stroke="#fabe1b"/>
<path d="M399.9 376.3l2.3 1.4-.8 2.4-2.3-1.5z" fill="#cdd538" stroke="#cdd538"/>
<path d="M403.7 372.9l2.2 1.3-.7 2.4-2.3-1.3z" fill="#f6da1a" stroke="#f6da1a"/>
<path d="M399.1 378.6l2.3 1.5-.7 2.4-2.3-1.5z" fill="#aecb44" stroke="#aecb44"/>
<path d="M407.5 369.3l2.2 1.3-.7 2.4-2.3-1.3z" fill="#f8a31d" stroke="#f8a31d"/>
<path d="M402.9 375.3l2.3 1.3-.8 2.5-2.2-1.4z" fill="#e0db2a" stroke="#e0db2a"/>
<path d="M398.4 381l2.3 1.5-.8 2.4-2.3-1.6z" fill="#96c457" stroke="#96c457"/>
<path d="M406.7 371.7l2.3 1.3-.8 2.5-2.3-1.3z" fill="#fbc31a" stroke="#fbc31a"/>
<path d="M402.2 377.7l2.2 1.4-.7 2.4-2.3-1.4z" fill="#c2d13d" stroke="#c2d13d"/>
<path d="M397.6 383.3l2.3 1.6-.8 2.3-2.2-1.5z" fill="#88c076" stroke="#88c076"/>
<path d="M405.9 374.2l2.3 1.3-.7 2.5-2.3-1.4z" fill="#f4e01a" stroke="#f4e01a"/>
<path d="M401.4 380.1l2.3 1.4-.8 2.4-2.2-1.4z" fill="#a1c848" stroke="#a1c848"/>
<path d="M396.9 385.7l2.2 1.5-.7 2.4-2.3-1.6z" fill="#80c193" stroke="#80c193"/>
<path d="M409.7 370.6l2.3 1.2-.7 2.5-2.3-1.3z" fill="#f8a61c" stroke="#f8a61c"/>
<path d="M405.2 376.6l2.3 1.4-.8 2.5-2.3-1.4z" fill="#d8d830" stroke="#d8d830"/>
<path d="M400.7 382.5l2.2 1.4-.7 2.5-2.3-1.5z" fill="#8fc266" stroke="#8fc266"/>
<path d="M396.1 388l2.3 1.6-.8 2.4-2.2-1.6z" fill="#78c2af" stroke="#78c2af"/>
<path d="M409 373l2.3 1.3-.8 2.5-2.3-1.3z" fill="#fac71a" stroke="#fac71a"/>
<path d="M404.4 379.1l2.3 1.4-.7 2.4-2.3-1.4z" fill="#b7ce41" stroke="#b7ce41"/>
<path d="M399.9 384.9l2.3 1.5-.8 2.4-2.3-1.6z" fill="#83c086" stroke="#83c086"/>
<path d="M395.4 390.4l2.2 1.6-.7 2.4-2.3-1.6z" fill="#6ec5cb" stroke="#6ec5cb"/>
<path d="M408.2 375.5l2.3 1.3-.7 2.5-2.3-1.3z" fill="#efe01e" stroke="#efe01e"/>
<path d="M403.7 381.5l2.3 1.4-.8 2.5-2.3-1.5z" fill="#98c552" stroke="#98c552"/>
<path d="M399.1 387.2l2.3 1.6-.7 2.4-2.3-1.6z" fill="#7bc1a4" stroke="#7bc1a4"/>
<path d="M394.6 392.8l2.3 1.6-.8 2.4-2.2-1.7z" fill="#50c4e3" stroke="#50c4e3"/>
<path d="M407.5 378l2.3 1.3-.8 2.6-2.3-1.4z" fill="#d0d636" stroke="#d0d636"/>
<path d="M402.9 383.9l2.3 1.5-.7 2.5-2.3-1.5z" fill="#88c175" stroke="#88c175"/>
<path d="M398.4 389.6l2.3 1.6-.8 2.5-2.3-1.7z" fill="#71c4c2" stroke="#71c4c2"/>
<path d="M406.7 380.5l2.3 1.4-.8 2.5-2.2-1.5z" fill="#accb45" stroke="#accb45"/>
<path d="M402.2 386.4l2.3 1.5-.8 2.5-2.3-1.6z" fill="#7fc196" stroke="#7fc196"/>
<path d="M397.6 392l2.3 1.7-.7 2.4-2.3-1.7z" fill="#59c5dd" stroke="#59c5dd"/>
<path d="M406 382.9l2.2 1.5-.7 2.5-2.3-1.5z" fill="#92c35f" stroke="#92c35f"/>
<path d="M401.4 388.8l2.3 1.6-.7 2.5-2.3-1.7z" fill="#75c3b5" stroke="#75c3b5"/>
<path d="M396.9 394.4l2.3 1.7-.8 2.5-2.3-1.8z" fill="#3cbfed" stroke="#3cbfed"/>
<path d="M405.2 385.4l2.3 1.5-.8 2.5-2.2-1.5z" fill="#84c084" stroke="#84c084"/>
<path d="M400.7 391.2l2.3 1.7-.8 2.4-2.3-1.6z" fill="#66c5d4" stroke="#66c5d4"/>
<path d="M404.5 387.9l2.2 1.5-.7 2.5-2.3-1.5z" fill="#7bc1a5" stroke="#7bc1a5"/>
<path d="M399.9 393.7l2.3 1.6-.7 2.5-2.3-1.7z" fill="#3fc4ee" stroke="#3fc4ee"/>
<path d="M403.7 390.4l2.3 1.5-.8 2.6-2.2-1.6z" fill="#6fc4c7" stroke="#6fc4c7"/>
<path d="M399.2 396.1l2.3 1.7-.8 2.5-2.3-1.7z" fill="#3aaae5" stroke="#3aaae5"/>
<path d="M403 392.9l2.2 1.6-.7 2.5-2.3-1.7z" fill="#4fc4e4" stroke="#4fc4e4"/>
<path d="M402.2 395.3l2.3 1.7-.8 2.5-2.2-1.7z" fill="#3ab7eb" stroke="#3ab7eb"/>
<path d="M401.5 397.8l2.2 1.7-.7 2.5-2.3-1.7z" fill="#3b8dd6" stroke="#3b8dd6"/>
<path d="M402.9 366.8l3 1.7 3.1 1.6 3 1.7-3 10.1-3 10-3 10.1-3.1-2.3-3-2.3-3-2.3 3-9.4 3-9.4z" class="ms"/>
<circle cx="402.9" cy="366.8" r="0.75"/>
<circle cx="393.9" cy="395.1" r="0.75"/>
<path d="M421 369.2l4.6 3.6-3 .9-4.6-3.7z" fill="#f3e21b" stroke="#f3e21b"/>
<path d="M418 370l4.6 3.7-3 .9-4.6-3.7z" fill="#facb1a" stroke="#facb1a"/>
<path d="M425.6 372.8l4.6 3.6-3 .9-4.6-3.6z" fill="#e4dc27" stroke="#e4dc27"/>
<path d="M415 370.9l4.6 3.7-3 .8-4.6-3.6z" fill="#f9b21c" stroke="#f9b21c"/>
<path d="M422.6 373.7l4.6 3.6-3.1 .9-4.5-3.6z" fill="#f5de1a" stroke="#f5de1a"/>
<path d="M419.6 374.6l4.5 3.6-3 .9-4.5-3.7z" fill="#facb1a" stroke="#facb1a"/>
<path d="M421 369.2l3.1 2.4 3 2.4 3.1 2.4-3 .9-3.1 .9-3 .9-3-2.5-3-2.4-3.1-2.4 3-.9 3-.9z" class="ms"/>
<circle cx="421" cy="369.2" r="0.75"/>
<path d="M439.2 373l4.6 2.3-2.3 .8-4.6-2.2z" fill="#9ec749" stroke="#9ec749"/>
<path d="M436.9 373.9l4.6 2.2-2.3 .7-4.5-2.1z" fill="#b2cd43" stroke="#b2cd43"/>
<path d="M443.8 375.3l4.5 2.3-2.2 .7-4.6-2.2z" fill="#afcc43" stroke="#afcc43"/>
<path d="M434.7 374.7l4.5 2.1-2.2 .8-4.6-2z" fill="#c6d23c" stroke="#c6d23c"/>
<path d="M441.5 376.1l4.6 2.2-2.3 .6-4.6-2.1z" fill="#c7d33b" stroke="#c7d33b"/>
<path d="M432.4 375.6l4.6 2-2.3 .7-4.5-1.9z" fill="#d8d830" stroke="#d8d830"/>
<path d="M439.2 376.8l4.6 2.1-2.3 .7-4.5-2z" fill="#dcda2d" stroke="#dcda2d"/>
<path d="M437 377.6l4.5 2-2.2 .7-4.6-2z" fill="#f1e11c" stroke="#f1e11c"/>
<path d="M439.2 373l3 1.6 3.1 1.5 3 1.5-3 .9-3 .9-3 .9-3.1-1.3-3-1.3-3-1.3 3-1.1 3-1.1z" class="ms"/>
<circle cx="439.2" cy="373" r="0.75"/>
<path d="M457.3 375.4l4.6 5.9-4.5 1.3-4.6-6.1z" fill="#98c553" stroke="#98c553"/>
<path d="M461.9 381.3l4.6 5.9-4.6 1.5-4.5-6.1z" fill="#a0c749" stroke="#a0c749"/>
<path d="M452.8 376.5l4.6 6.1-4.5 1.3-4.6-6.3z" fill="#aaca45" stroke="#aaca45"/>
<path d="M457.4 382.6l4.5 6.1-4.5 1.6-4.5-6.4z" fill="#bccf3f" stroke="#bccf3f"/>
<path d="M457.3 375.4l3.1 3.9 3 4 3.1 3.9-3.1 1-3 1-3 1.1-3-4.3-3-4.2-3.1-4.2 3-.7 3-.8z" class="ms"/>
<circle cx="457.3" cy="375.4" r="0.75"/>
<circle cx="466.5" cy="387.2" r="0.75"/>
<path d="M412 371.8l2.3 1.8-.8 2.6-2.2-1.9z" fill="#f9af1c" stroke="#f9af1c"/>
<path d="M411.3 374.3l2.2 1.9-.7 2.5-2.3-1.9z" fill="#f8d11a" stroke="#f8d11a"/>
<path d="M410.5 376.8l2.3 1.9-.8 2.6-2.2-2z" fill="#e4dd26" stroke="#e4dd26"/>
<path d="M414.3 373.6l2.3 1.8-.8 2.6-2.3-1.8z" fill="#fabe1b" stroke="#fabe1b"/>
<path d="M409.8 379.3l2.2 2-.7 2.5-2.3-1.9z" fill="#c2d13d" stroke="#c2d13d"/>
<path d="M413.5 376.2l2.3 1.8-.7 2.6-2.3-1.9z" fill="#f5e01a" stroke="#f5e01a"/>
<path d="M409 381.9l2.3 1.9-.8 2.6-2.3-2z" fill="#9cc64b" stroke="#9cc64b"/>
<path d="M412.8 378.7l2.3 1.9-.8 2.6-2.3-1.9z" fill="#d4d733" stroke="#d4d733"/>
<path d="M408.2 384.4l2.3 2-.7 2.6-2.3-2.1z" fill="#8ac172" stroke="#8ac172"/>
<path d="M416.6 375.4l2.3 1.8-.8 2.7-2.3-1.9z" fill="#f9cc1a" stroke="#f9cc1a"/>
<path d="M412 381.3l2.3 1.9-.7 2.6-2.3-2z" fill="#aecb44" stroke="#aecb44"/>
<path d="M407.5 386.9l2.3 2.1-.8 2.5-2.3-2.1z" fill="#7fc195" stroke="#7fc195"/>
<path d="M415.8 378l2.3 1.9-.8 2.6-2.2-1.9z" fill="#e7de24" stroke="#e7de24"/>
<path d="M411.3 383.8l2.3 2-.8 2.6-2.3-2z" fill="#92c360" stroke="#92c360"/>
<path d="M406.7 389.4l2.3 2.1-.7 2.6-2.3-2.2z" fill="#74c3b8" stroke="#74c3b8"/>
<path d="M415.1 380.6l2.2 1.9-.7 2.7-2.3-2z" fill="#c3d23d" stroke="#c3d23d"/>
<path d="M410.5 386.4l2.3 2-.7 2.6-2.3-2z" fill="#83c087" stroke="#83c087"/>
<path d="M406 391.9l2.3 2.2-.8 2.5-2.3-2.1z" fill="#5ec5d9" stroke="#5ec5d9"/>
<path d="M418.9 377.2l2.2 1.9-.7 2.6-2.3-1.8z" fill="#f6d91a" stroke="#f6d91a"/>
<path d="M414.3 383.2l2.3 2-.8 2.6-2.2-2z" fill="#9bc64c" stroke="#9bc64c"/>
<path d="M409.8 389l2.3 2-.8 2.6-2.3-2.1z" fill="#79c2ab" stroke="#79c2ab"/>
<path d="M405.2 394.5l2.3 2.1-.7 2.6-2.3-2.2z" fill="#3cbeed" stroke="#3cbeed"/>
<path d="M418.1 379.9l2.3 1.8-.8 2.7-2.3-1.9z" fill="#d8d930" stroke="#d8d930"/>
<path d="M413.6 385.8l2.2 2-.7 2.6-2.3-2z" fill="#88c176" stroke="#88c176"/>
<path d="M409 391.5l2.3 2.1-.7 2.6-2.3-2.1z" fill="#6cc5cf" stroke="#6cc5cf"/>
<path d="M404.5 397l2.3 2.2-.8 2.5-2.3-2.2z" fill="#3a9add" stroke="#3a9add"/>
<path d="M417.3 382.5l2.3 1.9-.7 2.7-2.3-1.9z" fill="#b0cc43" stroke="#b0cc43"/>
<path d="M412.8 388.4l2.3 2-.8 2.7-2.2-2.1z" fill="#7dc19b" stroke="#7dc19b"/>
<path d="M408.3 394.1l2.3 2.1-.8 2.6-2.3-2.2z" fill="#41c4ed" stroke="#41c4ed"/>
<path d="M403.7 399.5l2.3 2.2-.7 2.6-2.3-2.3z" fill="#3a6ec1" stroke="#3a6ec1"/>
<path d="M416.6 385.2l2.3 1.9-.8 2.7-2.3-2z" fill="#92c360" stroke="#92c360"/>
<path d="M412.1 391l2.2 2.1-.7 2.6-2.3-2.1z" fill="#71c4c1" stroke="#71c4c1"/>
<path d="M407.5 396.6l2.3 2.2-.8 2.6-2.2-2.2z" fill="#3aa6e3" stroke="#3aa6e3"/>
<path d="M415.8 387.8l2.3 2-.7 2.6-2.3-2z" fill="#82c089" stroke="#82c089"/>
<path d="M411.3 393.6l2.3 2.1-.8 2.6-2.2-2.1z" fill="#51c4e2" stroke="#51c4e2"/>
<path d="M406.8 399.2l2.2 2.2-.7 2.6-2.3-2.3z" fill="#3a79c8" stroke="#3a79c8"/>
<path d="M415.1 390.4l2.3 2-.8 2.7-2.3-2z" fill="#77c2b0" stroke="#77c2b0"/>
<path d="M410.6 396.2l2.2 2.1-.7 2.7-2.3-2.2z" fill="#39b5ea" stroke="#39b5ea"/>
<path d="M406 401.7l2.3 2.3-.8 2.6-2.2-2.3z" fill="#3a5eb4" stroke="#3a5eb4"/>
<path d="M414.3 393.1l2.3 2-.7 2.7-2.3-2.1z" fill="#64c5d5" stroke="#64c5d5"/>
<path d="M409.8 398.8l2.3 2.2-.8 2.6-2.3-2.2z" fill="#3b86d1" stroke="#3b86d1"/>
<path d="M413.6 395.7l2.3 2.1-.8 2.7-2.3-2.2z" fill="#3cbfed" stroke="#3cbfed"/>
<path d="M409 401.4l2.3 2.2-.7 2.7-2.3-2.3z" fill="#3a64b9" stroke="#3a64b9"/>
<path d="M412.8 398.3l2.3 2.2-.7 2.7-2.3-2.2z" fill="#3b97db" stroke="#3b97db"/>
<path d="M408.3 404l2.3 2.3-.8 2.6-2.3-2.3z" fill="#3a51aa" stroke="#3a51aa"/>
<path d="M412.1 401l2.3 2.2-.8 2.6-2.3-2.2z" fill="#3a6bbe" stroke="#3a6bbe"/>
<path d="M411.3 403.6l2.3 2.2-.7 2.7-2.3-2.2z" fill="#3a55ad" stroke="#3a55ad"/>
<path d="M410.6 406.3l2.3 2.2-.8 2.7-2.3-2.3z" fill="#394ba4" stroke="#394ba4"/>
<path d="M412 371.8l3.1 2.4 3 2.4 3 2.5-3 10.7-3 10.7-3 10.7-3-3.1-3.1-3-3-3.1 3-10.1 3-10z" class="ms"/>
<circle cx="412" cy="371.8" r="0.75"/>
<circle cx="403" cy="402" r="0.75"/>
<path d="M430.2 376.4l4.5 1.9-4.5 1.6-4.6-2.2z" fill="#ede01f" stroke="#ede01f"/>
<path d="M434.7 378.3l4.6 2-4.5 1.8-4.6-2.2z" fill="#f8d01a" stroke="#f8d01a"/>
<path d="M425.6 377.7l4.6 2.2-4.5 1.6-4.6-2.4z" fill="#f8d01a" stroke="#f8d01a"/>
<path d="M430.2 379.9l4.6 2.2-4.6 1.9-4.5-2.5z" fill="#fab81b" stroke="#fab81b"/>
<path d="M430.2 376.4l3 1.3 3 1.3 3.1 1.3-3 1.2-3 1.3-3.1 1.2-3-1.6-3-1.7-3.1-1.6 3-.9 3.1-.9z" class="ms"/>
<circle cx="430.2" cy="376.4" r="0.75"/>
<path d="M448.3 377.6l4.6 6.3-2.3 .6-4.5-6.2z" fill="#c2d13d" stroke="#c2d13d"/>
<path d="M446.1 378.3l4.5 6.2-2.2 .7-4.6-6.3z" fill="#d8d830" stroke="#d8d830"/>
<path d="M452.9 383.9l4.5 6.4-2.2 .5-4.6-6.3z" fill="#d4d733" stroke="#d4d733"/>
<path d="M443.8 378.9l4.6 6.3-2.3 .6-4.6-6.2z" fill="#ede01f" stroke="#ede01f"/>
<path d="M450.6 384.5l4.6 6.3-2.3 .6-4.5-6.2z" fill="#e6dd25" stroke="#e6dd25"/>
<path d="M441.5 379.6l4.6 6.2-2.3 .6-4.5-6.1z" fill="#f7d41a" stroke="#f7d41a"/>
<path d="M448.4 385.2l4.5 6.2-2.2 .5-4.6-6.1z" fill="#f5dd1a" stroke="#f5dd1a"/>
<path d="M446.1 385.8l4.6 6.1-2.3 .6-4.6-6.1z" fill="#faca1a" stroke="#faca1a"/>
<path d="M448.3 377.6l3.1 4.2 3 4.2 3 4.3-3 .7-3 .8-3 .7-3-4.1-3.1-4.1-3-4 3-.9 3-.9z" class="ms"/>
<circle cx="448.3" cy="377.6" r="0.75"/>
<circle cx="457.4" cy="390.3" r="0.75"/>
<path d="M421.1 379.1l4.6 2.4-.8 2.7-4.5-2.5z" fill="#f7d61a" stroke="#f7d61a"/>
<path d="M420.4 381.7l4.5 2.5-.7 2.6-4.6-2.4z" fill="#dad92e" stroke="#dad92e"/>
<path d="M419.6 384.4l4.6 2.4-.8 2.6-4.5-2.3z" fill="#b1cc43" stroke="#b1cc43"/>
<path d="M418.9 387.1l4.5 2.3-.7 2.7-4.6-2.3z" fill="#91c361" stroke="#91c361"/>
<path d="M418.1 389.8l4.6 2.3-.8 2.6-4.5-2.3z" fill="#81c08c" stroke="#81c08c"/>
<path d="M417.4 392.4l4.5 2.3-.7 2.6-4.6-2.2z" fill="#76c2b4" stroke="#76c2b4"/>
<path d="M425.7 381.5l4.5 2.5-.7 2.6-4.6-2.4z" fill="#fbc11a" stroke="#fbc11a"/>
<path d="M416.6 395.1l4.6 2.2-.8 2.7-4.5-2.2z" fill="#5ec5da" stroke="#5ec5da"/>
<path d="M424.9 384.2l4.6 2.4-.8 2.6-4.5-2.4z" fill="#eee01f" stroke="#eee01f"/>
<path d="M415.9 397.8l4.5 2.2-.7 2.6-4.6-2.1z" fill="#3bbbec" stroke="#3bbbec"/>
<path d="M424.2 386.8l4.5 2.4-.7 2.6-4.6-2.4z" fill="#c5d23c" stroke="#c5d23c"/>
<path d="M415.1 400.5l4.6 2.1-.8 2.6-4.5-2z" fill="#3b8cd5" stroke="#3b8cd5"/>
<path d="M423.4 389.4l4.6 2.4-.8 2.6-4.5-2.3z" fill="#9ac54f" stroke="#9ac54f"/>
<path d="M414.4 403.2l4.5 2-.7 2.6-4.6-2z" fill="#3a65b9" stroke="#3a65b9"/>
<path d="M422.7 392.1l4.5 2.3-.7 2.5-4.6-2.2z" fill="#85c07d" stroke="#85c07d"/>
<path d="M413.6 405.8l4.6 2-.8 2.7-4.5-2z" fill="#3a51aa" stroke="#3a51aa"/>
<path d="M421.9 394.7l4.6 2.2-.8 2.6-4.5-2.2z" fill="#7ac1a7" stroke="#7ac1a7"/>
<path d="M412.9 408.5l4.5 2-.7 2.6-4.6-1.9z" fill="#3948a2" stroke="#3948a2"/>
<path d="M421.2 397.3l4.5 2.2-.7 2.6-4.6-2.1z" fill="#6bc5d1" stroke="#6bc5d1"/>
<path d="M420.4 400l4.6 2.1-.8 2.6-4.5-2.1z" fill="#3dc1ee" stroke="#3dc1ee"/>
<path d="M419.7 402.6l4.5 2.1-.7 2.6-4.6-2.1z" fill="#3b95da" stroke="#3b95da"/>
<path d="M418.9 405.2l4.6 2.1-.8 2.5-4.5-2z" fill="#3a68bc" stroke="#3a68bc"/>
<path d="M418.2 407.8l4.5 2-.7 2.6-4.6-1.9z" fill="#3a52aa" stroke="#3a52aa"/>
<path d="M417.4 410.5l4.6 1.9-.8 2.6-4.5-1.9z" fill="#3948a2" stroke="#3948a2"/>
<path d="M421.1 379.1l3.1 1.6 3 1.7 3 1.6-3 10.4-3 10.3-3 10.3-3-1.3-3.1-1.2-3-1.3 3-10.7 3-10.7z" class="ms"/>
<circle cx="421.1" cy="379.1" r="0.75"/>
<circle cx="412.1" cy="411.2" r="0.75"/>
<path d="M439.3 380.3l4.5 6.1-3 .9-4.5-5.8z" fill="#fbc11a" stroke="#fbc11a"/>
<path d="M436.3 381.5l4.5 5.8-3 .8-4.5-5.3z" fill="#f9ae1c" stroke="#f9ae1c"/>
<path d="M443.8 386.4l4.6 6.1-3 .5-4.6-5.7z" fill="#f9b41b" stroke="#f9b41b"/>
<path d="M433.3 382.8l4.5 5.3-3 .9-4.6-5z" fill="#f79b1d" stroke="#f79b1d"/>
<path d="M440.8 387.3l4.6 5.7-3 .5-4.6-5.4z" fill="#f79b1d" stroke="#f79b1d"/>
<path d="M437.8 388.1l4.6 5.4-3 .5-4.6-5z" fill="#f58120" stroke="#f58120"/>
<path d="M439.3 380.3l3 4 3.1 4.1 3 4.1-3 .5-3 .5-3 .5-3.1-3.3-3-3.3-3.1-3.4 3.1-1.2 3-1.3z" class="ms"/>
<circle cx="439.3" cy="380.3" r="0.75"/>
<circle cx="448.4" cy="392.5" r="0.75"/>
<path d="M430.2 384l3.1 3.4-.8 2.5-3-3.3z" fill="#f9ac1c" stroke="#f9ac1c"/>
<path d="M429.5 386.6l3 3.3-.7 2.5-3.1-3.2z" fill="#f7d51a" stroke="#f7d51a"/>
<path d="M428.7 389.2l3.1 3.2-.8 2.6-3-3.2z" fill="#d8d830" stroke="#d8d830"/>
<path d="M428 391.8l3 3.2-.7 2.5-3.1-3.1z" fill="#abcb45" stroke="#abcb45"/>
<path d="M433.3 387.4l3 3.3-.7 2.5-3.1-3.3z" fill="#f7991d" stroke="#f7991d"/>
<path d="M427.2 394.4l3.1 3.1-.8 2.6-3-3.2z" fill="#8dc26a" stroke="#8dc26a"/>
<path d="M432.5 389.9l3.1 3.3-.8 2.5-3-3.3z" fill="#fbc41a" stroke="#fbc41a"/>
<path d="M426.5 396.9l3 3.2-.7 2.5-3.1-3.1z" fill="#7fc197" stroke="#7fc197"/>
<path d="M425.7 399.5l3.1 3.1-.8 2.6-3-3.1z" fill="#71c4c1" stroke="#71c4c1"/>
<path d="M431.8 392.4l3 3.3-.7 2.5-3.1-3.2z" fill="#ebdf21" stroke="#ebdf21"/>
<path d="M431 395l3.1 3.2-.8 2.5-3-3.2z" fill="#c1d13e" stroke="#c1d13e"/>
<path d="M425 402.1l3 3.1-.7 2.5-3.1-3z" fill="#4ac4e7" stroke="#4ac4e7"/>
<path d="M436.3 390.7l3.1 3.3-.8 2.5-3-3.3z" fill="#f58620" stroke="#f58620"/>
<path d="M430.3 397.5l3 3.2-.7 2.6-3.1-3.2z" fill="#97c554" stroke="#97c554"/>
<path d="M424.2 404.7l3.1 3-.8 2.6-3-3z" fill="#3aa6e3" stroke="#3aa6e3"/>
<path d="M423.5 407.3l3 3-.7 2.5-3.1-3z" fill="#3a71c3" stroke="#3a71c3"/>
<path d="M435.6 393.2l3 3.3-.7 2.5-3.1-3.3z" fill="#f9b11c" stroke="#f9b11c"/>
<path d="M429.5 400.1l3.1 3.2-.8 2.5-3-3.2z" fill="#84c083" stroke="#84c083"/>
<path d="M428.8 402.6l3 3.2-.7 2.5-3.1-3.1z" fill="#78c2ad" stroke="#78c2ad"/>
<path d="M422.7 409.8l3.1 3-.8 2.6-3-3z" fill="#3a57ae" stroke="#3a57ae"/>
<path d="M434.8 395.7l3.1 3.3-.8 2.4-3-3.2z" fill="#f6d91a" stroke="#f6d91a"/>
<path d="M434.1 398.2l3 3.2-.7 2.5-3.1-3.2z" fill="#d5d732" stroke="#d5d732"/>
<path d="M428 405.2l3.1 3.1-.8 2.5-3-3.1z" fill="#63c5d6" stroke="#63c5d6"/>
<path d="M422 412.4l3 3-.7 2.5-3.1-2.9z" fill="#394ba4" stroke="#394ba4"/>
<path d="M433.3 400.7l3.1 3.2-.8 2.5-3-3.1z" fill="#a8ca46" stroke="#a8ca46"/>
<path d="M427.3 407.7l3 3.1-.7 2.5-3.1-3z" fill="#3bbcec" stroke="#3bbcec"/>
<path d="M426.5 410.3l3.1 3-.8 2.5-3-3z" fill="#3b8bd5" stroke="#3b8bd5"/>
<path d="M432.6 403.3l3 3.1-.7 2.5-3.1-3.1z" fill="#8cc26d" stroke="#8cc26d"/>
<path d="M431.8 405.8l3.1 3.1-.8 2.5-3-3.1z" fill="#7ec199" stroke="#7ec199"/>
<path d="M425.8 412.8l3 3-.7 2.6-3.1-3z" fill="#3a63b8" stroke="#3a63b8"/>
<path d="M431.1 408.3l3 3.1-.8 2.5-3-3.1z" fill="#71c4c3" stroke="#71c4c3"/>
<path d="M425 415.4l3.1 3-.8 2.5-3-3z" fill="#3a50a8" stroke="#3a50a8"/>
<path d="M430.3 410.8l3 3.1-.7 2.5-3-3.1z" fill="#49c4e8" stroke="#49c4e8"/>
<path d="M429.6 413.3l3 3.1-.8 2.4-3-3z" fill="#3aa6e3" stroke="#3aa6e3"/>
<path d="M428.8 415.8l3 3-.7 2.5-3-2.9z" fill="#3a71c3" stroke="#3a71c3"/>
<path d="M428.1 418.4l3 2.9-.8 2.5-3-2.9z" fill="#3a58af" stroke="#3a58af"/>
<path d="M430.2 384l3.1 3.4 3 3.3 3.1 3.3-3 9.9-3.1 10-3 9.9-3-2.9-3-3-3.1-2.9 3-10.3 3-10.3z" class="ms"/>
<circle cx="430.2" cy="384" r="0.75"/>
<circle cx="439.4" cy="394" r="0.75"/>
<circle cx="421.2" cy="415" r="0.75"/>
<circle cx="430.3" cy="423.8" r="0.75"/>
</g>
<line x1="375.6" y1="403.2" x2="377.1" y2="402.4" stroke="#888" stroke-width="0.6"/>
<text x="373" y="404.5" font-size="7.8" text-anchor="end" textLength="3.6" lengthAdjust="spacingAndGlyphs">0</text>
<line x1="375.6" y1="385.9" x2="377.1" y2="385.1" stroke="#888" stroke-width="0.6"/>
<text x="373" y="387.2" font-size="7.8" text-anchor="end" textLength="7.2" lengthAdjust="spacingAndGlyphs">50</text>
<line x1="375.6" y1="368.7" x2="377.1" y2="367.9" stroke="#888" stroke-width="0.6"/>
<text x="373" y="370" font-size="7.8" text-anchor="end" textLength="10.8" lengthAdjust="spacingAndGlyphs">100</text>
<text x="368.3" y="409.5" font-size="7.2" text-anchor="end" textLength="3.4" lengthAdjust="spacingAndGlyphs">0</text>
<text x="380.4" y="414.4" font-size="7.2" text-anchor="end" textLength="11.8" lengthAdjust="spacingAndGlyphs">0.04</text>
<text x="390" y="420.4" font-size="7.2" text-anchor="end" textLength="15.2" lengthAdjust="spacingAndGlyphs">0.123</text>
<text x="397.7" y="426.5" font-size="7.2" text-anchor="end" textLength="11.8" lengthAdjust="spacingAndGlyphs">0.37</text>
<text x="409" y="432.5" font-size="7.2" text-anchor="end" textLength="15.2" lengthAdjust="spacingAndGlyphs">1.111</text>
<text x="418.5" y="438.2" font-size="7.2" text-anchor="end" textLength="15.2" lengthAdjust="spacingAndGlyphs">3.333</text>
<text x="426.3" y="441.2" font-size="7.2" text-anchor="end" textLength="6.8" lengthAdjust="spacingAndGlyphs">10</text>
<text x="433.4" y="439.6" font-size="7.2" textLength="10.2" lengthAdjust="spacingAndGlyphs">100</text>
<text x="443.3" y="434.2" font-size="7.2" textLength="6.8" lengthAdjust="spacingAndGlyphs">33</text>
<text x="452.2" y="429.7" font-size="7.2" textLength="6.8" lengthAdjust="spacingAndGlyphs">11</text>
<text x="460.4" y="424.9" font-size="7.2" textLength="8.4" lengthAdjust="spacingAndGlyphs">3.7</text>
<text x="469.4" y="420.2" font-size="7.2" textLength="8.4" lengthAdjust="spacingAndGlyphs">1.2</text>
<text x="478.4" y="415" font-size="7.2" textLength="8.4" lengthAdjust="spacingAndGlyphs">0.4</text>
<text x="487.6" y="411.1" font-size="7.2" textLength="3.4" lengthAdjust="spacingAndGlyphs">0</text>
<text x="358.8" y="444.4" font-size="8" textLength="43.2" lengthAdjust="spacingAndGlyphs">SHP099 [µM]</text>
<text x="451" y="444.8" font-size="8" textLength="48.5" lengthAdjust="spacingAndGlyphs">Crizotinib [nM]</text>
<text x="357.9" y="381.8" font-size="10.2" text-anchor="middle" textLength="31.5" lengthAdjust="spacingAndGlyphs" transform="rotate(-90 357.9 381.8)">% Control</text>
<rect x="497.4" y="331" width="8.2" height="101.6" fill="url(#cm)"/>
<text x="512.8" y="357" font-size="7.6" text-anchor="middle" textLength="27.4" lengthAdjust="spacingAndGlyphs" transform="rotate(-90 512.8 357)">Synergy</text>
<text x="512.8" y="402.6" font-size="7.6" text-anchor="middle" textLength="41" lengthAdjust="spacingAndGlyphs" transform="rotate(-90 512.8 402.6)">Antagonism</text>
<g>
<rect x="31.4" y="179" width="19" height="15.7" fill="#94cb69"/>
<rect x="50.3" y="179" width="19" height="15.7" fill="#94cb69"/>
<rect x="69.2" y="179" width="19" height="15.7" fill="#94cb69"/>
<rect x="88.2" y="179" width="19" height="15.7" fill="#94cb69"/>
<rect x="107.1" y="179" width="19" height="15.7" fill="#94cb69"/>
<rect x="126" y="179" width="19" height="15.7" fill="#94cb69"/>
<rect x="31.4" y="194.6" width="19" height="15.7" fill="#94cb69"/>
<rect x="50.3" y="194.6" width="19" height="15.7" fill="#94cb69"/>
<rect x="69.2" y="194.6" width="19" height="15.7" fill="#94cb69"/>
<rect x="88.2" y="194.6" width="19" height="15.7" fill="#94cb69"/>
<rect x="107.1" y="194.6" width="19" height="15.7" fill="#94cb69"/>
<rect x="126" y="194.6" width="19" height="15.7" fill="#94cb69"/>
<rect x="31.4" y="210.2" width="19" height="15.7" fill="#94cb69"/>
<rect x="50.3" y="210.2" width="19" height="15.7" fill="#94cb69"/>
<rect x="69.2" y="210.2" width="19" height="15.7" fill="#94cb69"/>
<rect x="88.2" y="210.2" width="19" height="15.7" fill="#94cb69"/>
<rect x="107.1" y="210.2" width="19" height="15.7" fill="#94cb69"/>
<rect x="126" y="210.2" width="19" height="15.7" fill="#5ccaee"/>
<rect x="31.4" y="225.8" width="19" height="15.7" fill="#94cb69"/>
<rect x="50.3" y="225.8" width="19" height="15.7" fill="#94cb69"/>
<rect x="69.2" y="225.8" width="19" height="15.7" fill="#70c8c0"/>
<rect x="88.2" y="225.8" width="19" height="15.7" fill="#5ccaee"/>
<rect x="107.1" y="225.8" width="19" height="15.7" fill="#3a55b0"/>
<rect x="126" y="225.8" width="19" height="15.7" fill="#3a55b0"/>
<rect x="31.4" y="241.4" width="19" height="15.7" fill="#94cb69"/>
<rect x="50.3" y="241.4" width="19" height="15.7" fill="#94cb69"/>
<rect x="69.2" y="241.4" width="19" height="15.7" fill="#94cb69"/>
<rect x="88.2" y="241.4" width="19" height="15.7" fill="#7fc9a8"/>
<rect x="107.1" y="241.4" width="19" height="15.7" fill="#7fc9a8"/>
<rect x="126" y="241.4" width="19" height="15.7" fill="#7fc9a8"/>
<rect x="31.4" y="257" width="19" height="15.7" fill="#94cb69"/>
<rect x="50.3" y="257" width="19" height="15.7" fill="#94cb69"/>
<rect x="69.2" y="257" width="19" height="15.7" fill="#94cb69"/>
<rect x="88.2" y="257" width="19" height="15.7" fill="#94cb69"/>
<rect x="107.1" y="257" width="19" height="15.7" fill="#94cb69"/>
<rect x="126" y="257" width="19" height="15.7" fill="#94cb69"/>
<line x1="50.3" y1="179" x2="50.3" y2="272.6" class="gl"/>
<line x1="69.2" y1="179" x2="69.2" y2="272.6" class="gl"/>
<line x1="88.2" y1="179" x2="88.2" y2="272.6" class="gl"/>
<line x1="107.1" y1="179" x2="107.1" y2="272.6" class="gl"/>
<line x1="126" y1="179" x2="126" y2="272.6" class="gl"/>
<line x1="31.4" y1="194.6" x2="144.9" y2="194.6" class="gl"/>
<line x1="31.4" y1="210.2" x2="144.9" y2="210.2" class="gl"/>
<line x1="31.4" y1="225.8" x2="144.9" y2="225.8" class="gl"/>
<line x1="31.4" y1="241.4" x2="144.9" y2="241.4" class="gl"/>
<line x1="31.4" y1="257" x2="144.9" y2="257" class="gl"/>
<rect x="31.7" y="179.3" width="112.9" height="93" fill="none" class="gl" style="stroke-width:.7"/>
<text x="35.4" y="186.7" font-size="5.6" fill="#4189c8" textLength="5.5" lengthAdjust="spacingAndGlyphs" stroke="#4189c8" stroke-width="0.25">-7</text>
<text x="35.8" y="190.7" font-size="2.9" fill="#4189c8" textLength="6" lengthAdjust="spacingAndGlyphs" opacity="0.8">+/-9</text>
<text x="54.3" y="186.7" font-size="5.6" fill="#4189c8" textLength="2.8" lengthAdjust="spacingAndGlyphs" stroke="#4189c8" stroke-width="0.25">4</text>
<text x="54.7" y="190.7" font-size="2.9" fill="#4189c8" textLength="6" lengthAdjust="spacingAndGlyphs" opacity="0.8">+/-20</text>
<text x="73.2" y="186.7" font-size="5.6" fill="#4189c8" textLength="2.8" lengthAdjust="spacingAndGlyphs" stroke="#4189c8" stroke-width="0.25">0</text>
<text x="73.6" y="190.7" font-size="2.9" fill="#4189c8" textLength="6" lengthAdjust="spacingAndGlyphs" opacity="0.8">+/-19</text>
<text x="92.2" y="186.7" font-size="5.6" fill="#4189c8" textLength="2.8" lengthAdjust="spacingAndGlyphs" stroke="#4189c8" stroke-width="0.25">4</text>
<text x="92.6" y="190.7" font-size="2.9" fill="#4189c8" textLength="6" lengthAdjust="spacingAndGlyphs" opacity="0.8">+/-6</text>
<text x="111.1" y="186.7" font-size="5.6" fill="#4189c8" textLength="2.8" lengthAdjust="spacingAndGlyphs" stroke="#4189c8" stroke-width="0.25">3</text>
<text x="111.5" y="190.7" font-size="2.9" fill="#4189c8" textLength="6" lengthAdjust="spacingAndGlyphs" opacity="0.8">+/-13</text>
<text x="130" y="186.7" font-size="5.6" fill="#4189c8" textLength="2.8" lengthAdjust="spacingAndGlyphs" stroke="#4189c8" stroke-width="0.25">4</text>
<text x="130.4" y="190.7" font-size="2.9" fill="#4189c8" textLength="6" lengthAdjust="spacingAndGlyphs" opacity="0.8">+/-21</text>
<text x="35.4" y="202.3" font-size="5.6" fill="#4189c8" textLength="5.5" lengthAdjust="spacingAndGlyphs" stroke="#4189c8" stroke-width="0.25">-5</text>
<text x="35.8" y="206.3" font-size="2.9" fill="#4189c8" textLength="6" lengthAdjust="spacingAndGlyphs" opacity="0.8">+/-17</text>
<text x="54.3" y="202.3" font-size="5.6" fill="#4189c8" textLength="5.5" lengthAdjust="spacingAndGlyphs" stroke="#4189c8" stroke-width="0.25">-1</text>
<text x="54.7" y="206.3" font-size="2.9" fill="#4189c8" textLength="6" lengthAdjust="spacingAndGlyphs" opacity="0.8">+/-22</text>
<text x="73.2" y="202.3" font-size="5.6" fill="#4189c8" textLength="5.5" lengthAdjust="spacingAndGlyphs" stroke="#4189c8" stroke-width="0.25">-2</text>
<text x="73.6" y="206.3" font-size="2.9" fill="#4189c8" textLength="6" lengthAdjust="spacingAndGlyphs" opacity="0.8">+/-20</text>
<text x="92.2" y="202.3" font-size="5.6" fill="#4189c8" textLength="2.8" lengthAdjust="spacingAndGlyphs" stroke="#4189c8" stroke-width="0.25">0</text>
<text x="92.6" y="206.3" font-size="2.9" fill="#4189c8" textLength="6" lengthAdjust="spacingAndGlyphs" opacity="0.8">+/-4</text>
<text x="111.1" y="202.3" font-size="5.6" fill="#4189c8" textLength="2.8" lengthAdjust="spacingAndGlyphs" stroke="#4189c8" stroke-width="0.25">4</text>
<text x="111.5" y="206.3" font-size="2.9" fill="#4189c8" textLength="6" lengthAdjust="spacingAndGlyphs" opacity="0.8">+/-21</text>
<text x="130" y="202.3" font-size="5.6" fill="#4189c8" textLength="2.8" lengthAdjust="spacingAndGlyphs" stroke="#4189c8" stroke-width="0.25">4</text>
<text x="130.4" y="206.3" font-size="2.9" fill="#4189c8" textLength="6" lengthAdjust="spacingAndGlyphs" opacity="0.8">+/-2</text>
<text x="35.4" y="217.9" font-size="5.6" fill="#4189c8" textLength="5.5" lengthAdjust="spacingAndGlyphs" stroke="#4189c8" stroke-width="0.25">-3</text>
<text x="35.8" y="221.9" font-size="2.9" fill="#4189c8" textLength="6" lengthAdjust="spacingAndGlyphs" opacity="0.8">+/-17</text>
<text x="54.3" y="217.9" font-size="5.6" fill="#4189c8" textLength="2.8" lengthAdjust="spacingAndGlyphs" stroke="#4189c8" stroke-width="0.25">0</text>
<text x="54.7" y="221.9" font-size="2.9" fill="#4189c8" textLength="6" lengthAdjust="spacingAndGlyphs" opacity="0.8">+/-10</text>
<text x="73.2" y="217.9" font-size="5.6" fill="#4189c8" textLength="5.5" lengthAdjust="spacingAndGlyphs" stroke="#4189c8" stroke-width="0.25">-2</text>
<text x="73.6" y="221.9" font-size="2.9" fill="#4189c8" textLength="6" lengthAdjust="spacingAndGlyphs" opacity="0.8">+/-19</text>
<text x="92.2" y="217.9" font-size="5.6" fill="#4189c8" textLength="2.8" lengthAdjust="spacingAndGlyphs" stroke="#4189c8" stroke-width="0.25">6</text>
<text x="92.6" y="221.9" font-size="2.9" fill="#4189c8" textLength="6" lengthAdjust="spacingAndGlyphs" opacity="0.8">+/-9</text>
<text x="111.1" y="217.9" font-size="5.6" fill="#4189c8" textLength="2.8" lengthAdjust="spacingAndGlyphs" stroke="#4189c8" stroke-width="0.25">9</text>
<text x="111.5" y="221.9" font-size="2.9" fill="#4189c8" textLength="6" lengthAdjust="spacingAndGlyphs" opacity="0.8">+/-8</text>
<text x="130" y="217.9" font-size="5.6" fill="#4189c8" textLength="5.5" lengthAdjust="spacingAndGlyphs" stroke="#4189c8" stroke-width="0.25">16</text>
<text x="135.4" y="226.7" font-size="4.6" text-anchor="middle" fill="#4189c8">*</text>
<text x="130.4" y="221.9" font-size="2.9" fill="#4189c8" textLength="6" lengthAdjust="spacingAndGlyphs" opacity="0.8">+/-24</text>
<text x="35.4" y="233.5" font-size="5.6" fill="#4189c8" textLength="2.8" lengthAdjust="spacingAndGlyphs" stroke="#4189c8" stroke-width="0.25">0</text>
<text x="35.8" y="237.5" font-size="2.9" fill="#4189c8" textLength="6" lengthAdjust="spacingAndGlyphs" opacity="0.8">+/-17</text>
<text x="54.3" y="233.5" font-size="5.6" fill="#4189c8" textLength="2.8" lengthAdjust="spacingAndGlyphs" stroke="#4189c8" stroke-width="0.25">6</text>
<text x="54.7" y="237.5" font-size="2.9" fill="#4189c8" textLength="6" lengthAdjust="spacingAndGlyphs" opacity="0.8">+/-19</text>
<text x="73.2" y="233.5" font-size="5.6" fill="#4189c8" textLength="5.5" lengthAdjust="spacingAndGlyphs" stroke="#4189c8" stroke-width="0.25">10</text>
<text x="78.7" y="242.3" font-size="4.6" text-anchor="middle" fill="#4189c8">*</text>
<text x="73.6" y="237.5" font-size="2.9" fill="#4189c8" textLength="6" lengthAdjust="spacingAndGlyphs" opacity="0.8">+/-19</text>
<text x="92.2" y="233.5" font-size="5.6" fill="#4189c8" textLength="5.5" lengthAdjust="spacingAndGlyphs" stroke="#4189c8" stroke-width="0.25">17</text>
<text x="97.6" y="242.3" font-size="4.6" text-anchor="middle" fill="#4189c8">*</text>
<text x="92.6" y="237.5" font-size="2.9" fill="#4189c8" textLength="6" lengthAdjust="spacingAndGlyphs" opacity="0.8">+/-17</text>
<text x="111.1" y="233.5" font-size="5.6" fill="#5a70c0" textLength="5.5" lengthAdjust="spacingAndGlyphs" stroke="#5a70c0" stroke-width="0.25">30</text>
<text x="116.5" y="242.3" font-size="4.6" text-anchor="middle" fill="#5a70c0">**</text>
<text x="111.5" y="237.5" font-size="2.9" fill="#5a70c0" textLength="6" lengthAdjust="spacingAndGlyphs" opacity="0.8">+/-14</text>
<text x="130" y="233.5" font-size="5.6" fill="#5a70c0" textLength="5.5" lengthAdjust="spacingAndGlyphs" stroke="#5a70c0" stroke-width="0.25">32</text>
<text x="135.4" y="242.3" font-size="4.6" text-anchor="middle" fill="#5a70c0">**</text>
<text x="130.4" y="237.5" font-size="2.9" fill="#5a70c0" textLength="6" lengthAdjust="spacingAndGlyphs" opacity="0.8">+/-22</text>
<text x="35.4" y="249.1" font-size="5.6" fill="#4189c8" textLength="5.5" lengthAdjust="spacingAndGlyphs" stroke="#4189c8" stroke-width="0.25">-3</text>
<text x="35.8" y="253.1" font-size="2.9" fill="#4189c8" textLength="6" lengthAdjust="spacingAndGlyphs" opacity="0.8">+/-6</text>
<text x="54.3" y="249.1" font-size="5.6" fill="#4189c8" textLength="5.5" lengthAdjust="spacingAndGlyphs" stroke="#4189c8" stroke-width="0.25">-1</text>
<text x="54.7" y="253.1" font-size="2.9" fill="#4189c8" textLength="6" lengthAdjust="spacingAndGlyphs" opacity="0.8">+/-9</text>
<text x="73.2" y="249.1" font-size="5.6" fill="#4189c8" textLength="2.8" lengthAdjust="spacingAndGlyphs" stroke="#4189c8" stroke-width="0.25">1</text>
<text x="73.6" y="253.1" font-size="2.9" fill="#4189c8" textLength="6" lengthAdjust="spacingAndGlyphs" opacity="0.8">+/-22</text>
<text x="92.2" y="249.1" font-size="5.6" fill="#4189c8" textLength="2.8" lengthAdjust="spacingAndGlyphs" stroke="#4189c8" stroke-width="0.25">5</text>
<text x="97.6" y="257.9" font-size="4.6" text-anchor="middle" fill="#4189c8">*</text>
<text x="92.6" y="253.1" font-size="2.9" fill="#4189c8" textLength="6" lengthAdjust="spacingAndGlyphs" opacity="0.8">+/-6</text>
<text x="111.1" y="249.1" font-size="5.6" fill="#4189c8" textLength="2.8" lengthAdjust="spacingAndGlyphs" stroke="#4189c8" stroke-width="0.25">7</text>
<text x="116.5" y="257.9" font-size="4.6" text-anchor="middle" fill="#4189c8">*</text>
<text x="111.5" y="253.1" font-size="2.9" fill="#4189c8" textLength="6" lengthAdjust="spacingAndGlyphs" opacity="0.8">+/-18</text>
<text x="130" y="249.1" font-size="5.6" fill="#4189c8" textLength="2.8" lengthAdjust="spacingAndGlyphs" stroke="#4189c8" stroke-width="0.25">6</text>
<text x="135.4" y="257.9" font-size="4.6" text-anchor="middle" fill="#4189c8">*</text>
<text x="130.4" y="253.1" font-size="2.9" fill="#4189c8" textLength="6" lengthAdjust="spacingAndGlyphs" opacity="0.8">+/-14</text>
<text x="35.4" y="264.7" font-size="5.6" fill="#4189c8" textLength="2.8" lengthAdjust="spacingAndGlyphs" stroke="#4189c8" stroke-width="0.25">0</text>
<text x="35.8" y="268.7" font-size="2.9" fill="#4189c8" textLength="6" lengthAdjust="spacingAndGlyphs" opacity="0.8">+/-25</text>
<text x="54.3" y="264.7" font-size="5.6" fill="#4189c8" textLength="2.8" lengthAdjust="spacingAndGlyphs" stroke="#4189c8" stroke-width="0.25">0</text>
<text x="54.7" y="268.7" font-size="2.9" fill="#4189c8" textLength="6" lengthAdjust="spacingAndGlyphs" opacity="0.8">+/-2</text>
<text x="73.2" y="264.7" font-size="5.6" fill="#4189c8" textLength="2.8" lengthAdjust="spacingAndGlyphs" stroke="#4189c8" stroke-width="0.25">0</text>
<text x="73.6" y="268.7" font-size="2.9" fill="#4189c8" textLength="6" lengthAdjust="spacingAndGlyphs" opacity="0.8">+/-23</text>
<text x="92.2" y="264.7" font-size="5.6" fill="#4189c8" textLength="2.8" lengthAdjust="spacingAndGlyphs" stroke="#4189c8" stroke-width="0.25">0</text>
<text x="92.6" y="268.7" font-size="2.9" fill="#4189c8" textLength="6" lengthAdjust="spacingAndGlyphs" opacity="0.8">+/-4</text>
<text x="111.1" y="264.7" font-size="5.6" fill="#4189c8" textLength="2.8" lengthAdjust="spacingAndGlyphs" stroke="#4189c8" stroke-width="0.25">0</text>
<text x="111.5" y="268.7" font-size="2.9" fill="#4189c8" textLength="6" lengthAdjust="spacingAndGlyphs" opacity="0.8">+/-7</text>
<text x="130" y="264.7" font-size="5.6" fill="#4189c8" textLength="2.8" lengthAdjust="spacingAndGlyphs" stroke="#4189c8" stroke-width="0.25">0</text>
<text x="130.4" y="268.7" font-size="2.9" fill="#4189c8" textLength="6" lengthAdjust="spacingAndGlyphs" opacity="0.8">+/-20</text>
</g>
<text x="29.4" y="170.8" font-size="7.8" text-anchor="end" textLength="18.4" lengthAdjust="spacingAndGlyphs">N = 6</text>
<text x="89.6" y="167" font-size="7.6" text-anchor="middle" textLength="43.2" lengthAdjust="spacingAndGlyphs">SHP099 [µM]</text>
<text x="40.9" y="176.6" font-size="7.4" text-anchor="middle" textLength="11.6" lengthAdjust="spacingAndGlyphs">0.04</text>
<text x="59.8" y="176.6" font-size="7.4" text-anchor="middle" textLength="15.2" lengthAdjust="spacingAndGlyphs">0.123</text>
<text x="78.7" y="176.6" font-size="7.4" text-anchor="middle" textLength="11.8" lengthAdjust="spacingAndGlyphs">0.37</text>
<text x="97.6" y="176.6" font-size="7.4" text-anchor="middle" textLength="14.6" lengthAdjust="spacingAndGlyphs">1.111</text>
<text x="116.5" y="176.6" font-size="7.4" text-anchor="middle" textLength="15" lengthAdjust="spacingAndGlyphs">3.333</text>
<text x="135.4" y="176.6" font-size="7.4" text-anchor="middle" textLength="7.2" lengthAdjust="spacingAndGlyphs">10</text>
<text x="29.7" y="189.5" font-size="7.6" text-anchor="end" textLength="8" lengthAdjust="spacingAndGlyphs">0.4</text>
<text x="29.7" y="205.1" font-size="7.6" text-anchor="end" textLength="8" lengthAdjust="spacingAndGlyphs">1.2</text>
<text x="29.7" y="220.7" font-size="7.6" text-anchor="end" textLength="8" lengthAdjust="spacingAndGlyphs">3.7</text>
<text x="29.7" y="236.3" font-size="7.6" text-anchor="end" textLength="5.4" lengthAdjust="spacingAndGlyphs">11</text>
<text x="29.7" y="251.9" font-size="7.6" text-anchor="end" textLength="6.6" lengthAdjust="spacingAndGlyphs">33</text>
<text x="29.7" y="267.5" font-size="7.6" text-anchor="end" textLength="9.7" lengthAdjust="spacingAndGlyphs">100</text>
<text x="16.4" y="226" font-size="8.7" text-anchor="middle" textLength="50.5" lengthAdjust="spacingAndGlyphs" transform="rotate(-90 16.4 226)">Crizotinib [nM]</text>
<rect x="155" y="178.1" width="8.3" height="94.6" fill="url(#cm)"/>
<text x="170.5" y="200.8" font-size="7.6" text-anchor="middle" textLength="26.6" lengthAdjust="spacingAndGlyphs" transform="rotate(-90 170.5 200.8)">Synergy</text>
<text x="170.5" y="243.8" font-size="7.6" text-anchor="middle" textLength="40.5" lengthAdjust="spacingAndGlyphs" transform="rotate(-90 170.5 243.8)">Antagonism</text>
<g>
<rect x="204.9" y="179" width="18.5" height="15.7" fill="#94cb69"/>
<rect x="223.4" y="179" width="18.5" height="15.7" fill="#94cb69"/>
<rect x="241.9" y="179" width="18.5" height="15.7" fill="#94cb69"/>
<rect x="260.4" y="179" width="18.5" height="15.7" fill="#94cb69"/>
<rect x="278.9" y="179" width="18.5" height="15.7" fill="#94cb69"/>
<rect x="297.4" y="179" width="18.5" height="15.7" fill="#94cb69"/>
<rect x="204.9" y="194.6" width="18.5" height="15.7" fill="#94cb69"/>
<rect x="223.4" y="194.6" width="18.5" height="15.7" fill="#94cb69"/>
<rect x="241.9" y="194.6" width="18.5" height="15.7" fill="#94cb69"/>
<rect x="260.4" y="194.6" width="18.5" height="15.7" fill="#94cb69"/>
<rect x="278.9" y="194.6" width="18.5" height="15.7" fill="#fbb022"/>
<rect x="297.4" y="194.6" width="18.5" height="15.7" fill="#94cb69"/>
<rect x="204.9" y="210.2" width="18.5" height="15.7" fill="#fdc414"/>
<rect x="223.4" y="210.2" width="18.5" height="15.7" fill="#fdc414"/>
<rect x="241.9" y="210.2" width="18.5" height="15.7" fill="#f26422"/>
<rect x="260.4" y="210.2" width="18.5" height="15.7" fill="#f7931e"/>
<rect x="278.9" y="210.2" width="18.5" height="15.7" fill="#e5262a"/>
<rect x="297.4" y="210.2" width="18.5" height="15.7" fill="#f7931e"/>
<rect x="204.9" y="225.8" width="18.5" height="15.7" fill="#b8202a"/>
<rect x="223.4" y="225.8" width="18.5" height="15.7" fill="#b8202a"/>
<rect x="241.9" y="225.8" width="18.5" height="15.7" fill="#9a1b1f"/>
<rect x="260.4" y="225.8" width="18.5" height="15.7" fill="#9a1b1f"/>
<rect x="278.9" y="225.8" width="18.5" height="15.7" fill="#9a1b1f"/>
<rect x="297.4" y="225.8" width="18.5" height="15.7" fill="#b8202a"/>
<rect x="204.9" y="241.4" width="18.5" height="15.7" fill="#7e1517"/>
<rect x="223.4" y="241.4" width="18.5" height="15.7" fill="#7e1517"/>
<rect x="241.9" y="241.4" width="18.5" height="15.7" fill="#7e1517"/>
<rect x="260.4" y="241.4" width="18.5" height="15.7" fill="#7e1517"/>
<rect x="278.9" y="241.4" width="18.5" height="15.7" fill="#7e1517"/>
<rect x="297.4" y="241.4" width="18.5" height="15.7" fill="#f7931e"/>
<rect x="204.9" y="257" width="18.5" height="15.7" fill="#94cb69"/>
<rect x="223.4" y="257" width="18.5" height="15.7" fill="#5ccaee"/>
<rect x="241.9" y="257" width="18.5" height="15.7" fill="#3a82cf"/>
<rect x="260.4" y="257" width="18.5" height="15.7" fill="#3a55b0"/>
<rect x="278.9" y="257" width="18.5" height="15.7" fill="#3a55b0"/>
<rect x="297.4" y="257" width="18.5" height="15.7" fill="#2f4199"/>
<line x1="223.4" y1="179" x2="223.4" y2="272.6" class="gl"/>
<line x1="241.9" y1="179" x2="241.9" y2="272.6" class="gl"/>
<line x1="260.4" y1="179" x2="260.4" y2="272.6" class="gl"/>
<line x1="278.9" y1="179" x2="278.9" y2="272.6" class="gl"/>
<line x1="297.4" y1="179" x2="297.4" y2="272.6" class="gl"/>
<line x1="204.9" y1="194.6" x2="315.9" y2="194.6" class="gl"/>
<line x1="204.9" y1="210.2" x2="315.9" y2="210.2" class="gl"/>
<line x1="204.9" y1="225.8" x2="315.9" y2="225.8" class="gl"/>
<line x1="204.9" y1="241.4" x2="315.9" y2="241.4" class="gl"/>
<line x1="204.9" y1="257" x2="315.9" y2="257" class="gl"/>
<rect x="205.2" y="179.3" width="110.4" height="93" fill="none" class="gl" style="stroke-width:.7"/>
<text x="208.9" y="186.7" font-size="5.6" fill="#4189c8" textLength="5.5" lengthAdjust="spacingAndGlyphs" stroke="#4189c8" stroke-width="0.25">-5</text>
<text x="209.3" y="190.7" font-size="2.9" fill="#4189c8" textLength="6" lengthAdjust="spacingAndGlyphs" opacity="0.8">+/-3</text>
<text x="227.4" y="186.7" font-size="5.6" fill="#4189c8" textLength="2.8" lengthAdjust="spacingAndGlyphs" stroke="#4189c8" stroke-width="0.25">1</text>
<text x="227.8" y="190.7" font-size="2.9" fill="#4189c8" textLength="6" lengthAdjust="spacingAndGlyphs" opacity="0.8">+/-11</text>
<text x="245.9" y="186.7" font-size="5.6" fill="#4189c8" textLength="8.2" lengthAdjust="spacingAndGlyphs" stroke="#4189c8" stroke-width="0.25">-11</text>
<text x="246.3" y="190.7" font-size="2.9" fill="#4189c8" textLength="6" lengthAdjust="spacingAndGlyphs" opacity="0.8">+/-2</text>
<text x="264.4" y="186.7" font-size="5.6" fill="#4189c8" textLength="5.5" lengthAdjust="spacingAndGlyphs" stroke="#4189c8" stroke-width="0.25">-8</text>
<text x="264.8" y="190.7" font-size="2.9" fill="#4189c8" textLength="6" lengthAdjust="spacingAndGlyphs" opacity="0.8">+/-10</text>
<text x="282.9" y="186.7" font-size="5.6" fill="#4189c8" textLength="8.2" lengthAdjust="spacingAndGlyphs" stroke="#4189c8" stroke-width="0.25">-16</text>
<text x="283.3" y="190.7" font-size="2.9" fill="#4189c8" textLength="6" lengthAdjust="spacingAndGlyphs" opacity="0.8">+/-17</text>
<text x="301.4" y="186.7" font-size="5.6" fill="#4189c8" textLength="5.5" lengthAdjust="spacingAndGlyphs" stroke="#4189c8" stroke-width="0.25">-7</text>
<text x="301.8" y="190.7" font-size="2.9" fill="#4189c8" textLength="6" lengthAdjust="spacingAndGlyphs" opacity="0.8">+/-21</text>
<text x="208.9" y="202.3" font-size="5.6" fill="#4189c8" textLength="5.5" lengthAdjust="spacingAndGlyphs" stroke="#4189c8" stroke-width="0.25">-9</text>
<text x="209.3" y="206.3" font-size="2.9" fill="#4189c8" textLength="6" lengthAdjust="spacingAndGlyphs" opacity="0.8">+/-25</text>
<text x="227.4" y="202.3" font-size="5.6" fill="#4189c8" textLength="5.5" lengthAdjust="spacingAndGlyphs" stroke="#4189c8" stroke-width="0.25">-6</text>
<text x="227.8" y="206.3" font-size="2.9" fill="#4189c8" textLength="6" lengthAdjust="spacingAndGlyphs" opacity="0.8">+/-14</text>
<text x="245.9" y="202.3" font-size="5.6" fill="#4189c8" textLength="8.2" lengthAdjust="spacingAndGlyphs" stroke="#4189c8" stroke-width="0.25">-17</text>
<text x="246.3" y="206.3" font-size="2.9" fill="#4189c8" textLength="6" lengthAdjust="spacingAndGlyphs" opacity="0.8">+/-24</text>
<text x="264.4" y="202.3" font-size="5.6" fill="#4189c8" textLength="8.2" lengthAdjust="spacingAndGlyphs" stroke="#4189c8" stroke-width="0.25">-14</text>
<text x="264.8" y="206.3" font-size="2.9" fill="#4189c8" textLength="6" lengthAdjust="spacingAndGlyphs" opacity="0.8">+/-15</text>
<text x="282.9" y="202.3" font-size="5.6" fill="#4189c8" textLength="8.2" lengthAdjust="spacingAndGlyphs" stroke="#4189c8" stroke-width="0.25">-19</text>
<text x="288.1" y="211.1" font-size="4.6" text-anchor="middle" fill="#4189c8">*</text>
<text x="283.3" y="206.3" font-size="2.9" fill="#4189c8" textLength="6" lengthAdjust="spacingAndGlyphs" opacity="0.8">+/-14</text>
<text x="301.4" y="202.3" font-size="5.6" fill="#4189c8" textLength="8.2" lengthAdjust="spacingAndGlyphs" stroke="#4189c8" stroke-width="0.25">-10</text>
<text x="301.8" y="206.3" font-size="2.9" fill="#4189c8" textLength="6" lengthAdjust="spacingAndGlyphs" opacity="0.8">+/-25</text>
<text x="208.9" y="217.9" font-size="5.6" fill="#4189c8" textLength="8.2" lengthAdjust="spacingAndGlyphs" stroke="#4189c8" stroke-width="0.25">-17</text>
<text x="214.2" y="226.7" font-size="4.6" text-anchor="middle" fill="#4189c8">*</text>
<text x="209.3" y="221.9" font-size="2.9" fill="#4189c8" textLength="6" lengthAdjust="spacingAndGlyphs" opacity="0.8">+/-20</text>
<text x="227.4" y="217.9" font-size="5.6" fill="#4189c8" textLength="8.2" lengthAdjust="spacingAndGlyphs" stroke="#4189c8" stroke-width="0.25">-18</text>
<text x="232.7" y="226.7" font-size="4.6" text-anchor="middle" fill="#4189c8">*</text>
<text x="227.8" y="221.9" font-size="2.9" fill="#4189c8" textLength="6" lengthAdjust="spacingAndGlyphs" opacity="0.8">+/-16</text>
<text x="245.9" y="217.9" font-size="5.6" fill="#4189c8" textLength="8.2" lengthAdjust="spacingAndGlyphs" stroke="#4189c8" stroke-width="0.25">-29</text>
<text x="251.2" y="226.7" font-size="4.6" text-anchor="middle" fill="#4189c8">**</text>
<text x="246.3" y="221.9" font-size="2.9" fill="#4189c8" textLength="6" lengthAdjust="spacingAndGlyphs" opacity="0.8">+/-6</text>
<text x="264.4" y="217.9" font-size="5.6" fill="#4189c8" textLength="8.2" lengthAdjust="spacingAndGlyphs" stroke="#4189c8" stroke-width="0.25">-23</text>
<text x="269.6" y="226.7" font-size="4.6" text-anchor="middle" fill="#4189c8">*</text>
<text x="264.8" y="221.9" font-size="2.9" fill="#4189c8" textLength="6" lengthAdjust="spacingAndGlyphs" opacity="0.8">+/-13</text>
<text x="282.9" y="217.9" font-size="5.6" fill="#4189c8" textLength="8.2" lengthAdjust="spacingAndGlyphs" stroke="#4189c8" stroke-width="0.25">-40</text>
<text x="288.1" y="226.7" font-size="4.6" text-anchor="middle" fill="#4189c8">***</text>
<text x="283.3" y="221.9" font-size="2.9" fill="#4189c8" textLength="6" lengthAdjust="spacingAndGlyphs" opacity="0.8">+/-5</text>
<text x="301.4" y="217.9" font-size="5.6" fill="#4189c8" textLength="8.2" lengthAdjust="spacingAndGlyphs" stroke="#4189c8" stroke-width="0.25">-22</text>
<text x="306.6" y="226.7" font-size="4.6" text-anchor="middle" fill="#4189c8">*</text>
<text x="301.8" y="221.9" font-size="2.9" fill="#4189c8" textLength="6" lengthAdjust="spacingAndGlyphs" opacity="0.8">+/-3</text>
<text x="208.9" y="233.5" font-size="5.6" fill="#b07080" textLength="8.2" lengthAdjust="spacingAndGlyphs" stroke="#b07080" stroke-width="0.25">-44</text>
<text x="214.2" y="242.3" font-size="4.6" text-anchor="middle" fill="#b07080">***</text>
<text x="209.3" y="237.5" font-size="2.9" fill="#b07080" textLength="6" lengthAdjust="spacingAndGlyphs" opacity="0.8">+/-6</text>
<text x="227.4" y="233.5" font-size="5.6" fill="#b07080" textLength="8.2" lengthAdjust="spacingAndGlyphs" stroke="#b07080" stroke-width="0.25">-44</text>
<text x="232.7" y="242.3" font-size="4.6" text-anchor="middle" fill="#b07080">***</text>
<text x="227.8" y="237.5" font-size="2.9" fill="#b07080" textLength="6" lengthAdjust="spacingAndGlyphs" opacity="0.8">+/-17</text>
<text x="245.9" y="233.5" font-size="5.6" fill="#b07080" textLength="8.2" lengthAdjust="spacingAndGlyphs" stroke="#b07080" stroke-width="0.25">-51</text>
<text x="251.2" y="242.3" font-size="4.6" text-anchor="middle" fill="#b07080">***</text>
<text x="246.3" y="237.5" font-size="2.9" fill="#b07080" textLength="6" lengthAdjust="spacingAndGlyphs" opacity="0.8">+/-8</text>
<text x="264.4" y="233.5" font-size="5.6" fill="#b07080" textLength="8.2" lengthAdjust="spacingAndGlyphs" stroke="#b07080" stroke-width="0.25">-50</text>
<text x="269.6" y="242.3" font-size="4.6" text-anchor="middle" fill="#b07080">***</text>
<text x="264.8" y="237.5" font-size="2.9" fill="#b07080" textLength="6" lengthAdjust="spacingAndGlyphs" opacity="0.8">+/-10</text>
<text x="282.9" y="233.5" font-size="5.6" fill="#b07080" textLength="8.2" lengthAdjust="spacingAndGlyphs" stroke="#b07080" stroke-width="0.25">-57</text>
<text x="288.1" y="242.3" font-size="4.6" text-anchor="middle" fill="#b07080">***</text>
<text x="283.3" y="237.5" font-size="2.9" fill="#b07080" textLength="6" lengthAdjust="spacingAndGlyphs" opacity="0.8">+/-23</text>
<text x="301.4" y="233.5" font-size="5.6" fill="#b07080" textLength="8.2" lengthAdjust="spacingAndGlyphs" stroke="#b07080" stroke-width="0.25">-45</text>
<text x="306.6" y="242.3" font-size="4.6" text-anchor="middle" fill="#b07080">***</text>
<text x="301.8" y="237.5" font-size="2.9" fill="#b07080" textLength="6" lengthAdjust="spacingAndGlyphs" opacity="0.8">+/-15</text>
<text x="208.9" y="249.1" font-size="5.6" fill="#b07080" textLength="8.2" lengthAdjust="spacingAndGlyphs" stroke="#b07080" stroke-width="0.25">-75</text>
<text x="214.2" y="257.9" font-size="4.6" text-anchor="middle" fill="#b07080">***</text>
<text x="209.3" y="253.1" font-size="2.9" fill="#b07080" textLength="6" lengthAdjust="spacingAndGlyphs" opacity="0.8">+/-22</text>
<text x="227.4" y="249.1" font-size="5.6" fill="#b07080" textLength="8.2" lengthAdjust="spacingAndGlyphs" stroke="#b07080" stroke-width="0.25">-68</text>
<text x="232.7" y="257.9" font-size="4.6" text-anchor="middle" fill="#b07080">***</text>
<text x="227.8" y="253.1" font-size="2.9" fill="#b07080" textLength="6" lengthAdjust="spacingAndGlyphs" opacity="0.8">+/-11</text>
<text x="245.9" y="249.1" font-size="5.6" fill="#b07080" textLength="8.2" lengthAdjust="spacingAndGlyphs" stroke="#b07080" stroke-width="0.25">-79</text>
<text x="251.2" y="257.9" font-size="4.6" text-anchor="middle" fill="#b07080">***</text>
<text x="246.3" y="253.1" font-size="2.9" fill="#b07080" textLength="6" lengthAdjust="spacingAndGlyphs" opacity="0.8">+/-15</text>
<text x="264.4" y="249.1" font-size="5.6" fill="#b07080" textLength="8.2" lengthAdjust="spacingAndGlyphs" stroke="#b07080" stroke-width="0.25">-67</text>
<text x="269.6" y="257.9" font-size="4.6" text-anchor="middle" fill="#b07080">***</text>
<text x="264.8" y="253.1" font-size="2.9" fill="#b07080" textLength="6" lengthAdjust="spacingAndGlyphs" opacity="0.8">+/-18</text>
<text x="282.9" y="249.1" font-size="5.6" fill="#b07080" textLength="8.2" lengthAdjust="spacingAndGlyphs" stroke="#b07080" stroke-width="0.25">-63</text>
<text x="288.1" y="257.9" font-size="4.6" text-anchor="middle" fill="#b07080">***</text>
<text x="283.3" y="253.1" font-size="2.9" fill="#b07080" textLength="6" lengthAdjust="spacingAndGlyphs" opacity="0.8">+/-14</text>
<text x="301.4" y="249.1" font-size="5.6" fill="#4189c8" textLength="8.2" lengthAdjust="spacingAndGlyphs" stroke="#4189c8" stroke-width="0.25">-25</text>
<text x="306.6" y="257.9" font-size="4.6" text-anchor="middle" fill="#4189c8">**</text>
<text x="301.8" y="253.1" font-size="2.9" fill="#4189c8" textLength="6" lengthAdjust="spacingAndGlyphs" opacity="0.8">+/-20</text>
<text x="208.9" y="264.7" font-size="5.6" fill="#4189c8" textLength="2.8" lengthAdjust="spacingAndGlyphs" stroke="#4189c8" stroke-width="0.25">4</text>
<text x="209.3" y="268.7" font-size="2.9" fill="#4189c8" textLength="6" lengthAdjust="spacingAndGlyphs" opacity="0.8">+/-13</text>
<text x="227.4" y="264.7" font-size="5.6" fill="#4189c8" textLength="5.5" lengthAdjust="spacingAndGlyphs" stroke="#4189c8" stroke-width="0.25">15</text>
<text x="232.7" y="273.5" font-size="4.6" text-anchor="middle" fill="#4189c8">*</text>
<text x="227.8" y="268.7" font-size="2.9" fill="#4189c8" textLength="6" lengthAdjust="spacingAndGlyphs" opacity="0.8">+/-19</text>
<text x="245.9" y="264.7" font-size="5.6" fill="#5a9ee0" textLength="5.5" lengthAdjust="spacingAndGlyphs" stroke="#5a9ee0" stroke-width="0.25">29</text>
<text x="251.2" y="273.5" font-size="4.6" text-anchor="middle" fill="#5a9ee0">**</text>
<text x="246.3" y="268.7" font-size="2.9" fill="#5a9ee0" textLength="6" lengthAdjust="spacingAndGlyphs" opacity="0.8">+/-20</text>
<text x="264.4" y="264.7" font-size="5.6" fill="#5a70c0" textLength="5.5" lengthAdjust="spacingAndGlyphs" stroke="#5a70c0" stroke-width="0.25">41</text>
<text x="269.6" y="273.5" font-size="4.6" text-anchor="middle" fill="#5a70c0">***</text>
<text x="264.8" y="268.7" font-size="2.9" fill="#5a70c0" textLength="6" lengthAdjust="spacingAndGlyphs" opacity="0.8">+/-15</text>
<text x="282.9" y="264.7" font-size="5.6" fill="#5a70c0" textLength="5.5" lengthAdjust="spacingAndGlyphs" stroke="#5a70c0" stroke-width="0.25">47</text>
<text x="288.1" y="273.5" font-size="4.6" text-anchor="middle" fill="#5a70c0">***</text>
<text x="283.3" y="268.7" font-size="2.9" fill="#5a70c0" textLength="6" lengthAdjust="spacingAndGlyphs" opacity="0.8">+/-20</text>
<text x="301.4" y="264.7" font-size="5.6" fill="#5a70c0" textLength="5.5" lengthAdjust="spacingAndGlyphs" stroke="#5a70c0" stroke-width="0.25">54</text>
<text x="306.6" y="273.5" font-size="4.6" text-anchor="middle" fill="#5a70c0">***</text>
<text x="301.8" y="268.7" font-size="2.9" fill="#5a70c0" textLength="6" lengthAdjust="spacingAndGlyphs" opacity="0.8">+/-9</text>
</g>
<text x="202.9" y="170.8" font-size="7.8" text-anchor="end" textLength="18.4" lengthAdjust="spacingAndGlyphs">N = 6</text>
<text x="261.8" y="167" font-size="7.6" text-anchor="middle" textLength="43.2" lengthAdjust="spacingAndGlyphs">SHP099 [µM]</text>
<text x="214.2" y="176.6" font-size="7.4" text-anchor="middle" textLength="11.6" lengthAdjust="spacingAndGlyphs">0.04</text>
<text x="232.7" y="176.6" font-size="7.4" text-anchor="middle" textLength="15.2" lengthAdjust="spacingAndGlyphs">0.123</text>
<text x="251.2" y="176.6" font-size="7.4" text-anchor="middle" textLength="11.8" lengthAdjust="spacingAndGlyphs">0.37</text>
<text x="269.6" y="176.6" font-size="7.4" text-anchor="middle" textLength="14.6" lengthAdjust="spacingAndGlyphs">1.111</text>
<text x="288.1" y="176.6" font-size="7.4" text-anchor="middle" textLength="15" lengthAdjust="spacingAndGlyphs">3.333</text>
<text x="306.6" y="176.6" font-size="7.4" text-anchor="middle" textLength="7.2" lengthAdjust="spacingAndGlyphs">10</text>
<text x="203.2" y="189.5" font-size="7.6" text-anchor="end" textLength="8" lengthAdjust="spacingAndGlyphs">0.4</text>
<text x="203.2" y="205.1" font-size="7.6" text-anchor="end" textLength="8" lengthAdjust="spacingAndGlyphs">1.2</text>
<text x="203.2" y="220.7" font-size="7.6" text-anchor="end" textLength="8" lengthAdjust="spacingAndGlyphs">3.7</text>
<text x="203.2" y="236.3" font-size="7.6" text-anchor="end" textLength="5.4" lengthAdjust="spacingAndGlyphs">11</text>
<text x="203.2" y="251.9" font-size="7.6" text-anchor="end" textLength="6.6" lengthAdjust="spacingAndGlyphs">33</text>
<text x="203.2" y="267.5" font-size="7.6" text-anchor="end" textLength="9.7" lengthAdjust="spacingAndGlyphs">100</text>
<text x="189.9" y="226" font-size="8.7" text-anchor="middle" textLength="50.5" lengthAdjust="spacingAndGlyphs" transform="rotate(-90 189.9 226)">Crizotinib [nM]</text>
<rect x="327.6" y="178.1" width="8.3" height="94.6" fill="url(#cm)"/>
<text x="343.1" y="200.8" font-size="7.6" text-anchor="middle" textLength="26.6" lengthAdjust="spacingAndGlyphs" transform="rotate(-90 343.1 200.8)">Synergy</text>
<text x="343.1" y="243.8" font-size="7.6" text-anchor="middle" textLength="40.5" lengthAdjust="spacingAndGlyphs" transform="rotate(-90 343.1 243.8)">Antagonism</text>
<g>
<rect x="375.3" y="179.1" width="18.6" height="15.6" fill="#94cb69"/>
<rect x="393.8" y="179.1" width="18.6" height="15.6" fill="#94cb69"/>
<rect x="412.4" y="179.1" width="18.6" height="15.6" fill="#94cb69"/>
<rect x="430.9" y="179.1" width="18.6" height="15.6" fill="#94cb69"/>
<rect x="449.4" y="179.1" width="18.6" height="15.6" fill="#94cb69"/>
<rect x="468" y="179.1" width="18.6" height="15.6" fill="#94cb69"/>
<rect x="375.3" y="194.7" width="18.6" height="15.6" fill="#94cb69"/>
<rect x="393.8" y="194.7" width="18.6" height="15.6" fill="#94cb69"/>
<rect x="412.4" y="194.7" width="18.6" height="15.6" fill="#94cb69"/>
<rect x="430.9" y="194.7" width="18.6" height="15.6" fill="#94cb69"/>
<rect x="449.4" y="194.7" width="18.6" height="15.6" fill="#94cb69"/>
<rect x="468" y="194.7" width="18.6" height="15.6" fill="#94cb69"/>
<rect x="375.3" y="210.2" width="18.6" height="15.6" fill="#94cb69"/>
<rect x="393.8" y="210.2" width="18.6" height="15.6" fill="#94cb69"/>
<rect x="412.4" y="210.2" width="18.6" height="15.6" fill="#94cb69"/>
<rect x="430.9" y="210.2" width="18.6" height="15.6" fill="#94cb69"/>
<rect x="449.4" y="210.2" width="18.6" height="15.6" fill="#94cb69"/>
<rect x="468" y="210.2" width="18.6" height="15.6" fill="#94cb69"/>
<rect x="375.3" y="225.8" width="18.6" height="15.6" fill="#94cb69"/>
<rect x="393.8" y="225.8" width="18.6" height="15.6" fill="#94cb69"/>
<rect x="412.4" y="225.8" width="18.6" height="15.6" fill="#cdd92e"/>
<rect x="430.9" y="225.8" width="18.6" height="15.6" fill="#94cb69"/>
<rect x="449.4" y="225.8" width="18.6" height="15.6" fill="#94cb69"/>
<rect x="468" y="225.8" width="18.6" height="15.6" fill="#94cb69"/>
<rect x="375.3" y="241.4" width="18.6" height="15.6" fill="#94cb69"/>
<rect x="393.8" y="241.4" width="18.6" height="15.6" fill="#94cb69"/>
<rect x="412.4" y="241.4" width="18.6" height="15.6" fill="#94cb69"/>
<rect x="430.9" y="241.4" width="18.6" height="15.6" fill="#94cb69"/>
<rect x="449.4" y="241.4" width="18.6" height="15.6" fill="#94cb69"/>
<rect x="468" y="241.4" width="18.6" height="15.6" fill="#94cb69"/>
<rect x="375.3" y="256.9" width="18.6" height="15.6" fill="#94cb69"/>
<rect x="393.8" y="256.9" width="18.6" height="15.6" fill="#94cb69"/>
<rect x="412.4" y="256.9" width="18.6" height="15.6" fill="#cdd92e"/>
<rect x="430.9" y="256.9" width="18.6" height="15.6" fill="#94cb69"/>
<rect x="449.4" y="256.9" width="18.6" height="15.6" fill="#94cb69"/>
<rect x="468" y="256.9" width="18.6" height="15.6" fill="#3a82cf"/>
<line x1="393.8" y1="179.1" x2="393.8" y2="272.5" class="gl"/>
<line x1="412.4" y1="179.1" x2="412.4" y2="272.5" class="gl"/>
<line x1="430.9" y1="179.1" x2="430.9" y2="272.5" class="gl"/>
<line x1="449.4" y1="179.1" x2="449.4" y2="272.5" class="gl"/>
<line x1="468" y1="179.1" x2="468" y2="272.5" class="gl"/>
<line x1="375.3" y1="194.7" x2="486.5" y2="194.7" class="gl"/>
<line x1="375.3" y1="210.2" x2="486.5" y2="210.2" class="gl"/>
<line x1="375.3" y1="225.8" x2="486.5" y2="225.8" class="gl"/>
<line x1="375.3" y1="241.4" x2="486.5" y2="241.4" class="gl"/>
<line x1="375.3" y1="256.9" x2="486.5" y2="256.9" class="gl"/>
<rect x="375.6" y="179.4" width="110.6" height="92.8" fill="none" class="gl" style="stroke-width:.7"/>
<text x="379.3" y="186.8" font-size="5.6" fill="#4189c8" textLength="5.5" lengthAdjust="spacingAndGlyphs" stroke="#4189c8" stroke-width="0.25">-9</text>
<text x="379.7" y="190.8" font-size="2.9" fill="#4189c8" textLength="6" lengthAdjust="spacingAndGlyphs" opacity="0.8">+/-12</text>
<text x="397.8" y="186.8" font-size="5.6" fill="#4189c8" textLength="5.5" lengthAdjust="spacingAndGlyphs" stroke="#4189c8" stroke-width="0.25">-7</text>
<text x="398.2" y="190.8" font-size="2.9" fill="#4189c8" textLength="6" lengthAdjust="spacingAndGlyphs" opacity="0.8">+/-23</text>
<text x="416.4" y="186.8" font-size="5.6" fill="#4189c8" textLength="5.5" lengthAdjust="spacingAndGlyphs" stroke="#4189c8" stroke-width="0.25">-4</text>
<text x="416.8" y="190.8" font-size="2.9" fill="#4189c8" textLength="6" lengthAdjust="spacingAndGlyphs" opacity="0.8">+/-2</text>
<text x="434.9" y="186.8" font-size="5.6" fill="#4189c8" textLength="5.5" lengthAdjust="spacingAndGlyphs" stroke="#4189c8" stroke-width="0.25">-7</text>
<text x="435.3" y="190.8" font-size="2.9" fill="#4189c8" textLength="6" lengthAdjust="spacingAndGlyphs" opacity="0.8">+/-10</text>
<text x="453.4" y="186.8" font-size="5.6" fill="#4189c8" textLength="5.5" lengthAdjust="spacingAndGlyphs" stroke="#4189c8" stroke-width="0.25">-5</text>
<text x="453.8" y="190.8" font-size="2.9" fill="#4189c8" textLength="6" lengthAdjust="spacingAndGlyphs" opacity="0.8">+/-21</text>
<text x="472" y="186.8" font-size="5.6" fill="#4189c8" textLength="5.5" lengthAdjust="spacingAndGlyphs" stroke="#4189c8" stroke-width="0.25">-4</text>
<text x="472.4" y="190.8" font-size="2.9" fill="#4189c8" textLength="6" lengthAdjust="spacingAndGlyphs" opacity="0.8">+/-23</text>
<text x="379.3" y="202.4" font-size="5.6" fill="#4189c8" textLength="5.5" lengthAdjust="spacingAndGlyphs" stroke="#4189c8" stroke-width="0.25">-3</text>
<text x="379.7" y="206.4" font-size="2.9" fill="#4189c8" textLength="6" lengthAdjust="spacingAndGlyphs" opacity="0.8">+/-24</text>
<text x="397.8" y="202.4" font-size="5.6" fill="#4189c8" textLength="5.5" lengthAdjust="spacingAndGlyphs" stroke="#4189c8" stroke-width="0.25">-6</text>
<text x="398.2" y="206.4" font-size="2.9" fill="#4189c8" textLength="6" lengthAdjust="spacingAndGlyphs" opacity="0.8">+/-7</text>
<text x="416.4" y="202.4" font-size="5.6" fill="#4189c8" textLength="5.5" lengthAdjust="spacingAndGlyphs" stroke="#4189c8" stroke-width="0.25">-7</text>
<text x="416.8" y="206.4" font-size="2.9" fill="#4189c8" textLength="6" lengthAdjust="spacingAndGlyphs" opacity="0.8">+/-24</text>
<text x="434.9" y="202.4" font-size="5.6" fill="#4189c8" textLength="5.5" lengthAdjust="spacingAndGlyphs" stroke="#4189c8" stroke-width="0.25">-4</text>
<text x="435.3" y="206.4" font-size="2.9" fill="#4189c8" textLength="6" lengthAdjust="spacingAndGlyphs" opacity="0.8">+/-12</text>
<text x="453.4" y="202.4" font-size="5.6" fill="#4189c8" textLength="2.8" lengthAdjust="spacingAndGlyphs" stroke="#4189c8" stroke-width="0.25">1</text>
<text x="453.8" y="206.4" font-size="2.9" fill="#4189c8" textLength="6" lengthAdjust="spacingAndGlyphs" opacity="0.8">+/-19</text>
<text x="472" y="202.4" font-size="5.6" fill="#4189c8" textLength="5.5" lengthAdjust="spacingAndGlyphs" stroke="#4189c8" stroke-width="0.25">-1</text>
<text x="472.4" y="206.4" font-size="2.9" fill="#4189c8" textLength="6" lengthAdjust="spacingAndGlyphs" opacity="0.8">+/-20</text>
<text x="379.3" y="217.9" font-size="5.6" fill="#4189c8" textLength="2.8" lengthAdjust="spacingAndGlyphs" stroke="#4189c8" stroke-width="0.25">0</text>
<text x="379.7" y="221.9" font-size="2.9" fill="#4189c8" textLength="6" lengthAdjust="spacingAndGlyphs" opacity="0.8">+/-20</text>
<text x="397.8" y="217.9" font-size="5.6" fill="#4189c8" textLength="5.5" lengthAdjust="spacingAndGlyphs" stroke="#4189c8" stroke-width="0.25">-3</text>
<text x="398.2" y="221.9" font-size="2.9" fill="#4189c8" textLength="6" lengthAdjust="spacingAndGlyphs" opacity="0.8">+/-5</text>
<text x="416.4" y="217.9" font-size="5.6" fill="#4189c8" textLength="5.5" lengthAdjust="spacingAndGlyphs" stroke="#4189c8" stroke-width="0.25">-2</text>
<text x="416.8" y="221.9" font-size="2.9" fill="#4189c8" textLength="6" lengthAdjust="spacingAndGlyphs" opacity="0.8">+/-24</text>
<text x="434.9" y="217.9" font-size="5.6" fill="#4189c8" textLength="5.5" lengthAdjust="spacingAndGlyphs" stroke="#4189c8" stroke-width="0.25">-9</text>
<text x="435.3" y="221.9" font-size="2.9" fill="#4189c8" textLength="6" lengthAdjust="spacingAndGlyphs" opacity="0.8">+/-22</text>
<text x="453.4" y="217.9" font-size="5.6" fill="#4189c8" textLength="5.5" lengthAdjust="spacingAndGlyphs" stroke="#4189c8" stroke-width="0.25">-4</text>
<text x="453.8" y="221.9" font-size="2.9" fill="#4189c8" textLength="6" lengthAdjust="spacingAndGlyphs" opacity="0.8">+/-8</text>
<text x="472" y="217.9" font-size="5.6" fill="#4189c8" textLength="5.5" lengthAdjust="spacingAndGlyphs" stroke="#4189c8" stroke-width="0.25">-2</text>
<text x="472.4" y="221.9" font-size="2.9" fill="#4189c8" textLength="6" lengthAdjust="spacingAndGlyphs" opacity="0.8">+/-22</text>
<text x="379.3" y="233.5" font-size="5.6" fill="#4189c8" textLength="8.2" lengthAdjust="spacingAndGlyphs" stroke="#4189c8" stroke-width="0.25">-14</text>
<text x="379.7" y="237.5" font-size="2.9" fill="#4189c8" textLength="6" lengthAdjust="spacingAndGlyphs" opacity="0.8">+/-20</text>
<text x="397.8" y="233.5" font-size="5.6" fill="#4189c8" textLength="8.2" lengthAdjust="spacingAndGlyphs" stroke="#4189c8" stroke-width="0.25">-13</text>
<text x="398.2" y="237.5" font-size="2.9" fill="#4189c8" textLength="6" lengthAdjust="spacingAndGlyphs" opacity="0.8">+/-10</text>
<text x="416.4" y="233.5" font-size="5.6" fill="#4189c8" textLength="5.5" lengthAdjust="spacingAndGlyphs" stroke="#4189c8" stroke-width="0.25">-7</text>
<text x="421.6" y="242.3" font-size="4.6" text-anchor="middle" fill="#4189c8">*</text>
<text x="416.8" y="237.5" font-size="2.9" fill="#4189c8" textLength="6" lengthAdjust="spacingAndGlyphs" opacity="0.8">+/-11</text>
<text x="434.9" y="233.5" font-size="5.6" fill="#4189c8" textLength="5.5" lengthAdjust="spacingAndGlyphs" stroke="#4189c8" stroke-width="0.25">-9</text>
<text x="435.3" y="237.5" font-size="2.9" fill="#4189c8" textLength="6" lengthAdjust="spacingAndGlyphs" opacity="0.8">+/-5</text>
<text x="453.4" y="233.5" font-size="5.6" fill="#4189c8" textLength="5.5" lengthAdjust="spacingAndGlyphs" stroke="#4189c8" stroke-width="0.25">-6</text>
<text x="453.8" y="237.5" font-size="2.9" fill="#4189c8" textLength="6" lengthAdjust="spacingAndGlyphs" opacity="0.8">+/-4</text>
<text x="472" y="233.5" font-size="5.6" fill="#4189c8" textLength="5.5" lengthAdjust="spacingAndGlyphs" stroke="#4189c8" stroke-width="0.25">-4</text>
<text x="472.4" y="237.5" font-size="2.9" fill="#4189c8" textLength="6" lengthAdjust="spacingAndGlyphs" opacity="0.8">+/-17</text>
<text x="379.3" y="249.1" font-size="5.6" fill="#4189c8" textLength="5.5" lengthAdjust="spacingAndGlyphs" stroke="#4189c8" stroke-width="0.25">-6</text>
<text x="379.7" y="253.1" font-size="2.9" fill="#4189c8" textLength="6" lengthAdjust="spacingAndGlyphs" opacity="0.8">+/-22</text>
<text x="397.8" y="249.1" font-size="5.6" fill="#4189c8" textLength="8.2" lengthAdjust="spacingAndGlyphs" stroke="#4189c8" stroke-width="0.25">-10</text>
<text x="398.2" y="253.1" font-size="2.9" fill="#4189c8" textLength="6" lengthAdjust="spacingAndGlyphs" opacity="0.8">+/-17</text>
<text x="416.4" y="249.1" font-size="5.6" fill="#4189c8" textLength="5.5" lengthAdjust="spacingAndGlyphs" stroke="#4189c8" stroke-width="0.25">-5</text>
<text x="416.8" y="253.1" font-size="2.9" fill="#4189c8" textLength="6" lengthAdjust="spacingAndGlyphs" opacity="0.8">+/-4</text>
<text x="434.9" y="249.1" font-size="5.6" fill="#4189c8" textLength="5.5" lengthAdjust="spacingAndGlyphs" stroke="#4189c8" stroke-width="0.25">-9</text>
<text x="435.3" y="253.1" font-size="2.9" fill="#4189c8" textLength="6" lengthAdjust="spacingAndGlyphs" opacity="0.8">+/-13</text>
<text x="453.4" y="249.1" font-size="5.6" fill="#4189c8" textLength="5.5" lengthAdjust="spacingAndGlyphs" stroke="#4189c8" stroke-width="0.25">-5</text>
<text x="453.8" y="253.1" font-size="2.9" fill="#4189c8" textLength="6" lengthAdjust="spacingAndGlyphs" opacity="0.8">+/-4</text>
<text x="472" y="249.1" font-size="5.6" fill="#4189c8" textLength="2.8" lengthAdjust="spacingAndGlyphs" stroke="#4189c8" stroke-width="0.25">3</text>
<text x="472.4" y="253.1" font-size="2.9" fill="#4189c8" textLength="6" lengthAdjust="spacingAndGlyphs" opacity="0.8">+/-15</text>
<text x="379.3" y="264.6" font-size="5.6" fill="#4189c8" textLength="8.2" lengthAdjust="spacingAndGlyphs" stroke="#4189c8" stroke-width="0.25">-12</text>
<text x="379.7" y="268.6" font-size="2.9" fill="#4189c8" textLength="6" lengthAdjust="spacingAndGlyphs" opacity="0.8">+/-6</text>
<text x="397.8" y="264.6" font-size="5.6" fill="#4189c8" textLength="8.2" lengthAdjust="spacingAndGlyphs" stroke="#4189c8" stroke-width="0.25">-10</text>
<text x="398.2" y="268.6" font-size="2.9" fill="#4189c8" textLength="6" lengthAdjust="spacingAndGlyphs" opacity="0.8">+/-2</text>
<text x="416.4" y="264.6" font-size="5.6" fill="#4189c8" textLength="5.5" lengthAdjust="spacingAndGlyphs" stroke="#4189c8" stroke-width="0.25">-6</text>
<text x="421.6" y="273.4" font-size="4.6" text-anchor="middle" fill="#4189c8">*</text>
<text x="416.8" y="268.6" font-size="2.9" fill="#4189c8" textLength="6" lengthAdjust="spacingAndGlyphs" opacity="0.8">+/-11</text>
<text x="434.9" y="264.6" font-size="5.6" fill="#4189c8" textLength="5.5" lengthAdjust="spacingAndGlyphs" stroke="#4189c8" stroke-width="0.25">-2</text>
<text x="435.3" y="268.6" font-size="2.9" fill="#4189c8" textLength="6" lengthAdjust="spacingAndGlyphs" opacity="0.8">+/-15</text>
<text x="453.4" y="264.6" font-size="5.6" fill="#4189c8" textLength="2.8" lengthAdjust="spacingAndGlyphs" stroke="#4189c8" stroke-width="0.25">5</text>
<text x="453.8" y="268.6" font-size="2.9" fill="#4189c8" textLength="6" lengthAdjust="spacingAndGlyphs" opacity="0.8">+/-15</text>
<text x="472" y="264.6" font-size="5.6" fill="#5a9ee0" textLength="5.5" lengthAdjust="spacingAndGlyphs" stroke="#5a9ee0" stroke-width="0.25">29</text>
<text x="477.2" y="273.4" font-size="4.6" text-anchor="middle" fill="#5a9ee0">**</text>
<text x="472.4" y="268.6" font-size="2.9" fill="#5a9ee0" textLength="6" lengthAdjust="spacingAndGlyphs" opacity="0.8">+/-5</text>
</g>
<text x="373.3" y="170.9" font-size="7.8" text-anchor="end" textLength="18.4" lengthAdjust="spacingAndGlyphs">N = 5</text>
<text x="432.3" y="167.1" font-size="7.6" text-anchor="middle" textLength="43.2" lengthAdjust="spacingAndGlyphs">SHP099 [µM]</text>
<text x="384.6" y="176.7" font-size="7.4" text-anchor="middle" textLength="11.6" lengthAdjust="spacingAndGlyphs">0.04</text>
<text x="403.1" y="176.7" font-size="7.4" text-anchor="middle" textLength="15.2" lengthAdjust="spacingAndGlyphs">0.123</text>
<text x="421.6" y="176.7" font-size="7.4" text-anchor="middle" textLength="11.8" lengthAdjust="spacingAndGlyphs">0.37</text>
<text x="440.2" y="176.7" font-size="7.4" text-anchor="middle" textLength="14.6" lengthAdjust="spacingAndGlyphs">1.111</text>
<text x="458.7" y="176.7" font-size="7.4" text-anchor="middle" textLength="15" lengthAdjust="spacingAndGlyphs">3.333</text>
<text x="477.2" y="176.7" font-size="7.4" text-anchor="middle" textLength="7.2" lengthAdjust="spacingAndGlyphs">10</text>
<text x="373.6" y="189.6" font-size="7.6" text-anchor="end" textLength="8" lengthAdjust="spacingAndGlyphs">0.4</text>
<text x="373.6" y="205.1" font-size="7.6" text-anchor="end" textLength="8" lengthAdjust="spacingAndGlyphs">1.2</text>
<text x="373.6" y="220.7" font-size="7.6" text-anchor="end" textLength="8" lengthAdjust="spacingAndGlyphs">3.7</text>
<text x="373.6" y="236.3" font-size="7.6" text-anchor="end" textLength="5.4" lengthAdjust="spacingAndGlyphs">11</text>
<text x="373.6" y="251.8" font-size="7.6" text-anchor="end" textLength="6.6" lengthAdjust="spacingAndGlyphs">33</text>
<text x="373.6" y="267.4" font-size="7.6" text-anchor="end" textLength="9.7" lengthAdjust="spacingAndGlyphs">100</text>
<text x="360.3" y="226" font-size="8.7" text-anchor="middle" textLength="50.5" lengthAdjust="spacingAndGlyphs" transform="rotate(-90 360.3 226)">Crizotinib [nM]</text>
<rect x="497.4" y="178.1" width="8.2" height="94.6" fill="url(#cm)"/>
<text x="512.8" y="200.8" font-size="7.6" text-anchor="middle" textLength="26.6" lengthAdjust="spacingAndGlyphs" transform="rotate(-90 512.8 200.8)">Synergy</text>
<text x="512.8" y="243.8" font-size="7.6" text-anchor="middle" textLength="40.5" lengthAdjust="spacingAndGlyphs" transform="rotate(-90 512.8 243.8)">Antagonism</text>
<g>
<rect x="31.2" y="476.9" width="18.6" height="15.8" fill="#94cb69"/>
<rect x="49.7" y="476.9" width="18.6" height="15.8" fill="#94cb69"/>
<rect x="68.3" y="476.9" width="18.6" height="15.8" fill="#94cb69"/>
<rect x="86.8" y="476.9" width="18.6" height="15.8" fill="#94cb69"/>
<rect x="105.3" y="476.9" width="18.6" height="15.8" fill="#94cb69"/>
<rect x="123.9" y="476.9" width="18.6" height="15.8" fill="#94cb69"/>
<rect x="31.2" y="492.6" width="18.6" height="15.8" fill="#94cb69"/>
<rect x="49.7" y="492.6" width="18.6" height="15.8" fill="#94cb69"/>
<rect x="68.3" y="492.6" width="18.6" height="15.8" fill="#94cb69"/>
<rect x="86.8" y="492.6" width="18.6" height="15.8" fill="#94cb69"/>
<rect x="105.3" y="492.6" width="18.6" height="15.8" fill="#94cb69"/>
<rect x="123.9" y="492.6" width="18.6" height="15.8" fill="#7fc9a8"/>
<rect x="31.2" y="508.3" width="18.6" height="15.8" fill="#94cb69"/>
<rect x="49.7" y="508.3" width="18.6" height="15.8" fill="#94cb69"/>
<rect x="68.3" y="508.3" width="18.6" height="15.8" fill="#94cb69"/>
<rect x="86.8" y="508.3" width="18.6" height="15.8" fill="#94cb69"/>
<rect x="105.3" y="508.3" width="18.6" height="15.8" fill="#70c8c0"/>
<rect x="123.9" y="508.3" width="18.6" height="15.8" fill="#70c8c0"/>
<rect x="31.2" y="524" width="18.6" height="15.8" fill="#94cb69"/>
<rect x="49.7" y="524" width="18.6" height="15.8" fill="#94cb69"/>
<rect x="68.3" y="524" width="18.6" height="15.8" fill="#94cb69"/>
<rect x="86.8" y="524" width="18.6" height="15.8" fill="#70c8c0"/>
<rect x="105.3" y="524" width="18.6" height="15.8" fill="#5ec8dd"/>
<rect x="123.9" y="524" width="18.6" height="15.8" fill="#70c8c0"/>
<rect x="31.2" y="539.8" width="18.6" height="15.8" fill="#94cb69"/>
<rect x="49.7" y="539.8" width="18.6" height="15.8" fill="#94cb69"/>
<rect x="68.3" y="539.8" width="18.6" height="15.8" fill="#94cb69"/>
<rect x="86.8" y="539.8" width="18.6" height="15.8" fill="#94cb69"/>
<rect x="105.3" y="539.8" width="18.6" height="15.8" fill="#94cb69"/>
<rect x="123.9" y="539.8" width="18.6" height="15.8" fill="#94cb69"/>
<rect x="31.2" y="555.5" width="18.6" height="15.8" fill="#94cb69"/>
<rect x="49.7" y="555.5" width="18.6" height="15.8" fill="#94cb69"/>
<rect x="68.3" y="555.5" width="18.6" height="15.8" fill="#94cb69"/>
<rect x="86.8" y="555.5" width="18.6" height="15.8" fill="#94cb69"/>
<rect x="105.3" y="555.5" width="18.6" height="15.8" fill="#94cb69"/>
<rect x="123.9" y="555.5" width="18.6" height="15.8" fill="#94cb69"/>
<line x1="49.7" y1="476.9" x2="49.7" y2="571.2" class="gl"/>
<line x1="68.3" y1="476.9" x2="68.3" y2="571.2" class="gl"/>
<line x1="86.8" y1="476.9" x2="86.8" y2="571.2" class="gl"/>
<line x1="105.3" y1="476.9" x2="105.3" y2="571.2" class="gl"/>
<line x1="123.9" y1="476.9" x2="123.9" y2="571.2" class="gl"/>
<line x1="31.2" y1="492.6" x2="142.4" y2="492.6" class="gl"/>
<line x1="31.2" y1="508.3" x2="142.4" y2="508.3" class="gl"/>
<line x1="31.2" y1="524" x2="142.4" y2="524" class="gl"/>
<line x1="31.2" y1="539.8" x2="142.4" y2="539.8" class="gl"/>
<line x1="31.2" y1="555.5" x2="142.4" y2="555.5" class="gl"/>
<rect x="31.5" y="477.2" width="110.6" height="93.7" fill="none" class="gl" style="stroke-width:.7"/>
<text x="35.2" y="484.6" font-size="5.6" fill="#4189c8" textLength="5.5" lengthAdjust="spacingAndGlyphs" stroke="#4189c8" stroke-width="0.25">-5</text>
<text x="35.6" y="488.6" font-size="2.9" fill="#4189c8" textLength="6" lengthAdjust="spacingAndGlyphs" opacity="0.8">+/-3</text>
<text x="53.7" y="484.6" font-size="5.6" fill="#4189c8" textLength="2.8" lengthAdjust="spacingAndGlyphs" stroke="#4189c8" stroke-width="0.25">1</text>
<text x="54.1" y="488.6" font-size="2.9" fill="#4189c8" textLength="6" lengthAdjust="spacingAndGlyphs" opacity="0.8">+/-21</text>
<text x="72.3" y="484.6" font-size="5.6" fill="#4189c8" textLength="5.5" lengthAdjust="spacingAndGlyphs" stroke="#4189c8" stroke-width="0.25">-1</text>
<text x="72.7" y="488.6" font-size="2.9" fill="#4189c8" textLength="6" lengthAdjust="spacingAndGlyphs" opacity="0.8">+/-21</text>
<text x="90.8" y="484.6" font-size="5.6" fill="#4189c8" textLength="5.5" lengthAdjust="spacingAndGlyphs" stroke="#4189c8" stroke-width="0.25">-1</text>
<text x="91.2" y="488.6" font-size="2.9" fill="#4189c8" textLength="6" lengthAdjust="spacingAndGlyphs" opacity="0.8">+/-3</text>
<text x="109.3" y="484.6" font-size="5.6" fill="#4189c8" textLength="2.8" lengthAdjust="spacingAndGlyphs" stroke="#4189c8" stroke-width="0.25">0</text>
<text x="109.7" y="488.6" font-size="2.9" fill="#4189c8" textLength="6" lengthAdjust="spacingAndGlyphs" opacity="0.8">+/-14</text>
<text x="127.9" y="484.6" font-size="5.6" fill="#4189c8" textLength="2.8" lengthAdjust="spacingAndGlyphs" stroke="#4189c8" stroke-width="0.25">3</text>
<text x="128.3" y="488.6" font-size="2.9" fill="#4189c8" textLength="6" lengthAdjust="spacingAndGlyphs" opacity="0.8">+/-24</text>
<text x="35.2" y="500.3" font-size="5.6" fill="#4189c8" textLength="5.5" lengthAdjust="spacingAndGlyphs" stroke="#4189c8" stroke-width="0.25">12</text>
<text x="35.6" y="504.3" font-size="2.9" fill="#4189c8" textLength="6" lengthAdjust="spacingAndGlyphs" opacity="0.8">+/-20</text>
<text x="53.7" y="500.3" font-size="5.6" fill="#4189c8" textLength="2.8" lengthAdjust="spacingAndGlyphs" stroke="#4189c8" stroke-width="0.25">3</text>
<text x="54.1" y="504.3" font-size="2.9" fill="#4189c8" textLength="6" lengthAdjust="spacingAndGlyphs" opacity="0.8">+/-12</text>
<text x="72.3" y="500.3" font-size="5.6" fill="#4189c8" textLength="5.5" lengthAdjust="spacingAndGlyphs" stroke="#4189c8" stroke-width="0.25">-1</text>
<text x="72.7" y="504.3" font-size="2.9" fill="#4189c8" textLength="6" lengthAdjust="spacingAndGlyphs" opacity="0.8">+/-19</text>
<text x="90.8" y="500.3" font-size="5.6" fill="#4189c8" textLength="5.5" lengthAdjust="spacingAndGlyphs" stroke="#4189c8" stroke-width="0.25">-3</text>
<text x="91.2" y="504.3" font-size="2.9" fill="#4189c8" textLength="6" lengthAdjust="spacingAndGlyphs" opacity="0.8">+/-10</text>
<text x="109.3" y="500.3" font-size="5.6" fill="#4189c8" textLength="5.5" lengthAdjust="spacingAndGlyphs" stroke="#4189c8" stroke-width="0.25">-2</text>
<text x="109.7" y="504.3" font-size="2.9" fill="#4189c8" textLength="6" lengthAdjust="spacingAndGlyphs" opacity="0.8">+/-18</text>
<text x="127.9" y="500.3" font-size="5.6" fill="#4189c8" textLength="2.8" lengthAdjust="spacingAndGlyphs" stroke="#4189c8" stroke-width="0.25">6</text>
<text x="133.1" y="509.2" font-size="4.6" text-anchor="middle" fill="#4189c8">*</text>
<text x="128.3" y="504.3" font-size="2.9" fill="#4189c8" textLength="6" lengthAdjust="spacingAndGlyphs" opacity="0.8">+/-9</text>
<text x="35.2" y="516" font-size="5.6" fill="#4189c8" textLength="2.8" lengthAdjust="spacingAndGlyphs" stroke="#4189c8" stroke-width="0.25">9</text>
<text x="35.6" y="520" font-size="2.9" fill="#4189c8" textLength="6" lengthAdjust="spacingAndGlyphs" opacity="0.8">+/-3</text>
<text x="53.7" y="516" font-size="5.6" fill="#4189c8" textLength="2.8" lengthAdjust="spacingAndGlyphs" stroke="#4189c8" stroke-width="0.25">6</text>
<text x="54.1" y="520" font-size="2.9" fill="#4189c8" textLength="6" lengthAdjust="spacingAndGlyphs" opacity="0.8">+/-11</text>
<text x="72.3" y="516" font-size="5.6" fill="#4189c8" textLength="5.5" lengthAdjust="spacingAndGlyphs" stroke="#4189c8" stroke-width="0.25">11</text>
<text x="72.7" y="520" font-size="2.9" fill="#4189c8" textLength="6" lengthAdjust="spacingAndGlyphs" opacity="0.8">+/-2</text>
<text x="90.8" y="516" font-size="5.6" fill="#4189c8" textLength="5.5" lengthAdjust="spacingAndGlyphs" stroke="#4189c8" stroke-width="0.25">10</text>
<text x="91.2" y="520" font-size="2.9" fill="#4189c8" textLength="6" lengthAdjust="spacingAndGlyphs" opacity="0.8">+/-4</text>
<text x="109.3" y="516" font-size="5.6" fill="#4189c8" textLength="2.8" lengthAdjust="spacingAndGlyphs" stroke="#4189c8" stroke-width="0.25">8</text>
<text x="114.6" y="524.9" font-size="4.6" text-anchor="middle" fill="#4189c8">*</text>
<text x="109.7" y="520" font-size="2.9" fill="#4189c8" textLength="6" lengthAdjust="spacingAndGlyphs" opacity="0.8">+/-5</text>
<text x="127.9" y="516" font-size="5.6" fill="#4189c8" textLength="5.5" lengthAdjust="spacingAndGlyphs" stroke="#4189c8" stroke-width="0.25">10</text>
<text x="133.1" y="524.9" font-size="4.6" text-anchor="middle" fill="#4189c8">*</text>
<text x="128.3" y="520" font-size="2.9" fill="#4189c8" textLength="6" lengthAdjust="spacingAndGlyphs" opacity="0.8">+/-21</text>
<text x="35.2" y="531.8" font-size="5.6" fill="#4189c8" textLength="2.8" lengthAdjust="spacingAndGlyphs" stroke="#4189c8" stroke-width="0.25">1</text>
<text x="35.6" y="535.8" font-size="2.9" fill="#4189c8" textLength="6" lengthAdjust="spacingAndGlyphs" opacity="0.8">+/-19</text>
<text x="53.7" y="531.8" font-size="5.6" fill="#4189c8" textLength="5.5" lengthAdjust="spacingAndGlyphs" stroke="#4189c8" stroke-width="0.25">-2</text>
<text x="54.1" y="535.8" font-size="2.9" fill="#4189c8" textLength="6" lengthAdjust="spacingAndGlyphs" opacity="0.8">+/-3</text>
<text x="72.3" y="531.8" font-size="5.6" fill="#4189c8" textLength="2.8" lengthAdjust="spacingAndGlyphs" stroke="#4189c8" stroke-width="0.25">6</text>
<text x="72.7" y="535.8" font-size="2.9" fill="#4189c8" textLength="6" lengthAdjust="spacingAndGlyphs" opacity="0.8">+/-8</text>
<text x="90.8" y="531.8" font-size="5.6" fill="#4189c8" textLength="2.8" lengthAdjust="spacingAndGlyphs" stroke="#4189c8" stroke-width="0.25">8</text>
<text x="96.1" y="540.7" font-size="4.6" text-anchor="middle" fill="#4189c8">*</text>
<text x="91.2" y="535.8" font-size="2.9" fill="#4189c8" textLength="6" lengthAdjust="spacingAndGlyphs" opacity="0.8">+/-15</text>
<text x="109.3" y="531.8" font-size="5.6" fill="#4189c8" textLength="5.5" lengthAdjust="spacingAndGlyphs" stroke="#4189c8" stroke-width="0.25">12</text>
<text x="114.6" y="540.7" font-size="4.6" text-anchor="middle" fill="#4189c8">*</text>
<text x="109.7" y="535.8" font-size="2.9" fill="#4189c8" textLength="6" lengthAdjust="spacingAndGlyphs" opacity="0.8">+/-11</text>
<text x="127.9" y="531.8" font-size="5.6" fill="#4189c8" textLength="2.8" lengthAdjust="spacingAndGlyphs" stroke="#4189c8" stroke-width="0.25">8</text>
<text x="133.1" y="540.7" font-size="4.6" text-anchor="middle" fill="#4189c8">*</text>
<text x="128.3" y="535.8" font-size="2.9" fill="#4189c8" textLength="6" lengthAdjust="spacingAndGlyphs" opacity="0.8">+/-21</text>
<text x="35.2" y="547.5" font-size="5.6" fill="#4189c8" textLength="5.5" lengthAdjust="spacingAndGlyphs" stroke="#4189c8" stroke-width="0.25">-2</text>
<text x="35.6" y="551.5" font-size="2.9" fill="#4189c8" textLength="6" lengthAdjust="spacingAndGlyphs" opacity="0.8">+/-10</text>
<text x="53.7" y="547.5" font-size="5.6" fill="#4189c8" textLength="5.5" lengthAdjust="spacingAndGlyphs" stroke="#4189c8" stroke-width="0.25">-1</text>
<text x="54.1" y="551.5" font-size="2.9" fill="#4189c8" textLength="6" lengthAdjust="spacingAndGlyphs" opacity="0.8">+/-6</text>
<text x="72.3" y="547.5" font-size="5.6" fill="#4189c8" textLength="5.5" lengthAdjust="spacingAndGlyphs" stroke="#4189c8" stroke-width="0.25">-1</text>
<text x="72.7" y="551.5" font-size="2.9" fill="#4189c8" textLength="6" lengthAdjust="spacingAndGlyphs" opacity="0.8">+/-24</text>
<text x="90.8" y="547.5" font-size="5.6" fill="#4189c8" textLength="2.8" lengthAdjust="spacingAndGlyphs" stroke="#4189c8" stroke-width="0.25">0</text>
<text x="91.2" y="551.5" font-size="2.9" fill="#4189c8" textLength="6" lengthAdjust="spacingAndGlyphs" opacity="0.8">+/-3</text>
<text x="109.3" y="547.5" font-size="5.6" fill="#4189c8" textLength="2.8" lengthAdjust="spacingAndGlyphs" stroke="#4189c8" stroke-width="0.25">0</text>
<text x="109.7" y="551.5" font-size="2.9" fill="#4189c8" textLength="6" lengthAdjust="spacingAndGlyphs" opacity="0.8">+/-12</text>
<text x="127.9" y="547.5" font-size="5.6" fill="#4189c8" textLength="2.8" lengthAdjust="spacingAndGlyphs" stroke="#4189c8" stroke-width="0.25">1</text>
<text x="128.3" y="551.5" font-size="2.9" fill="#4189c8" textLength="6" lengthAdjust="spacingAndGlyphs" opacity="0.8">+/-12</text>
<text x="35.2" y="563.2" font-size="5.6" fill="#4189c8" textLength="2.8" lengthAdjust="spacingAndGlyphs" stroke="#4189c8" stroke-width="0.25">0</text>
<text x="35.6" y="567.2" font-size="2.9" fill="#4189c8" textLength="6" lengthAdjust="spacingAndGlyphs" opacity="0.8">+/-13</text>
<text x="53.7" y="563.2" font-size="5.6" fill="#4189c8" textLength="2.8" lengthAdjust="spacingAndGlyphs" stroke="#4189c8" stroke-width="0.25">0</text>
<text x="54.1" y="567.2" font-size="2.9" fill="#4189c8" textLength="6" lengthAdjust="spacingAndGlyphs" opacity="0.8">+/-6</text>
<text x="72.3" y="563.2" font-size="5.6" fill="#4189c8" textLength="2.8" lengthAdjust="spacingAndGlyphs" stroke="#4189c8" stroke-width="0.25">0</text>
<text x="72.7" y="567.2" font-size="2.9" fill="#4189c8" textLength="6" lengthAdjust="spacingAndGlyphs" opacity="0.8">+/-14</text>
<text x="90.8" y="563.2" font-size="5.6" fill="#4189c8" textLength="2.8" lengthAdjust="spacingAndGlyphs" stroke="#4189c8" stroke-width="0.25">0</text>
<text x="91.2" y="567.2" font-size="2.9" fill="#4189c8" textLength="6" lengthAdjust="spacingAndGlyphs" opacity="0.8">+/-14</text>
<text x="109.3" y="563.2" font-size="5.6" fill="#4189c8" textLength="2.8" lengthAdjust="spacingAndGlyphs" stroke="#4189c8" stroke-width="0.25">0</text>
<text x="109.7" y="567.2" font-size="2.9" fill="#4189c8" textLength="6" lengthAdjust="spacingAndGlyphs" opacity="0.8">+/-16</text>
<text x="127.9" y="563.2" font-size="5.6" fill="#4189c8" textLength="2.8" lengthAdjust="spacingAndGlyphs" stroke="#4189c8" stroke-width="0.25">0</text>
<text x="128.3" y="567.2" font-size="2.9" fill="#4189c8" textLength="6" lengthAdjust="spacingAndGlyphs" opacity="0.8">+/-18</text>
</g>
<text x="29.2" y="468.7" font-size="7.8" text-anchor="end" textLength="18.4" lengthAdjust="spacingAndGlyphs">N = 6</text>
<text x="88.2" y="464.9" font-size="7.6" text-anchor="middle" textLength="43.2" lengthAdjust="spacingAndGlyphs">SHP099 [µM]</text>
<text x="40.5" y="474.5" font-size="7.4" text-anchor="middle" textLength="11.6" lengthAdjust="spacingAndGlyphs">0.04</text>
<text x="59" y="474.5" font-size="7.4" text-anchor="middle" textLength="15.2" lengthAdjust="spacingAndGlyphs">0.123</text>
<text x="77.5" y="474.5" font-size="7.4" text-anchor="middle" textLength="11.8" lengthAdjust="spacingAndGlyphs">0.37</text>
<text x="96.1" y="474.5" font-size="7.4" text-anchor="middle" textLength="14.6" lengthAdjust="spacingAndGlyphs">1.111</text>
<text x="114.6" y="474.5" font-size="7.4" text-anchor="middle" textLength="15" lengthAdjust="spacingAndGlyphs">3.333</text>
<text x="133.1" y="474.5" font-size="7.4" text-anchor="middle" textLength="7.2" lengthAdjust="spacingAndGlyphs">10</text>
<text x="29.5" y="486.2" font-size="7.6" text-anchor="end" textLength="8" lengthAdjust="spacingAndGlyphs">0.4</text>
<text x="29.5" y="501.9" font-size="7.6" text-anchor="end" textLength="8" lengthAdjust="spacingAndGlyphs">1.2</text>
<text x="29.5" y="517.6" font-size="7.6" text-anchor="end" textLength="8" lengthAdjust="spacingAndGlyphs">3.7</text>
<text x="29.5" y="533.3" font-size="7.6" text-anchor="end" textLength="5.4" lengthAdjust="spacingAndGlyphs">11</text>
<text x="29.5" y="549" font-size="7.6" text-anchor="end" textLength="6.6" lengthAdjust="spacingAndGlyphs">33</text>
<text x="29.5" y="564.7" font-size="7.6" text-anchor="end" textLength="9.7" lengthAdjust="spacingAndGlyphs">100</text>
<text x="16.2" y="524.2" font-size="8.7" text-anchor="middle" textLength="50.5" lengthAdjust="spacingAndGlyphs" transform="rotate(-90 16.2 524.2)">Crizotinib [nM]</text>
<rect x="155.1" y="476.6" width="8.1" height="94.9" fill="url(#cm)"/>
<text x="170.4" y="499.4" font-size="7.6" text-anchor="middle" textLength="26.6" lengthAdjust="spacingAndGlyphs" transform="rotate(-90 170.4 499.4)">Synergy</text>
<text x="170.4" y="542.6" font-size="7.6" text-anchor="middle" textLength="40.5" lengthAdjust="spacingAndGlyphs" transform="rotate(-90 170.4 542.6)">Antagonism</text>
<g>
<rect x="205.2" y="477.2" width="18.5" height="15.7" fill="#94cb69"/>
<rect x="223.6" y="477.2" width="18.5" height="15.7" fill="#94cb69"/>
<rect x="242.1" y="477.2" width="18.5" height="15.7" fill="#94cb69"/>
<rect x="260.5" y="477.2" width="18.5" height="15.7" fill="#94cb69"/>
<rect x="279" y="477.2" width="18.5" height="15.7" fill="#94cb69"/>
<rect x="297.4" y="477.2" width="18.5" height="15.7" fill="#94cb69"/>
<rect x="205.2" y="492.9" width="18.5" height="15.7" fill="#94cb69"/>
<rect x="223.6" y="492.9" width="18.5" height="15.7" fill="#94cb69"/>
<rect x="242.1" y="492.9" width="18.5" height="15.7" fill="#94cb69"/>
<rect x="260.5" y="492.9" width="18.5" height="15.7" fill="#94cb69"/>
<rect x="279" y="492.9" width="18.5" height="15.7" fill="#fdc414"/>
<rect x="297.4" y="492.9" width="18.5" height="15.7" fill="#94cb69"/>
<rect x="205.2" y="508.6" width="18.5" height="15.7" fill="#94cb69"/>
<rect x="223.6" y="508.6" width="18.5" height="15.7" fill="#f26422"/>
<rect x="242.1" y="508.6" width="18.5" height="15.7" fill="#f26422"/>
<rect x="260.5" y="508.6" width="18.5" height="15.7" fill="#f26422"/>
<rect x="279" y="508.6" width="18.5" height="15.7" fill="#f26422"/>
<rect x="297.4" y="508.6" width="18.5" height="15.7" fill="#fde31b"/>
<rect x="205.2" y="524.2" width="18.5" height="15.7" fill="#e5262a"/>
<rect x="223.6" y="524.2" width="18.5" height="15.7" fill="#b8202a"/>
<rect x="242.1" y="524.2" width="18.5" height="15.7" fill="#b8202a"/>
<rect x="260.5" y="524.2" width="18.5" height="15.7" fill="#7e1517"/>
<rect x="279" y="524.2" width="18.5" height="15.7" fill="#7e1517"/>
<rect x="297.4" y="524.2" width="18.5" height="15.7" fill="#f26422"/>
<rect x="205.2" y="539.9" width="18.5" height="15.7" fill="#7e1517"/>
<rect x="223.6" y="539.9" width="18.5" height="15.7" fill="#7e1517"/>
<rect x="242.1" y="539.9" width="18.5" height="15.7" fill="#7e1517"/>
<rect x="260.5" y="539.9" width="18.5" height="15.7" fill="#7e1517"/>
<rect x="279" y="539.9" width="18.5" height="15.7" fill="#7e1517"/>
<rect x="297.4" y="539.9" width="18.5" height="15.7" fill="#f26422"/>
<rect x="205.2" y="555.6" width="18.5" height="15.7" fill="#94cb69"/>
<rect x="223.6" y="555.6" width="18.5" height="15.7" fill="#94cb69"/>
<rect x="242.1" y="555.6" width="18.5" height="15.7" fill="#3ab8ec"/>
<rect x="260.5" y="555.6" width="18.5" height="15.7" fill="#3a55b0"/>
<rect x="279" y="555.6" width="18.5" height="15.7" fill="#3a55b0"/>
<rect x="297.4" y="555.6" width="18.5" height="15.7" fill="#5ccaee"/>
<line x1="223.6" y1="477.2" x2="223.6" y2="571.3" class="gl"/>
<line x1="242.1" y1="477.2" x2="242.1" y2="571.3" class="gl"/>
<line x1="260.5" y1="477.2" x2="260.5" y2="571.3" class="gl"/>
<line x1="279" y1="477.2" x2="279" y2="571.3" class="gl"/>
<line x1="297.4" y1="477.2" x2="297.4" y2="571.3" class="gl"/>
<line x1="205.2" y1="492.9" x2="315.9" y2="492.9" class="gl"/>
<line x1="205.2" y1="508.6" x2="315.9" y2="508.6" class="gl"/>
<line x1="205.2" y1="524.2" x2="315.9" y2="524.2" class="gl"/>
<line x1="205.2" y1="539.9" x2="315.9" y2="539.9" class="gl"/>
<line x1="205.2" y1="555.6" x2="315.9" y2="555.6" class="gl"/>
<rect x="205.5" y="477.5" width="110.1" height="93.5" fill="none" class="gl" style="stroke-width:.7"/>
<text x="209.2" y="484.9" font-size="5.6" fill="#4189c8" textLength="2.8" lengthAdjust="spacingAndGlyphs" stroke="#4189c8" stroke-width="0.25">2</text>
<text x="209.6" y="488.9" font-size="2.9" fill="#4189c8" textLength="6" lengthAdjust="spacingAndGlyphs" opacity="0.8">+/-14</text>
<text x="227.6" y="484.9" font-size="5.6" fill="#4189c8" textLength="8.2" lengthAdjust="spacingAndGlyphs" stroke="#4189c8" stroke-width="0.25">-11</text>
<text x="228" y="488.9" font-size="2.9" fill="#4189c8" textLength="6" lengthAdjust="spacingAndGlyphs" opacity="0.8">+/-22</text>
<text x="246.1" y="484.9" font-size="5.6" fill="#4189c8" textLength="5.5" lengthAdjust="spacingAndGlyphs" stroke="#4189c8" stroke-width="0.25">-5</text>
<text x="246.5" y="488.9" font-size="2.9" fill="#4189c8" textLength="6" lengthAdjust="spacingAndGlyphs" opacity="0.8">+/-21</text>
<text x="264.5" y="484.9" font-size="5.6" fill="#4189c8" textLength="5.5" lengthAdjust="spacingAndGlyphs" stroke="#4189c8" stroke-width="0.25">-4</text>
<text x="264.9" y="488.9" font-size="2.9" fill="#4189c8" textLength="6" lengthAdjust="spacingAndGlyphs" opacity="0.8">+/-23</text>
<text x="283" y="484.9" font-size="5.6" fill="#4189c8" textLength="5.5" lengthAdjust="spacingAndGlyphs" stroke="#4189c8" stroke-width="0.25">-7</text>
<text x="283.4" y="488.9" font-size="2.9" fill="#4189c8" textLength="6" lengthAdjust="spacingAndGlyphs" opacity="0.8">+/-19</text>
<text x="301.4" y="484.9" font-size="5.6" fill="#4189c8" textLength="5.5" lengthAdjust="spacingAndGlyphs" stroke="#4189c8" stroke-width="0.25">-2</text>
<text x="301.8" y="488.9" font-size="2.9" fill="#4189c8" textLength="6" lengthAdjust="spacingAndGlyphs" opacity="0.8">+/-5</text>
<text x="209.2" y="500.6" font-size="5.6" fill="#4189c8" textLength="5.5" lengthAdjust="spacingAndGlyphs" stroke="#4189c8" stroke-width="0.25">-6</text>
<text x="209.6" y="504.6" font-size="2.9" fill="#4189c8" textLength="6" lengthAdjust="spacingAndGlyphs" opacity="0.8">+/-21</text>
<text x="227.6" y="500.6" font-size="5.6" fill="#4189c8" textLength="5.5" lengthAdjust="spacingAndGlyphs" stroke="#4189c8" stroke-width="0.25">-8</text>
<text x="228" y="504.6" font-size="2.9" fill="#4189c8" textLength="6" lengthAdjust="spacingAndGlyphs" opacity="0.8">+/-18</text>
<text x="246.1" y="500.6" font-size="5.6" fill="#4189c8" textLength="8.2" lengthAdjust="spacingAndGlyphs" stroke="#4189c8" stroke-width="0.25">-12</text>
<text x="246.5" y="504.6" font-size="2.9" fill="#4189c8" textLength="6" lengthAdjust="spacingAndGlyphs" opacity="0.8">+/-10</text>
<text x="264.5" y="500.6" font-size="5.6" fill="#4189c8" textLength="8.2" lengthAdjust="spacingAndGlyphs" stroke="#4189c8" stroke-width="0.25">-15</text>
<text x="264.9" y="504.6" font-size="2.9" fill="#4189c8" textLength="6" lengthAdjust="spacingAndGlyphs" opacity="0.8">+/-15</text>
<text x="283" y="500.6" font-size="5.6" fill="#4189c8" textLength="8.2" lengthAdjust="spacingAndGlyphs" stroke="#4189c8" stroke-width="0.25">-14</text>
<text x="288.2" y="509.5" font-size="4.6" text-anchor="middle" fill="#4189c8">*</text>
<text x="283.4" y="504.6" font-size="2.9" fill="#4189c8" textLength="6" lengthAdjust="spacingAndGlyphs" opacity="0.8">+/-22</text>
<text x="301.4" y="500.6" font-size="5.6" fill="#4189c8" textLength="5.5" lengthAdjust="spacingAndGlyphs" stroke="#4189c8" stroke-width="0.25">-3</text>
<text x="301.8" y="504.6" font-size="2.9" fill="#4189c8" textLength="6" lengthAdjust="spacingAndGlyphs" opacity="0.8">+/-25</text>
<text x="209.2" y="516.3" font-size="5.6" fill="#4189c8" textLength="8.2" lengthAdjust="spacingAndGlyphs" stroke="#4189c8" stroke-width="0.25">-20</text>
<text x="209.6" y="520.3" font-size="2.9" fill="#4189c8" textLength="6" lengthAdjust="spacingAndGlyphs" opacity="0.8">+/-24</text>
<text x="227.6" y="516.3" font-size="5.6" fill="#4189c8" textLength="8.2" lengthAdjust="spacingAndGlyphs" stroke="#4189c8" stroke-width="0.25">-28</text>
<text x="232.9" y="525.1" font-size="4.6" text-anchor="middle" fill="#4189c8">**</text>
<text x="228" y="520.3" font-size="2.9" fill="#4189c8" textLength="6" lengthAdjust="spacingAndGlyphs" opacity="0.8">+/-9</text>
<text x="246.1" y="516.3" font-size="5.6" fill="#4189c8" textLength="8.2" lengthAdjust="spacingAndGlyphs" stroke="#4189c8" stroke-width="0.25">-28</text>
<text x="251.3" y="525.1" font-size="4.6" text-anchor="middle" fill="#4189c8">**</text>
<text x="246.5" y="520.3" font-size="2.9" fill="#4189c8" textLength="6" lengthAdjust="spacingAndGlyphs" opacity="0.8">+/-11</text>
<text x="264.5" y="516.3" font-size="5.6" fill="#4189c8" textLength="8.2" lengthAdjust="spacingAndGlyphs" stroke="#4189c8" stroke-width="0.25">-31</text>
<text x="269.8" y="525.1" font-size="4.6" text-anchor="middle" fill="#4189c8">**</text>
<text x="264.9" y="520.3" font-size="2.9" fill="#4189c8" textLength="6" lengthAdjust="spacingAndGlyphs" opacity="0.8">+/-15</text>
<text x="283" y="516.3" font-size="5.6" fill="#4189c8" textLength="8.2" lengthAdjust="spacingAndGlyphs" stroke="#4189c8" stroke-width="0.25">-31</text>
<text x="288.2" y="525.1" font-size="4.6" text-anchor="middle" fill="#4189c8">**</text>
<text x="283.4" y="520.3" font-size="2.9" fill="#4189c8" textLength="6" lengthAdjust="spacingAndGlyphs" opacity="0.8">+/-10</text>
<text x="301.4" y="516.3" font-size="5.6" fill="#4189c8" textLength="8.2" lengthAdjust="spacingAndGlyphs" stroke="#4189c8" stroke-width="0.25">-13</text>
<text x="306.7" y="525.1" font-size="4.6" text-anchor="middle" fill="#4189c8">*</text>
<text x="301.8" y="520.3" font-size="2.9" fill="#4189c8" textLength="6" lengthAdjust="spacingAndGlyphs" opacity="0.8">+/-18</text>
<text x="209.2" y="532" font-size="5.6" fill="#4189c8" textLength="8.2" lengthAdjust="spacingAndGlyphs" stroke="#4189c8" stroke-width="0.25">-38</text>
<text x="214.4" y="540.8" font-size="4.6" text-anchor="middle" fill="#4189c8">**</text>
<text x="209.6" y="536" font-size="2.9" fill="#4189c8" textLength="6" lengthAdjust="spacingAndGlyphs" opacity="0.8">+/-11</text>
<text x="227.6" y="532" font-size="5.6" fill="#b07080" textLength="8.2" lengthAdjust="spacingAndGlyphs" stroke="#b07080" stroke-width="0.25">-45</text>
<text x="232.9" y="540.8" font-size="4.6" text-anchor="middle" fill="#b07080">***</text>
<text x="228" y="536" font-size="2.9" fill="#b07080" textLength="6" lengthAdjust="spacingAndGlyphs" opacity="0.8">+/-19</text>
<text x="246.1" y="532" font-size="5.6" fill="#b07080" textLength="8.2" lengthAdjust="spacingAndGlyphs" stroke="#b07080" stroke-width="0.25">-45</text>
<text x="251.3" y="540.8" font-size="4.6" text-anchor="middle" fill="#b07080">***</text>
<text x="246.5" y="536" font-size="2.9" fill="#b07080" textLength="6" lengthAdjust="spacingAndGlyphs" opacity="0.8">+/-12</text>
<text x="264.5" y="532" font-size="5.6" fill="#b07080" textLength="8.2" lengthAdjust="spacingAndGlyphs" stroke="#b07080" stroke-width="0.25">-56</text>
<text x="269.8" y="540.8" font-size="4.6" text-anchor="middle" fill="#b07080">***</text>
<text x="264.9" y="536" font-size="2.9" fill="#b07080" textLength="6" lengthAdjust="spacingAndGlyphs" opacity="0.8">+/-2</text>
<text x="283" y="532" font-size="5.6" fill="#b07080" textLength="8.2" lengthAdjust="spacingAndGlyphs" stroke="#b07080" stroke-width="0.25">-66</text>
<text x="288.2" y="540.8" font-size="4.6" text-anchor="middle" fill="#b07080">***</text>
<text x="283.4" y="536" font-size="2.9" fill="#b07080" textLength="6" lengthAdjust="spacingAndGlyphs" opacity="0.8">+/-15</text>
<text x="301.4" y="532" font-size="5.6" fill="#4189c8" textLength="8.2" lengthAdjust="spacingAndGlyphs" stroke="#4189c8" stroke-width="0.25">-28</text>
<text x="306.7" y="540.8" font-size="4.6" text-anchor="middle" fill="#4189c8">**</text>
<text x="301.8" y="536" font-size="2.9" fill="#4189c8" textLength="6" lengthAdjust="spacingAndGlyphs" opacity="0.8">+/-20</text>
<text x="209.2" y="547.6" font-size="5.6" fill="#b07080" textLength="8.2" lengthAdjust="spacingAndGlyphs" stroke="#b07080" stroke-width="0.25">-51</text>
<text x="214.4" y="556.5" font-size="4.6" text-anchor="middle" fill="#b07080">***</text>
<text x="209.6" y="551.6" font-size="2.9" fill="#b07080" textLength="6" lengthAdjust="spacingAndGlyphs" opacity="0.8">+/-12</text>
<text x="227.6" y="547.6" font-size="5.6" fill="#b07080" textLength="8.2" lengthAdjust="spacingAndGlyphs" stroke="#b07080" stroke-width="0.25">-64</text>
<text x="232.9" y="556.5" font-size="4.6" text-anchor="middle" fill="#b07080">***</text>
<text x="228" y="551.6" font-size="2.9" fill="#b07080" textLength="6" lengthAdjust="spacingAndGlyphs" opacity="0.8">+/-2</text>
<text x="246.1" y="547.6" font-size="5.6" fill="#b07080" textLength="8.2" lengthAdjust="spacingAndGlyphs" stroke="#b07080" stroke-width="0.25">-69</text>
<text x="251.3" y="556.5" font-size="4.6" text-anchor="middle" fill="#b07080">***</text>
<text x="246.5" y="551.6" font-size="2.9" fill="#b07080" textLength="6" lengthAdjust="spacingAndGlyphs" opacity="0.8">+/-14</text>
<text x="264.5" y="547.6" font-size="5.6" fill="#b07080" textLength="8.2" lengthAdjust="spacingAndGlyphs" stroke="#b07080" stroke-width="0.25">-66</text>
<text x="269.8" y="556.5" font-size="4.6" text-anchor="middle" fill="#b07080">***</text>
<text x="264.9" y="551.6" font-size="2.9" fill="#b07080" textLength="6" lengthAdjust="spacingAndGlyphs" opacity="0.8">+/-21</text>
<text x="283" y="547.6" font-size="5.6" fill="#b07080" textLength="8.2" lengthAdjust="spacingAndGlyphs" stroke="#b07080" stroke-width="0.25">-70</text>
<text x="288.2" y="556.5" font-size="4.6" text-anchor="middle" fill="#b07080">***</text>
<text x="283.4" y="551.6" font-size="2.9" fill="#b07080" textLength="6" lengthAdjust="spacingAndGlyphs" opacity="0.8">+/-20</text>
<text x="301.4" y="547.6" font-size="5.6" fill="#4189c8" textLength="8.2" lengthAdjust="spacingAndGlyphs" stroke="#4189c8" stroke-width="0.25">-29</text>
<text x="306.7" y="556.5" font-size="4.6" text-anchor="middle" fill="#4189c8">**</text>
<text x="301.8" y="551.6" font-size="2.9" fill="#4189c8" textLength="6" lengthAdjust="spacingAndGlyphs" opacity="0.8">+/-22</text>
<text x="209.2" y="563.3" font-size="5.6" fill="#4189c8" textLength="2.8" lengthAdjust="spacingAndGlyphs" stroke="#4189c8" stroke-width="0.25">9</text>
<text x="209.6" y="567.3" font-size="2.9" fill="#4189c8" textLength="6" lengthAdjust="spacingAndGlyphs" opacity="0.8">+/-6</text>
<text x="227.6" y="563.3" font-size="5.6" fill="#4189c8" textLength="5.5" lengthAdjust="spacingAndGlyphs" stroke="#4189c8" stroke-width="0.25">13</text>
<text x="228" y="567.3" font-size="2.9" fill="#4189c8" textLength="6" lengthAdjust="spacingAndGlyphs" opacity="0.8">+/-3</text>
<text x="246.1" y="563.3" font-size="5.6" fill="#4189c8" textLength="5.5" lengthAdjust="spacingAndGlyphs" stroke="#4189c8" stroke-width="0.25">21</text>
<text x="251.3" y="572.2" font-size="4.6" text-anchor="middle" fill="#4189c8">*</text>
<text x="246.5" y="567.3" font-size="2.9" fill="#4189c8" textLength="6" lengthAdjust="spacingAndGlyphs" opacity="0.8">+/-22</text>
<text x="264.5" y="563.3" font-size="5.6" fill="#5a70c0" textLength="5.5" lengthAdjust="spacingAndGlyphs" stroke="#5a70c0" stroke-width="0.25">34</text>
<text x="269.8" y="572.2" font-size="4.6" text-anchor="middle" fill="#5a70c0">**</text>
<text x="264.9" y="567.3" font-size="2.9" fill="#5a70c0" textLength="6" lengthAdjust="spacingAndGlyphs" opacity="0.8">+/-22</text>
<text x="283" y="563.3" font-size="5.6" fill="#5a70c0" textLength="5.5" lengthAdjust="spacingAndGlyphs" stroke="#5a70c0" stroke-width="0.25">31</text>
<text x="288.2" y="572.2" font-size="4.6" text-anchor="middle" fill="#5a70c0">**</text>
<text x="283.4" y="567.3" font-size="2.9" fill="#5a70c0" textLength="6" lengthAdjust="spacingAndGlyphs" opacity="0.8">+/-12</text>
<text x="301.4" y="563.3" font-size="5.6" fill="#4189c8" textLength="5.5" lengthAdjust="spacingAndGlyphs" stroke="#4189c8" stroke-width="0.25">15</text>
<text x="306.7" y="572.2" font-size="4.6" text-anchor="middle" fill="#4189c8">*</text>
<text x="301.8" y="567.3" font-size="2.9" fill="#4189c8" textLength="6" lengthAdjust="spacingAndGlyphs" opacity="0.8">+/-16</text>
</g>
<text x="203.2" y="469" font-size="7.8" text-anchor="end" textLength="18.4" lengthAdjust="spacingAndGlyphs">N = 6</text>
<text x="261.9" y="465.2" font-size="7.6" text-anchor="middle" textLength="43.2" lengthAdjust="spacingAndGlyphs">SHP099 [µM]</text>
<text x="214.4" y="474.8" font-size="7.4" text-anchor="middle" textLength="11.6" lengthAdjust="spacingAndGlyphs">0.04</text>
<text x="232.9" y="474.8" font-size="7.4" text-anchor="middle" textLength="15.2" lengthAdjust="spacingAndGlyphs">0.123</text>
<text x="251.3" y="474.8" font-size="7.4" text-anchor="middle" textLength="11.8" lengthAdjust="spacingAndGlyphs">0.37</text>
<text x="269.8" y="474.8" font-size="7.4" text-anchor="middle" textLength="14.6" lengthAdjust="spacingAndGlyphs">1.111</text>
<text x="288.2" y="474.8" font-size="7.4" text-anchor="middle" textLength="15" lengthAdjust="spacingAndGlyphs">3.333</text>
<text x="306.7" y="474.8" font-size="7.4" text-anchor="middle" textLength="7.2" lengthAdjust="spacingAndGlyphs">10</text>
<text x="203.5" y="486.4" font-size="7.6" text-anchor="end" textLength="8" lengthAdjust="spacingAndGlyphs">0.4</text>
<text x="203.5" y="502.1" font-size="7.6" text-anchor="end" textLength="8" lengthAdjust="spacingAndGlyphs">1.2</text>
<text x="203.5" y="517.8" font-size="7.6" text-anchor="end" textLength="8" lengthAdjust="spacingAndGlyphs">3.7</text>
<text x="203.5" y="533.5" font-size="7.6" text-anchor="end" textLength="5.4" lengthAdjust="spacingAndGlyphs">11</text>
<text x="203.5" y="549.2" font-size="7.6" text-anchor="end" textLength="6.6" lengthAdjust="spacingAndGlyphs">33</text>
<text x="203.5" y="564.9" font-size="7.6" text-anchor="end" textLength="9.7" lengthAdjust="spacingAndGlyphs">100</text>
<text x="190.2" y="524.5" font-size="8.7" text-anchor="middle" textLength="50.5" lengthAdjust="spacingAndGlyphs" transform="rotate(-90 190.2 524.5)">Crizotinib [nM]</text>
<rect x="327.3" y="476.6" width="8.3" height="94.9" fill="url(#cm)"/>
<text x="342.8" y="499.4" font-size="7.6" text-anchor="middle" textLength="26.6" lengthAdjust="spacingAndGlyphs" transform="rotate(-90 342.8 499.4)">Synergy</text>
<text x="342.8" y="542.6" font-size="7.6" text-anchor="middle" textLength="40.5" lengthAdjust="spacingAndGlyphs" transform="rotate(-90 342.8 542.6)">Antagonism</text>
<g>
<rect x="375.4" y="477.6" width="18.5" height="15.7" fill="#94cb69"/>
<rect x="393.8" y="477.6" width="18.5" height="15.7" fill="#94cb69"/>
<rect x="412.2" y="477.6" width="18.5" height="15.7" fill="#94cb69"/>
<rect x="430.6" y="477.6" width="18.5" height="15.7" fill="#94cb69"/>
<rect x="449.1" y="477.6" width="18.5" height="15.7" fill="#94cb69"/>
<rect x="467.5" y="477.6" width="18.5" height="15.7" fill="#94cb69"/>
<rect x="375.4" y="493.2" width="18.5" height="15.7" fill="#94cb69"/>
<rect x="393.8" y="493.2" width="18.5" height="15.7" fill="#94cb69"/>
<rect x="412.2" y="493.2" width="18.5" height="15.7" fill="#94cb69"/>
<rect x="430.6" y="493.2" width="18.5" height="15.7" fill="#94cb69"/>
<rect x="449.1" y="493.2" width="18.5" height="15.7" fill="#94cb69"/>
<rect x="467.5" y="493.2" width="18.5" height="15.7" fill="#94cb69"/>
<rect x="375.4" y="508.9" width="18.5" height="15.7" fill="#94cb69"/>
<rect x="393.8" y="508.9" width="18.5" height="15.7" fill="#94cb69"/>
<rect x="412.2" y="508.9" width="18.5" height="15.7" fill="#94cb69"/>
<rect x="430.6" y="508.9" width="18.5" height="15.7" fill="#94cb69"/>
<rect x="449.1" y="508.9" width="18.5" height="15.7" fill="#94cb69"/>
<rect x="467.5" y="508.9" width="18.5" height="15.7" fill="#cdd92e"/>
<rect x="375.4" y="524.5" width="18.5" height="15.7" fill="#94cb69"/>
<rect x="393.8" y="524.5" width="18.5" height="15.7" fill="#94cb69"/>
<rect x="412.2" y="524.5" width="18.5" height="15.7" fill="#94cb69"/>
<rect x="430.6" y="524.5" width="18.5" height="15.7" fill="#94cb69"/>
<rect x="449.1" y="524.5" width="18.5" height="15.7" fill="#94cb69"/>
<rect x="467.5" y="524.5" width="18.5" height="15.7" fill="#fdc414"/>
<rect x="375.4" y="540.2" width="18.5" height="15.7" fill="#94cb69"/>
<rect x="393.8" y="540.2" width="18.5" height="15.7" fill="#94cb69"/>
<rect x="412.2" y="540.2" width="18.5" height="15.7" fill="#f7931e"/>
<rect x="430.6" y="540.2" width="18.5" height="15.7" fill="#94cb69"/>
<rect x="449.1" y="540.2" width="18.5" height="15.7" fill="#fbb022"/>
<rect x="467.5" y="540.2" width="18.5" height="15.7" fill="#f26422"/>
<rect x="375.4" y="555.9" width="18.5" height="15.7" fill="#94cb69"/>
<rect x="393.8" y="555.9" width="18.5" height="15.7" fill="#3ab8ec"/>
<rect x="412.2" y="555.9" width="18.5" height="15.7" fill="#3a82cf"/>
<rect x="430.6" y="555.9" width="18.5" height="15.7" fill="#3a55b0"/>
<rect x="449.1" y="555.9" width="18.5" height="15.7" fill="#3a55b0"/>
<rect x="467.5" y="555.9" width="18.5" height="15.7" fill="#3a82cf"/>
<line x1="393.8" y1="477.6" x2="393.8" y2="571.5" class="gl"/>
<line x1="412.2" y1="477.6" x2="412.2" y2="571.5" class="gl"/>
<line x1="430.6" y1="477.6" x2="430.6" y2="571.5" class="gl"/>
<line x1="449.1" y1="477.6" x2="449.1" y2="571.5" class="gl"/>
<line x1="467.5" y1="477.6" x2="467.5" y2="571.5" class="gl"/>
<line x1="375.4" y1="493.2" x2="485.9" y2="493.2" class="gl"/>
<line x1="375.4" y1="508.9" x2="485.9" y2="508.9" class="gl"/>
<line x1="375.4" y1="524.5" x2="485.9" y2="524.5" class="gl"/>
<line x1="375.4" y1="540.2" x2="485.9" y2="540.2" class="gl"/>
<line x1="375.4" y1="555.9" x2="485.9" y2="555.9" class="gl"/>
<rect x="375.7" y="477.9" width="109.9" height="93.3" fill="none" class="gl" style="stroke-width:.7"/>
<text x="379.4" y="485.3" font-size="5.6" fill="#4189c8" textLength="2.8" lengthAdjust="spacingAndGlyphs" stroke="#4189c8" stroke-width="0.25">2</text>
<text x="379.8" y="489.3" font-size="2.9" fill="#4189c8" textLength="6" lengthAdjust="spacingAndGlyphs" opacity="0.8">+/-13</text>
<text x="397.8" y="485.3" font-size="5.6" fill="#4189c8" textLength="2.8" lengthAdjust="spacingAndGlyphs" stroke="#4189c8" stroke-width="0.25">5</text>
<text x="398.2" y="489.3" font-size="2.9" fill="#4189c8" textLength="6" lengthAdjust="spacingAndGlyphs" opacity="0.8">+/-23</text>
<text x="416.2" y="485.3" font-size="5.6" fill="#4189c8" textLength="2.8" lengthAdjust="spacingAndGlyphs" stroke="#4189c8" stroke-width="0.25">0</text>
<text x="416.6" y="489.3" font-size="2.9" fill="#4189c8" textLength="6" lengthAdjust="spacingAndGlyphs" opacity="0.8">+/-13</text>
<text x="434.6" y="485.3" font-size="5.6" fill="#4189c8" textLength="2.8" lengthAdjust="spacingAndGlyphs" stroke="#4189c8" stroke-width="0.25">4</text>
<text x="435" y="489.3" font-size="2.9" fill="#4189c8" textLength="6" lengthAdjust="spacingAndGlyphs" opacity="0.8">+/-21</text>
<text x="453.1" y="485.3" font-size="5.6" fill="#4189c8" textLength="2.8" lengthAdjust="spacingAndGlyphs" stroke="#4189c8" stroke-width="0.25">1</text>
<text x="453.5" y="489.3" font-size="2.9" fill="#4189c8" textLength="6" lengthAdjust="spacingAndGlyphs" opacity="0.8">+/-24</text>
<text x="471.5" y="485.3" font-size="5.6" fill="#4189c8" textLength="2.8" lengthAdjust="spacingAndGlyphs" stroke="#4189c8" stroke-width="0.25">1</text>
<text x="471.9" y="489.3" font-size="2.9" fill="#4189c8" textLength="6" lengthAdjust="spacingAndGlyphs" opacity="0.8">+/-10</text>
<text x="379.4" y="500.9" font-size="5.6" fill="#4189c8" textLength="2.8" lengthAdjust="spacingAndGlyphs" stroke="#4189c8" stroke-width="0.25">3</text>
<text x="379.8" y="504.9" font-size="2.9" fill="#4189c8" textLength="6" lengthAdjust="spacingAndGlyphs" opacity="0.8">+/-25</text>
<text x="397.8" y="500.9" font-size="5.6" fill="#4189c8" textLength="5.5" lengthAdjust="spacingAndGlyphs" stroke="#4189c8" stroke-width="0.25">-1</text>
<text x="398.2" y="504.9" font-size="2.9" fill="#4189c8" textLength="6" lengthAdjust="spacingAndGlyphs" opacity="0.8">+/-17</text>
<text x="416.2" y="500.9" font-size="5.6" fill="#4189c8" textLength="5.5" lengthAdjust="spacingAndGlyphs" stroke="#4189c8" stroke-width="0.25">-2</text>
<text x="416.6" y="504.9" font-size="2.9" fill="#4189c8" textLength="6" lengthAdjust="spacingAndGlyphs" opacity="0.8">+/-2</text>
<text x="434.6" y="500.9" font-size="5.6" fill="#4189c8" textLength="2.8" lengthAdjust="spacingAndGlyphs" stroke="#4189c8" stroke-width="0.25">3</text>
<text x="435" y="504.9" font-size="2.9" fill="#4189c8" textLength="6" lengthAdjust="spacingAndGlyphs" opacity="0.8">+/-20</text>
<text x="453.1" y="500.9" font-size="5.6" fill="#4189c8" textLength="2.8" lengthAdjust="spacingAndGlyphs" stroke="#4189c8" stroke-width="0.25">0</text>
<text x="453.5" y="504.9" font-size="2.9" fill="#4189c8" textLength="6" lengthAdjust="spacingAndGlyphs" opacity="0.8">+/-3</text>
<text x="471.5" y="500.9" font-size="5.6" fill="#4189c8" textLength="5.5" lengthAdjust="spacingAndGlyphs" stroke="#4189c8" stroke-width="0.25">-2</text>
<text x="471.9" y="504.9" font-size="2.9" fill="#4189c8" textLength="6" lengthAdjust="spacingAndGlyphs" opacity="0.8">+/-23</text>
<text x="379.4" y="516.6" font-size="5.6" fill="#4189c8" textLength="5.5" lengthAdjust="spacingAndGlyphs" stroke="#4189c8" stroke-width="0.25">-1</text>
<text x="379.8" y="520.6" font-size="2.9" fill="#4189c8" textLength="6" lengthAdjust="spacingAndGlyphs" opacity="0.8">+/-2</text>
<text x="397.8" y="516.6" font-size="5.6" fill="#4189c8" textLength="5.5" lengthAdjust="spacingAndGlyphs" stroke="#4189c8" stroke-width="0.25">-4</text>
<text x="398.2" y="520.6" font-size="2.9" fill="#4189c8" textLength="6" lengthAdjust="spacingAndGlyphs" opacity="0.8">+/-13</text>
<text x="416.2" y="516.6" font-size="5.6" fill="#4189c8" textLength="5.5" lengthAdjust="spacingAndGlyphs" stroke="#4189c8" stroke-width="0.25">-7</text>
<text x="416.6" y="520.6" font-size="2.9" fill="#4189c8" textLength="6" lengthAdjust="spacingAndGlyphs" opacity="0.8">+/-10</text>
<text x="434.6" y="516.6" font-size="5.6" fill="#4189c8" textLength="5.5" lengthAdjust="spacingAndGlyphs" stroke="#4189c8" stroke-width="0.25">-1</text>
<text x="435" y="520.6" font-size="2.9" fill="#4189c8" textLength="6" lengthAdjust="spacingAndGlyphs" opacity="0.8">+/-22</text>
<text x="453.1" y="516.6" font-size="5.6" fill="#4189c8" textLength="5.5" lengthAdjust="spacingAndGlyphs" stroke="#4189c8" stroke-width="0.25">-4</text>
<text x="453.5" y="520.6" font-size="2.9" fill="#4189c8" textLength="6" lengthAdjust="spacingAndGlyphs" opacity="0.8">+/-16</text>
<text x="471.5" y="516.6" font-size="5.6" fill="#4189c8" textLength="5.5" lengthAdjust="spacingAndGlyphs" stroke="#4189c8" stroke-width="0.25">-8</text>
<text x="476.7" y="525.5" font-size="4.6" text-anchor="middle" fill="#4189c8">*</text>
<text x="471.9" y="520.6" font-size="2.9" fill="#4189c8" textLength="6" lengthAdjust="spacingAndGlyphs" opacity="0.8">+/-11</text>
<text x="379.4" y="532.2" font-size="5.6" fill="#4189c8" textLength="8.2" lengthAdjust="spacingAndGlyphs" stroke="#4189c8" stroke-width="0.25">-11</text>
<text x="379.8" y="536.2" font-size="2.9" fill="#4189c8" textLength="6" lengthAdjust="spacingAndGlyphs" opacity="0.8">+/-20</text>
<text x="397.8" y="532.2" font-size="5.6" fill="#4189c8" textLength="5.5" lengthAdjust="spacingAndGlyphs" stroke="#4189c8" stroke-width="0.25">-9</text>
<text x="398.2" y="536.2" font-size="2.9" fill="#4189c8" textLength="6" lengthAdjust="spacingAndGlyphs" opacity="0.8">+/-21</text>
<text x="416.2" y="532.2" font-size="5.6" fill="#4189c8" textLength="8.2" lengthAdjust="spacingAndGlyphs" stroke="#4189c8" stroke-width="0.25">-11</text>
<text x="416.6" y="536.2" font-size="2.9" fill="#4189c8" textLength="6" lengthAdjust="spacingAndGlyphs" opacity="0.8">+/-12</text>
<text x="434.6" y="532.2" font-size="5.6" fill="#4189c8" textLength="5.5" lengthAdjust="spacingAndGlyphs" stroke="#4189c8" stroke-width="0.25">-8</text>
<text x="435" y="536.2" font-size="2.9" fill="#4189c8" textLength="6" lengthAdjust="spacingAndGlyphs" opacity="0.8">+/-7</text>
<text x="453.1" y="532.2" font-size="5.6" fill="#4189c8" textLength="8.2" lengthAdjust="spacingAndGlyphs" stroke="#4189c8" stroke-width="0.25">-14</text>
<text x="453.5" y="536.2" font-size="2.9" fill="#4189c8" textLength="6" lengthAdjust="spacingAndGlyphs" opacity="0.8">+/-13</text>
<text x="471.5" y="532.2" font-size="5.6" fill="#4189c8" textLength="8.2" lengthAdjust="spacingAndGlyphs" stroke="#4189c8" stroke-width="0.25">-16</text>
<text x="476.7" y="541.1" font-size="4.6" text-anchor="middle" fill="#4189c8">*</text>
<text x="471.9" y="536.2" font-size="2.9" fill="#4189c8" textLength="6" lengthAdjust="spacingAndGlyphs" opacity="0.8">+/-7</text>
<text x="379.4" y="547.9" font-size="5.6" fill="#4189c8" textLength="8.2" lengthAdjust="spacingAndGlyphs" stroke="#4189c8" stroke-width="0.25">-17</text>
<text x="379.8" y="551.9" font-size="2.9" fill="#4189c8" textLength="6" lengthAdjust="spacingAndGlyphs" opacity="0.8">+/-12</text>
<text x="397.8" y="547.9" font-size="5.6" fill="#4189c8" textLength="8.2" lengthAdjust="spacingAndGlyphs" stroke="#4189c8" stroke-width="0.25">-21</text>
<text x="398.2" y="551.9" font-size="2.9" fill="#4189c8" textLength="6" lengthAdjust="spacingAndGlyphs" opacity="0.8">+/-13</text>
<text x="416.2" y="547.9" font-size="5.6" fill="#4189c8" textLength="8.2" lengthAdjust="spacingAndGlyphs" stroke="#4189c8" stroke-width="0.25">-20</text>
<text x="421.4" y="556.8" font-size="4.6" text-anchor="middle" fill="#4189c8">*</text>
<text x="416.6" y="551.9" font-size="2.9" fill="#4189c8" textLength="6" lengthAdjust="spacingAndGlyphs" opacity="0.8">+/-21</text>
<text x="434.6" y="547.9" font-size="5.6" fill="#4189c8" textLength="8.2" lengthAdjust="spacingAndGlyphs" stroke="#4189c8" stroke-width="0.25">-14</text>
<text x="435" y="551.9" font-size="2.9" fill="#4189c8" textLength="6" lengthAdjust="spacingAndGlyphs" opacity="0.8">+/-10</text>
<text x="453.1" y="547.9" font-size="5.6" fill="#4189c8" textLength="8.2" lengthAdjust="spacingAndGlyphs" stroke="#4189c8" stroke-width="0.25">-19</text>
<text x="458.3" y="556.8" font-size="4.6" text-anchor="middle" fill="#4189c8">*</text>
<text x="453.5" y="551.9" font-size="2.9" fill="#4189c8" textLength="6" lengthAdjust="spacingAndGlyphs" opacity="0.8">+/-11</text>
<text x="471.5" y="547.9" font-size="5.6" fill="#4189c8" textLength="8.2" lengthAdjust="spacingAndGlyphs" stroke="#4189c8" stroke-width="0.25">-25</text>
<text x="476.7" y="556.8" font-size="4.6" text-anchor="middle" fill="#4189c8">**</text>
<text x="471.9" y="551.9" font-size="2.9" fill="#4189c8" textLength="6" lengthAdjust="spacingAndGlyphs" opacity="0.8">+/-14</text>
<text x="379.4" y="563.6" font-size="5.6" fill="#4189c8" textLength="5.5" lengthAdjust="spacingAndGlyphs" stroke="#4189c8" stroke-width="0.25">15</text>
<text x="379.8" y="567.6" font-size="2.9" fill="#4189c8" textLength="6" lengthAdjust="spacingAndGlyphs" opacity="0.8">+/-5</text>
<text x="397.8" y="563.6" font-size="5.6" fill="#4189c8" textLength="5.5" lengthAdjust="spacingAndGlyphs" stroke="#4189c8" stroke-width="0.25">19</text>
<text x="403" y="572.4" font-size="4.6" text-anchor="middle" fill="#4189c8">*</text>
<text x="398.2" y="567.6" font-size="2.9" fill="#4189c8" textLength="6" lengthAdjust="spacingAndGlyphs" opacity="0.8">+/-2</text>
<text x="416.2" y="563.6" font-size="5.6" fill="#5a9ee0" textLength="5.5" lengthAdjust="spacingAndGlyphs" stroke="#5a9ee0" stroke-width="0.25">27</text>
<text x="421.4" y="572.4" font-size="4.6" text-anchor="middle" fill="#5a9ee0">**</text>
<text x="416.6" y="567.6" font-size="2.9" fill="#5a9ee0" textLength="6" lengthAdjust="spacingAndGlyphs" opacity="0.8">+/-20</text>
<text x="434.6" y="563.6" font-size="5.6" fill="#5a70c0" textLength="5.5" lengthAdjust="spacingAndGlyphs" stroke="#5a70c0" stroke-width="0.25">36</text>
<text x="439.9" y="572.4" font-size="4.6" text-anchor="middle" fill="#5a70c0">**</text>
<text x="435" y="567.6" font-size="2.9" fill="#5a70c0" textLength="6" lengthAdjust="spacingAndGlyphs" opacity="0.8">+/-23</text>
<text x="453.1" y="563.6" font-size="5.6" fill="#5a70c0" textLength="5.5" lengthAdjust="spacingAndGlyphs" stroke="#5a70c0" stroke-width="0.25">36</text>
<text x="458.3" y="572.4" font-size="4.6" text-anchor="middle" fill="#5a70c0">**</text>
<text x="453.5" y="567.6" font-size="2.9" fill="#5a70c0" textLength="6" lengthAdjust="spacingAndGlyphs" opacity="0.8">+/-25</text>
<text x="471.5" y="563.6" font-size="5.6" fill="#5a9ee0" textLength="5.5" lengthAdjust="spacingAndGlyphs" stroke="#5a9ee0" stroke-width="0.25">29</text>
<text x="476.7" y="572.4" font-size="4.6" text-anchor="middle" fill="#5a9ee0">**</text>
<text x="471.9" y="567.6" font-size="2.9" fill="#5a9ee0" textLength="6" lengthAdjust="spacingAndGlyphs" opacity="0.8">+/-6</text>
</g>
<text x="373.4" y="469.4" font-size="7.8" text-anchor="end" textLength="18.4" lengthAdjust="spacingAndGlyphs">N = 6</text>
<text x="432" y="465.6" font-size="7.6" text-anchor="middle" textLength="43.2" lengthAdjust="spacingAndGlyphs">SHP099 [µM]</text>
<text x="384.6" y="475.2" font-size="7.4" text-anchor="middle" textLength="11.6" lengthAdjust="spacingAndGlyphs">0.04</text>
<text x="403" y="475.2" font-size="7.4" text-anchor="middle" textLength="15.2" lengthAdjust="spacingAndGlyphs">0.123</text>
<text x="421.4" y="475.2" font-size="7.4" text-anchor="middle" textLength="11.8" lengthAdjust="spacingAndGlyphs">0.37</text>
<text x="439.9" y="475.2" font-size="7.4" text-anchor="middle" textLength="14.6" lengthAdjust="spacingAndGlyphs">1.111</text>
<text x="458.3" y="475.2" font-size="7.4" text-anchor="middle" textLength="15" lengthAdjust="spacingAndGlyphs">3.333</text>
<text x="476.7" y="475.2" font-size="7.4" text-anchor="middle" textLength="7.2" lengthAdjust="spacingAndGlyphs">10</text>
<text x="373.7" y="486.8" font-size="7.6" text-anchor="end" textLength="8" lengthAdjust="spacingAndGlyphs">0.4</text>
<text x="373.7" y="502.5" font-size="7.6" text-anchor="end" textLength="8" lengthAdjust="spacingAndGlyphs">1.2</text>
<text x="373.7" y="518.1" font-size="7.6" text-anchor="end" textLength="8" lengthAdjust="spacingAndGlyphs">3.7</text>
<text x="373.7" y="533.8" font-size="7.6" text-anchor="end" textLength="5.4" lengthAdjust="spacingAndGlyphs">11</text>
<text x="373.7" y="549.4" font-size="7.6" text-anchor="end" textLength="6.6" lengthAdjust="spacingAndGlyphs">33</text>
<text x="373.7" y="565.1" font-size="7.6" text-anchor="end" textLength="9.7" lengthAdjust="spacingAndGlyphs">100</text>
<text x="360.4" y="524.8" font-size="8.7" text-anchor="middle" textLength="50.5" lengthAdjust="spacingAndGlyphs" transform="rotate(-90 360.4 524.8)">Crizotinib [nM]</text>
<rect x="497" y="476.6" width="8" height="94.9" fill="url(#cm)"/>
<text x="512.2" y="499.4" font-size="7.6" text-anchor="middle" textLength="26.6" lengthAdjust="spacingAndGlyphs" transform="rotate(-90 512.2 499.4)">Synergy</text>
<text x="512.2" y="542.6" font-size="7.6" text-anchor="middle" textLength="40.5" lengthAdjust="spacingAndGlyphs" transform="rotate(-90 512.2 542.6)">Antagonism</text>
<text x="7" y="14" font-size="11.6" font-weight="bold" fill="#111" textLength="8.3" lengthAdjust="spacingAndGlyphs">D</text>
<text x="6.8" y="311.6" font-size="11.6" font-weight="bold" fill="#111" textLength="6.6" lengthAdjust="spacingAndGlyphs">E</text>
<text x="260" y="12.7" font-size="9.9" text-anchor="middle" textLength="10.6" lengthAdjust="spacingAndGlyphs" fill="#1a1a1a" stroke="#1a1a1a" stroke-width="0.35">TS</text>
<text x="260" y="310" font-size="9.9" text-anchor="middle" textLength="16.4" lengthAdjust="spacingAndGlyphs" fill="#1a1a1a" stroke="#1a1a1a" stroke-width="0.35">JB6</text>
<text x="86.4" y="27.8" font-size="10.4" text-anchor="middle" textLength="14.6" lengthAdjust="spacingAndGlyphs" fill="#1a1a1a" stroke="#1a1a1a" stroke-width="0.35">WT</text>
<text x="86.4" y="326.6" font-size="10.4" text-anchor="middle" textLength="14.6" lengthAdjust="spacingAndGlyphs" fill="#1a1a1a" stroke="#1a1a1a" stroke-width="0.35">WT</text>
<text x="258.9" y="27.8" font-size="10.4" text-anchor="middle" textLength="47.4" lengthAdjust="spacingAndGlyphs" fill="#1a1a1a" stroke="#1a1a1a" stroke-width="0.35">PTPN1 KO</text>
<text x="258.9" y="326.6" font-size="10.4" text-anchor="middle" textLength="47.4" lengthAdjust="spacingAndGlyphs" fill="#1a1a1a" stroke="#1a1a1a" stroke-width="0.35">PTPN1 KO</text>
<text x="429" y="27.8" font-size="10.4" text-anchor="middle" textLength="47" lengthAdjust="spacingAndGlyphs" fill="#1a1a1a" stroke="#1a1a1a" stroke-width="0.35">PTPN2 KO</text>
<text x="429" y="326.6" font-size="10.4" text-anchor="middle" textLength="47" lengthAdjust="spacingAndGlyphs" fill="#1a1a1a" stroke="#1a1a1a" stroke-width="0.35">PTPN2 KO</text>
<rect x="0.5" y="0.5" width="519" height="578" fill="none" stroke="#111" stroke-width="1.2"/>
</svg></body></html>
